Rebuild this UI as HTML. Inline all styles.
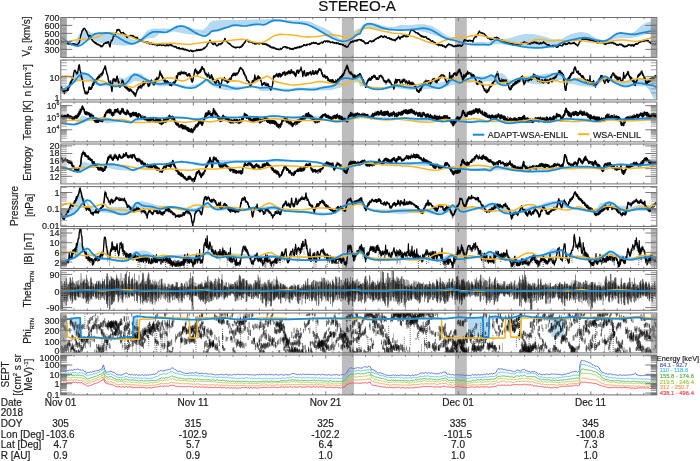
<!DOCTYPE html><html><head><meta charset="utf-8"><style>html,body{margin:0;padding:0;background:#fff;width:700px;height:461px;overflow:hidden}svg{display:block;will-change:transform}text{font-family:"Liberation Sans",sans-serif;stroke-width:0.18px}</style></head><body>
<svg width="700" height="461" viewBox="0 0 700 461">
<text x="357.1" y="11.4" font-size="15.2" text-anchor="middle" fill="#111" stroke="#111">STEREO-A</text>
<g clip-path="url(#c0)"><polygon points="60.0,36.4 67.1,40.7 74.3,43.6 78.6,35.0 82.9,29.3 87.1,30.0 91.4,32.9 97.1,33.1 102.9,33.1 110.0,32.9 117.1,33.6 124.3,35.0 131.4,39.3 137.1,40.0 141.4,37.9 145.7,32.1 150.0,29.3 154.3,28.6 160.0,28.6 167.1,28.6 170.7,29.3 174.3,27.1 177.9,25.7 181.4,25.3 188.6,27.1 195.7,29.3 202.9,30.0 207.1,26.4 210.0,22.1 214.3,20.4 224.3,20.0 231.4,20.0 238.6,20.0 245.7,20.0 254.3,19.6 260.0,19.3 267.1,19.3 274.3,19.3 288.6,20.0 302.9,20.7 310.0,21.4 317.1,25.0 324.3,27.9 331.4,32.1 338.6,37.9 342.1,39.3 345.7,38.6 352.9,32.1 357.1,29.3 360.0,28.6 362.9,24.3 367.1,22.9 374.3,23.3 381.4,25.3 388.6,27.1 395.7,26.4 399.3,25.0 402.9,25.0 410.0,25.3 417.1,24.3 424.3,24.3 431.4,25.7 438.6,30.0 445.7,35.0 452.9,37.9 458.6,39.3 460.0,41.4 467.1,42.9 474.3,42.1 481.4,42.1 488.6,42.1 495.7,39.3 502.9,39.3 510.0,37.9 517.1,35.7 524.3,34.0 531.4,34.0 538.6,35.0 545.7,37.1 552.9,39.3 558.6,40.0 560.0,40.7 563.6,37.9 567.1,35.7 570.7,34.3 574.3,33.3 577.9,32.6 581.4,32.1 585.0,32.4 588.6,33.6 592.1,35.7 595.7,37.9 599.3,39.0 602.9,40.0 606.4,39.3 610.0,37.9 613.6,35.0 617.1,32.9 624.3,33.3 631.4,32.9 635.0,31.4 638.6,27.9 642.1,25.0 645.7,22.9 649.3,21.4 652.9,22.9 657.1,23.6 657.1,32.1 652.9,32.9 645.7,34.3 638.6,36.4 631.4,37.9 624.3,37.9 617.1,38.6 610.0,40.7 602.9,41.9 595.7,41.0 588.6,40.0 581.4,39.3 574.3,40.7 567.1,42.1 560.0,45.0 558.6,45.7 552.9,47.1 545.7,48.1 538.6,48.6 531.4,48.1 524.3,47.1 517.1,46.1 510.0,45.0 502.9,44.3 495.7,44.3 488.6,45.3 481.4,45.3 474.3,45.3 467.1,45.0 460.0,43.6 458.6,42.1 452.9,41.0 445.7,39.3 438.6,36.4 431.4,34.3 424.3,32.1 417.1,30.7 410.0,30.7 402.9,30.7 395.7,30.7 388.6,30.3 381.4,29.7 374.3,29.3 367.1,28.6 362.9,30.0 360.0,32.9 358.6,34.3 352.9,37.9 345.7,41.4 342.1,41.7 338.6,40.7 331.4,37.9 324.3,34.0 317.1,29.7 310.0,26.1 302.9,23.9 295.7,23.1 288.6,22.4 281.4,21.4 274.3,21.4 267.1,24.3 260.0,25.0 257.1,25.0 252.9,25.7 245.7,26.4 238.6,26.4 231.4,27.1 224.3,29.3 217.1,32.1 211.4,32.1 208.6,34.3 205.7,36.4 202.9,35.7 195.7,35.0 188.6,34.3 181.4,32.9 174.3,31.4 167.1,32.9 160.0,33.6 154.3,37.9 150.0,37.9 145.7,39.3 141.4,41.4 137.1,43.6 131.4,45.0 124.3,45.7 117.1,45.0 110.0,44.3 102.9,43.6 97.1,42.1 92.9,40.0 88.6,39.3 82.9,42.1 78.6,45.7 74.3,45.7 67.1,42.1 60.0,37.1" fill="#b4d9f1"/></g>
<g clip-path="url(#c1)"><polygon points="60.0,88.7 67.1,86.6 74.3,73.7 80.0,71.6 85.0,72.3 90.0,74.4 94.3,78.7 98.6,82.3 102.9,82.6 110.0,83.4 115.7,78.7 120.0,77.3 124.3,78.7 130.0,74.9 134.3,73.0 141.4,73.7 145.7,78.0 151.4,80.9 158.6,81.6 160.0,81.6 167.1,81.6 174.3,83.7 181.4,85.1 188.6,85.9 195.7,84.4 202.9,81.6 205.7,79.4 210.0,81.6 217.1,82.3 224.3,83.7 231.4,85.9 238.6,86.6 245.7,85.9 252.9,85.9 258.6,86.6 260.0,86.6 267.1,86.6 274.3,88.0 288.6,88.7 300.0,87.3 302.9,88.0 317.1,87.3 324.3,85.9 331.4,85.1 338.6,82.3 344.3,79.4 352.9,78.0 358.6,76.6 360.0,78.0 364.3,82.3 368.6,85.9 374.3,87.3 381.4,87.3 388.6,85.9 395.7,84.4 402.9,85.1 410.0,85.9 417.1,85.9 424.3,83.0 431.4,82.3 438.6,83.0 445.7,80.9 451.4,78.7 458.6,80.9 460.0,81.6 467.1,78.0 474.3,76.6 481.4,76.6 488.6,75.9 494.3,76.6 498.6,73.7 501.4,73.0 504.3,74.4 508.6,79.4 512.9,80.1 517.1,79.4 524.3,78.0 531.4,75.1 538.6,75.1 545.7,73.7 552.9,73.0 558.6,73.7 560.0,73.7 564.3,78.0 568.6,80.9 574.3,78.0 581.4,79.4 588.6,80.9 595.7,81.6 599.3,76.6 602.9,75.1 607.1,75.9 610.0,78.0 617.1,80.1 624.3,80.9 631.4,79.4 638.6,78.0 645.7,78.0 651.4,78.0 657.1,79.4 657.1,98.7 653.6,98.7 650.0,90.9 645.7,86.6 638.6,85.9 631.4,85.9 624.3,86.6 617.1,84.4 610.0,81.6 607.1,79.4 602.9,80.9 599.3,83.7 595.7,87.3 588.6,86.6 581.4,85.9 574.3,84.4 568.6,83.7 564.3,82.3 560.0,79.4 558.6,80.9 552.9,82.3 545.7,83.7 538.6,84.4 531.4,83.7 524.3,81.6 517.1,83.0 512.9,83.7 508.6,85.1 502.9,84.4 497.1,83.0 494.3,82.3 488.6,80.9 481.4,82.3 474.3,82.3 467.1,83.0 460.0,83.7 458.6,84.4 451.4,85.1 445.7,87.3 438.6,88.7 431.4,88.7 424.3,89.4 417.1,89.4 410.0,90.1 402.9,89.1 395.7,88.0 388.6,88.7 381.4,89.7 374.3,89.7 368.6,88.0 364.3,85.9 360.0,86.6 358.6,82.3 352.9,83.0 344.3,86.6 338.6,88.0 331.4,90.1 324.3,90.6 317.1,90.6 302.9,90.6 288.6,91.1 274.3,90.6 267.1,91.1 260.0,91.1 258.6,88.3 252.9,87.3 245.7,88.0 238.6,89.7 231.4,90.6 224.3,90.1 217.1,88.0 210.0,84.4 207.1,81.6 202.9,83.7 195.7,87.3 188.6,88.0 181.4,87.3 174.3,85.9 167.1,85.9 160.0,86.6 158.6,85.9 151.4,83.7 145.7,82.6 141.4,81.6 134.3,80.9 130.0,83.7 124.3,86.6 117.1,87.3 110.0,86.6 102.9,85.9 98.6,85.9 94.3,84.4 90.0,80.9 85.0,79.4 80.0,80.9 74.3,83.0 67.1,88.7 60.0,91.6" fill="#b4d9f1"/></g>
<g clip-path="url(#c2)"><polygon points="60.0,122.6 74.3,123.6 78.6,120.0 81.4,115.7 84.3,115.7 88.6,117.9 95.7,117.9 102.9,118.6 107.1,117.9 112.9,119.3 120.0,120.4 131.4,121.4 135.7,118.6 145.7,117.9 158.6,117.4 160.0,117.4 188.6,117.4 195.7,117.9 202.9,116.9 210.0,116.4 258.6,116.0 360.0,116.0 402.9,117.9 417.1,118.3 431.4,118.6 445.7,120.0 458.6,119.7 460.0,120.7 488.6,120.0 495.7,118.3 502.9,120.0 517.1,118.6 524.3,118.9 531.4,119.3 558.6,118.6 560.0,118.6 574.3,117.9 588.6,118.6 602.9,118.3 617.1,117.9 631.4,117.4 645.7,116.9 657.1,117.1 657.1,119.7 645.7,119.7 631.4,120.0 617.1,120.0 602.9,120.7 588.6,121.4 574.3,120.3 560.0,120.7 558.6,120.3 531.4,122.1 517.1,123.6 502.9,123.1 495.7,120.7 488.6,122.1 460.0,122.1 458.6,121.0 445.7,121.7 431.4,121.1 417.1,121.7 402.9,118.6 360.0,117.4 258.6,117.4 210.0,118.0 202.9,119.4 195.7,120.3 188.6,119.1 160.0,119.1 158.6,119.3 145.7,120.0 135.7,121.4 131.4,123.1 120.0,122.1 112.9,122.6 107.1,123.6 102.9,122.1 95.7,120.7 88.6,121.1 82.9,122.9 78.6,124.3 74.3,125.0 60.0,123.6" fill="#b4d9f1"/></g>
<g clip-path="url(#c3)"><polygon points="60.0,166.3 74.3,170.6 78.6,167.0 81.4,162.7 85.0,162.0 90.0,163.4 94.3,164.9 100.0,164.6 105.7,164.9 110.0,164.1 117.1,164.9 124.3,166.6 131.4,169.1 138.6,167.7 158.6,164.1 160.0,163.4 174.3,162.0 181.4,161.3 195.7,162.0 202.9,163.4 210.0,160.6 217.1,159.9 231.4,160.3 245.7,160.3 258.6,159.9 260.0,159.9 302.9,160.3 317.1,161.3 324.3,162.7 338.6,167.4 358.6,164.1 360.0,164.1 395.7,162.9 410.0,162.6 424.3,162.3 438.6,164.9 458.6,168.4 460.0,168.0 488.6,167.7 497.1,165.6 510.0,167.0 524.3,164.9 534.3,165.6 545.7,167.7 558.6,167.7 560.0,167.4 602.9,167.1 617.1,163.4 638.6,164.1 645.7,160.6 657.1,160.6 657.1,165.1 645.7,166.0 638.6,166.3 617.1,165.6 602.9,169.1 560.0,169.4 558.6,169.9 545.7,172.0 534.3,172.3 524.3,172.7 510.0,170.6 497.1,169.9 488.6,171.3 460.0,170.3 458.6,169.1 438.6,166.0 424.3,166.0 410.0,165.1 395.7,164.3 360.0,165.1 358.6,165.6 338.6,169.1 324.3,164.9 317.1,163.1 302.9,161.7 260.0,162.0 258.6,162.0 245.7,162.4 231.4,162.7 217.1,164.1 210.0,164.1 202.9,165.6 195.7,164.9 181.4,162.7 174.3,163.4 160.0,164.9 158.6,164.9 138.6,168.9 131.4,170.6 124.3,170.6 117.1,169.9 110.0,168.4 105.7,167.7 100.0,165.6 94.3,167.7 90.0,167.7 85.0,169.1 78.6,172.0 74.3,172.0 60.0,167.1" fill="#b4d9f1"/></g>
<g clip-path="url(#c4)"><polygon points="60.0,211.1 67.1,214.0 74.3,200.4 78.6,194.7 81.4,194.0 85.7,199.7 90.0,205.4 95.7,209.7 102.9,208.3 110.0,206.9 117.1,206.9 124.3,206.9 131.4,205.4 135.7,202.6 141.4,201.1 145.7,201.9 152.9,204.0 158.6,205.4 160.0,205.4 167.1,206.1 174.3,206.9 181.4,207.6 188.6,207.6 195.7,208.3 202.9,204.0 207.9,201.9 211.4,205.4 217.1,207.6 224.3,206.9 231.4,207.1 238.6,208.3 245.7,208.3 252.9,207.1 258.6,207.6 260.0,206.9 274.3,205.4 281.4,209.4 295.7,210.4 310.0,211.1 324.3,212.6 331.4,211.9 338.6,208.3 345.7,203.3 352.9,201.1 358.6,201.1 360.0,201.1 367.1,206.9 374.3,209.0 388.6,209.4 402.9,208.3 417.1,209.0 424.3,208.6 431.4,208.3 438.6,210.4 445.7,208.3 452.6,204.0 458.6,205.4 460.0,209.0 474.3,207.6 488.6,204.0 495.7,202.6 502.9,206.9 510.0,209.0 517.1,210.4 524.3,208.3 531.4,206.1 538.6,205.4 545.7,202.6 552.9,201.1 558.6,200.4 560.0,199.7 567.1,204.7 574.3,207.6 588.6,209.4 595.7,210.4 600.0,203.3 602.9,202.6 609.3,201.1 617.1,205.4 624.3,206.1 631.4,207.6 638.6,204.7 645.7,204.7 652.9,206.9 657.1,209.0 657.1,211.9 652.9,210.4 645.7,211.1 638.6,211.1 631.4,211.1 624.3,211.9 617.1,209.7 609.3,205.4 602.9,208.3 600.0,211.1 595.7,212.6 588.6,211.9 574.3,209.7 567.1,208.3 560.0,207.6 558.6,204.0 552.9,206.9 545.7,208.3 538.6,209.7 531.4,210.4 524.3,212.6 517.1,214.0 510.0,214.7 502.9,212.6 495.7,207.6 488.6,207.6 474.3,210.4 460.0,212.6 458.6,212.6 452.6,212.6 445.7,213.3 438.6,215.1 431.4,214.0 424.3,211.9 417.1,212.6 402.9,214.0 388.6,213.3 374.3,211.9 367.1,209.7 360.0,204.0 358.6,204.7 352.9,205.4 345.7,206.9 338.6,212.6 331.4,214.7 324.3,215.1 310.0,213.7 295.7,212.6 281.4,211.4 274.3,209.7 260.0,210.4 258.6,210.4 252.9,209.7 245.7,211.1 238.6,211.1 231.4,210.0 224.3,210.4 217.1,211.1 211.4,209.0 207.9,205.4 202.9,209.0 195.7,211.9 188.6,211.4 181.4,210.0 174.3,209.0 167.1,209.0 160.0,210.4 158.6,210.4 152.9,209.7 145.7,209.7 141.4,209.7 135.7,209.0 131.4,212.6 124.3,214.7 117.1,214.7 110.0,213.3 102.9,212.6 95.7,211.9 90.0,209.7 85.7,203.3 81.4,206.9 74.3,214.7 67.1,218.3 60.0,214.7" fill="#b4d9f1"/></g>
<g clip-path="url(#c5)"><polygon points="60.0,260.3 67.1,259.6 74.3,248.9 78.6,241.7 81.4,243.1 85.7,248.9 88.6,251.7 94.3,255.3 102.9,257.7 117.1,259.6 128.6,255.3 132.9,251.7 135.7,251.0 140.0,251.0 142.9,250.3 147.1,251.0 152.9,253.9 158.6,256.7 160.0,255.3 202.9,253.9 207.1,251.0 211.4,251.7 258.6,255.3 260.0,256.0 274.3,255.3 302.9,258.9 331.4,258.1 338.6,255.3 345.7,251.7 358.6,251.7 360.0,249.6 367.1,256.0 374.3,257.7 402.9,257.4 424.3,256.7 438.6,258.1 451.4,253.9 458.6,257.4 460.0,258.1 481.4,256.0 488.6,251.0 495.7,253.9 502.9,258.1 510.0,258.9 517.1,258.9 524.3,258.1 531.4,255.3 538.6,255.3 545.7,253.1 552.9,248.1 558.6,250.3 560.0,248.9 574.3,255.3 595.7,257.4 602.9,253.9 609.3,250.3 617.1,253.9 631.4,257.4 645.7,255.3 657.1,256.0 657.1,259.6 645.7,258.9 631.4,261.0 617.1,257.4 609.3,253.9 602.9,258.1 595.7,261.0 574.3,258.1 560.0,251.7 558.6,253.1 552.9,255.3 545.7,257.4 538.6,258.1 531.4,259.6 524.3,261.4 517.1,261.7 510.0,261.0 502.9,260.3 495.7,256.7 488.6,256.7 481.4,258.1 460.0,260.3 458.6,260.3 451.4,258.1 438.6,261.7 424.3,259.6 402.9,260.3 374.3,261.0 367.1,258.9 360.0,252.4 358.6,255.3 345.7,255.3 338.6,258.1 331.4,260.3 302.9,261.0 274.3,258.1 260.0,258.9 258.6,258.1 211.4,256.7 207.1,254.6 202.9,256.7 160.0,258.9 158.6,258.9 152.9,257.4 147.1,256.7 140.0,256.7 135.7,256.0 132.9,257.4 128.6,260.3 117.1,261.4 102.9,259.6 94.3,258.1 88.6,254.6 85.7,253.1 81.4,253.1 78.6,256.7 74.3,258.9 67.1,261.4 60.0,261.7" fill="#b4d9f1"/></g>
<g clip-path="url(#c6)"></g>
<g clip-path="url(#c7)"><polygon points="69.3,319.3 80.0,318.0 80.7,337.0 75.7,337.0" fill="#b4d9f1"/><polygon points="133.0,317.0 138.6,317.0 138.6,338.6 133.0,337.0" fill="#b4d9f1"/><polygon points="467.9,318.6 489.0,318.0 489.0,337.0 483.0,337.0 482.9,336.4 467.9,336.4" fill="#b4d9f1"/><polygon points="551.4,318.6 564.3,318.6 564.3,337.0 551.4,337.0" fill="#b4d9f1"/><polygon points="489.0,316.4 507.0,316.4 507.0,319.5 489.0,319.5" fill="#b4d9f1"/></g>
<g clip-path="url(#c8)"></g>
<rect x="341.9" y="17.5" width="12.0" height="377.4" fill="#bdbdbf"/>
<rect x="455.0" y="17.5" width="11.8" height="377.4" fill="#bdbdbf"/>
<g clip-path="url(#c0)"><path d="M60 41.5l.4-.6.4-.4.4 1.7.4.3.4-.5.4.3.4-.8.4 1.2.4-.8.4-.2.4 1.3.4-.6.4.5.4.1.4-.6.4.1.4 0 .4 0 .4.8.4.9.4-1.4.4.9.4 0 .4.3.4-.7.4.9.4-.4.4.5.4.2.4-.4.4-.4.4-.3.4 1 .4-.9.4.5.4-.4.4 1.2.4-.6.4.3.4.6.4-.1.4-.5.4.8.4-1.2.4 0 .4-1.2.4.7.4-.9.4-1.1.4-2.9.4-1.3.4-2.1.4-1.2.4-.7.4-2.6.4-.9.4.8.4-1.8.4.6.4-1.4.4.4.4.1.4.5.4 1.3.4.1.4 1.3.4.3.4 1.4.4 1.1.4.3.4 1.5.4.4.4-1 .4-.5.4-.1.4 1.6.4.6.4 1.2.4 1.1.4.1.4 1 .4.1.4.4.4-.1.4 1 .4.5.4-.8.4 1.5.4-.8.4.1.4 1.4.4.1.4.4.4-.3.4-.4.4.8.4-.3.4.6.4-.2.4 1 .4-.5.4 1.5.4-.3.4-.6.4 1 .4-1.5.4.4.4-1 .4-.1.4-1.1.4-.3.4.1.4-.1.4-1 .4.5.4-.5.4 1 .4-.5.4-.1.4-1.2.4.2.4.6.4 2.8.4.9.4 1.1.4-2.3.4-2.7.4-1 .4-.9.4.2.4-.4.4-1.1.4-2.2.4-.6.4-.9.4.7.4-.5.4-.4.4-1.8.4-.7.4-.4.4-.7.4-1.9.4.8.4-.9.4.6.4.3.4-.3.4 1 .4-.4.4 1.2.4 1.1.4.8.4-1 .4-.1.4-.1.4.3.4-.5.4.3.4 1.1.4.2.4 1 .4 0 .4-.7.4 2 .4.1.4 1.3.4-.3.4-.2.4-.8.4.1.4-.2.4.2.4-.5.4-.3.4.1.4-.3.4.1.4.4.4-.7.4.5.4.7.4-.6.4.6.4.1.4.5.4.3.4.3.4-.5.4.5.4.7.4-1.1.4.1.4 1.7.4-.1.4 1 .4-.1.4.6.4-.9.4.8.4-.4.4 1.2.4-.8.4 0 .4 1.2.4-.7.4.7.4.2.4-.3.4 0 .4.1.4 0 .4.9.4-.1.4 0 .4.5.4-.8.4-.1.4 0 .4.1.4 1.6.4.1.4-.4.4.6.4-.7.4 0 .4.2.4-.6.4 1.2.4-.6.4.7.4.5.4-1 .4.5.4.4.4.3.4-.1.4-.5.4.5.4-.5.4.6.4.8.4.1.4-1.3.4.6.4.1.4-.8.4 1.2.4-1.2.4-.1.4.6.4.1.4.4.4.2.4-.7.4.6.4-.1.4 0 .4.1.4-.2.4-.1.4.9.4-.3.4-.1.4.3.4-.4.4-.9.4.2.4.9.4-.7.4.9.4-.4.4-.6.4.2.4-.8.4.6.4-.5.4.4.4 1.2.4-1.1.4.9.4.1.4.3.4.4.4.3.4-.6.4.2.4-.1.4.9.4-.5.4.1.4 1.4.4-.4.4.3.4-.3.4-.4.4 1.3.4-.3.4-.9.4 1.5.4-.6.4.2.4-.2.4.1.4.7.4-.8.4-.3.4.6.4 1.1.4-1.2.4.8.4.5.4-.4.4.2.4 0 .4-.3.4.2.4 1 .4-.2.4-.1.4-.2.4.9.4 0 .4.3.4-.6.4-.2.4-.3.4.2.4 1 .4-1.1.4 1.3.4-.6.4.4.4-.6.4.3.4-.4.4.3.4-.5.4.2.4.1.4-.8.4-.5.4.9.4.2.4-.1.4-1.2.4 1 .4-.5.4.1.4-.7.4.9.4-.8.4.7.4-.7.4.7.4-.6.4-.7.4 0 .4-.7.4.1.4.5.4-.3.4-1.2.4-.1.4-.3.4-.6.4.1.4-2 .4-.5.4.1.4-1 .4-.6.4-.1.4-1.4.4-.8.4 2.1.4-.5.4.3.4.4.4 1.4.4 0 .4.3.4.7.4-.5.4-.7.4.1.4-.8.4 1.7.4-1.1.4 1.3.4.9.4.4.4 0 .4-.1.4-.9.4-1.1.4 1.1.4-1.2.4.4.4 0 .4-.1.4-.5.4-.3.4.7.4-1.2.4.1.4-.7.4-1 .4-.5.4.5.4-.8.4-2 .4.1.4 2 .4.6.4-.3.4.9.4.4.4.3.4.5.4.6.4.2.4.3.4-.7.4.6.4.9.4.4.4 0 .4.7.4.6.4-.1.4.5.4-.6.4.9.4-.3.4.6.4 0 .4-.4.4.9.4.1.4-.5.4-.6.4.4.4-.3.4-.1.4.3.4.2.4.3.4-.5.4-.7.4.9.4-.1.4-.3.4-.9.4.3.4-1.6.4.6.4-1.3.4-.4.4-.9.4.5.4-.7.4-.6.4-1.1.4-1 .4.2.4-.5.4.5.4-.3.4.5.4 1.2.4.1.4.2.4-.1.4-.1.4-.1.4.2.4.6.4-.7.4.7.4.2.4.5.4-.9.4.8.4.1.4.9.4-.4.4-.2.4.4.4.1.4 0 .4-.3.4-.3.4.4.4-1 .4 1.1.4-1 .4 1.3.4-.7.4.3.4-.5.4-.3.4.4.4-.5.4.5.4.8.4-.4.4.6.4-.2.4.2.4.1.4-.8.4-.1.4.6.4-.3.4 1.1.4-.8.4.9.4.7.4.1.4-.9.4.2.4 1.6.4-1.2.4 1.3.4.4.4-.8.4.8.4.1.4.7.4-.9.4.5.4-.2.4.4.4.6.4-.2.4-.7.4.5.4.7.4.6.4-.5.4.6.4-.2.4 0 .4 0 .4 0 .4.6.4-.8.4.1.4-.1.4-.3.4-.5.4 1.1.4-.3.4-.4.4-.5.4-.7.4.1.4-.2.4-.1.4-.6.4.2.4-.3.4 0 .4 1.4.4-.8.4.5.4.7.4-1.1.4.7.4-.1.4.1.4.4.4.4.4.6.4-.4.4-.5.4.7.4-.1.4-.5.4 1 .4-1.2.4 1.3.4-.9.4.1.4-1 .4-.1.4.8.4-1 .4.8.4-.1.4-1 .4.5.4-.6.4.8.4-.3.4 0 .4-.9.4 1 .4-1.5.4.8.4-.5.4.3.4.2.4-1.3.4.8.4 0 .4-.5.4-1.4.4-.1.4 1 .4-.4.4-.3.4.5.4.2.4-.3.4-1 .4.7.4-.5.4.1.4-.1.4 0 .4.4.4-1.2.4.1.4.2.4.4.4-1.3.4.1.4-.4.4.6.4-.3.4-.2.4-.6.4 1.1.4 0 .4-.2.4.3.4-.7.4 0 .4.6.4.3.4.1.4.4.4-.6.4.6.4.1.4-.8.4.4.4-.3.4 0 .4-.6.4-.3.4-.4.4-.2.4 1.2.4-.8.4.4.4-1.4.4-.1.4-.2.4-.2.4.7.4.6.4-.8.4-.4.4.2.4-.5.4.6.4.7.4-.1.4-1 .4.1.4 1 .4-.6.4 1 .4.3.4-.5.4.1.4.2.4-.7.4 1 .4.1.4-.7.4.9.4-.7.4.3.4.8.4-.5.4-.3.4-.2.4 1.3.4-.9.4.3.4 0 .4.2.4.1.4.9.4-.3.4-.6.4 1.2.4-.4.4-.1.4-.1.4.4.4.8.4-1 .4.4.4.3.4.9.4 0 .4.2.4-.8.4.7.4 1.1.4-.5.4.4.4-.4.4.2.4-.1.4-1.2.4-.5.4-1 .4-.2.4-.6.4-.6.4-1 .4.3.4.4.4-.7.4-.6.4.4.4-.1.4.2.4.2.4-1.4.4.3.4-.2.4-.2.4 1.1.4-.6.4-.8.4 1.2.4-.3.4-.9.4-.2.4.3.4-.4.4-.2.4.6.4-.4.4.5.4.6.4-1.2.4 1.6.4.3.4.1.4-.8.4.3.4.3.4.9.4 1 .4.5.4-1 .4 1.2.4-1 .4 0 .4-.2.4.9.4-1 .4.7.4-1.4.4-.2.4-.4.4-.2.4-.2.4.1.4.6.4-.4.4.7.4-.8.4.3.4-1 .4.9.4-.7.4-1 .4.4.4-1.1.4.2.4.1.4-.1.4-.4.4-.8.4-.2.4.7.4-.2.4-.5.4-1 .4.1.4.6.4-1.4.4.9.4-.7.4.2.4-.4.4.5.4.9.4-.3.4.2.4-1.2.4-.2.4.4.4.6.4-.2.4.5.4-.8.4 1.5.4-.1.4.2.4.5.4 0 .4-1 .4.4.4.6.4.8.4-.9.4.2.4 1 .4-.9.4 1.3.4-.6.4.8.4-.4.4.3.4.3.4-.8.4.7.4.6.4-.6.4-1.2.4.5.4-.3.4-1.6.4.8.4-1.2.4-.4.4-.2.4.3.4 1.3.4 1.1.4-1.1.4-1.2.4.4.4-.7.4.5.4-1 .4.7.4-.3.4-1.5.4.8.4-.6.4 0 .4.7.4.6.4-.1.4-1.1.4 1.1.4.2.4-.9.4.6.4-.1.4-1.7.4-.3.4-.4.4-1.9.4-.6.4-1 .4.2.4-.5.4-.4.4 0 .4.7.4-.4.4-.1.4.9.4.2.4.7.4-.1.4 1.1.4-.2.4-.1.4 0 .4.4.4.9.4-.4.4-.2.4 1.3.4-.2.4.3.4 1 .4-.6.4.5.4.3.4 1 .4-1.2.4 1.4.4 0 .4-.8.4 1 .4.2.4 0 .4-.6.4.3.4-.4.4 0 .4 1.1.4.7.4-.3.4.1.4.6.4-.4.4 1 .4-.3.4.1.4.1.4 1.3.4.1.4.1.4.4.4.1.4 0 .4-.7.4 1.1.4.4.4.3.4.2.4.2.4-.1.4.3.4.7.4.6.4-.7.4 1 .4-.4.4.2.4.1.4 1.2.4-1.2.4.5.4-.2.4.4.4.4.4-.9.4.6.4-.6.4 1.6.4-1.4.4.4.4.6.4.2.4-.3.4 1.1.4-.3.4 1.1.4-1.3.4-.7.4 1 .4-1.9.4.4.4-.8.4.6.4-1.3.4.3.4.7.4-.1.4-.2.4-.1.4.5.4.2.4.9.4-.7.4-.2.4 1.4.4.1.4 0 .4-.9.4.7.4-.4.4-.3.4.9.4-.3.4 0 .4-1.1.4-.1.4 1.3.4-.4.4-1.1.4.5.4.4.4-.7.4 1 .4-.2.4.4.4 0 .4-1 .4.2.4-1 .4-1.3.4-1.7.4-.9.4-1.1.4 1.2.4-.7.4-.1.4.2.4.2.4.2.4.7.4-.3.4-.5.4 1.1.4-.7.4-.8.4.5.4.1.4-.3.4 1 .4-.6.4-.1.4 0 .4.1.4 1.5.4-1.1.4-1.6.4-1 .4-.9.4-.3.4-.7.4.1.4.2.4-1.2.4-.6.4.5.4-1.6.4.3.4-1.5.4-.9.4 0 .4-.8.4 1.4.4.4.4.1.4-.1.4-.2.4.7.4-.5.4 1 .4-.6.4 0 .4.4.4.6.4-.1.4 1 .4 1.2.4.1.4-.6.4 1.6.4-.3.4 0 .4 1.3.4-1 .4.6.4-.4.4 1.6.4-1.1.4.4.4 1.2.4.1.4-.3.4-.9.4.8.4-.8.4-.1.4.2.4-.6.4-.7.4.1.4.5.4.4.4-.8.4-.4.4-.2.4 1.3.4-.2.4-.6.4.4.4.6.4.6.4 0 .4.8.4-.4.4.7.4.1.4-.2.4 0 .4 0 .4.2.4.7.4.4.4.1.4-.6.4.8.4-.1.4.3.4 1 .4.3.4-.6.4.8.4-.6.4.3.4.4.4-.7.4-.1.4.7.4-.4.4 1.4.4-.6.4.2.4-.5.4-.1.4 1.2.4.3.4-.8.4-.4.4 1.4.4-.7.4 0 .4.8.4-.4.4-.6.4.2.4.5.4-.2.4-.3.4.3.4.2.4 0 .4-.1.4-1.3.4 1 .4.2.4.1.4-1.7.4 1 .4-.4.4-.4.4.1.4-1.4.4.6.4-.7.4 0 .4-.1.4 1.1.4-.1.4-.6.4.3.4.4.4.2.4-.5.4.9.4.4.4 0 .4-.6.4 0 .4.7.4-1 .4-.3.4.2.4-.7.4.6.4-.1.4 0 .4-.5.4.8.4-.6.4-.3.4-.1.4.6.4-.7.4 1 .4.4.4-.3.4-.8.4 1 .4.5.4 0 .4.2.4-.1.4-.7.4.5.4-.2.4-.8.4 1.1.4-.8.4.1.4.2.4-.8.4.5.4-1.3.4.4.4.9.4.4.4.2.4-.3.4.8.4.6.4-.1.4.1.4-.1.4.5.4-.5.4.2.4 1.1.4-.7.4 1 .4.1.4-.1.4.2.4-.1.4.3.4-1.2.4.4.4 1 .4-1.3.4.4.4.5.4-.4.4-.7.4.1.4 1.8.4-.3.4-.2.4.6.4-1.2.4.7.4 0 .4-1.1.4-.3.4-.1.4-.6.4.8.4.1.4.1.4.1.4-.2.4-.2.4-1.1.4.3.4-.2.4-1.3.4 1 .4-1 .4.7.4.9.4-1.2.4.4.4.4.4.1.4-.3.4-1 .4-.9.4.8.4.4.4-.8.4 1.2.4-.8.4.9.4-.1.4-.7.4.5.4-.2.4-.7.4.7.4-1.1.4 1.1.4-1.1.4 1.2.4.9.4-.9.4.3.4.7.4 0 .4 1 .4.7.4-.7.4-.9.4-.1.4-2 .4-.2.4-.8.4-.6.4.1.4-.2.4-1.3.4.3.4-.6.4-.6.4.5.4 0 .4-.3.4.7.4-.1.4-.7.4.5.4-.7.4 1.3.4-1 .4.2.4.4.4.2.4 0 .4-.4.4-.1.4.1.4 1.4.4 0 .4-1.1.4.6.4.7.4-.5.4.3.4.4.4-.6.4.1.4 1 .4.2.4-.3.4.7.4-.4.4.3.4.1.4-.4.4 1 .4-.4.4.9.4 0 .4-1.4.4.9.4-1 .4 1.2.4-.4.4.1.4-.6.4.6.4.2.4-.9.4.6.4 1.3.4-.6.4 0 .4.1.4.7.4-.6.4 1.2.4-.5.4-.2.4-.5.4-.3.4-.1.4.1.4.1.4-.3.4.1.4-.4.4.3.4-.3.4-.6.4 1.1.4 0 .4-.6.4-.6.4.1.4 1.8.4-.1.4 0 .4-.6.4.5.4-.3.4 1.2.4-.4.4 1 .4-.7.4 0 .4-.1.4.9.4-.1.4.3.4-1.2.4-.1.4.4.4-.1.4-.2.4.1.4.1.4 0 .4 1.5.4 0 .4-.7.4 1.5.4-.6.4.2.4-.1.4.5.4-.8.4 0 .4.7.4-.7.4.5.4-.4.4-.4.4-.9.4.6.4-.3.4-.2.4 0 .4.8.4.1.4-.8.4.9.4-1 .4.2.4-.2.4 1.1.4.3.4-1.5.4 1.1.4-1.2.4-.5.4 0 .4.5.4-1.3.4 1 .4-.6.4.4.4-.5.4 0 .4-.9.4-.5.4.3.4-.2.4-.2.4-.7.4.5.4-1.1.4.1.4.4.4-.2.4-.8.4.8.4.4.4-1.3.4.6.4-.7.4.4.4.2.4-.1.4-.1.4-.1.4.3.4.8.4-.9.4 1.2.4.3.4-.6.4 1.2.4-.4.4 1.2.4.1.4-.5.4.5.4-.1.4.3.4.1.4.2.4.4.4.3.4.2.4-.8.4-.9.4.4.4-.6.4.5" fill="none" stroke="#000" stroke-width="1.2" stroke-linejoin="round"/><path d="M60 40.7l.5-.8.5.4.5 2.1.5-.8.5-.3.5 1.9.5-1.3.5-.3.5-.1.5.2.5.5.5.2.5 1.8.5-1.8.5.4.5-.5.5 2.2.5 0 .5-1.6.5 1.5.5-.4.5 1 .5 0 .5.2.5-1.4.5-.4.5.4.5.6.5-.6.5.8.5.8.5-1.1.5 1.4.5-.5.5-.4.5-1.3.5-.4.5-1.4.5-.2.5-1.2.5-3.5.5-1.3.5-2.4.5-1.4.5-.9.5-1.3.5-.2.5-1 .5-.1.5 1.3.5-.4.5 1.1.5.6.5 1.1.5 2 .5.1.5 3.3.5-.2.5-.3.5-.9.5 2.1.5-.7.5 2.8.5-.9.5 0 .5 2.6.5-.9.5 2 .5.3.5.3.5.2.5-.2.5-.8.5 1.7.5-.6.5 1.9.5-1.1.5-.2.5 1.8.5-.9.5-.2.5 1.5.5-.8.5-.1.5.1.5-.1.5.3.5-3 .5 1.3.5-.3.5-1.6.5 1 .5.1.5-1.7.5 1.2.5-1.8.5.4.5 2 .5 1.2.5 2.2.5-3.3.5-2.5.5-1.4.5 1.6.5-2.6.5.2.5-3.3.5.4.5.5.5-1.5.5-1.4.5-1.8.5-.1.5-2.6.5 1.8.5-2.1.5.1.5.5.5-.3.5 2.6.5.5.5 1.1.5 1 .5-1.9.5.1.5.9.5-.3.5.8.5.2.5 1.1.5-1.3.5 1.3.5.9.5.5.5.9.5-1.4.5.8.5.2.5-1.1.5.8.5-2.1.5 1.3.5-.5.5.8.5-.5.5-.2.5-.1.5 1.3.5.4.5 0 .5 1.4.5 0 .5-1.3.5 1.1.5-1.3.5 1.8.5 1.1.5-.8.5-.1.5 1.1.5-.6.5 1.7.5.2.5 0 .5.4.5-.7.5.3.5 1.1.5-.1.5-1 .5 0 .5 1.6.5-1.7.5 1.6.5-1.2.5 1.3.5-1.4.5 1.8.5-.8.5 1.5.5-.7.5 1 .5-.7.5.3.5.3.5-1 .5.5.5-.4.5.8.5-1.1.5.9.5 1.5.5-.3.5.6.5-.2.5.2.5-1 .5-.5.5-.7.5.2.5 1.2.5.4.5.2.5.3.5-.7.5.3.5-1.5.5.9.5.7.5-.6.5-.5.5-.4.5.1.5 1.7.5-1.1.5.8.5-.4.5.3.5.5.5-1.4.5 1.3.5-2 .5 1.6.5.2.5-.8.5 1 .5.2.5.2.5 1.1.5-.5.5-1.2.5.4.5.3.5.3.5.5.5.7.5.7.5-1.6.5 1.2.5 1 .5-.9.5.6.5.4.5-1.8.5 1.3.5 1 .5-.6.5-.5.5 1.1.5.2.5-1.7.5.7.5 1.3.5-1.6.5 1.4.5.9.5-.2.5-.4.5.2.5-.2.5-1 .5 1.4.5-1.1.5 1.6.5.5.5-.1.5-.1.5-1.6.5.8.5-.1.5 0 .5-1.7.5 0 .5.4.5.1.5.4.5-.3.5-.7.5 2 .5-2.1.5.5.5.1.5-.5.5.1.5.1.5.2.5 0 .5-2.1.5-.1.5-.3.5.6.5-.3.5-.7.5-2.5.5.5.5-.2.5-1.7.5-1.1.5 1 .5-2.4.5.8.5.6.5 1.6.5-.9.5 1.7.5.9.5-2.3.5.9.5-.6.5 1.7.5.1.5.8.5.6.5-.3.5-1.2.5-.1.5-.4.5.4.5-.9.5 1.7.5-.4.5-.2.5-.9.5.1.5-1 .5-1.2.5-1.2.5.8.5-2.8.5 1.1.5.7.5.4.5.5.5 1.1.5-.2.5.1.5.6.5.1.5.9.5 1 .5-1.1.5 1.2.5.3.5.1.5 1 .5.1.5.9.5.6.5.2.5-1 .5.1.5.4.5-.2.5-.1.5-.2.5.8.5-1.1.5.7.5.4.5-1.5.5-.3.5-.5.5-.2.5 1.4.5-1 .5-2.1.5 1.8.5-2.1.5-1.8.5 1.1.5-2.7.5 1.4.5-1.2.5.9.5 0 .5-.1.5 1.5.5 0 .5-.6.5-1.1.5 1.7.5-1.1.5.1.5.6.5 1.3.5.3.5-.9.5 1 .5.5.5-.5.5.7.5-1.6.5 1.2.5-.7.5-.2.5.1.5 0 .5-1.1.5 1.9.5-.9.5-1 .5.4.5 1.5.5-1.4.5 1.6.5.2.5-1.2.5-.4.5 1.2.5.7.5-.4.5.9.5-.1.5-.4.5-.7.5 1 .5.5.5-.7.5.5.5 2 .5-1.6.5 1.8.5.3.5.5.5 0 .5-1.5.5-.1.5 1 .5 1.3.5-.9.5.2.5.3.5-.1.5.6.5.6.5-1.8.5 1.6.5.4.5-.3.5.7.5-1.7.5 1.1.5-1 .5.3.5-2 .5-.4.5-.5.5.7.5-.3.5-.6.5 2.1.5-.7.5-.7.5.1.5.4.5-.1.5.5.5 1 .5-1.3.5.7.5 0 .5 1.8.5-.4.5.6.5-.9.5-.4.5.7.5-.4.5-.4.5.5.5-1.5.5.7.5.3.5-1 .5.2.5-1.6.5 1.7.5-.6.5-.6.5 1.4.5-1 .5.1.5-.5.5-.1.5-.2.5-.1.5-.7.5-.3.5-.4.5 1 .5.2.5-.4.5-.9.5 1.4.5-2.2.5-.1.5.3.5 0 .5 1 .5-1.1.5 1 .5-.5.5-2.2.5.4.5.3.5-.4.5.4.5.1.5.2.5-1.3.5 1.9.5-2.1.5 1.8.5-.1.5.4.5 1.1.5-1.7.5 1.5.5-2.3.5 1.7.5-1 .5-.3.5-1.2.5 1 .5-.4.5.1.5-.2.5-.8.5-.6.5.5.5 0 .5-1.1.5 1.5.5-.7.5 1.2.5.3.5-2 .5.8.5 1 .5-.4.5 1 .5 0 .5-.9.5-.5.5.2.5.4.5.3.5.7.5-.6.5.3.5-.2.5-.1.5.3.5 1.3.5-.5.5-1.2.5 0 .5 2.2.5-.9.5.3.5-.4.5-.3.5.9.5.4.5 1.1.5-1.8.5.4.5 1.6.5.5.5-.8.5 1.1.5.5.5-1 .5.8.5 0 .5-.9.5-1.2.5-.5.5-1.1.5.5.5-1.4.5-1.1.5.7.5-.3.5.8.5-1.9.5 1.8.5-1.1.5-1.2.5.9.5-.1.5.1.5-.9.5.3.5-1.2.5.3.5.5.5-.7.5-.3.5.8.5-.9.5 1.8.5-1.2.5.8.5.1.5-.3.5 2.2.5.4.5-.9.5 1.7.5 0 .5 0 .5.4.5-.6.5-.4.5-1.1.5-.2.5-.3.5-.3.5-.1.5-.8.5 1.3.5.8.5-1.7.5.7.5 0 .5-1.2.5 1.2.5-.1.5-1.8.5 0 .5-1.2.5 0 .5.4.5.6.5-1.9.5-.5.5 1.5.5-1 .5 0 .5-1.1.5-.9.5.7.5-.2.5 1.7.5.3.5 0 .5-1.7.5 1.2.5-1.8.5 2 .5-1.2.5 1.1.5.2.5 1.3.5-1.4.5.9.5-.3.5-.8.5 2.4.5-1 .5-.4.5 1.4.5.5.5-.9.5-.4.5.1.5.8.5.6.5.4.5-1.6.5-.8.5.6.5.1.5-1.6.5.8.5-2.8.5 1.4.5.4.5.5.5.1.5-1.4.5 1.1.5-1.9.5.1.5.9.5.4.5-1.4.5-.8.5 1.9.5.2.5.2.5-2 .5.7.5.9.5 0 .5-2.2.5.8.5-1.3.5-1.7.5-1.2.5-1.4.5-.9.5 1.2.5.4.5.6.5.4.5.3.5 0 .5.8.5-.5.5.8.5 0 .5 0 .5-.5.5 0 .5 1.2.5-.1.5 1.2.5.3.5 1.5.5-1.7.5 2.3.5-.7.5-.4.5.6.5.2.5-.9.5 1.3.5 0 .5-1.2.5.6.5 2 .5.7.5-.1.5.3.5-.6.5.5.5.9.5-.6.5.2.5.7.5 1.3.5-.7.5-1.1.5 1.8.5.7.5-.6.5-.4.5 1.9.5-1.1.5 2.5.5-1.3.5.5.5 1.4.5.1.5 0 .5-1.2.5-.4.5 1 .5.4.5-1 .5 1.5.5.3.5-1.1.5 1.7.5-.4.5.9.5-.8.5 1.1.5-1.7.5.8.5-.3.5-.4.5 0 .5-2 .5-.6.5.6.5.6.5-.1.5 1.4.5-.2.5-.4.5.3.5.1.5.8.5.2.5-.6.5.4.5.9.5-1.5.5-.7.5 1.7.5-1.7.5-.1.5.5.5.8.5-1.3.5.9.5-1.5.5 1.5.5.5.5-1 .5-.5.5-.2.5-.6.5-1.5.5-1.2.5-.7.5-.7.5 1.4.5-1.5.5.4.5-.3.5 1.7.5-1.5.5.9.5-.9.5 1.1.5 0 .5-.3.5.2.5 0 .5-.3.5.1.5-1 .5-.9.5-.8.5 0 .5-.2.5-2.3.5.3.5 1.3.5-1.8.5-1.9.5.4.5-1.5.5-1.8.5-.1.5 1.9.5-.3.5.2.5.9.5-.2.5-.7.5.9.5-.2.5-.3.5 1.1.5.7.5.1.5 1.2.5 1.5.5-1.5.5 1.7.5 1 .5-.9.5.2.5 1.7.5-.2.5-.9.5.5.5-.8.5 0 .5.2.5 1.3.5-1.1.5.2.5-1.5.5-.6.5.3.5 1.6.5-.7.5.1.5-.3.5.7.5 0 .5.8.5-.8.5 1 .5.7.5.3.5-1.5.5 2.1.5-1.5.5 1.8.5 0 .5-.1.5.9.5.7.5-1.6.5 2 .5 0 .5 0 .5-.9.5.6.5.4.5-1.1.5 1.5.5-.2.5.5.5.4.5-.6.5.1.5-1.1.5 1.8.5-.2.5-1.1.5.6.5.3.5.5.5-.3.5.1.5-1.1.5 2.1.5-.8.5-.2.5.5.5-1.2.5.4.5-1 .5 1.3.5 0 .5-.1.5-1.7.5-.5.5.5.5 0 .5-1.3.5.5.5 1.7.5.3.5-.4.5-.9.5 1.7.5-1.4.5.7.5-.9.5-.1.5 1.9.5-.8.5.4.5-.9.5-.2.5.4.5-1.8.5.9.5-1.3.5 1.1.5.7.5-.7.5 1.3.5-2.1.5 2.2.5-1.3.5 0 .5-.2.5-.1.5 1.8.5.2.5-2.1.5.4.5.6.5 0 .5-.4.5-1 .5-.4.5 1 .5.8.5-.3.5.9.5-1 .5 2.1.5.1.5.4.5-1.4.5 1.3.5-1 .5 1 .5 1 .5.2.5-.9.5.1.5.1.5.5.5-.4.5.7.5-1.9.5.5.5-.3.5.7.5 1.1.5.2.5 1.1.5-.7.5-1.4.5-.3.5.3.5-1 .5-.4.5 0 .5 1.7.5-1.2.5 1.3.5.1.5-.4.5-.6.5-2.4.5.6.5-.2.5-.5.5 1.5.5.4.5-1.3.5.4.5.2.5-1.6.5 1.6.5-.9.5.2.5.6.5-.6.5.6.5-.1.5-.2.5-.7.5-.5.5 1.5.5-1 .5.7.5 1.1.5.2.5.2.5.3.5-.8.5.9.5-1.3.5-1.7.5-.4.5-1 .5-.6.5-.1.5.3.5.1.5-2.1.5 1.3.5-.5.5-1 .5-.3.5-.5.5-.1.5.2.5 1.4.5.6.5-.7.5 1.3.5-.6.5 1 .5-.7.5-.8.5-.1.5 1.8.5-.6.5-.6.5.2.5-.5.5 1.8.5.6.5-1.9.5 1.8.5-.2.5.5.5.4.5.9.5-1.4.5 1 .5-.7.5.6.5-1.7.5.7.5 1.4.5-.3.5-1.8.5 0 .5 1.2.5.7.5-.2.5.7.5 1.1.5-1.7.5 1.6.5 0 .5-.6.5-1 .5.3.5-.6.5 1.3.5-2.2.5 1.8.5-1 .5.3.5 0 .5-1.2.5.5.5-.4.5.5.5-.1.5 1.1.5.5.5.9.5-.4.5.8.5.3.5-.6.5.7.5-.4.5.6.5-2 .5.2.5 1.4.5-.3.5.5.5-1.7.5 1.9.5.8.5-.7.5-.2.5 1.5.5.1.5.5.5-1.1.5-.4.5-.8.5-.7.5-.2.5 1 .5-1.5.5-.2.5 1.6.5 0 .5.7.5-2 .5 1.9.5.3.5-1.9.5.9.5 1.3.5-1.6.5-.8.5-.7.5-.1.5 1 .5-1.5.5 1.3.5-.7.5-1.2.5-.3.5-.1.5-.2.5-.8.5 1.2.5-.2.5-.3.5-.5.5.9.5-1.6.5.1.5-.7.5 1.6.5-.2.5-1.8.5-.2.5-.2.5 1.4.5-.6.5 1.4.5-1 .5.7.5.4.5 1.7.5-.8.5 1.6.5-.2.5.5.5-1.2.5 1.7.5-1.3.5.1.5 1.6.5-1.7.5 1.6.5-.1.5-.9.5.5" fill="none" stroke="#000" stroke-width="0.6" stroke-opacity="0.85" stroke-linejoin="bevel"/><path d="M60 44.3l3.6-1 3.5-1.2 3.6-1.1 3.6-.7 3.6-.7 3.5-.3 3.6-.3 3.6-.3 3.5-.4 3.6-.9 3.6-1.3 3.6-1.8 3.5-1.4 3.6-.3 3.6.5 3.5.5 3.6.7 3.6.7 3.6 1.1 3.5 1 3.6 1.5 3.6 1.4 3.5 1.1 3.6 1 3.6.8 3.6.4 3.5.7 3.6-.4 7.1-.3 7.2 0 7.1.6 7.2.7 7.1-1 7.2-1.2 7.1-.7 7.1-.3 7.2-.4 7.1-.7 7.2-.7 3.5-.3 3.6.3 3.6 1.1 3.6 1.2 3.5.7 3.6.3 3.6-.8 3.5-1.7 3.6-2.5 3.6-2.2 3.6-1 3.5-.4 3.6.3 3.6.1 3.5.3 3.6.4 3.6.7 3.6.6 3.5.2 3.6 0 3.6-.2 3.5-.3 3.6-.4 3.6-.7 3.6-.6 3.5-.1 3.6.4 3.6.7 3.5 1 3.6 1.2 3.6 0 3.6-1.5 3.5-2.1 3.6-4.3 3.6-1.4 3.5-.7 3.6.2 3.6.8 3.6.8 3.5 1 3.6.7 3.6.7 3.5.8 3.6.4 3.6.3 3.6.4 3.5.6 3.6 1.1 3.6 1 3.5 1.2 3.6 1.4 3.6 1.4 3.6 1.4 3.5 1 3.6.8 3.6-.8 3.5-1.7 3.6-1.4 3.6-1 3.6-.9 3.5-.5 3.6-.2 3.6 0 3.5-.7 3.6-.7 3.6-.6 3.6-.4 3.5.4 3.6 1 3.6 1 3.5.7 3.6.8 3.6.7 3.6.8 3.5.7 3.6.8 3.6.7 3.5.7 3.6.6 3.6-.3 3.6-.7 3.5-1.5 3.6-1.8 3.6-.3 3.5.3 3.6.4 3.6.7 3.6 0 3.5-.4 3.6-.3 3.6.7 3.5 0 3.6 0 3.6-.3 3.6-.1 3.5.1 3.6.6 3.6.7 3.5.4 3.6.5 3.6.3 3.6 0 3.5-.8 3.6-.7 3.6-.7 3.5-.4 3.6-.3 3.6 0 3.6.4 3.5.6 3.6.4 3.6-.3 3.5-.7 3.6-.8 3.6-1 3.6-1.2 4.2-1.4" fill="none" stroke="#f4b62a" stroke-width="1.55" stroke-linejoin="round"/><path d="M60 36.4l2.9 2.2 4.2 2.8 4.3 2.9 2.9 1 3.6.8 3.5-1.1 3.6-2.9 3.6-2.8 3.5-3.6 3.6-2.1 3.6-.5 3.6 0 3.5-.2 3.6.4 3.6 1.4 3.5 2 3.6 2.3 3.6 2.1 3.6 1.8 3.5 1 3.6-.6 3.6-1.9 3.5-2.1 3.6-2.9 3.6-2.8 3.6-1.7 3.5-.2 3.6.2 3.6.5 3.5-.3 3.6-2.1 3.6-2.1 3.6-1.5 3.5-.4 3.6.7 3.6 1.9 3.5 2.1 3.6 2.2 3.6 1.8 3.6 1.3 2.8.1 2.9-1.8 2.8-2.9 2.9-.7 2.8-.4 3.6-1 3.6-1.2 3.6-1 3.5-1.4 3.6-.7 3.6.3 3.5.6 3.6.1 3.6-.7 3.6-.7 3.5-.3 3.6 0 3.6.7 3.5-1.4 3.6-2.2 3.6-1 3.6 0 3.5.3 3.6.7 3.6.7 3.5.5 3.6.3 3.6.2 3.6.5 3.5.7 3.6 1.4 3.6 1.7 3.5 1.9 3.6 2.1 3.6 2.2 3.6 2.1 3.5 1.9 3.6 1.7 3.6 1.4 3.5.7 3.6-.4 3.6-1 3.6-2.1 3.5-2.9 3.6-1.4 2.1-4.3 2.2-3.6 2.8-1.8 2.9-.3 4.3 1.1 3.6 1.4 3.5 1.5 3.6 1 3.6.7 3.5.4 3.6.3 3.6.1 3.6 0 3.5-.1 3.6-.3 3.6-.4 3.5-.4 3.6-.6 3.6-.2 3.6.8 3.5 1.1 3.6 2.1 3.6 2.2 3.5 2.1 3.6 1.9 3.6 1 3.6.7 3.5 1 3.6 1.1 3.6 1 3.5.9 3.6.4 3.6.3 3.6 0 3.5 0 3.6 0 3.6.3 2.1-.7 2.2-2.2 2.1-1.7 2.1-.4 2.2.7 2.1 1.2 2.9 1 2.8.7 2.9.7 3.6.7 3.5.7 3.6.7 3.6.5 3.6.4 3.5.3 3.6.3 3.6 0 3.5-.3 3.6-.5 3.6-.4 3.6-.3 3.5-.7 3.6-2.1 3.6-1.5 3.5-1.1 3.6-1 3.6-.7 3.6-.7 3.5-.7 3.6-.3 3.6.5 3.5.9 3.6 1 3.6.7 3.6.4 3.5-.4 3.6-2.1 3.6-2.9 3.5-2.1 3.6-.7 3.6.4 3.6.6 3.5.4 3.6 0 3.6-.7 3.5-.7 3.6-.8 3.6-.7 3.6-.4 4.2 0" fill="none" stroke="#1b8bd5" stroke-width="1.75" stroke-linejoin="round"/></g>
<g clip-path="url(#c1)"><path d="M60 90.1l.4-.6.4-2.8.4 1.6.4-1.6.4 2.8.4.1.4 1.3.4.8.4 0 .4.6.4 1.5.4-3.5.4.2.4.4.4-.8.4.4.4-.1.4-.6.4-1.6.4 2.1.4-3.3.4.9.4-1.7.4.5.4-2.7.4-1.8.4 1.2.4-2.3.4-.4.4-.7.4-1.5.4 1.1.4-3.1.4-2.8.4-1.5.4-.7.4-1.4.4.9.4.1.4 1.6.4-.1.4.1.4.9.4-.2.4-2.6.4-3.2.4-1.6.4-1.3.4 1.2.4 4.1.4 1.1.4 1.4.4 4.8.4-.9.4 3 .4-.4.4 2.7.4 2.4.4 3.8.4-.2.4 2.5.4 1 .4 2.5.4-1.5.4.5.4 1.1.4-1.3.4.8.4-.6.4-.5.4-1.6.4-2 .4-1.7.4 2.5.4-1.5.4 1.5.4-.9.4.7.4-1.7.4.3.4-3.4.4-1.1.4 2.1.4-.8.4-1.2.4-2.9.4-.3.4.3.4 1.6.4-.7.4-2.5.4 1.2.4-1.8.4-1.3.4 1.5.4-1.1.4-1.2.4-.3.4 1.5.4-1.7.4-1.5.4.1.4-.9.4.2.4 1.8.4-3 .4 1.5.4-2.6.4-2.1.4 0 .4-.3.4-1.2.4-1.9.4 3.1.4 1.3.4 1.1.4 2 .4 1.4.4.6.4 1.3.4 3.6.4 1.6.4 1.5.4-.5.4 1 .4-.5.4-2.3.4 5.8.4 3.5.4 1.3.4-5.2.4-5.9.4-1.6.4.9.4-.8.4 2.2.4-2.3.4 1.2.4 1.5.4-.1.4-2.7.4-2.2.4-.1.4 2 .4.6.4 3.9.4-1.6.4 2.6.4 2.7.4.5.4-2.7.4-.5.4-.5.4.3.4-3.8.4.5.4 1.1.4-.5.4 3 .4 1.8.4-.4.4 1 .4 1.2.4-1.1.4.1.4 1.4.4.9.4-1.6.4 1.5.4 1.4.4-1.7.4.3.4.4.4 1.7.4-.2.4-1.5.4.3.4 1.4.4-1.2.4 2 .4-.1.4.5.4-.4.4 1.2.4 1.5.4-1.7.4.4.4 2.7.4.3.4-2.2.4-1.1.4-1.1.4-1.8.4-1.1.4.6.4-2 .4-.8.4 1.1.4-.7.4.5.4-2.5.4 2.8.4-.6.4-1.4.4.3.4-1.8.4 1.4.4-4.4.4 2.1.4 1.5.4-1.3.4-1.5.4 1.1.4-.9.4 0 .4.2.4.1.4 0 .4-.4.4 3.6.4-1.3.4 2.1.4-2.7.4 1 .4-2.2.4-.4.4-.9.4-1.4.4.4.4.3.4 1.7.4.3.4 1.7.4-1.4.4 1.3.4-.6.4-.5.4-4.1.4 1.2.4 1.2.4-2.4.4-1.3.4 1.1.4.2.4-.7.4.3.4-.7.4-2 .4-3.1.4-1.2.4.7.4 2.6.4-1.1.4.8.4 2.1.4-.6.4 3.6.4-.2.4-1.8.4.8.4 1 .4 2.6.4-2.4.4 1 .4 2 .4-.5.4-1 .4-.6.4 2 .4-.1.4-.9.4.9.4 1.2.4 1.1.4.4.4-2.4.4 2.3.4-1.8.4 2.4.4-1.8.4-.2.4-.6.4-.8.4.4.4.7.4.6.4-2.6.4.9.4-3.1.4 1.1.4-4.9.4 4.2.4-1.3.4-2.1.4-3.4.4 1.5.4-1.2.4 1.3.4-1.5.4-1 .4 2.5.4-2.4.4.6.4.7.4-1 .4 1.2.4-1.4.4-.3.4.7.4 1.2.4-1 .4 0 .4.6.4-.9.4 1.6.4.4.4.9.4.4.4-1.3.4 1.2.4-1.6.4-.4.4 1.5.4-1.6.4 2.2.4.1.4.4.4 3.8.4-.9.4 2.5.4-1.2.4.5.4-2.3.4-2.8.4-.5.4-4.2.4-1.6.4.8.4-1.6.4 3.1.4 1 .4-2.2.4 2.9.4-1.7.4.7.4.8.4-1.7.4.8.4-2 .4 1.4.4-2.5.4 2 .4-1.2.4-.7.4-3.3.4 1 .4 1.8.4-.7.4-.1.4.6.4 3.2.4.5.4 1.1.4 1.1.4-1.6.4 1.3.4-.2.4 2.7.4-2.4.4-.1.4.5.4.4.4.8.4 1.9.4.5.4-2.3.4 1.2.4-1.8.4-1.1.4 1.8.4 3.2.4-1.9.4 3.1.4-1.1.4 1.5.4.6.4 1 .4-.2.4-.2.4.7.4-1.9.4 0 .4-.9.4-.4.4.3.4.6.4 1.2.4 1.3.4 2.9.4 1.2.4-3 .4-.5.4-.4.4-.5.4-2.7.4-2 .4.5.4-.2.4 1.2.4 0 .4-2.4.4 2.3.4-.8.4 2.1.4-1.2.4 1.5.4-.7.4-.3.4 2.5.4-.7.4-2.6.4 2.6.4-2.1.4-1.1.4.5.4.7.4-.7.4-.9.4-2.9.4-.1.4.5.4-1.8.4-.5.4 1.9.4-2.6.4 2 .4-.3.4-1.1.4 2.1.4-2.6.4.9.4.6.4-1.8.4.5.4-.1.4-.8.4-2.3.4 1.2.4-2.9.4.7.4-1.6.4 1.2.4.2.4-.8.4.9.4.8.4 1 .4-.6.4 3.4.4-1.2.4 2.5.4-1 .4 1.5.4.2.4 1 .4 1.5.4 2.4.4.1.4-.2.4.6.4 1 .4-.4.4 2.1.4.6.4 1.1.4.5.4.4.4-3.2.4.9.4-.8.4-2.7.4.7.4.5.4-1.1.4.5.4-2.3.4-3.9.4 3.8.4-1.5.4 2.8.4-1.6.4.2.4.4.4-1.3.4-1.9.4 2 .4.8.4-1.7.4.5.4 2 .4-1.6.4 2.7.4.4.4 2.4.4 2.4.4-1.1.4-.9.4.8.4-1.7.4.1.4-.2.4-.3.4 2.6.4-.9.4.2.4 1.2.4-1.7.4 1.1.4 1.1.4-2.4.4 1.1.4 1.7.4-.3.4 2.6.4-.3.4-1.6.4 3.3.4-2 .4.2.4-1.8.4-.8.4-2.6.4-4.1.4-3.1.4-.3.4 1.4.4.1.4-.7.4-1.1.4-.3.4-.2.4-1.4.4 2.9.4-.8.4 1.3.4-1.3.4-1.9.4-.3.4.3.4 2.9.4-2.5.4.3.4 2.1.4-2 .4 1.2.4-.6.4-2.2.4-.6.4.9.4-.1.4-1.1.4 0 .4 3.4.4-.8.4-.6.4-1.4.4.4.4.2.4 1.1.4-2.3.4-.5.4-.7.4 2.1.4-.8.4-.6.4 2.3.4-.6.4-1.9.4-1.4.4 2.8.4-.8.4 1.4.4-.7.4-.7.4.7.4 1.6.4 1.1.4-2 .4 3.3.4-1.2.4-1.3.4-3.6.4 1 .4-1.2.4.6.4 2.6.4-.7.4-1.2.4 0 .4-.6.4-1.4.4.1.4-1.8.4 2.5.4.7.4.6.4 5.1.4-2.6.4-.7.4-2.2.4-.6.4 3.2.4 2.1.4-.6.4.4.4.2.4-2.8.4-.5.4 2.1.4.3.4-2 .4.1.4-.8.4.8.4.5.4-.4.4-1.7.4 3.5.4-1.3.4-.4.4.5.4-3.5.4 2.7.4 1.4.4 0 .4-.2.4-1.7.4.7.4-2.4.4 2.7.4-1.4.4 1.8.4.3.4-3.2.4 1.6.4-.9.4-2.7.4 1.3.4-1.6.4 1.2.4 0 .4.8.4-.6.4 3.4.4-1.1.4 2 .4 2 .4-.8.4 1.4.4.2.4-.1.4-2.3.4 2.3.4.6.4.5.4-1.7.4.2.4-.3.4 1 .4 2.9.4-1.8.4.9.4 1.9.4 0 .4.3.4-.2.4-1.2.4-.2.4 2.6.4-2.1.4.2.4-1.2.4 1.4.4 2.2.4-1.3.4.1.4-.3.4-.1.4-.2.4 1.3.4-1 .4.5.4.3.4-3.1.4.9.4-.4.4.3.4-1.8.4.7.4-1.6.4-.9.4 1.7.4-.7.4-1.8.4 1.5.4-3.3.4 2.1.4-.6.4-.5.4-2.3.4.6.4-3.2.4.4.4-.4.4-1 .4-2 .4 0 .4-1.8.4 3.5.4-.7.4 2.2.4 1.9.4.1.4.4.4.9.4-1.2.4-.3.4 2.7.4-1.2.4.7.4-.1.4 1.7.4 1.7.4-1.7.4 1.6.4.6.4-3.3.4 2 .4.4.4-1 .4-.1.4 1 .4.5.4-1 .4-1.6.4 1.5.4-1 .4-1 .4-.9.4.2.4 1.6.4-.8.4 2.7.4-.4.4.8.4 1.9.4-.1.4 3 .4-2.4.4 2.2.4 2.8.4-2.1.4 2.3.4 2.2.4-.5.4-.8.4-2.7.4-.8.4-2.5.4 1.1.4-1.5.4-1 .4 1.4.4-2.2.4 2.1.4-.4.4-1 .4 1.2.4-3.2.4.1.4 1.7.4-1.9.4-.2.4-.8.4 1.5.4.3.4-2 .4.7.4.8.4 2.1.4-.1.4.5.4-1.6.4 1.4.4.4.4-.3.4-.4.4-.8.4-2.1.4-.2.4.3.4-.9.4.5.4.9.4.4.4-.1.4.9.4 2.2.4-.4.4 1.6.4-.6.4.2.4 1.1.4.3.4-.9.4 1.4.4-.1.4-1.6.4-.4.4-.5.4-.9.4 1.7.4.9.4-1.5.4 2.6.4-1.3.4 1.4.4 1.2.4.6.4.7.4 1.3.4-1.2.4.8.4-.2.4 3.1.4-3.4.4-4.1.4-.2.4-2.3.4 3.7.4-3.2.4 3 .4-.6.4-2.5.4.4.4-.4.4.3.4.2.4-.4.4 2.4.4 1.1.4-.9.4-.3.4-.1.4-.8.4 1.9.4-3.2.4-.1.4 1.6.4-2 .4.8.4-.5.4 2.6.4.9.4-1.7.4-.3.4.1.4 1.9.4-.4.4.8.4-.4.4-.1.4-2.2.4 3.3.4-1.8.4.7.4 1.4.4 0 .4-1.1.4-1.2.4 3.1.4-1.8.4-.6.4 2 .4 1 .4-1.7.4 1 .4 2.6.4-2 .4 1.7.4.7.4 2.4.4.8.4-1.3.4 1 .4 1.4.4-1.7.4 1.7.4-2.9.4.5.4-1.6.4 2.5.4-2.2.4-1.4.4-.9.4-1.1.4-.9.4.3.4.3.4-2.9.4 2.6.4-1.5.4-2.3.4 2.2.4-1.9.4 1.3.4-.3.4-1.3.4.9.4-.5.4-.7.4 2.9.4-2.5.4 1.8.4 0 .4-.9.4 1.7.4-2.2.4-.7.4-.5.4 1.3.4-2.7.4 1.3.4-.5.4-.8.4.3.4.4.4 2.3.4-.6.4-1.2.4.9.4 1.8.4-1 .4-1.1.4-.4.4-.9.4 1.2.4-3.1.4-.3.4-1 .4.6.4-1.5.4.4.4 1.7.4.2.4-.5.4.5.4-2.6.4 2.3.4-1.8.4.6.4.5.4 3 .4-.8.4 1.9.4 1.5.4 1.1.4-1.2.4 2.2.4-1.5.4-1.1.4-2.4.4.8.4-7.6.4 4.8.4-.7.4-.3.4 2.2.4-.8.4-2.4.4 1.5.4 0 .4-.5.4-2.8.4 1.2.4 0 .4-1.4.4.7.4-.5.4.3.4.5.4 1.3.4-2 .4-.1.4-1.9.4-1.4.4 2.1.4-1.7.4-1.4.4.8.4 3.7.4-.3.4-.5.4 3.2.4.5.4.5.4 3 .4-.7.4-4.6.4 3.8.4-2.2.4.6.4-2.2.4 2.1.4-2.6.4 1.1.4-2.5.4 1.5.4-3.2.4 2.1.4.8.4-.6.4-.8.4.2.4.2.4.7.4.1.4 2.4.4.6.4-2.7.4 3.3.4-1.3.4-1.4.4 1.6.4-1.3.4 1.5.4 1.6.4-1 .4 1.9.4.8.4 3.4.4 1 .4-1.1.4 1.5.4-2.8.4.4.4-.7.4.2.4-.9.4 1.5.4.3.4-.1.4.5.4-.7.4 2.8.4.1.4 1.4.4-.7.4 2.5.4-.2.4 1.1.4 1.5.4-1 .4 1.7.4-.6.4 1.8.4-1.5.4 1.4.4-2.3.4 1.4.4-1.8.4.8.4-2.8.4.4.4-1.6.4-.1.4.2.4-.3.4-.8.4-1.1.4-2.2.4 1.2.4-.4.4-1.3.4-.7.4.4.4-.4.4-.7.4-2.8.4-1.8.4-1.7.4-.1.4.7.4-.4.4-.9.4 3.3.4 1.6.4 1.6.4.9.4-.4.4 1.1.4-1.2.4 1.4.4 0 .4-.8.4-1 .4 1.8.4-2.1.4.8.4 2 .4-2.2.4-.3.4 2.2.4-.7.4-.3.4-.7.4.8.4 2.6.4.2.4 1 .4-1.7.4 4.3.4.7.4.8.4.6.4-1.7.4 1.5.4-.4.4-3.5.4 2 .4-2.2.4-.6.4-1.1.4 1.8.4-1 .4-.8.4 1 .4-2.9.4 1.6.4-1.9.4 1.9.4-2 .4 1.7.4-3.5.4-.5.4 1.5.4 1.1.4.1.4-2 .4-.7.4-1.5.4.6.4-1.4.4-.3.4.6.4-.4.4.2.4 3.7.4 2.3.4.8.4.3.4-.5.4-3.1.4 0 .4 0 .4-.9.4 0 .4-.9.4 1.4.4-.7.4 1.2.4-1.4.4 1 .4.1.4-1 .4-.8.4-.8.4 2.1.4-2.1.4.1.4 1.3.4-1.1.4-.6.4-3.3.4.4.4 1.1.4 1.3.4-1.4.4.9.4-.4.4 1.8.4 1 .4 0 .4 2 .4-1 .4-1.8.4.9.4-1.3.4 4 .4-.5.4-.9.4.3.4.9.4-1.2.4-.4.4 2.8.4-.9.4.2.4-.8.4 1.1.4-2.2.4-.5.4 1.3.4-.6.4.3.4 1.6.4-.7.4-1.3.4-.3.4 1.3.4 2.3.4-1 .4-2.8.4-.1.4 1.3.4-.5.4-1.7.4 2.4.4.5.4.3.4-2.4.4-1.1.4.2.4-.7.4 2 .4-1.8.4-.9.4.4.4.3.4-1.5.4-.2.4-1 .4-1.3.4.2.4-.4.4-.3.4 0 .4-1.6.4-1.1.4.3.4 2.7.4-1.5.4 0 .4.6.4 1.7.4-1.2.4.9.4 3 .4-2.3.4 5.8.4 2.6.4 4.3.4 2.3.4.6.4 0 .4-5 .4-.6.4-2.4.4-2.4.4-1.4.4.4.4-1.5.4 1.1.4-2.6.4 2 .4-1.1.4-3.3.4.7.4.3.4-2.4.4.6.4.3.4-.9.4.8.4-4.5.4.1.4-1.7.4.1.4 2.4.4 1 .4.5.4 1.4.4-1 .4 1.5.4.4.4-2 .4 3 .4.1.4.1.4-1.1.4 1.3.4 1.1.4-.2.4 1.5.4-.7.4-.8.4 2 .4-1.3.4 1.2.4 1.3.4.4.4.1.4.1.4.7.4-.1.4 1.9.4-1.2.4-.2.4-.7.4 1 .4.3.4 1.5.4-2.5.4.8.4-5.2.4 7.2.4-1.5.4 1.8.4.1.4-.4.4-1.1.4.3.4 2.2.4-3.7.4 2.4.4 1.1.4-.7.4 1.6.4-.1.4 0 .4-.5.4-1.1.4-.4.4-.2.4.2.4-.9.4-2.1.4 1.8.4-3.2.4.3.4-.6.4-2.3.4-.3.4 2 .4-2.1.4.9.4 1.5.4 0 .4 2.8.4.8.4 1.5.4.6.4-2.2.4-.5.4-.1.4-.8.4-.3.4-1 .4 2.6.4.9.4.2.4-2.2.4.4.4-1.6.4.2.4-.5.4-2.3.4 1.8.4-1.7.4-2 .4-.6.4-.8.4 0 .4.5.4 2.1.4-.1.4-.6.4 2.7.4-1.5.4-.1.4 2 .4-.5.4-.3.4 2.6.4-2.8.4 2.8.4-.7.4-.1.4-1.2.4-.6.4 1.8.4 2.3.4-.5.4.7.4-.8.4-.1.4-1.1.4-1.4.4-5.8.4 4.3.4.6.4 1 .4-2.3.4.1.4-.2.4-.4.4-1.8.4 1 .4-2.9.4-.3.4 1 .4 3 .4-.2.4 1.9.4-.8.4 3.1.4-2.4.4.5.4 2.5.4-.3.4 1.4.4-.5.4-1.2.4 1.3.4 2.2.4 1.1.4-2.8.4 4.3.4-2.7.4-.2.4-.3.4-1.5.4-.6.4-3.6.4.1.4-2.1.4 1.5.4-1.7.4 1 .4-.8.4-1.1.4-.7.4-1.3.4.7.4.6.4.1.4 2.4.4-.6.4 1 .4.6.4 2.7.4.4.4-1.2.4 4.5.4.7.4.7.4-2.9.4 3.1.4-3.1.4 1.3.4-.5.4-1.6.4.8.4-.2.4-.3.4-.6.4-1.5.4.2.4-.6.4-.4.4-.5.4 2.6.4-3.1.4 1 .4 1.1.4-1.6.4-.1.4-1.8.4 1.1.4 1.3.4-1.6.4.8" fill="none" stroke="#000" stroke-width="1.3" stroke-linejoin="round"/><path d="M60 90.4l.5-.6.5-2.9.5.6.5 3 .5-1.8.5 3 .5-2.7.5 4.1.5-.4.5-.1.5-.3.5.5.5-1 .5.2.5-1.1.5-1 .5.6.5-2.2.5-3.8.5 1.9.5-1.8.5-3.9.5 2.1.5-.8.5-4.7.5.4.5-1.8.5-5.7.5-.1.5 1 .5-1.1.5 2.7.5 2.4.5-3.3.5 1.4.5-2.3.5-.5.5-5.5.5 4.2.5 1.9.5-.5.5 5.1.5-.7.5 5.3.5-1.1.5 6 .5 1.7.5 2.5.5 3.3.5.3.5 1.2.5-3.4.5 3.5.5.1.5.3.5-3.6.5 2.1.5-5.8.5 1.4.5-1.2.5-.4.5 2.3.5-3.3.5 1.3.5-3.6.5 0 .5-.8.5-2.4.5-.3.5 1.1.5-1.8.5-.3.5 1.5.5-3 .5.3.5 1.9.5-2.9.5-2.6.5 3.7.5-2.3.5.5.5.9.5-3.1.5-.4.5-2.6.5 2.2.5-1.1.5-4.6.5.3.5-2.4.5 2.7.5-1.4.5 3.6.5 3.5.5 1.1.5 2.9.5 2.5.5-.7.5 1.5.5 4 .5-.6.5-1.2.5 3.3.5 3.1.5-5.1.5-4.9.5-1.2.5 1.6.5-.3.5.1.5-.5.5-.9.5 1.7.5-4.9.5 3.3.5 3 .5-1.4.5 5 .5 2 .5-.3.5-2.4.5-.4.5-1.8.5-1.1.5-.4.5 1.4.5-.2.5.5.5.7.5 2.8.5 2.6.5-1.2.5-1.3.5 2.2.5.4.5-1.4.5 4.2.5-3.5.5 1.6.5-1 .5-.3.5 2.4.5.5.5-.1.5 1.3.5 1.3.5-1.6.5-.1.5 1.1.5 2.2.5-1.3.5-1.1.5-1.7.5-2.2.5-.5.5-1.9.5 2.3.5-3.4.5 1.5.5 0 .5.3.5-.4.5 1.6.5-1.2.5-.9.5-.4.5-1.2.5-1.9.5.7.5-1.1.5-1.4.5-.4.5-.3.5 1.9.5 1.7.5-.4.5 1.3.5-.1.5 1.1.5-.7.5-4.7.5 1.6.5-2.8.5 2.5.5 1.1.5.2.5.2.5 2.5.5-3.8.5 2.2.5-2.7.5-.6.5-3 .5-1.3.5 3.2.5-2.2.5-.7.5.6.5-3.1.5-4.6.5 5.3.5-2.3.5 4.1.5-2.3.5 4.2.5-1.7.5 2.5.5 1.9.5-2 .5.8.5-.5.5.9.5 3 .5-3.4.5.6.5 2.2.5-.8.5 1.3.5-.5.5.4.5-1.6.5 1.5.5-.1.5.6.5-.4.5-1.6.5-.9.5 1.4.5 1.4.5-1.4.5-.3.5.1.5-2.3.5-2 .5-2.8.5 0 .5-2.6.5-.4.5 2.3.5.6.5 0 .5-3 .5-1.5.5 3.2.5-.8.5 1 .5-1.1.5 1.2.5-2.8.5 2.2.5.7.5-.4.5-1.9.5 2.8.5 1.6.5-2.6.5.5.5.5.5 2.6.5-1.1.5.9.5.6.5.8.5 3.5.5.8.5-5 .5-.5.5-4.7.5.9.5-2.8.5-1.6.5 1.5.5.3.5-.3.5 4.8.5-2.3.5-1.2.5 1.8.5-2.3.5-.2.5 1.5.5-5.5.5.5.5.1.5.1.5.5.5.4.5 2.2.5-.8.5.1.5 2.9.5 1.9.5.2.5.1.5-.3.5 1 .5-3.9.5 5.5.5-3.4.5 1.2.5 1.5.5.7.5-2.8.5 4 .5-2.6.5 5.2.5-3.3.5.9.5 1 .5 2 .5 1.8.5-.3.5-1.6.5-.4.5.6.5.7.5-1.8.5-.2.5 6.1.5 1.2.5-1.7.5-3 .5-1.6.5-2.9.5 1.4.5-1 .5-1.2.5 1.4.5 1.6.5.1.5-2.6.5 1.5.5-1 .5 4.2.5-1.5.5-.5.5-.1.5 0 .5-3.8.5 1.8.5-1.7.5-.5.5 2.3.5-4.5.5.7.5-2.2.5 1.7.5 0 .5-.7.5 1.3.5-2.3.5-.9.5.1.5 2.6.5-1.3.5-.6.5 0 .5-2.2.5-.8.5-1.7.5-1.8.5 1.5.5.2.5.2.5 2.4.5-1.3.5 1.9.5-.7.5 4.2.5 1.7.5 1.4.5-1.5.5-.4.5 3.7.5.7.5-1 .5 1.8.5-.6.5 1.2.5 3.6.5-1.4.5.8.5-.8.5-.3.5-2.7.5-.3.5 1.4.5-4.3.5 1.3.5 1.3.5-3.1.5 1.3.5-.3.5.5.5-3.2.5 2 .5-2.5.5 4.1.5-.7.5 0 .5-1.1.5 4.2.5.5.5 1.9.5 1 .5-.7.5-1.2.5-1.2.5 1.6.5 1.7.5-.3.5-2 .5-.8.5 2.4.5.5.5-1.7.5 2.1.5 1.2.5 1.2.5-.5.5.8.5-.2.5 1.1.5-3.1.5-1.2.5-2.4.5-6.3.5.6.5.4.5-1.1.5-2.1.5 1.9.5-2 .5 1.9.5-2.1.5 1 .5 2.7.5-1 .5-2 .5-1.2.5 4.2.5-.9.5-1.8.5-.7.5-2.1.5 2.8.5-.6.5.2.5-3.2.5 4.2.5 0 .5.2.5-1.7.5-2.3.5-.8.5 1.6.5 1.5.5-3.6.5 3.8.5-1 .5-1.8.5-2.3.5 1 .5 1 .5 1.3.5-.9.5 0 .5 3.3.5-3.3.5 3.5.5 1.5.5 0 .5-5.7.5 2.3.5-.4.5-3.2.5 1.7.5-1.6.5 1.3.5-.7.5-2.4.5-1.6.5 3.3.5 1.7.5 3.8.5.9.5-3.3.5-1.4.5-.2.5 1 .5 3.4.5-.9.5.1.5-2.7.5 1.2.5 1.3.5.9.5-1.7.5.1.5-2.2.5 2.4.5-1 .5.6.5-.1.5-2.5.5-.9.5 1.2.5 2 .5-2.1.5-.5.5 2.7.5-.1.5-2.7.5 2.3.5.3.5-2.4.5-.3.5.4.5-1.9.5-.3.5-.2.5.1.5 1.8.5 4.5.5-.5.5 2.3.5-2.2.5-.1.5 1.5.5-.7.5 3.4.5-2 .5 1.5.5-.5.5 2 .5 1.4.5-2.4.5 1.5.5 1.3.5-2.1.5 3 .5-3.3.5 3.1.5-2.4.5 3 .5-2.1.5-.6.5 3.3.5-1.6.5 2.6.5-5 .5 2.3.5-1.6.5 2.1.5-3.5.5 2.5.5-.9.5-2.1.5-.8.5.8.5.2.5-1.3.5-.7.5 1 .5-1 .5-2.1.5 1.6.5-4.6.5-.5.5.7.5-1.3.5-3.3.5-1.3.5 1.1.5.9.5-1.2.5 2.5.5 1.2.5 2.2.5 1.8.5-.5.5-1.9.5 2 .5-.7.5 2.4.5-.9.5-.3.5 3.3.5-1.5.5 2 .5-.7.5-.9.5 1.1.5-.4.5-1.5.5-1.1.5 1.6.5 1.2.5-1.1.5-2.1.5-.2.5 3.5.5.1.5 1.4.5.9.5 1 .5 2 .5-.7.5 1.7.5 0 .5 1.6.5 2.3.5-5 .5-1.2.5 1.5.5-.6.5-3 .5.2.5.7.5-1.7.5 2.4.5-1.2.5-1.5.5.2.5.5.5-1.2.5-.9.5-2.2.5 2.8.5-1.5.5 1.5.5.2.5 2 .5-2.2.5.5.5 1.7.5-1.1.5-3.3.5 2.5.5-1.7.5-.3.5.9.5 1.7.5-2.1.5-.4.5 2.7.5-.8.5 4.4.5.7.5-2.4.5 2.5.5 1.7.5-2.2.5-2.2.5.8.5-.9.5.8.5 2 .5-1.7.5-.5.5.8.5.5.5 2.3.5.1.5 1.6.5-2.1.5 5.4.5-2.9.5-.8.5-4.4.5 1.4.5-1.4.5 2.3.5-1.9.5-1.2.5.7.5-1.4.5-.2.5 0 .5 0 .5 4.4.5-.3.5-3.8.5-.4.5 1.7.5-1.2.5-1.3.5-.3.5 1 .5 1.4.5 2.1.5-1.3.5-1 .5 2.3.5 2.3.5-3.9.5-.7.5 3.3.5.9.5-2.7.5 2.2.5-2.5.5 1.1.5 2.9.5-1.5.5 1.2.5.2.5-1.6.5 1.4.5-1.4.5 2.4.5 1.4.5 3 .5-.2.5-.5.5 1.1.5 1.9.5-1.4.5 0 .5-1.9.5 0 .5-1 .5-.1.5-.3.5-2 .5-.1.5-.1.5-1.5.5-.9.5 0 .5-2 .5-2.3.5 3.7.5-2.6.5 2.1.5-1.2.5-.9.5.6.5.8.5 2.7.5.1.5-1.8.5-.5.5.1.5-3 .5 1.7.5-.4.5-2.8.5-.2.5 3.7.5-1.7.5 3.1.5-3 .5 3.2.5-3.8.5-.9.5-.4.5-1.8.5.7.5-.4.5 2.4.5-2.2.5-2.8.5 1.6.5-1.5.5 2.1.5.5.5.2.5.3.5 1.6.5 2.3.5-1.3.5 1.7.5 3.2.5-1.1.5-3.3.5.2.5-.6.5-2.2.5-.6.5 1.6.5-2.6.5.9.5 1.5.5-3.1.5 2.3.5-1.1.5-.8.5-2.7.5-1 .5 3.9.5-4 .5 3.4.5-4 .5 1.1.5.8.5-3.8.5.8.5 1.9.5-1.1.5.4.5 4.4.5 1.5.5 2.1.5.3.5 1.6.5-1.9.5-.9.5-1.7.5-.6.5-2.9.5 3.2.5-1.3.5-2.4.5.4.5-.5.5.8.5.6.5 0 .5-1 .5 1.7.5-2.5.5 2.1.5.4.5 2.2.5-2.3.5.7.5 0 .5 1.2.5 1.7.5 2.7.5 1.3.5.2.5.8.5.9.5.5.5-1.7.5-1.8.5 2.5.5.6.5-3.6.5 1.6.5-1.1.5.7.5 2.2.5 3.2.5 1 .5 2.8.5-.7.5.2.5.5.5-2.7.5 2.8.5.5.5-2.3.5 2.2.5-3.2.5 2.2.5-4 .5 1.2.5-2.9.5.2.5-.1.5 1.1.5-3.5.5 1.4.5-1.7.5-.5.5 0 .5-.7.5-4.6.5-1.1.5-2.3.5-.9.5-1.3.5 2 .5 6.3.5-1 .5-.3.5 3.1.5-.6.5.5.5-2.8.5.7.5 3.1.5-1.2.5 2.3.5-2.7.5 2 .5-.6.5-.6.5-2.1.5 3.8.5 0 .5-1 .5 2.6.5.8.5 2.1.5-.4.5 1.7.5 1.5.5-4.8.5 3.5.5-3.3.5-.3.5 1.2.5-3.3.5 1.6.5-1.6.5-1.4.5 1.9.5.8.5-2.7.5-.6.5 1 .5 1.2.5-4.7.5.8.5-1.8.5 3.9.5-3.1.5-1.6.5.7.5 1.6.5-4.2.5 3.3.5 5.3.5 1.8.5-3.8.5.3.5 1.2.5-3.2.5-1.4.5 1.1.5.2.5 2.5.5-1.8.5-2.6.5.9.5-1.9.5 1.8.5 1.2.5.8.5-1.6.5 0 .5-2.4.5-2.8.5-.1.5 2 .5-1.9.5 3.2.5 1.1.5 0 .5-1.2.5 4.3.5-3.9.5 2.9.5-2.6.5 1.6.5 2 .5.6.5.6.5-.6.5.2.5-2.8.5 4.1.5.1.5-1.8.5 1.3.5-4 .5-.7.5 1.5.5-.9.5 3.4.5 1.2.5-.2.5-.7.5 1.1.5-1.8.5-3.6.5 2.2.5-2.2.5 1.1.5.9.5-2.4.5.9.5-1.8.5.5.5 1.6.5-3.5.5.7.5 1.5.5-4.6.5 2.9.5-.8.5-2.3.5-2.9.5 1.2.5-.7.5-.1.5-.1.5 3.5.5 1 .5-1.7.5 2.8.5.4.5-2.1.5 5.4.5 4.9.5 2.8.5.8.5 1.4.5-2.2.5-4.9.5-2.2.5-2.7.5 1.5.5-.6.5-2.7.5 1.2.5-1.2.5-2.3.5 2.6.5-2.7.5.1.5-.1.5.1.5-4.9.5-.1.5-1.7.5 2.6.5-1.7.5 5 .5-1 .5-.5.5-.5.5 3.6.5-.4.5 1.4.5-1.2.5-.9.5 2.5.5 1.2.5 1.1.5-2.1.5.5.5-.4.5 1.4.5 2.3.5 1.8.5-.8.5.5.5 1.5.5-1.9.5.2.5-1.1.5.6.5-1.2.5.4.5-.1.5 1.6.5.7.5.3.5-.1.5-.1.5.7.5 3.2.5-.3.5-2.3.5 3 .5 1.7.5-2.2.5-1.4.5.5.5-2.6.5-.3.5.4.5-2.9.5-1.1.5 2.6.5-1.3.5-4.3.5 3.3.5-1.4.5 2.1.5.5.5 1.3.5.6.5 1 .5-3.1.5.8.5-1.2.5.6.5.2.5 1.4.5 1.4.5-.5.5-1.6.5.2.5-.9.5-1.2.5-2 .5 1.7.5-2.2.5-1.2.5.1.5-2.5.5 1.9.5-1.4.5 4.8.5.5.5-3.2.5 4.3.5-3.2.5 3.1.5.1.5-2.3.5.4.5.7.5.1.5 1 .5.5.5.7.5-2.5.5.2.5 2.4.5-2 .5-1.5.5-1.3.5 2.5.5-.7.5-3.4.5 1.7.5-1.7.5-1.1.5.6.5-2.2.5 2.6.5 3 .5.8.5.3.5-1.2.5 3 .5-2.9.5 1.2.5 3.1.5-1.6.5.4.5 4.9.5-2.3.5-1.6.5-.5.5 1.8.5-2.5.5-1.6.5-3.6.5 1.3.5-3.2.5-.5.5 1.7.5-.6.5.9.5-.7.5-3.9.5 2.6.5.6.5 3.9.5 1.1.5-1.2.5 1.8.5 1.1.5.4.5 3.1.5.1.5-.5.5-1.3.5-1 .5 2.2.5-3.1.5-1.9.5 4.1.5-3.2.5-.6.5 3 .5-4.5.5-.1.5 3.3.5-2.4.5.1.5-.4.5-1.4.5-.2.5.9.5-.5" fill="none" stroke="#000" stroke-width="0.6" stroke-opacity="0.85" stroke-linejoin="bevel"/><path d="M60 76.9l2.9-.6 2.8-.4 2.9.4 2.8 1 2.9 1.4 2.8 1.2 2.9.5 2.9.2 2.8.3 2.9 0 2.8-.3 2.9-.2 2.8 0 2.9.2 2.9.7 2.8 1 2.9 1.4 2.8 1.4 2.9-.2 2.8-.5 2.9-.3 2.9.3 2.8 1 2.9 1.2 2.8.7 2.9-.4 2.8-1.8 2.9-1.7 2.9-.8 2.8-.3 2.9 0 2.8-.7 2.9-.5 2.8-.2 2.9-.3 3.6-1.5 3.5-1.1 3.6-.3 3.6.7 3.6 1.7 3.5 1 3.6-.5 3.6-1.9 3.5-2.1 3.6-.7 3.6.7 3.6 1.4 3.5 1.4 3.6 1.7 3.6-.2 3.5-2.2 3.6-.7 3.6 1.1 3.6 1 3.5.8 3.6 0 3.6.2 3.5 1.2 3.6 1.1 3.6.7 3.6-.7 3.5-1.8 3.6-2.2 3.6-1.7 2.8-1.4 2.2.3 2.1 1.4 2.2 2.1 2.8 1.5 3.6 1 3.6.8 3.5.7 3.6.6 3.6.4 3.5 0 3.6-.7 3.6-.7 3.6-.3 3.5-.4 3.6-.7 3.6-.7 3.5 0 3.6.7 3.6.7 3.6.4 3.5.3 2.9.4 2.8.6 3.6-.7 3.6-1.7 3.6-2.2 3.5-1.4 3.6 3.6 3.6 2.8 3.5 1.5 3.6.7 3.6.4 3.6.3 3.5 0 3.6 0 3.6-.7 3.5-1.4 3.6-1.2 3.6-.3 3.6 0 3.5.7 3.6.8 3.6-.3 3.5-.9 3.6-.7 3.6-.7 3.6-1 3.5-1.2 3.6-1.4 3.6-1.7 3.5-1.1 3.6 1.1 3.6 1.4 2.8 0 2.9-1.4 2.9 1.4 2.1 3.6 3.6-.7 3.5-.7 3.6-.5 3.6-.2 3.6 1.4 3.5 1.4 3.6 1.2 3.6.2 3.5 0 3.6-1.1 3.6-1 3.6-.4 3.5-.3 3.6-.3 3.6-1.1 3.5-1.5 3.6-1.4 3.6-.7 3.6 0 3.5.4 3.6 1.4 3.6 1.5 3.5 1 3.6.4 3.6-.7 3.6-1.2 3.5.5 3.6 1.4 3.6 0 3.5 0 3.6-.9 3.6-1.7 3.6-1 3.5.6 3.6 1.6 3.6 1.4 3.5 1 3.6 0 3.6-1.4 3.6-2.5 2.8-1.4 2.9.3 2.8 1.4 3.6 1.5 3.6.7 3.5.4 3.6 0 3.6-1.1 3.6-1.5 3.5-.7 3.6 0 3.6.7 3.5 0 3.6.3 3.6.4 2.8.8" fill="none" stroke="#f4b62a" stroke-width="1.55" stroke-linejoin="round"/><path d="M60 90.6l2.9-.9 2.8-1.4 2.9-1.7 2.8-2.2 2.9-2.8 2.8-3.6 2.9-3.1 2.1-1.5 2.9.3 3.6 1.2 2.8 2.4 2.9 2.8 2.8 3.3 2.9 1.7 2.9-.7 2.8-.7 2.9.7 2.8 1 2.9.9 2.8 0 2.9-.4 2.9-.8 2.8-1.4 2.9-2.8 2.8-4.3 2.9-2.2 2.8.5 2.9 1.4 2.9 1.7 2.8 1.4 2.9 1.5 2.8 1.4 2.9 1 2.8.4 2.9.3 3.6-.3 3.5-.3 3.6 0 3.6 1 3.6 1 3.5 1.2 3.6 1 3.6.4 3.5 0 3.6-.7 3.6-2.2 3.6-2.8 2.8-2.6 2.2.4 2.1 2.2 2.9 2.1 4.2.7 3.6 0 3.6.3 3.6.9 3.5 1.4 3.6 1 3.6 0 3.5-.7 3.6-.7 3.6-.7 3.6 0 3.5.7 3.6.7 3.6-.3 3.5-.4 3.6.7 3.6.7 3.6.7 3.5.7 3.6.5 3.6 0 3.5-.5 3.6-.7 3.6-.3 3.6 0 3.5.3 3.6.3 3.6 0 3.5-.6 3.6-1.1 3.6-.7 3.6-.4 3.5-.6 3.6-1.2 2.1-2.1 2.2-2.1 2.1-1.8 2.9-1.1 2.8 0 2.9.7 2.9.4 3.5-1.1 3.6-2.1 2.1 3.5 2.2 4.3 2.8 2.9 3.6 1.7 3.6.8 3.6.3 3.5-.3 3.6-.8 3.6-1 3.5-1 3.6-.9 3.6.5 3.6.7 3.5.7 3.6.4 3.6.3 3.5-.7 3.6-1.4 3.6-1.5 3.6.7 3.5 1.5 3.6 1.1 3.6.6 3.5-1 3.6-2.2 3.6-3.5 2.8-2.2 2.9 1.5 2.9 1.4 2.1.7 2.9-1.4 2.8-1.5 2.9-1.4 2.8-1 2.9-.4 3.6.4 3.5 1 3.6-.7 3.6-1.7 2.8-1.2 2.9 1.5 2.1 4.3 2.2 2.8 2.8 1.2 2.9.5 2.8-.3 2.9-2.1 2.9-2.1 2.8-1.5 2.9-.7 2.8-.4 2.9.4 2.8.4 2.9-1.1 2.9-2.1 2.8 0 2.9.7 3.5.7 3.6 0 3.6-1.4 3.6-1.9 3.5-.6 3.6.6 2.1 1.1 2.2 2.9 2.8 2.1 3.6 0 3.6-1 3.6 1 3.5 1.5 3.6 1.4 3.6 1 3.5.4 3.6-.7 3.6-3.6 3.6-2.8 2.1-1 2.1 1 2.9 2.1 3.6 2.6 3.5 1.7 3.6 1.7 3.6.9 3.6 0 3.5-1.2 3.6-1.4 3.6-.7 3.5.4 3.6 1 3.6.5 3.6.2 4.2 2.9" fill="none" stroke="#1b8bd5" stroke-width="1.75" stroke-linejoin="round"/></g>
<g clip-path="url(#c2)"><path d="M60 115.8l.4 1 .4.3.4.9.4-1.8.4.2.4.4.4 1.7.4.2.4-.5.4-2.5.4-.1.4 1.4.4 1.2.4-2.6.4 2 .4 0 .4.1.4-1.5.4-1.7.4 0 .4 1.1.4-.3.4 1.8.4.4.4-.8.4 1 .4-1.6.4 1.6.4-.9.4 0 .4 2.3.4-.3.4 1.3.4-1.4.4 1.6.4-3.7.4.3.4.8.4-.3.4-1.8.4.8.4 1.7.4-1.1.4-.1.4-2.7.4 2.2.4-1.5.4-3 .4 2.7.4-2.3.4-3 .4 2.6.4-2.2.4.1.4-1.3.4-2.2.4 2.9.4-1.4.4 1 .4.7.4 1.9.4 1.6.4-.8.4 2 .4-2.3.4 2.5.4-.5.4-1.6.4.4.4 0 .4 1.2.4-.6.4.7.4-.4.4 2.8.4-1.5.4-.3.4-.3.4.1.4 2.3.4-.6.4 1.7.4-2.1.4 2.5.4 1.9.4-2.1.4 2.5.4 1.1.4-3.1.4 3.6.4-2.3.4 1.8.4.3.4-1.1.4-1.1.4 2.3.4-.7.4-1.1.4.2.4-1 .4-.9.4 2.5.4-2.2.4.1.4 1.1.4 1.4.4-1.6.4-1.3.4-.2.4.3.4-1.5.4-2.6.4 1.5.4-2.2.4-1.2.4-.5.4-.2.4-1.2.4-.1.4 1.6.4-2.2.4 1 .4 1.9.4-1.9.4-1.4.4 2.4.4-1.9.4 3.7.4-.8.4 2.1.4-2.6.4 1.9.4-1.7.4 2.5.4-2.7.4 0 .4-2.5.4-.3.4 2 .4-1.1.4-.7.4.1.4 2 .4-3.1.4 2.9.4-.2.4.4.4 1.3.4 0 .4-1 .4 1.6.4-2.8.4.9.4 0 .4-3.4.4 2.7.4-2.3.4.2.4 3.7.4 0 .4.3.4.3.4-1 .4 2 .4-1.5.4 1.5.4-.6.4-3.9.4 1.7.4-.5.4 1.3.4 1.5.4-.5.4 1.2.4.3.4 1.6.4-2.9.4 1.6.4.8.4-2.8.4-.1.4-.7.4-.1.4 3.1.4-1.8.4.9.4-1.7.4.9.4 1.8.4-3.1.4 1 .4 3.1.4-.4.4-.8.4 1.5.4-2.3.4-.9.4 1 .4-.2.4.7.4.2.4 1 .4 1.7.4.4.4-1.3.4.7.4.5.4.3.4-.1.4-.6.4-.9.4 1.7.4 1 .4-1.8.4 1.1.4-.1.4 1 .4-1 .4 1.8.4-1.8.4 2 .4-1.3.4-1 .4 2.7.4-3.2.4 3.2.4-1.6.4-2 .4.8.4.7.4-1 .4.6.4-.3.4 1.4.4 1.3.4-.2.4.1.4-.1.4 1.1.4-.7.4-2.1.4.4.4-.9.4 1.5.4 2 .4-2.6.4 1.2.4-1.5.4 3.6.4.3.4-3.5.4.5.4 2.1.4 2 .4-1.7.4-.2.4-1.2.4 1.8.4-3.3.4 0 .4-.3.4 2.1.4.3.4-1 .4-1.9.4 2.6.4-.9.4-.1.4-1 .4-.8.4-.7.4.6.4-2.4.4-.9.4 2.2.4.5.4-.5.4-.3.4.6.4-1.4.4 2 .4-.2.4-1.3.4 3.5.4.1.4-1.8.4 3 .4-.8.4.1.4 3 .4-.5.4 1.2.4-.1.4-.7.4-.9.4 2.8.4-.5.4 1.4.4-1.5.4 1.4.4-1 .4.1.4-.5.4-.8.4 3.1.4-2.4.4 3.3.4-1.7.4-1.4.4 3.2.4-1.9.4-.6.4 0 .4 0 .4 3 .4-1.7.4 1.6.4.8.4-2.4.4.7.4 3 .4-2.5.4 2.5.4-1.4.4.3.4-.5.4 2.1.4-1.6.4-1.4.4 1.1.4 2.6.4-.5.4-1 .4-.4.4-1.4.4-1.6.4 1.4.4-1.6.4-.8.4-1.5.4 1.2.4.4.4-.9.4-2.1.4 2.1.4-2.2.4.1.4-3.1.4.9.4-.2.4.6.4 1.5.4.6.4-1.7.4 2.9.4-2.1.4.1.4-2.4.4.2.4-1.4.4 0 .4-1.2.4-2.5.4-1.9.4-.7.4 2.8.4-2.9.4 2.1.4-.7.4-.9.4-2.5.4 3.1.4-.2.4-1 .4 1 .4 0 .4 1.4.4-1.6.4 1.5.4 1.8.4.2.4-4.4.4.2.4-4.2.4 2.8.4-1.2.4.6.4 3.7.4-1.9.4.5.4-.1.4 1.3.4.2.4 2 .4-.8.4 2.9.4-.4.4-1.2.4.2.4 3.6.4.2.4-3.1.4-.5.4 2 .4.9.4-1.7.4-2.4.4-1.1.4 2.4.4-1.2.4.5.4 1 .4.1.4 2.1.4-2 .4 1.5.4-1.4.4 1.9.4-2.1.4 1 .4 1.7.4-2.6.4 3.5.4-.6.4-.8.4 2.3.4-2.4.4.2.4-.2.4 2.5.4-1.4.4.3.4-1.7.4 1 .4.7.4-1.8.4-.3.4 1.3.4-.7.4 2.1.4-.1.4-2.6.4.7.4-.3.4 1.2.4.8.4.3.4.6.4-3.4.4 1.2.4 1.4.4-.9.4 0 .4.3.4-3.5.4 1.7.4-1.2.4.5.4-2 .4-.2.4.1.4-3 .4.4.4 1 .4-.7.4 3.6.4-.9.4-2 .4 1.7.4.8.4.4.4-.9.4 2.3.4-.4.4-1.2.4.7.4 1.6.4-.2.4 1.2.4-1.9.4 1.5.4-.9.4.9.4-1.5.4-1 .4 2 .4-.7.4-.8.4 1.8.4-1.6.4.9.4-1.7.4 1.5.4-.2.4-2 .4.7.4.9.4 1.2.4 2.2.4-.9.4.7.4-3 .4 1.1.4-.8.4.4.4.8.4-1.5.4.2.4.4.4-.4.4.8.4-.9.4-1.4.4-.9.4 1.1.4 1.8.4 1.1.4-2.7.4 3.6.4-.5.4-2.3.4 3 .4-1.1.4-.3.4 2.5.4-1.4.4-.6.4.8.4-1.4.4 2.4.4-1.5.4-1.2.4.4.4 1.9.4-1.4.4 2.5.4-2 .4-.5.4 2.3.4 0 .4-1.2.4 2.8.4 1 .4-.5.4-1.6.4 3.1.4-2 .4 1 .4-1.8.4 0 .4 2.2.4-2.8.4-.7.4 1.3.4-3.1.4-1.7.4-.2.4 1.3.4-.6.4-.5.4-.5.4-.5.4 1.3.4.2.4-1.1.4 2.8.4-.6.4-2.2.4 2.3.4 1.2.4-2 .4 2.5.4.6.4-.5.4-.7.4.2.4-.7.4 2.9.4-.4.4-1.3.4 3.3.4-.6.4-1.8.4-.5.4.2.4.1.4-1.6.4.3.4 0 .4-1.2.4 1.3.4 1.1.4-3.5.4 2.3.4-.3.4-2 .4 2.2.4-1.8.4-.1.4.8.4-3.2.4 2.8.4-.4.4-3.1.4.3.4 1.7.4-2.5.4-1 .4 3 .4-.6.4-1.3.4.9.4.6.4-1.6.4-3 .4 3 .4-3.1.4 1 .4 1.5.4-2.1.4-1.4.4 4.3.4-2.6.4.7.4-.3.4 0 .4 3.6.4-2.8.4 2.1.4-1.9.4 2.8.4-1.3.4.9.4 1.7.4.8.4-1.9.4 0 .4 3.6.4-1.3.4-.2.4-.4.4-.8.4.3.4 2.2.4-3.2.4 1.4.4-1.5.4 2.6.4-3.5.4 0 .4 2 .4-3 .4-.9.4 2 .4-1.8.4-1.3.4-.5.4.5.4.3.4-.8.4.2.4.4.4-1.4.4 1.2.4-.4.4 2.5.4-.8.4-.2.4.7.4-1.6.4 2 .4-.5.4 1.2.4-1 .4.8.4 1.2.4-2 .4 1.1.4 1 .4-1.6.4.9.4-.7.4-1.6.4 1.6.4.3.4-1.8.4-.7.4.3.4.9.4 1.6.4-3 .4-.5.4 1.9.4-.9.4.8.4.7.4-.7.4 2.2.4-3.3.4 2.1.4.7.4-.7.4 2.1.4-3 .4 1.1.4-.5.4 2.3.4 0 .4.8.4-.9.4-.5.4-.7.4 2.6.4.1.4-.8.4-.1.4 1.5.4-.4.4.5.4-2 .4-2.7.4-1.4.4.2.4.2.4.3.4-1.9.4-1.9.4 3.4.4-1.5.4-.6.4 1.4.4.3.4-.4.4 2.4.4-2.9.4.6.4.4.4 1 .4-.8.4-1.5.4.4.4-.3.4-1.2.4 0 .4 1.1.4-.3.4-.1.4.9.4 1.4.4-.8.4 1.1.4-2 .4.7.4-.7.4.7.4-.2.4.6.4-1.4.4 1.8.4-1.5.4-.2.4.1.4.8.4-.8.4 1.2.4-.8.4.1.4 2.1.4-2.4.4 2.6.4.2.4-.7.4-.1.4 1.2.4-1.2.4 1 .4.3.4-.2.4-2.3.4 2.1.4-1.4.4-2.5.4 1.4.4 1.1.4-.9.4.2.4-2.4.4 1.5.4-.1.4.7.4-.9.4-2 .4-.2.4 2.1.4.5.4-2.9.4 3.3.4-.9.4-1.5.4.7.4.6.4-.1.4-3 .4 1.4.4 2.7.4-1.5.4 1.4.4-1 .4-1.6.4 2.7.4-3 .4 3.4.4-2.8.4.3.4-1.3.4 2.9.4-1.2.4-1.7.4 3.5.4-3.2.4.8.4 3.2.4.3.4-2.1.4.5.4.3.4-1.5.4 2.1.4-.2.4.7.4-2.5.4 1.1.4-1.2.4-1.5.4.9.4.3.4 3.4.4-2.6.4.6.4-.6.4-.4.4 3 .4-1.4.4-.1.4.1.4.4.4-3.1.4 1.2.4.5.4-1.1.4-.4.4 2.5.4-2.5.4-.3.4-.8.4 3.3.4-2.4.4 1.1.4-2.5.4-.5.4.3.4.2.4 1.9.4 0 .4-3 .4 3.6.4-.4.4-1.5.4 2.2.4-3.4.4.5.4.6.4 1.6.4-2.9.4-.2.4 1.5.4 1 .4 0 .4-2.9.4.3.4.9.4.3.4 2.5.4-1.7.4-.8.4 1.5.4.9.4 1.2.4-.3.4-1.1.4-.7.4.8.4-.1.4 0 .4 2.7.4.1.4-1.8.4-1.6.4.9.4-.5.4 3.3.4.4.4-1.7.4.7.4 1 .4-.6.4-2.2.4.9.4-2.3.4.6.4 1.9.4-.2.4.6.4.4.4-1.3.4 2.2.4-1.6.4.5.4.9.4-2.5.4 1.7.4 0 .4 1 .4-.6.4 1.7.4-3.2.4 1.7.4-.2.4 1.8.4-1.7.4 2.3.4-.2.4-1 .4.5.4.7.4-.4.4-2.7.4 3.1.4.2.4.1.4.5.4-2.6.4 1.6.4.5.4-2 .4 2.4.4.4.4-2.7.4-.7.4 2 .4.4.4 1.1.4-2.3.4 2.3.4-.4.4-1.9.4.8.4.3.4.6.4-3.1.4.5.4-.5.4 1.4.4 1 .4-2.3.4.7.4.5.4-1.2.4 2.9.4-1.5.4 2.8.4-1.1.4-1 .4-.5.4 2.4.4-.4.4.9.4 1.9.4-2.2.4 2 .4 1.8.4.5.4 1.1.4-1 .4-3.8.4 2.5.4-2.5.4 1.7.4-1.3.4.5.4-3.1.4.8.4-2.5.4 3 .4-1.6.4.3.4-1.3.4 2.7.4-1.7.4 0 .4-.6.4-.9.4-.4.4-.5.4-.9.4-3.2.4-.4.4-.9.4 2.4.4-.8.4.2.4 3.1.4-.6.4 1.4.4-.1.4-.7.4.6.4-1.6.4.2.4-2.6.4 1.9.4-1.4.4 1.4.4-2.2.4-.5.4.7.4 1.2.4 1.4.4-.9.4-2.6.4 1.3.4 1.1.4-.7.4-2.8.4.6.4 2.5.4-1.7.4-.5.4-1.8.4 1.8.4 1 .4-2.5.4 2.4.4-.3.4 1.7.4-4 .4-.1.4 2.5.4-2.4.4 2.2.4 1.1.4.2.4.5.4.5.4-.4.4-1.9.4 2.9.4.6.4-.1.4-.6.4 1.1.4-2.8.4 3.3.4-2.8.4.3.4 0 .4 1 .4 2.8.4-1.1.4 1.2.4-1.1.4.5.4-1.5.4 1.2.4 1.3.4.4.4.5.4-2.9.4.3.4-.5.4.9.4.6.4.9.4-.2.4-1.7.4.8.4.7.4-.1.4-1.5.4 2.1.4.5.4-2 .4 0 .4-1.3.4.5.4-1.6.4 2.1.4 1 .4.6.4-.1.4 1 .4-3 .4-.4.4 2.6.4-.3.4-.4.4-.7.4 1.7.4 1.2.4-3.1.4 3.5.4-.6.4-1.8.4 2.5.4-.7.4.5.4-1 .4 1 .4.8.4-.2.4.3.4-.8.4 1 .4-1.8.4 1.4.4-2.3.4.7.4 1.5.4-.8.4 1.9.4-.8.4.8.4-2.1.4 1.6.4-.5.4-2.1.4 2.7.4-.5.4-2 .4.1.4.7.4 2.6.4-.9.4-.8.4.6.4-2.8.4-.1.4 1.6.4-1.7.4 1.8.4.1.4-1.8.4 2.8.4-2.7.4 2.4.4-2.3.4-1.3.4.8.4.9.4-2.9.4.6.4 2.5.4.7.4 0 .4.2.4 1.3.4-2.1.4 2.6.4-3.3.4.5.4 1.9.4 1 .4.4.4-.7.4-2.1.4 2.4.4-.6.4 1.2.4-1.7.4 0 .4 2.1.4-3 .4 1.5.4.9.4-.6.4 0 .4-.7.4-.1.4-2.6.4.1.4 1.3.4 1.1.4.7.4-.5.4-2.8.4 2.9.4 1 .4-3.3.4 1.3.4.7.4-2.9.4 2.9.4-1.2.4 1.2.4-.5.4-.5.4-.8.4 2.2.4-1.5.4-1.2.4 2.5.4-.8.4.3.4-.6.4 1.6.4-3.7.4.9.4-.7.4 2.5.4-1.2.4 1 .4-.5.4-.3.4-.3.4-1.3.4.3.4 2.5.4-1.5.4 1.2.4.1.4.2.4-1.5.4-2 .4-.5.4 3.2.4-2.4.4.1.4-.1.4 0 .4.9.4-1.6.4-2.6.4 2.6.4 0 .4.3.4-1.8.4 1.6.4-1.4.4-.2.4.9.4.8.4-.3.4 2.8.4-1.1.4.9.4.8.4-1.7.4-2.3.4.5.4-1.8.4.8.4-1.6.4-3.2.4 1 .4-3 .4 1.1.4 2.7.4-1.2.4 1.6.4-.7.4 3.5.4-3.3.4 4.1.4-.9.4-2 .4 1.8.4 1 .4.8.4-2.6.4-.4.4.6.4-.3.4-1.9.4 2.9.4.1.4-2.7.4 1.5.4-2.5.4.6.4 2.2.4-.5.4-1.6.4 3.3.4-1.1.4.9.4-2.5.4.8.4.2.4-1 .4-1.4.4 1.3.4.7.4-1.4.4 2.5.4-2.6.4.6.4 2.6.4-1.3.4.9.4-3 .4 1.2.4 1.9.4-.6.4.2.4-.2.4.9.4-.3.4-1.7.4.6.4 3.4.4-.7.4-1.9.4 1.2.4 2.3.4-.4.4 1.3.4-3.7.4 1 .4 2.2.4-.1.4-.9.4 0 .4.9.4-1.4.4-.6.4 2.2.4-1.5.4 3 .4-.7.4-1.7.4 1.8.4.6.4-.4.4-2.5.4 1.4.4 2.3.4-.2.4-3.2.4 3.4.4.6.4-.9.4-.1.4-.3.4-2 .4.4.4 0 .4 2.7.4-1.4.4-1.4.4.5.4 2.3.4-2.5.4.5.4-1 .4-2.4.4 2.1.4-2.2.4-1.3.4 2.8.4.2.4-2.4.4 1.8.4-.3.4 1.6.4-.8.4.9.4-1.9.4 1.3.4-2 .4 2.8.4-2.6.4 1.8.4.2.4 0 .4.2.4-.4.4-1.4.4.6.4.3.4 1.5.4 1.1.4-3.5.4 1.3.4 1.8.4-2.4.4-.1.4 3.2.4-2.6.4 2.1.4-.6.4 2.7.4-1.6.4 3.6.4 1.6.4-1.9.4 1.1.4.3.4-.3.4 1 .4-2.4.4-2.7.4 2.4.4-3.4.4-.3.4-1.1.4.2.4.6.4-1.5.4 1.9.4-2 .4 2 .4 1 .4-2 .4-.3.4 1.8.4-1 .4-.5.4-.5.4 1.4.4-2.3.4-.5.4 1 .4 1 .4-1.2.4.4.4-1.5.4 1.3.4-.2.4-1 .4-.1.4-.1.4-1.4.4 1.4.4 2 .4-2.9.4 2.3.4-2.1.4.9.4-.7.4-1.3.4.2.4 1.1.4-1.9.4 1.7.4.4.4 1.3.4-3.4.4 3 .4-1.6.4.8.4-3.4.4 2.3.4-.9.4.8.4-1.7.4 2.8.4.3.4-3.1.4.4.4 1 .4 2.4.4-.5.4-.3.4.3.4 1.6.4-.8.4-.1.4-.4.4-1.9.4 0 .4-.1.4 0 .4-.7.4 2.3.4-2.2.4 2.5.4 0 .4.2.4.6.4-2.9.4 3.4.4-1.2" fill="none" stroke="#000" stroke-width="1.7" stroke-linejoin="round"/><path d="M60 115.7l.5 1 .5-1.7.5 3.1.5-4.1.5.9.5 3.8.5-.4.5 1.6.5-3.4.5-.7.5 1.5.5-2.3.5 3.2.5-3.3.5 2.1.5.8.5.1.5 1 .5-.7.5-1.6.5-.7.5 0 .5 3.2.5-2.4.5 1.9.5 2.1.5-3.9.5.9.5 1.5.5.4.5-2.8.5 1.6.5-1.7.5-2.1.5 1.7.5 1.2.5-1.7.5-1.8.5-1.5.5 1 .5-.4.5-2.1.5-3.9.5-.8.5-.9.5 1 .5 3.6.5-1.4.5 1.3.5 4.4.5-2.3.5 1.2.5 1.5.5-1.4.5-1.3.5 3.9.5-.7.5-2.9.5 3.5.5.8.5-2.4.5 3.3.5-3.5.5 1.8.5 3.1.5-1.7.5-1.4.5 4 .5 1.6.5-2.8.5 2.1.5 1.5.5-3.9.5 4.8.5-3.6.5 1.3.5 2 .5-1.1.5-.7.5.5.5-.2.5-3.1.5 3.4.5.9.5-.6.5-.6.5-2.5.5-2.4.5-.4.5.6.5-1.7.5-1.8.5-1.8.5 2.6.5-1 .5-3.8.5 2.8.5-1.4.5-1.9.5 0 .5 1.1.5 3.1.5 1.2.5-1.4.5 4.2.5-.6.5-3 .5.9.5-.4.5-1.6.5 1.3.5-2.7.5 1.2.5-1.8.5-.4.5 1.5.5.6.5-1.6.5 2.2.5 2.4.5-1.7.5.8.5-4.7.5 2.6.5.7.5-1.7.5 1.1.5 1 .5-1.4.5 1.9.5.6.5-1.3.5.7.5-1.4.5-.6.5 1.8.5-1.6.5 3.4.5-1.8.5 2.6.5-2.8.5 3.9.5.3.5-3.6.5-.9.5 1.2.5 0 .5-1.3.5 1.4.5 2.1.5-.4.5.3.5-1.9.5 2.1.5 1.2.5-4.2.5 4.8.5-.4.5-3.1.5 1 .5-1.5.5 2.7.5 1.9.5-1.9.5-1.5.5.7.5 1 .5-1.1.5 3.8.5-1.8.5-1.8.5 3.9.5-2.3.5.5.5 2.8.5-2.1.5-.9.5.9.5 2.8.5-.8.5-2.6.5 3.6.5-4.2.5 2.2.5 2.5.5-3.3.5-1.3.5 4.2.5-1.2.5 1.8.5-4.6.5 3.7.5.2.5-.1.5-2.8.5-.4.5 4.4.5-1.6.5 2.1.5-3.6.5 4.4.5-2 .5 1 .5.1.5.4.5-1.8.5-1.9.5.8.5-.1.5-.1.5 1.4.5-1.7.5-2.7.5-.9.5 4.4.5-4.1.5-1.1.5 0 .5-1.1.5.9.5 1.4.5 1.7.5 1.1.5-3.8.5-.2.5.4.5 1.7.5.3.5 3.9.5.6.5.9.5.2.5-2.9.5 3.2.5 1.1.5 1 .5.3.5.7.5-1 .5.7.5-2.8.5 4.2.5-4.3.5 1.6.5-1 .5 1.8.5.6.5-.8.5 0 .5 3 .5-3 .5 2.1.5 0 .5 2 .5.6.5-1.6.5 2.4.5-4.2.5.6.5 3.5.5-2.1.5 3.3.5-3.6.5-.2.5 1.2.5 1.4.5-1.3.5-.5.5.4.5-4 .5-1.4.5-.1.5.7.5 1.9.5-2.3.5-.3.5-3.8.5 3.3.5.1.5-4.3.5.3.5 3.1.5-1.1.5 3 .5-.1.5-.9.5-3.4.5.3.5-4.5.5.3.5-3.1.5-.3.5 3.2.5-3.9.5 2.7.5-3 .5 2.6.5-5.2.5 2.1.5-.6.5-.3.5 5 .5 1.2.5-3.9.5-.3.5.2.5-4.5.5 2.2.5-.7.5 3 .5-2.4.5.2.5 3.4.5-1.5.5 5.2.5-1.1.5-2.1.5.6.5.9.5 1.7.5 1.8.5 1.3.5-4.3.5 1.4.5-.9.5-2.6.5 3.6.5-1.8.5.4.5.6.5.3.5-2.1.5 3.5.5-2.6.5 4.4.5-2.1.5 1.4.5-.9.5-.4.5.9.5 3.1.5-4.5.5 1.2.5-.3.5 2.9.5-2.6.5 3.7.5-2 .5-.8.5-.5.5 1.8.5-1.3.5 0 .5.4.5-.8.5 3.6.5-1.8.5-.3.5 1.8.5-.4.5-.4.5-.4.5-3.6.5-.3.5-1.6.5-1.2.5-1.5.5-1.2.5-.7.5 4.8.5-.9.5-.6.5-1.2.5 4.1.5-.5.5.7.5-2.6.5 4.5.5-.3.5-.5.5 1 .5-1.8.5.8.5.9.5 1.9.5-1.7.5.1.5 1.1.5-2 .5-2.4.5-.2.5 1.3.5-1.3.5 2.4.5.3.5-3.6.5 3.1.5 1.6.5 1.5.5-3.2.5 2.3.5 0 .5.3.5-2.4.5 1.1.5.4.5-1.9.5-1.8.5-1.7.5 4.9.5-1.9.5-.8.5 3.2.5-.8.5-2.5.5 3.6.5-1.4.5-1.1.5 3.2.5-3.2.5 1.4.5-.6.5.9.5 2.7.5-.9.5-2.8.5 3.2.5.1.5-3 .5 4 .5-1.3.5 2.9.5.4.5.2.5-2.2.5 2.9.5-2.2.5 2.9.5.6.5-1.5.5.8.5-3.8.5-.6.5-4 .5 1.7.5.8.5-1.6.5 1 .5-4.9.5 1.9.5 1.5.5-.3.5 2.9.5 0 .5-3 .5 2.8.5-2.6.5 1.2.5 2.9.5.1.5.4.5.4.5-2.9.5 1.8.5 1.2.5.4.5-.2.5-.8.5-.7.5.5.5 1.7.5-2.5.5-2.5.5 4.1.5-5 .5 2.2.5-2.7.5.7.5 2.3.5-3 .5.7.5-2.4.5-1 .5 1 .5.1.5-.2.5-1.3.5 2.7.5.7.5-5.1.5 3.5.5-2.1.5 1.1.5-1.2.5-2.3.5 3.5.5.3.5-.6.5-2.2.5 1.9.5 2.6.5-4.1.5 3.8.5 1.6.5.4.5-4 .5 3.1.5-.5.5 0 .5 3 .5-2.4.5 1.9.5 1.4.5-3.9.5.1.5 1.4.5.5.5-.7.5 1.1.5-3.4.5 1.8.5.2.5-1.3.5-3.8.5 2.8.5-1.2.5-2.5.5.6.5-.4.5-.6.5 3.7.5-1.2.5 1.3.5-1.1.5 1.8.5-.5.5.9.5-3.6.5 2.9.5-2.1.5 2.8.5-.8.5 2.2.5-3 .5 1.3.5 1.4.5-4.5.5.6.5 1.5.5.2.5 1.4.5-3.2.5 1.4.5 1.3.5-5.2.5 4.3.5-2.5.5 3.4.5-1 .5.1.5-.4.5-1.1.5.6.5 2.7.5-.3.5-1.4.5.3.5 2.3.5.4.5-1.2.5-.2.5-.8.5 1.4.5 1 .5-.5.5-.1.5-2.4.5-.8.5-3.3.5 1.6.5-2.5.5.6.5-.8.5.2.5-.3.5.9.5 1.7.5-1.9.5 1.8.5-2.4.5 1.7.5-1.6.5 3.6.5-.5.5-.8.5 1.4.5-1.4.5-.6.5-1.4.5.9.5 2.4.5-.7.5.8.5-3.6.5.2.5.1.5-.6.5 2.8.5-2 .5 2.8.5-.6.5-1.7.5 2.2.5-1.2.5-.9.5 2.7.5 0 .5.6.5.5.5-1.6.5 2.7.5.5.5-2.5.5-1.5.5-1.1.5-1 .5 1.1.5-.1.5-1 .5.2.5-2 .5.5.5.7.5-.1.5.5.5-1.9.5 1.5.5 1.1.5 1.2.5-.2.5-1.8.5-3.2.5 5 .5-.4.5-2.7.5 1.2.5 3.1.5-4.6.5 3.7.5.3.5-.5.5-3 .5 2.9.5-.4.5-3.9.5 4.2.5 1.2.5-3 .5 3.6.5-3.6.5 3.6.5-4.1.5.1.5-.1.5 2.2.5-2.1.5-.7.5 3.3.5-2.5.5 3 .5.8.5.3.5.3.5-3.8.5-1.1.5 1.6.5-1.4.5 2.7.5-3.3.5.7.5 1.6.5-.2.5-1.9.5-.7.5 2.8.5-1.6.5-.2.5.3.5-2.6.5-.6.5 4.1.5-3.7.5.4.5 2.9.5-.3.5 1.4.5-4.4.5 4.1.5-2.5.5 2.2.5-4.4.5-.7.5 4.7.5-2.5.5-.3.5 1.2.5-.3.5 1.4.5-.7.5 2.6.5-2.7.5.4.5-.6.5 1.1.5 3.7.5-3.3.5-.1.5 2.9.5-3.9.5 3.4.5 1 .5-3.3.5-.7.5 2.9.5-3 .5 1.6.5-2.1.5 1.5.5 1.5.5 1.9.5 1.3.5-4.2.5 4.1.5-4.6.5.5.5.1.5 4.2.5-2 .5-.8.5 2.7.5-3.6.5 2 .5 1.3.5-.9.5.5.5 1.1.5-1.2.5-2.1.5.9.5-1 .5 2 .5 1.6.5-.5.5-3 .5 5 .5-2.6.5-1 .5 0 .5-.3.5 1.3.5 2.2.5-2.2.5-1.5.5 2.7.5.3.5-2.7.5-.1.5-.9.5 3.1.5-2.8.5-.7.5 3.3.5-.7.5-.3.5-1.5.5 2.2.5 1.6.5.2.5 1.6.5.5.5-2.8.5 3 .5 1.1.5-3.1.5 1.6.5.5.5-1.2.5 4.1.5-1.6.5-.2.5-1.4.5-3.9.5 2 .5-1.3.5-2.2.5 2.9.5-2.6.5.9.5 2.8.5.1.5-1.8.5-1.4.5-2.1.5.2.5-1.7.5-3.2.5 3.2.5-1 .5 3.1.5-.5.5.8.5-3.9.5 3.4.5.8.5-3.2.5 1.3.5-.9.5-.9.5 2.2.5-2.1.5 1.2.5-1.1.5-2.2.5.2.5 1.4.5-1.8.5 1.4.5-1.8.5 1.2.5-2 .5 0 .5-1.4.5 1.2.5-1.1.5 3 .5.5.5-.4.5-.7.5.9.5-.8.5-.1.5.5.5.8.5-1.5.5 4.2.5-.3.5 1.3.5-2.7.5-1.2.5 5.2.5.3.5-3.2.5 0 .5 2.8.5-1.4.5 2.7.5.2.5-2.5.5 2.4.5-2.2.5 2.6.5 0 .5-1.5.5-1.4.5-1.1.5 1.1.5 2.4.5 1.7.5-3.3.5 1.7.5.7.5-4.6.5 1.2.5-.8.5 3.5.5-1.8.5-2.7.5 1.2.5 2.3.5-2.8.5 4.3.5-3.7.5 2.6.5-2.9.5 2 .5-.6.5 3.8.5-.2.5-2.9.5-.7.5 2.2.5 1.6.5-1 .5-.2.5-2.1.5 0 .5.7.5 1.2.5 1.5.5 1.5.5-.6.5-.3.5-2.4.5 1 .5-.5.5 2.1.5-.1.5-3 .5 3.4.5-2 .5 1.9.5-1.8.5.8.5 1.6.5-1.5.5.9.5-.9.5-.9.5.8.5 1.4.5-3.1.5-.4.5 3.2.5-4 .5.6.5.2.5 1.7.5-2.4.5-1.3.5 4.3.5-1.7.5-1.3.5 4 .5-.5.5 1.2.5-2.3.5-.9.5 2.7.5-.6.5.1.5-.2.5 1.1.5-1.2.5-.6.5-1.1.5.6.5 2.7.5-1.1.5-2.8.5 1.6.5-.8.5-1.2.5 2.3.5-.6.5-1.4.5.8.5-.8.5.8.5 1.8.5-.3.5-2.7.5.9.5-.3.5-1.3.5.4.5 1.2.5-.3.5.3.5 3.6.5-.4.5-.9.5-3.4.5-.6.5.1.5 2.5.5-1.3.5 2.4.5.1.5.5.5.2.5-2.9.5 1.3.5-2.4.5 2.6.5.6.5-2.4.5-1.7.5 2.2.5-.3.5-2.9.5 1.7.5 1.4.5-4.3.5 1.6.5-.2.5-1 .5-.8.5 2.9.5-1.2.5 1.2.5-1.8.5 3.7.5-.7.5 2 .5-1.7.5-.8.5-.8.5-.3.5-1.9.5.5.5-3.1.5-3.7.5 4.2.5-2.7.5 5.1.5.4.5-.3.5-1.9.5-.8.5 2.6.5 2.4.5-2.2.5-2.5.5 1.9.5-1.5.5-1 .5 2.8.5-1.9.5 1.1.5 1.3.5-.6.5-1.4.5-2.1.5 3.9.5-2.9.5 1.2.5 2.2.5-.6.5-2.7.5.7.5-1.6.5-1.5.5 5.4.5.2.5 0 .5-3 .5.7.5 1.1.5-2.4.5.9.5.2.5-.7.5-.4.5 4.4.5-.8.5.6.5-.6.5 1.1.5.9.5-2.4.5-.3.5.2.5.9.5.3.5.3.5 3 .5-.5.5.4.5-2 .5-1.3.5 1.1.5 3.4.5-4 .5.5.5 3.9.5-3 .5.1.5-.8.5 1.6.5.3.5-1 .5 3.3.5.3.5-1.5.5.4.5-1 .5-1.4.5 3.2.5.1.5-3.5.5-2 .5 1 .5-.2.5 1.6.5-4 .5 2.2.5-1.5.5-1.6.5.9.5.9.5 2 .5 1.6.5.2.5-.1.5-.2.5-1.4.5-2.7.5 0 .5-.6.5 1.9.5 3.8.5 0 .5.1.5.6.5-3.2.5.9.5-1.1.5 4.2.5-2.8.5-.6.5 2 .5 4.7.5-1.5.5-.1.5-.2.5 1.6.5-3 .5.6.5-1.2.5 1.9.5-4.5.5 1.5.5-2.4.5-.6.5 3.3.5-2.4.5-1.3.5 3 .5-.9.5-3.1.5 3.7.5-2.9.5 2.5.5-2.8.5 2.9.5-.2.5-1.4.5-3.2.5 2.8.5-1.6.5 3.5.5-1.1.5-.2.5-2.9.5-.1.5 2.1.5-.6.5.8.5-.3.5-1 .5-2.8.5 2.6.5.7.5-.7.5 1.8.5.4.5-3.8.5.6.5-.1.5-.2.5.6.5-1.9.5.3.5 0 .5 3.6.5.4.5-.3.5-3.3.5 2.4.5-.7.5 1.2.5-2.5.5-.2.5 1.4.5 2.4.5-2.4.5-.6.5.8.5 2.4.5-4.3.5 1.2.5 1.4.5.7.5.3" fill="none" stroke="#000" stroke-width="0.6" stroke-opacity="0.85" stroke-linejoin="bevel"/><path d="M60 121.7l3.6-.6 3.5-.4 3.6-.4 3.6 0 3.6.1 3.5 0 3.6-.1 3.6-.3 3.5-.3 3.6-.7 3.6-.7 3.6-.4 3.5.4 3.6.7 3.6.6 3.5.1 3.6-.1 3.6.4 3.6.7 3.5 1 3.6.7 3.6.2 3.5 0 3.6-.2 3.6-.3 3.6 0 3.5-.2 3.6.2 3.6-.7 3.5-.4 3.6-.3 3.6.4 3.6.6 3.5.4 3.6.5 3.6-.5 3.5-.7 3.6-.7 3.6-.4 3.6.4 3.5.7 3.6.7 3.6-.7 3.5-.7 3.6-.7 3.6.3 3.6.7 3.5.4 3.6.3 3.6-.3 3.5-.7 3.6 0 3.6.7 3.6 1 3.5-.3 3.6-1.4 3.6-.7 3.5-.7 3.6-.4 3.6-.3 3.6.3 3.5.4 3.6.4 3.6.3 3.5.3 3.6.1 3.6 0 3.6 0 3.5 0 3.6 0 3.6 0 3.5 0 3.6 0 3.6-.1 3.6 0 3.5.1 3.6 0 3.6 0 3.5.3 3.6 0 3.6-.7 3.6-1 3.5-.9 3.6-.7 3.6 0 3.5.5 3.6.4 3.6.6 3.6.4 3.5.4 3.6.3 3.6 0 3.5-.3 3.6-.4 3.6 0 3.6.4 3.5.3 3.6.4 3.6.5 3.5.5 3.6.5 3.6.2 3.6.2 3.5-.2 3.6-.7 3.6-1 3.5-.7 3.6-.1 3.6.1 3.6.3 3.5.4 3.6 0 3.6-.4 3.5-.4 3.6-.6 3.6-.4 3.6.3 3.5.8 3.6.7 3.6.6 3.5.4 3.6 0 3.6-.3 3.6.3 3.5.3 3.6-.3 3.6 0 3.5 0 3.6-.4 3.6-.3 3.6-.7 3.5-.7 3.6 0 3.6.7 3.5.7 3.6.7 3.6 0 3.6-.3 3.5-.7 3.6.7 3.6 0 3.5 0 3.6.3 3.6.3 3.6-.3 3.5-.4 3.6 0 3.6.1 3.5.3 3.6.3 3.6.2 3.6-.5 3.5-1 3.6-.7 3.6.3 3.5.4 3.6.3 3.6.3 3.6-.3 3.5 0 3.6 0 3.6-.3 3.5-.1 3.6-.3 3.6 0 3.6 0 4.2 0" fill="none" stroke="#f4b62a" stroke-width="1.55" stroke-linejoin="round"/><path d="M60 122.9l3.6.4 3.5.6 3.6.4 3.6.3 3.6-1 3.5-1.5 3.6-1.7 3.6-1.8 3.5-1.2 3.6.5 3.6 1.4 3.6.7 3.5-.7 3.6.4 3.6.6 3.5.4 3.6.4 3.6.3 3.6.7 3.5.5 2.2-1.9 2.1-1.4 2.9-.4 3.5-.3 3.6-.3 3.6-.4 3.6-.3 3.5.3 3.6.4 3.6-.2 3.5-.2 3.6-.3 3.6-.2 3.6 0 3.5.2 3.6.3 3.6.4 3.5.6 3.6.4 3.6 0 3.6-.7 3.5-.7 3.6-.8 3.6 0 3.5.3 3.6.2 3.6 0 3.6 0 3.5 0 3.6 0 3.6-.2 3.5-.3 3.6-.2 3.6-.2 3.6.2 3.5 0 3.6.5 3.6-.3 3.5-.4 3.6-.6 3.6-.1 3.6.1 3.5.6 3.6.4 3.6.3 3.5.2 3.6 0 3.6-.2 3.6 0 3.5.2 3.6.3 3.6.2 3.5.5 3.6.4 3.6.6 3.6.7 3.5.7 3.6.7 3.6 0 3.5-.6 3.6-1.1 3.6-1.1 3.6-1 3.5-1 3.6-.9 3.6.4 3.5.5 3.6.5 3.6.7 3.6.5 3.5.3 3.6.1 3.6 0 3.5-.1 3.6-.3 3.6-.3 3.6-.2 3.5 0 3.6.2 3.6.3 3.5.3 3.6 0 3.6-.3 3.6.3 3.5.4 3.6 1 3.6.8 3.5.6 3.6-.3 3.6-.7 3.6-.7 3.5 0 3.6 1.4 3.6.3 3.5.4 3.6 0 3.6-.2 3.6-.5 3.5 0 3.6.3 3.6-.3 2.1-1.4 2.9-1 2.8.3 2.9 1.4 3.6 1.4 3.5 1 3.6.2 3.6-.4 3.5-.5 3.6-.3 3.6 0 3.6 0 3.5-.7 3.6-.7 3.6.4 3.5.6 3.6.4 3.6 0 3.6-.7 3.5-1 3.6-.4 3.6-1 3.5-.4 3.6.3 3.6.4 3.6.3 3.5.1 3.6.3 3.6.4 3.5.6 3.6.4 3.6-.4 3.6-1 3.5-1 3.6-.4 3.6 0 3.5.4 3.6.3 3.6 0 3.6 0 3.5-.3 3.6 0 3.6-.1 3.5-.3 3.6 0 3.6 0 3.6.3 4.2.1" fill="none" stroke="#1b8bd5" stroke-width="1.75" stroke-linejoin="round"/></g>
<g clip-path="url(#c3)"><path d="M60 156.5l.4 1.3.4-.2.4.4.4 1.3.4-.1.4.5.4 2.5.4-.8.4-1 .4.6.4-.8.4-.9.4-.1.4.2.4.7.4-.1.4.7.4.6.4-1.3.4 2.1.4-.6.4 1.3.4-2 .4 1.5.4-1 .4 1.6.4.6.4-.4.4-.9.4 2.2.4 1.9.4-1.1.4.9.4 2.1.4-1.2.4.8.4 1.8.4 0 .4-.5.4.7.4-.6.4 1.3.4 1.2.4-1.7.4-.7.4 2.1.4-3.4.4-.2.4-.3.4-1.9.4-.3.4-1.1.4-6 .4-1.4.4-2.9.4.9.4-2.2.4.7.4-.6.4.2.4 1.7.4-1.8.4 1.3.4 2 .4 0 .4 0 .4.5.4.4.4-1 .4.8.4-.7.4 3 .4-.4.4-.5.4.4.4 0 .4 1.7.4-.3.4-.4.4.2.4 3 .4-.9.4 1.9.4-1.9.4.1.4 1.4.4.9.4 2 .4-.4.4-1.7.4 3 .4-2 .4 1.3.4.2.4 2.4.4-1.5.4.5.4 1.8.4-.5.4-1.3.4.4.4-1.2.4 2.4.4-.6.4-.9.4 2.8.4-2.8.4 3 .4-1.4.4.4.4-.2.4.2.4-3.4.4 1.7.4-1 .4-3.8.4-.2.4-1.2.4-2.4.4-2.5.4 2.1.4-2.1.4-.9.4-.2.4 1.1.4-1.7.4.2.4 1.9.4.4.4.1.4 1.5.4.3.4-.4.4-2.3.4.9.4-.8.4-2.1.4 1.3.4-1.4.4.5.4 2.5.4-1 .4.4.4.5.4 1.6.4-3.1.4.8.4-3 .4 2.1.4-1 .4 1 .4 1.3.4.2.4-.5.4 0 .4-.5.4-.7.4.8.4-3.2.4.7.4.3.4 1.3.4-1.5.4-.2.4-1.7.4 1.5.4.8.4.9.4 1 .4-1.6.4 2.3.4-1.4.4.1.4-.1.4.7.4-2.1.4 1.5.4-1.3.4 2.6.4-.6.4.8.4-3.3.4.8.4-.3.4.6.4-.5.4 1.5.4 1.1.4.9.4.5.4-.4.4 1.6.4-.9.4-.6.4 2 .4-1.1.4-.7.4-.1.4 1.1.4-.2.4 1.8.4-1.1.4 2.9.4-1.5.4.8.4-1.6.4.9.4 2.5.4-.6.4.9.4-1.8.4.7.4-.4.4 2.6.4-1.2.4 1.5.4-.4.4-.2.4.9.4-1.5.4-.3.4 2.1.4-1 .4-1.1.4 1.4.4 1.5.4-2.6.4.8.4 1.2.4.4.4-.3.4-1.3.4.3.4.1.4-.6.4.4.4 1.1.4-1.1.4 2.5.4-2.3.4 1.9.4 1.4.4-1.4.4-1 .4 3 .4-1.7.4-.3.4.6.4 1.9.4-.5.4.4.4.7.4.3.4-.2.4.7.4-.9.4-2.9.4 1 .4-2.2.4-.7.4-.1.4.4.4-.1.4 1.3.4-.3.4-.7.4-3.1.4 1.5.4-.1.4.3.4.1.4.4.4-2.7.4.6.4 2.4.4-.7.4 1.1.4-3.9.4 1.7.4-1.7.4-1.4.4-1 .4 1.3.4 1.8.4 1.1.4 1.6.4-.6.4 1.1.4 1.4.4 2.3.4.1.4-.6.4 1.4.4-.5.4 1 .4 2.2.4-1.1.4-.7.4 1.6.4.7.4-.8.4 1.8.4-2.5.4 3.1.4-1.6.4 1.8.4-1.8.4.8.4 1.4.4 1 .4-.8.4 1.6.4-.7.4.7.4 0 .4 1.3.4-1.2.4 1.2.4-.8.4.4.4-2.3.4-.7.4-.1.4 2.3.4-2.2.4 2 .4-1 .4 1.9.4.3.4-.1.4 1 .4-1.7.4.7.4-.7.4.9.4 1.4.4-3.7.4 1.4.4-2.4.4-.2.4-3.4.4-.7.4 1.4.4-1.7.4.2.4-.1.4-1.8.4 2.7.4 1.9.4-1.7.4 0 .4 3.2.4 1.2.4-2.9.4-.4.4 1.4.4-.4.4-2.5.4 1.2.4-2 .4-.5.4.1.4-2.1.4-.5.4-1.9.4-1.1.4-1.3.4 1.7.4-1.7.4-.2.4-3.2.4.9.4.1.4-2.8.4-1.9.4 2.9.4-.2.4 1.6.4 2.3.4 3.1.4 0 .4-3.9.4-2.6.4-3.5.4 1.4.4-.1.4 1.1.4-.3.4-.7.4-.7.4 2.6.4.4.4-.6.4-.1.4.8.4 2.4.4-.9.4 1.8.4 2.3.4-.8.4-1.5.4 3.1.4.8.4-.3.4-2.5.4 1.4.4.9.4-3.1.4 1.7.4-1.8.4-.4.4-.2.4 1.5.4-1.2.4 2.2.4-1.2.4 2.2.4.3.4-1.2.4 1.1.4.9.4-.5.4.5.4-.1.4.7.4 1.9.4-1.9.4.7.4 0 .4-.6.4 1 .4.6.4-.5.4-.7.4 3.1.4-2.1.4-.3.4.4.4-.2.4 2.6.4-2.3.4 2.2.4-.8.4-.3.4 0 .4.9.4-1.4.4.4.4-.2.4-.2.4 2 .4-2 .4 2.5.4-3 .4.9.4 1.2.4-4.6.4-1.2.4.2.4-.9.4-.6.4-.6.4-1.9.4.5.4 1.4.4-.6.4.2.4.3.4-1.3.4 0 .4.1.4-1.4.4-.6.4.3.4 2.4.4-.2.4-.4.4 1.5.4-1.4.4 2.8.4-1.8.4 3.1.4-2.3.4 2.9.4-1.6.4 1.1.4-2.5.4-.8.4-.3.4-.3.4 1.2.4-1.6.4 2.2.4-.9.4 1.1.4.2.4-1.1.4 2.6.4-.2.4.3.4-1 .4 1.5.4-.7.4-.5.4.1.4-.3.4-3 .4-.3.4 2.3.4-1.7.4 0 .4-1 .4 1.9.4 0 .4-1.3.4-.1.4-1.3.4 1.6.4 1 .4-2.1.4 1.2.4.6.4 0 .4.1.4.7.4.5.4-.1.4 1 .4 1.4.4-.8.4 2.1.4-1.9.4 1 .4.7.4 1.7.4.2.4-1.3.4 1.7.4-1.8.4.3.4 3 .4-.8.4 0 .4-1.6.4.8.4.2.4 1.7.4 2.4.4.6.4-1.9.4.8.4-.7.4 0 .4-.4.4-2.9.4 1.2.4-3.1.4.5.4-.5.4-2.6.4.1.4-.4.4-.3.4-.2.4 0 .4 1.6.4 1.9.4-.2.4-1.1.4 1.1.4-.2.4 1.5.4 1.7.4-1.7.4-.5.4 1.9.4-.1.4 0 .4 2.2.4-.4.4-1.1.4.4.4 1.1.4.8.4-.8.4-3.2.4 1.6.4.2.4-1.8.4-.3.4-.5.4-.1.4.2.4.6.4-2.1.4 1.8.4 0 .4-1 .4 0 .4-1.4.4-.5.4.6.4 2.3.4-2.9.4 2.2.4-.8.4 1.1.4-.1.4-2.9.4 2.4.4-.5.4-3.4.4.6.4.4.4-2.6.4-.6.4 2.5.4-2 .4.4.4-.4.4.9.4.2.4-1.8.4-.2.4.4.4.6.4 2.6.4 1.5.4 1.4.4-1.6.4 2 .4 1.5.4-2.2.4 1 .4.3.4-.3.4-1.1.4 1.1.4-.6.4 1.5.4-.7.4-.1.4.3.4-.9.4.1.4-.4.4.6.4.3.4-1.5.4 1.2.4 1 .4-2.6.4 0 .4-.3.4.3.4-.7.4.3.4-2.3.4-.7.4.7.4-.6.4-1.8.4.5.4-1.2.4 1.7.4-.2.4-2.6.4 1.8.4.2.4-1.8.4.7.4 1 .4-.3.4 1.8.4-1.2.4 1.1.4-2.1.4.2.4 2.1.4-1.9.4 2 .4-2.6.4 3.7.4 1.4.4 1.6.4.2.4-2.2.4.8.4-1.7.4.7.4-3 .4.2.4.2.4-1.8.4.1.4 1.1.4-.9.4 1.4.4-.8.4 2.5.4-1.3.4 2.2.4.1.4.6.4.2.4-.1.4.7.4-.6.4 1.2.4-.3.4 2.5.4-1.3.4 1.8.4.4.4-1.4.4.6.4 1.3.4-3.5.4.4.4-.5.4-3.4.4-1.9.4-.7.4-1.2.4 2 .4-2.3.4-.2.4 2.7.4.2.4-2.9.4-.2.4.7.4 1.7.4-.7.4-2 .4.8.4 1.5.4-.4.4-1.3.4 1 .4.3.4.6.4-.9.4.8.4-1.2.4.9.4-.9.4.1.4 2 .4-2.5.4 1.6.4-2.2.4 1.8.4-1.4.4.7.4-2.2.4 0 .4 1.4.4-.3.4-.8.4-.7.4.8.4.6.4.1.4 3.4.4.7.4-2.6.4 1.7.4 1 .4-.4.4-.7.4 0 .4 1.4.4-.6.4-2 .4 1.1.4.5.4.1.4.1.4-.9.4-.6.4.4.4.9.4-1.6.4 1.1.4.2.4-1.8.4 1.3.4-1.8.4-.2.4 1.2.4-1.4.4.6.4-.6.4.7.4-.4.4.3.4-3.7.4 1 .4 2.5.4-1.4.4 2.9.4-.4.4-.1.4 1 .4-2.7.4.6.4-1.5.4 2.3.4-3.3.4-.3.4.8.4-1.8.4-.3.4.4.4 1.5.4-1.6.4 2.3.4-.8.4-.6.4 2.3.4-2.2.4 2.3.4.3.4 0 .4-2.2.4 2.7.4-1.7.4 1.3.4-3.2.4.9.4-1.4.4 1.3.4-.2.4-2.2.4.8.4 2 .4.8.4-.5.4 1.5.4.5.4-3.7.4.3.4.7.4-.2.4-3.2.4 1.5.4 1.3.4-.4.4-1.9.4 1.1.4.3.4.5.4 1.7.4.3.4-.3.4-1.4.4.7.4.5.4-1.3.4.6.4-1.2.4-.1.4-.4.4-.4.4-1.4.4-.5.4 1.2.4 1.3.4-.7.4 1.4.4-2.5.4.1.4.1.4.4.4 1.5.4-2.1.4.6.4-.9.4-.2.4 1 .4.5.4-1.7.4.4.4-1.3.4 2.7.4-3 .4 1.7.4 1.5.4-1.4.4.9.4-2.6.4 2.8.4-.3.4-1.8.4.3.4-.2.4 2.6.4.5.4-.6.4-.3.4 0 .4 1.1.4.6.4.7.4.5.4.1.4.5.4-3.1.4 3.5.4-1.7.4 1.7.4-.9.4 1.3.4-1.9.4.3.4.9.4-.1.4 1.9.4-1.3.4.8.4-.9.4.5.4 1 .4.3.4 1.4.4-2.6.4 2.3.4-.7.4.2.4.3.4 1.6.4-1.4.4 1.7.4 1.6.4.2.4-1.5.4-.1.4 1.7.4-1.5.4-2 .4.5.4-.5.4-.2.4 1.2.4.3.4 2 .4-.2.4-2 .4 2.4.4.3.4 0 .4 0 .4-.8.4-.1.4-.5.4.7.4-.7.4 0 .4.7.4-1.4.4-1.5.4-1.5.4-.5.4 2.1.4-.2.4-1.9.4 0 .4 1.5.4 0 .4.5.4.2.4.7.4 2.4.4-1.2.4.4.4 3.7.4-1.2.4.1.4 1.2.4 2.1.4-1.3.4-.3.4 3 .4-.8.4-.4.4-.9.4-1.2.4-.4.4 1.8.4-.7.4 1.3.4-2.9.4 2.3.4-2.8.4 1.9.4.9.4-1 .4-1.7.4 2 .4-3.4.4-3.1.4-1.1.4-.1.4-3.2.4 1 .4-2.6.4.7.4 2.4.4.5.4-1.3.4 1.9.4-.4.4 1.2.4-.1.4-1.1.4 1.8.4-3 .4.6.4 2.9.4-2.1.4 1.1.4-1.8.4-.2.4-.1.4-.8.4-.2.4-.9.4 1.7.4-2.8.4 1.3.4-1.1.4-.8.4-.3.4-.2.4.3.4-1.8.4 1.4.4-.3.4-1.6.4-1.4.4 1.3.4-.1.4-.1.4.7.4 1.9.4-.7.4-.7.4.2.4.1.4.7.4-.4.4 0 .4 1 .4-2 .4 2.2.4-3.1.4-.8.4 1.8.4-.4.4 1.9.4-2 .4 2 .4.8.4-1.7.4-.4.4 2.7.4-1.9.4 3 .4-.1.4-1.7.4 1.9.4.9.4-1.8.4 1.2.4-1.5.4.7.4 1.5.4-.3.4 1 .4.1.4-1.1.4 1.8.4 1.3.4-2.3.4 1.7.4-.7.4 0 .4.1.4-.8.4-.4.4.1.4-.7.4 1.4.4 1.5.4-2.5.4-1.3.4.3.4.9.4-1 .4.4.4 2 .4-.1.4-.5.4-.4.4.4.4-.9.4.8.4.9.4.6.4-.9.4 1.1.4 1 .4-1.7.4 1.1.4-.3.4 1.2.4-1.6.4-.4.4 1.5.4-.6.4-1 .4-1.2.4 1.5.4-3.1.4 3.5.4-.9.4 1.4.4-.1.4.9.4-1.6.4 2 .4.8.4.6.4.1.4-2 .4 1.5.4-1 .4 2.3.4-1.5.4.9.4.8.4.3.4-2 .4 2.3.4-.4.4-.5.4-.7.4 1.2.4.6.4-1.8.4-.3.4 1.9.4-2 .4 1.3.4-.7.4-3.5.4-.7.4-2.1.4 3.1.4 1.7.4-1 .4.7.4 2 .4-.4.4.6.4-1.2.4 2.2.4-1.3.4.8.4-.8.4.6.4.1.4.9.4-2.3.4.2.4-.2.4 1 .4-1.4.4.5.4-.4.4-1.3.4 2.4.4-1.5.4 1.8.4-1.2.4.1.4-.1.4 1.1.4.4.4-2.8.4 2.1.4-1.2.4-.5.4 0 .4-.7.4.8.4-.4.4-1.7.4 1.9.4-.3.4 0 .4-2.4.4 0 .4 1.2.4 1.6.4-2.2.4 1.3.4-1 .4 1.6.4 1.3.4-.6.4-2.5.4 2.2.4-.7.4-.9.4-.3.4 2.2.4-1.9.4.9.4.8.4-1.2.4 1.5.4.7.4-1 .4.4.4 1.5.4-1.4.4-1 .4.1.4.7.4 1.2.4-2.5.4-.8.4-.6.4 2.1.4-2.3.4.4.4 1.5.4-1.6.4.2.4.9.4-.9.4.2.4.4.4-.3.4-.4.4 0 .4 1.3.4.4.4.4.4 1.8.4-3.2.4 1.7.4.2.4-2.7.4 2.3.4-1.8.4-1.9.4-2.5.4-3.5.4-2.1.4 1 .4-.4.4 1.9.4 0 .4 2.8.4 1.4.4 1.8.4-.4.4 1 .4-.6.4 1.2.4-1.1.4 1.1.4.8.4-.4.4-.5.4 0 .4 0 .4 1.7.4-.6.4-.5.4-1.5.4.7.4 0 .4-1.8.4-.2.4.1.4 1 .4-.2.4 1.3.4 1.1.4-2.6.4.4.4-3.5.4-.9.4-.5.4 1.5.4.1.4-.7.4 2.4.4.8.4-1.3.4 1.1.4 1.6.4-1.1.4-1 .4-.1.4-2.9.4 1.7.4-3 .4.2.4-1 .4 2 .4 1.3.4-.5.4.3.4 1 .4.7.4.7.4 1.3.4-.9.4-1.1.4.3.4.9.4-.8.4.7.4.1.4-.6.4 2.4.4-2 .4 3.2.4.1.4-3.4.4.9.4-1.5.4-1 .4 1.5.4 2.3.4-1.9.4 2.5.4.2.4 1.3.4-1.9.4 1.3.4-1.2.4 1.6.4-1 .4 2.6.4-.3.4.6.4.1.4 1.6.4-.1.4.9.4.7.4-1.1.4.1.4-4 .4-1.4.4-1 .4-.4.4.6.4.3.4.8.4 0 .4-2.1.4.1.4-.1.4.4.4 1.5.4-.7.4.6.4-2.6.4 2.9.4-.6.4 1.3.4-1.4.4 3 .4.3.4-1.8.4.4.4 1.2.4-1.7.4 2.3.4.4.4.1.4-.3.4.3.4 1.2.4-.8.4-2.6.4 2.7.4-1 .4 0 .4.4.4.4.4-.3.4-.8.4-.7.4-1.3.4 1.2.4 3.2.4-.2.4 2.8.4.2.4-2.4.4 3.4.4-2.3.4-1.3.4 1.9.4-2.2.4-.9.4 0 .4-1.4.4-2.8.4.5.4-.3.4 2.4.4-.2.4.2.4-1.2.4-.9.4-.4.4 1.8.4-.9.4-1.9.4 1.8.4-2 .4 1 .4.8.4-1.4.4-1.8.4 1 .4-.7.4 1.2.4.5.4-1.6.4.3.4-1.2.4 2.6.4-.6.4-.4.4 1.4.4-.1.4.4.4-1.4.4.5.4-.5.4 0 .4 1.5.4-3.1.4-.1.4 2 .4-3.7.4 2.5.4-.3.4-.6.4-2.5.4-1.1.4-.2.4 1.3.4-.8.4-1.3.4 2.8.4-2.2.4.3.4 1 .4 0 .4 1 .4 1.4.4.4.4.8.4-1 .4 1 .4-1.6.4-.4.4 3 .4-1.4.4-.1.4-.6.4 2.1.4-.3.4-1.9.4 1.5.4-1.3.4 1.4.4-1.1.4.3.4-.5.4 2.5" fill="none" stroke="#000" stroke-width="1.6" stroke-linejoin="round"/><path d="M60 158.9l.5-1.2.5-1.1.5 3.3.5-2.4.5 2.8.5-2 .5 3 .5-.8.5-1.3.5 1.4.5-2.9.5 1.5.5.4.5 1.8.5.9.5-1 .5 1.7.5.1.5.4.5-2 .5.6.5-.6.5 4.4.5-3.1.5 2.8.5-.5.5 1.8.5-1.6.5 4.4.5 1.3.5-3.2.5 1.1.5 2.1.5 0 .5-1.8.5 1.1.5-1.2.5-.8.5-.7.5-1.7.5-1.5.5-1.8.5-4.2.5-3.8.5-.6.5-2.8.5-.7.5 2.5.5.4.5 3.3.5-1.6.5.8.5-1.5.5 1.7.5.4.5 3.2.5-2 .5.4.5 2.3.5-.8.5 1.5.5-2.1.5 1.7.5 2.6.5-.9.5 1.6.5-.3.5-2.5.5 3 .5 2.9.5-2.5.5 1.3.5-.6.5 1 .5 1.7.5.2.5 2.1.5 0 .5-1 .5 1.2.5.4.5-2.6.5 2.2.5-1.3.5 2.4.5-2.2.5.7.5-1.8.5-1.7.5 1.3.5-.9.5-2.1.5 1.7.5-6.4.5-.1.5.7.5-4 .5-1 .5-1.3.5.2.5 1.1.5-1.9.5 3.6.5 0 .5 1.9.5-3.1.5.7.5-2.4.5.3.5-1.2.5 3.6.5-2.4.5 3.9.5.3.5 1.4.5-2.5.5-1.4.5 1.4.5-.7.5-.8.5 0 .5 1.2.5.2.5-.5.5 1.3.5-3.8.5.8.5-1.5.5 2.2.5-.6.5-2.3.5 1.2.5-2.7.5 3.3.5 1.5.5.3.5 0 .5-.7.5.9.5-.8.5-1.4.5 1.9.5-.1.5-2.2.5 1.6.5-1.5.5 0 .5-.6.5-.5.5 4.5.5-1.5.5 1.4.5 1.7.5.9.5 1.3.5-4.3.5 2.4.5 2.3.5-1.3.5-2.1.5.9.5 2.5.5 2.2.5-3.8.5.8.5 2.2.5 1.1.5.1.5 1.1.5-1 .5 0 .5-.4.5 1 .5-2 .5-.1.5 1.8.5-1.1.5 2.7.5-1.3.5-1 .5.2.5 2.2.5.3.5-1 .5.7.5-.7.5 0 .5.9.5-2.4.5 4.2.5-4.1.5 2 .5 3.3.5.2.5.1.5-1.6.5 0 .5 1.7.5 1.1.5 1.1.5-2.3.5-.1.5-1 .5 3.2.5-.5.5-4 .5 2.4.5-2.7.5-1 .5 1.5.5-4.1.5 2.2.5-1.3.5-.9.5 0 .5-1 .5-.1.5 2.5.5-.2.5-1.3.5 3.5.5-2.7.5-.1.5-1.5.5 1.4.5-1.2.5 2 .5-2.7.5.4.5 2.5.5.3.5 2.3.5-.5.5 1.2.5 3.5.5-2.3.5 0 .5 4.7.5-2.3.5 3.2.5-2 .5-1.2.5 1.4.5 1.6.5-.4.5 2.5.5.5.5-1.9.5 2 .5-2.2.5.3.5 3.5.5.6.5-1.7.5-2 .5 0 .5.7.5.3.5 1.7.5-3.3.5 1.2.5.2.5 3.2.5.5.5.6.5.1.5-.4.5-2 .5-2.6.5 0 .5-1.6.5-2.3.5.6.5.2.5-1 .5-1.5.5-.8.5-.5.5.7.5 1 .5.6.5 3.8.5-2.2.5 2.1.5-2.2.5-1.8.5 1.1.5.9.5-2.2.5-4 .5-2.2.5 3 .5-4.8.5 2.2.5-3.5.5 1.5.5-.5.5-.7.5-1.4.5-.7.5-1.4.5.7.5 4.4.5 1.1.5-2.3.5-4.2.5 1 .5-.8.5-3.1.5 1.1.5 2.2.5.7.5.4.5-1.4.5 2.7.5-1.4.5 2.5.5 3 .5-.9.5-2 .5 2.9.5-.9.5-.3.5.4.5-.6.5.4.5.8.5.1.5-2.7.5-1.2.5 3.9.5.4.5 1 .5-1.1.5-.4.5.8.5.3.5-.3.5 4.2.5-.8.5-1.2.5.2.5 1.9.5-1.3.5 3.3.5-.3.5-.5.5-3.2.5 2.8.5-.2.5-1.1.5 2.9.5-1.5.5-1.8.5 2.1.5-.4.5-.7.5-1.1.5 2.9.5.4.5-3.2.5 1.6.5-.5.5-.4.5 1.1.5-3.9.5-2.1.5-2.3.5 1.4.5-3.1.5 1.4.5 1.7.5-.6.5 2 .5-.5.5-2.6.5 3 .5-.3.5-2.2.5-2 .5 3 .5 1.3.5-2.7.5 2.9.5-1.4.5.2.5 4.8.5-2.6.5 2.2.5-2 .5.3.5-2 .5 1.3.5-2.5.5 1.4.5 2.3.5-3.5.5-.1.5 4 .5 1 .5-1.3.5-1.9.5 1.9.5-3.7.5.5.5 2.5.5-2.1.5 0 .5 1.5.5-1.3.5.3.5-1.2.5-3.1.5.9.5-.3.5 1.5.5 2 .5-1.1.5-.5.5.3.5 3.1.5-2.6.5.9.5 2.2.5 1.3.5 1.3.5-2.4.5 4.4.5-2.1.5 2.4.5-2.8.5.3.5 3.7.5-3.5.5 4 .5-2.5.5 2.9.5-2 .5 3.7.5-2.8.5.8.5 1.2.5-2.7.5-1.2.5-2 .5 1.5.5-.7.5-4.8.5.4.5 2.6.5-3.4.5 3.1.5.8.5.9.5-2.1.5.5.5 2.5.5 1.4.5-.9.5.1.5 1 .5-1 .5 3.6.5-3.3.5.7.5 2.7.5-1.1.5-2.4.5 2.5.5-2.2.5.3.5-1.2.5-2 .5 1.6.5.1.5-3.3.5 2.1.5 1 .5-1.7.5-2.4.5 4.5.5-4.2.5 3.4.5-.9.5.9.5-3.9.5 0 .5 2.9.5-2.7.5.3.5-2.7.5 2.9.5-3.5.5 2.2.5 1.1.5-1.6.5.4.5.3.5-.8.5-2.7.5 3.8.5 2 .5-.3.5 1.1.5.7.5-.8.5.1.5 2.5.5-.3.5-2.9.5 4.4.5-2.1.5 1.5.5-2.7.5 1.5.5 2.5.5-2.3.5-1.5.5.2.5 2.4.5-4.5.5 2.4.5-2.3.5 1 .5-3.7.5-.7.5 2.6.5-4.1.5 0 .5 0 .5-.8.5.7.5 1.5.5.3.5-2.7.5 1.5.5 2.3.5-1.4.5-2.6.5 2.8.5 1.2.5-.7.5.9.5-.2.5-.6.5 0 .5-.6.5 1.5.5 3.7.5-2.7.5-1.6.5-1.4.5.3.5-3.1.5 1.2.5 1.4.5.6.5.8.5-.6.5.2.5 2.8.5-4.1.5 1.8.5 1.3.5 1.5.5 1.9.5-2.9.5 3.8.5.5.5-.1.5 1.5.5-2.5.5-1.2.5 2.5.5-3.2.5-1.1.5.9.5-3.5.5 0 .5-2.3.5 1.6.5-4.1.5 4.7.5-.9.5.9.5-3.5.5 1.7.5-.7.5-.8.5-.5.5.1.5 2 .5-.7.5 1.8.5.2.5-4 .5 3.9.5.1.5-.3.5-2.3.5-1.2.5 1.7.5-2.5.5.3.5.8.5 1.4.5-.3.5-.7.5-1 .5 1.6.5 2.1.5-1.9.5 3.5.5-1.9.5-1.7.5 0 .5 1.5.5 0 .5 2 .5-2.9.5 2.3.5 1.1.5-3.6.5 2.7.5 1.1.5-1.5.5-.6.5-2.5.5 2.9.5-1.6.5-2 .5 2.6.5.1.5.7.5-1.4.5-1.2.5-2.6.5 1.6.5.6.5-.3.5 3.1.5.3.5-.5.5.9.5 0 .5-2.6.5-2.5.5 3.7.5-2.7.5-2.9.5 1.7.5.4.5 1.7.5-.4.5 1 .5-4.2.5 1.8.5 2.5.5.3.5-2.1.5 2.4.5.1.5-.7.5.2.5-3.8.5.5.5-.6.5-.6.5 2.1.5-2.2.5 1.6.5 1.2.5-2.2.5.9.5.5.5.2.5-3.8.5-.1.5 2.2.5-1.3.5-.2.5 0 .5 4.4.5-2.4.5.2.5.7.5-.5.5.4.5-.6.5-2 .5 1.2.5.8.5-4.3.5 1.9.5-1.4.5.3.5-.9.5.8.5.6.5 2.2.5-1.7.5-2.3.5-.8.5 3.3.5-.2.5-1.4.5-2.3.5 1.6.5 1.8.5-2.5.5 3.1.5-1.1.5-2 .5-.5.5 1.4.5-.8.5 4.3.5-2 .5 1.5.5.4.5.4.5 1.3.5-2.7.5 1.8.5 2.2.5-.2.5-1.4.5-.8.5-.9.5 3.3.5-2.4.5 4.1.5-2.6.5.6.5-1.2.5.2.5.6.5 3.3.5-1.1.5-.5.5-.5.5 3.6.5-3.2.5 1.7.5 3.2.5-2.3.5 1.3.5.3.5 1.6.5-3.3.5 3.3.5-.2.5-.2.5-3.6.5 3.1.5.4.5-.2.5-2.2.5 0 .5.9.5 2.4.5-.2.5-.8.5-.3.5.4.5-1 .5 2.4.5-1 .5-.4.5-4.3.5-.6.5 3.1.5-1.8.5 1.7.5-3 .5.7.5 3.1.5-1.2.5 4.2.5-1.8.5 1.2.5 1.9.5.4.5-1.1.5 4.4.5-2.5.5 2.9.5-4.4.5-.9.5 3.9.5-2.7.5.2.5 1 .5-2 .5 3.7.5-2.6.5.7.5-1.1.5.7.5.2.5-5.3.5-2.1.5 1.2.5-5.4.5 2.5.5-2.2.5-.2.5 3.5.5.9.5-1.8.5-.5.5 1 .5 2 .5-2.5.5-.7.5 1.8.5-1.6.5 3.4.5-1.8.5-1.6.5-1.3.5 1 .5-.4.5-1.2.5-.3.5 0 .5-1.9.5 3.4.5-2.4.5.9.5-3.8.5-.4.5-.4.5.1.5 3 .5.5.5 0 .5-.6.5-4 .5 3.6.5-.7.5-.4.5-1.2.5 2.1.5-.5.5.5.5-.9.5.5.5 1.7.5-2.7.5 3.3.5 0 .5-3 .5 3.2.5-.2.5-1.3.5 3.2.5-2.1.5-.1.5 1.7.5.3.5-1.9.5 1.2.5 1 .5 2.5.5-1.8.5 3.2.5-2.1.5-.4.5 2.3.5-2.9.5 3 .5-.9.5-2.7.5 1.8.5 1.1.5-2.6.5-2.3.5 2.2.5.5.5-2.7.5 4.2.5-.8.5.2.5.4.5 0 .5-2 .5 3.1.5 1.7.5-1.8.5-1.4.5 2.5.5-3.8.5 1.1.5 1.6.5-2.3.5.8.5.9.5-3.2.5 3.5.5-1.2.5 2.7.5-2.5.5 4 .5-3.7.5.2.5 1.2.5.3.5-.1.5-.4.5 3.5.5-1.5.5.7.5-.5.5-.1.5-.5.5 1.3.5-1.3.5.8.5-.6.5 2.2.5-.6.5 1.4.5-.4.5-3 .5-.3.5-2.5.5-2.1.5 2.4.5 1.9.5.7.5 2.1.5-2.2.5 1.8.5.3.5 1.8.5-2.9.5 1.3.5-2.2.5.1.5 3.6.5-3.2.5 1 .5-1.7.5-.2.5 1.9.5-2.9.5.2.5-.3.5 1.1.5-.7.5 4 .5-.1.5-3.6.5-.7.5 1.5.5.2.5-1.1.5-1.5.5 2.7.5-1.6.5-2.1.5 2.1.5-2.4.5.6.5 3.5.5.3.5-2.1.5-.8.5-.6.5 4 .5-3.4.5 2.4.5-2.3.5.2.5 1.7.5-.3.5.5.5 2.1.5-2 .5.2.5.3.5 1.6.5.2.5-3.4.5 1.3.5.6.5-3 .5 1.8.5-2.7.5 1.3.5 1 .5.1.5-.1.5-3.3.5 1.1.5 2.4.5.2.5 1.3.5-2.2.5-.2.5 1.5.5 0 .5-1.7.5.7.5-1.9.5-1.5.5-2.1.5-.2.5-6 .5 2.1.5 0 .5 3.2.5 1 .5 1.6.5.1.5 3.3.5-2.1.5-.1.5 1.9.5-.2.5 1.7.5-.2.5-2.3.5 1.8.5 1 .5-2.2.5-2.8.5 2.8.5-1.2.5-.8.5 3 .5-1.2.5-1.5.5.8.5-3.7.5.7.5-.9.5-.3.5 1.7.5.2.5-.8.5 2 .5-.5.5 1 .5-3.7.5 1.2.5-3 .5-.2.5 3.2.5-4.9.5 5 .5-.7.5-.9.5.1.5 1.9.5 2.3.5-.5.5-.1.5.8.5.8.5 0 .5-.4.5.9.5-2.5.5.6.5 2.9.5-2.2.5-2.4.5 1.8.5-.1.5 1.9.5-2.5.5.4.5 4.1.5-3.4.5 2.8.5-.7.5-1 .5 3.9.5-.9.5.2.5-1.1.5 3.2.5 2 .5-1.9.5-.2.5-4.8.5 2.2.5-1.5.5.4.5-.2.5-.8.5-2.3.5 3 .5-2.3.5-1.2.5 1.2.5 2.6.5-1.2.5 1.8.5-1.9.5-.8.5 2 .5 2.6.5-.7.5-2.6.5 2 .5 2.7.5-.1.5-.3.5.4.5-2.4.5 1.4.5-.3.5 1.5.5-3.3.5 1.5.5-1.3.5 1.2.5-.6.5-1.8.5 2.2.5 3.6.5.6.5-1.2.5.6.5-.5.5.5.5-2.4.5-.1.5.9.5-4.2.5 2.2.5-1.7.5.6.5.2.5 1.2.5-3.1.5 1.6.5-3.4.5 1.9.5.3.5 1.6.5-.6.5-2.1.5-2.4.5-.6.5 1 .5 1.1.5-1.5.5-.1.5 3.4.5-2.2.5 2.3.5-.3.5 1.8.5-1.1.5-2.3.5-.6.5.2.5-1.9.5.8.5 2.2.5-2.4.5.3.5-2.1.5-1.2.5-.8.5-.8.5 2.3.5 1.1.5-3.6.5 3 .5-.6.5 1.5.5.4.5-.4.5-1.1.5-.5.5 2.9.5.8.5-.4.5.1.5 2.1.5.6.5-3 .5 2.1.5-2.5.5-1 .5 3.5.5-1.5.5.8.5 1.5" fill="none" stroke="#000" stroke-width="0.6" stroke-opacity="0.85" stroke-linejoin="bevel"/><path d="M60 170.6l3.6-.7 3.5-.8 3.6-.7 3.6-.4 3.6-.3 3.5 0 3.6-.3 3.6 0 3.5-.1 3.6-.7 3.6-.6 3.6-.7 3.5-.4 3.6-.3 3.6-.2 3.5.5 3.6.4 3.6.3 3.6.7 3.5.7 3.6.7 3.6.7 3.5.3 3.6.2 3.6-.2 3.6.2 3.5.5 3.6.9 3.6-.7 3.5-.5 3.6-.4 3.6.2 3.6.5 3.5.5 3.6.2 3.6.2 3.5-.2 3.6-.5 3.6-.5 3.6-.2 3.5-.2 3.6.2 3.6.2 3.5-.2 3.6-.5 3.6-.3 3.6-.1 3.5-.3 3.6 0 3.6-.3 3.5 0 3.6.3 3.6.7 3.6.7 3.5.3 3.6-.3 3.6-.7 3.5-1 3.6-.8 3.6-.6 3.6-.3 3.5-.1 3.6 0 3.6.3 3.5.1 3.6.3 3.6.3 3.6.1 3.5 0 3.6-.1 3.6-.2 3.5-.1 3.6 0 3.6 0 3.6.3 3.5.4 3.6.3 3.6.1 3.5 0 3.6-.4 3.6-1 3.6-.9 3.5-.7 3.6-.3 3.6-.7 3.5-.3 3.6.3 3.6.5 3.6.2 3.5.5 3.6.3 3.6.2 3.5.2 3.6.3 3.6 0 3.6.3 3.5.1 3.6.3 3.6.4 3.5.6 3.6.7 3.6.7 3.6.7 3.5.7 3.6.2 3.6-.4 3.5-1 3.6-.9 3.6-.6 3.6-.4 3.5 0 3.6 0 3.6 0 3.5-.4 3.6-.6 3.6-.4 3.6-.3 3.5.3 3.6.4 3.6.6 3.5.4 3.6.3 3.6.1 3.6.3 3.5.4 3.6.3 3.6.5 3.5.5 3.6.5 3.6.2 3.6-.5 3.5-1.2 3.6-.7 3.6.3 3.5.4 3.6.5 3.6-.2 3.6-.6 3.5-.4 3.6 0 3.6.7 3.5 0 3.6.3 3.6-.3 3.6-.4 3.5-.3 3.6-.3 3.6.3 3.5.3 3.6.4 3.6.5 3.6.2 3.5-.2 3.6-.8 3.6-.4 3.5 0 3.6.3 3.6.1 3.6.3 3.5 0 3.6-.3 3.6-.1 3.5-.3 3.6-.3 3.6-.3 3.6-.5 4.2-.6" fill="none" stroke="#f4b62a" stroke-width="1.55" stroke-linejoin="round"/><path d="M60 166.6l3.6.8 3.5 1 3.6 1.5 3.6 1.4 3.6.4 2.1.3 2.9-1.7 3.5-1.9 3.6-2.1 3.6-1.4 2.8-.8 3.6.3 3.6.2 3.5-.2 3.6-.3 3.6.3 3.6.7 3.5.9 3.6 1 3.6 1.4 2.8 1.5 2.2.4 2.8-1.2 3.6-1.4 3.6-1.4 3.5-1 3.6-.7 3.6-.5 3.6 0 2.1 0 3.6.3 3.5-.3 3.6-.7 3.6-.7 3.6-.7 3.5-.3 3.6.3 3.6.4 3.5.6 3.6.7 3.6.7 3.6.5 3.5-.5 3.6-1 3.6-.3 3.5.3 3.6.3 3.6-.3 3.6-.7 3.5-.7 3.6-.3 3.6-.1 3.5 0 3.6.1 3.6-.1 3.6-.3 3.5-.3 3.6 0 3.6 0 3.5-.1 3.6-.6 3.6-.4 3.6 0 3.5.2 3.6.2 3.6.3 3.5.3 3.6.1 3.6 0 3.6 0 3.5.3 3.6.3 3.6.4 3.5.4 3.6.7 3.6 1 3.6 1.2 3.5 1 3.6 1.1 3.6 1 3.5.7 3.6-.7 3.6-1.4 3.6-1 3.5-.7 3.6-.4 3.6-2.2 3.5-1.1 3.6-.3 3.6.3 3.6.4 3.5.4 3.6.3 3.6.3 3.5.1 3.6.3 3.6 0 3.6 0 3.5 0 3.6 0 3.6-.3 3.5-.1 3.6-.3 3.6 0 3.6.4 3.5.6 3.6.7 3.6.9 3.5 1 3.6 1 3.6.7 3.6.4 3.5.3 3.6.2 3.6.2 3.5.3 3.6.5 3.6 0 3.6 0 3.5-.3 3.6-.2 3.6.9 2.1.3 2.2-2.2 2.8-1.4 2.9 0 2.8.7 2.9.7 3.6.7 3.5.8 3.6.4 3.6.3 3.5.3 3.6.4 3.6.4 3.6-.1 3.5-.3 3.6 0 3.6 0 3.5 0 3.6-.7 3.6-.7 3.6-.8 2.1-.7 3.6-.7 3.5-.4 3.6-.3 3.6-.3 3.6-.1 3.5 0 3.6 0 3.6.1 3.5.3 3.6.4 3.6.3 3.6.4 3.5-1.1 3.6-1 3.6-.9 3.5-.5 3.6-.2 3.6.2 3.6.3 3.5.2 3.6.2 3.6 0 3.5-.2 3.6-.2 3.6-.3 3.6-.2 4.2-.3" fill="none" stroke="#1b8bd5" stroke-width="1.75" stroke-linejoin="round"/></g>
<g clip-path="url(#c4)"><path d="M60 211.1l.4 3.6.4-2.1.4 1.3.4 1.9.4-.7.4 2.6.4.9.4-1 .4 1.3.4-.2.4.5.4-2.5.4-1 .4-.5.4-.7.4.8.4-3.4.4.2.4.1.4-1.7.4 1.6.4-3 .4.1.4-1.9.4.5.4-2.6.4-.5.4.9.4-.3.4.5.4.5.4.1.4-1 .4-.9.4-1.6.4.2.4-.4.4-2.3.4 1.2.4-2.6.4-2.2.4 1.8.4-1.8.4-.2.4-1.8.4-.6.4-.3.4-2.5.4-2.6.4-.8.4 1.9.4 1.3.4.8.4 2.6.4 1.4.4 2.8.4-.1.4 2 .4 1 .4 2.8.4.2.4 2.6.4.4.4-1.2.4.7.4 2.9.4-1.7.4-.9.4 1.5.4-2 .4 1.9.4.6.4.9.4-1.7.4 2.1.4-.4.4 2 .4.8.4.7.4-1.4.4-.1.4 1.8.4.9.4-1.9.4-1 .4.1.4-.7.4 1.2.4-.8.4-2.5.4 3.2.4-1.4.4.6.4 1 .4-.4.4.4.4-2.4.4-.2.4-1.3.4 0 .4.1.4-1.4.4.5.4.1.4-1 .4-2.4.4.1.4 1.6.4-2.4.4-2.7.4-3 .4-5.4.4-.2.4-.4.4.6.4 3.9.4.3.4.5.4.1.4 1.4.4.6.4 1.2.4.4.4.4.4.5.4 1.4.4-3.3.4-1.3.4.7.4-.5.4 2.8.4.8.4-2.1.4.1.4.2.4-.7.4.2.4-.4.4-2.2.4 1.2.4-.6.4-1.6.4 1.3.4.3.4.2.4-.6.4 1.6.4.2.4.5.4-1.2.4.9.4-1.7.4 1.8.4-.9.4 0 .4-.6.4.8.4.5.4.4.4-1.4.4-1.1.4 1.8.4 1.9.4-1 .4 1.1.4 1.2.4.7.4 3 .4.5.4-.4.4-.4.4-.9.4 1 .4.3.4.3.4.7.4 1.8.4 0 .4-.3.4 1 .4-1.9.4.5.4 2.2.4-1.1.4 1.6.4-1.2.4-1.5.4.7.4-.3.4.9.4-1.6.4.2.4.5.4.2.4-1.9.4.8.4.2.4 0 .4 1.9.4-.4.4-.8.4.4.4 1 .4.5.4-.5.4.9.4-.4.4-1.3.4 1.9.4-1.5.4 2.3.4.2.4-.8.4-.3.4 2.2.4 1.2.4.4.4 2.5.4-3.9.4-.4.4-1.3.4-1.1.4.7.4-1.1.4-.1.4.3.4.6.4 1.4.4.1.4.6.4-1.3.4 2 .4-1.1.4-1.1.4-1.2.4-.3.4.2.4.1.4.4.4-.9.4.4.4 2.1.4-1.7.4 1.9.4-.2.4.4.4-.6.4-2.2.4 2.3.4-.3.4-.9.4.5.4 2.1.4-2.2.4-.1.4.5.4 2.3.4-2.1.4-.8.4 1.1.4 0 .4-1.7.4-.3.4-1.8.4 1.4.4-1.7.4 1.2.4.5.4-.3.4-2.1.4 0 .4 2.9.4-.9.4-1.2.4 2.7.4-.6.4 1.1.4-1.5.4.4.4.9.4.1.4 1.4.4 1.2.4-1.4.4-.2.4 1.2.4-.5.4 1.1.4 2.1.4-.6.4 0 .4-1.2.4.5.4.6.4-1.2.4.3.4 1.2.4.3.4-.1.4-1.9.4 1.3.4-.9.4.5.4-.1.4-.8.4-.1.4.4.4-1.3.4-1.4.4.1.4 2.2.4-.8.4-1 .4-1.6.4.4.4-1.1.4.3.4-.6.4 1.6.4 0 .4-.9.4.5.4 2.1.4-.2.4-.6.4.8.4 1.5.4.6.4 4.1.4 2 .4 1.1.4 2.7.4-2.7.4-1.4.4-1.2.4-1.9.4-4 .4-1.8.4.2.4-1.5.4-1.3.4.3.4.4.4-1.4.4.4.4.5.4-.4.4.4.4.1.4 1.2.4-.4.4 1.5.4 1.7.4.2.4-1.7.4-1.5.4-4.9.4-.5.4-3.9.4-1.7.4-2.6.4-.6.4-.5.4-.3.4 2.5.4-1.6.4 2.6.4-1.6.4-1 .4-.1.4.8.4-.7.4.8.4 2 .4-.1.4 1.1.4-.2.4 1 .4-2.3.4 1.2.4-.9.4.7.4-1.7.4.3.4.4.4.1.4.7.4 1.5.4-1.3.4 2.5.4 1.2.4.6.4-.4.4.2.4-.8.4 0 .4-1.3.4 2.4.4 1.8.4.8.4-5.7.4 6 .4.8.4-1.5.4 0 .4.4.4-.5.4-1.8.4 1.2.4-2.2.4-1.1.4.5.4.9.4 1.6.4.2.4-1.8.4.6.4 1.8.4-.6.4 2.7.4-1.4.4 2.5.4.1.4-.7.4 1.7.4.4.4-2.3.4.1.4-.6.4.9.4 0 .4 1.4.4-1.6.4.5.4 0 .4 1.1.4-.7.4 1.8.4-1.3.4-.3.4.9.4-1.1.4.6.4-1 .4 1.8.4-.9.4.4.4-1.7.4 0 .4-2.2.4-1.4.4-3.6.4.6.4-3 .4-.8.4-1 .4 1.6.4-1.4.4 1.1.4-.3.4-2.5.4 1 .4-.2.4 3.8.4-.7.4 1.2.4-.5.4.9.4 0 .4 1.7.4.4.4 2.3.4-.4.4 2.4.4-.6.4-.2.4.1.4 1.8.4.7.4 3.8.4 2.2.4 0 .4-3.6.4-.8.4-2.5.4-.9.4-.8.4.7.4-.9.4-.3.4.7.4.6.4-4.7.4 4.6.4-.6.4.1.4 2.2.4-1.8.4 2.2.4.8.4-1.1.4-1.8.4 1.2.4-.9.4.5.4 1.7.4.3.4-.2.4 2.9.4-.9.4.4.4-.4.4-3.4.4-.6.4 1.1.4-1.8.4.3.4.4.4-.3.4 2.4.4-1.4.4 1.2.4 1.4.4.4.4-1.3.4.9.4 0 .4 1.7.4 1 .4-.6.4 1 .4 1.7.4-1.2.4-.6.4-.5.4.1.4-1.1.4-2.6.4.2.4 1.5.4-1.6.4.9.4 1.1.4-1.7.4.5.4-.8.4 1.4.4-1.1.4 2 .4.5.4.1.4-2.5.4-.9.4-.7.4-1.4.4-.8.4-2.2.4-1.4.4-.4.4 1.3.4-1.8.4.3.4-1.5.4-1.4.4-.1.4 3.5.4 1.2.4-.9.4-.3.4 1 .4-1.4.4-.9.4 2.3.4-.9.4 2.4.4-1.8.4-1.2.4-1.1.4-4.9.4 5.1.4.2.4 0 .4 2.7.4-1.8.4 1.9.4.3.4-2.7.4-1.8.4-1.6.4-2.3.4 2.9.4-.8.4 4.4.4-1.8.4.4.4-1 .4-1.4.4-.6.4.9.4-.6.4-1.9.4.8.4.2.4-1.3.4.6.4.1.4-1.6.4 1.5.4.4.4-1.1.4.8.4-1.6.4.6.4-2.1.4-2.9.4 5.2.4-1 .4 3.2.4-1.2.4.1.4 1.9.4.8.4 1.1.4 2.2.4-1.3.4 1.5.4.5.4-.3.4-.6.4.8.4-.6.4 2.6.4.9.4.4.4 2.3.4.8.4-3 .4-1.4.4.8.4-2 .4-.7.4-1.6.4-.8.4 2.5.4-1.4.4-.7.4 1.8.4-2.3.4.5.4-2.5.4 2 .4-.9.4-.4.4-.9.4.4.4-1.4.4 2.4.4-1.3.4 0 .4 3.1.4-2.2.4 3 .4 0 .4 1.3.4.4.4-2.4.4 2 .4.3.4-.8.4.9.4 1.5.4-.6.4.1.4 1.2.4-1.6.4 2.5.4-.1.4 0 .4.6.4-.8.4 1.5.4-1.4.4 1 .4.1.4 0 .4.8.4.9.4-.5.4-2.8.4.2.4-1.6.4.2.4.9.4-2.3.4-.3.4 1.6.4-.6.4.4.4.9.4-1.2.4.6.4-1.9.4 1 .4.3.4.9.4 1.4.4-.9.4.6.4.5.4.3.4.7.4 0 .4-.1.4-1.1.4-1.5.4-1.8.4-3.8.4-.5.4-2.1.4-.5.4 1.1.4-.2.4-.8.4-.6.4.5.4-1.1.4.3.4 2.5.4.4.4.1.4 1.9.4.6.4.1.4-.8.4-.2.4-2 .4 2.2.4-2.1.4 1.3.4-2.1.4.4.4 1.5.4 0 .4-1.8.4-.1.4-.6.4 1.4.4.2.4-3.1.4.8.4.6.4-2.1.4-.2.4.3.4 3.8.4-.1.4.2.4 1.8.4 0 .4 1 .4 3.1.4.4.4 0 .4 2 .4.3.4-1.6.4-1.8.4-1.5.4 1 .4-2.9.4-.9.4 2 .4-1.1.4-2.4.4-.4.4 1 .4.4.4-.6.4-2 .4.5.4-1.2.4 1.1.4.5.4.1.4.4.4-.4.4.5.4-1.8.4 1.5.4-1.1.4 2.3.4-2.6.4 2.3.4-.5.4-.1.4-2.5.4.6.4 2 .4-1.9.4.6.4-.4.4 3.3.4.6.4 0 .4.1.4-.3.4 0 .4.6.4-1 .4 1.2.4-1.8.4 1.5.4.6.4-.9.4 1.5.4-2.9.4-.3.4 1.1.4-.7.4 1.5.4.2.4-.2.4-.3.4 3 .4 1.4.4-.3.4-1.4.4 1.9.4-1.9.4.2.4-.7.4-1.4.4-.8.4 1.3.4-2 .4-.2.4 1.4.4-.4.4 2.2.4-2.4.4 1.2.4-.9.4.5.4.1.4-4.2.4 2.6.4-1.5.4 2.7.4-.8.4.8.4 1 .4-4.1.4 1 .4-.5.4 1.9.4.2.4-.3.4-.8.4 2.3.4-.2.4-4.9.4 4.2.4 1.1.4-.7.4.4.4-2 .4-.8.4.7.4 1.9.4-.8.4.3.4-.9.4-1.4.4 1.8.4-1.9.4 1 .4.3.4 1.7.4-1.6.4 1.1.4-.1.4-.5.4 1.1.4.5.4-.4.4.4.4.1.4.5.4-.2.4 1.4.4-1.1.4 1.8.4-.9.4 1.6.4-1.7.4 2.9.4-.6.4.4.4 1.4.4.2.4 1.8.4.1.4.3.4-1.4.4 1.4.4-.4.4.9.4-2.4.4-1.5.4-1.2.4-.3.4.1.4-1 .4-.9.4-2.5.4 1.5.4-2.3.4 1.8.4-1.3.4-3.3.4 4.3.4.5.4.2.4-2.2.4 1.1.4.1.4-.8.4.7.4 1.9.4-.6.4.3.4 2.5.4-1.2.4 0 .4 1.4.4-1.4.4 2.1.4 1 .4-1.9.4 2.4.4-2.2.4 1 .4.7.4-1.3.4-.2.4-1.2.4-1.3.4-.8.4.4.4 0 .4-.5.4 1.2.4.5.4-.1.4 0 .4-.1.4-.1.4 2.8.4.5.4-.3.4 1.2.4-2.1.4 2.1.4-2.9.4 0 .4 1.2.4-2.6.4 1.2.4.1.4.6.4.1.4-1.2.4.4.4.7.4 1.8.4.3.4.9.4 2.4.4-.7.4.2.4 1.9.4.6.4-.8.4-1 .4.9.4-1.6.4-2.4.4 1.1.4-.7.4-2.4.4.2.4-1.1.4-2.4.4 1.2.4-1.7.4-.3.4-1.1.4.6.4-2.4.4-3.6.4.7.4.3.4-.6.4.7.4.7.4.2.4 2.9.4 0 .4 2 .4.9.4-1.3.4 1.7.4-.9.4 1.2.4-2.4.4-2.6.4 2.2.4-4.2.4 1.8.4-2.5.4-1.4.4-.6.4 1.2.4-.3.4 1 .4-.5.4-.8.4 1.2.4-3.4.4 2.2.4 0 .4.6.4-.9.4.2.4.3.4-.1.4.1.4.2.4 1.5.4-1 .4.8.4.3.4-2.2.4 2 .4.4.4-2.1.4 3.9.4-.3.4.2.4.6.4-.7.4 2 .4.5.4 1.4.4-.1.4.5.4.1.4 1.4.4-.2.4.5.4.2.4 3.1.4.3.4-1.6.4.6.4.9.4 1.6.4-1.1.4 0 .4-.3.4.5.4-1.7.4.2.4 1.5.4-2.4.4 1.8.4.2.4-2.1.4-1.1.4-.2.4 1.5.4.2.4-1.5.4 1.1.4-.3.4-3.3.4 2.1.4-1.5.4-.5.4 2 .4-2.7.4.8.4-1.7.4.9.4-.7.4 2.2.4-.5.4.1.4.9.4-2.8.4 2.3.4-.1.4-.4.4-.1.4 1.7.4 0 .4-1.3.4-.5.4-1 .4-.1.4-.3.4 1.1.4.7.4-2.5.4 2.9.4-.8.4.7.4-.3.4 1.8.4.9.4-.6.4-.2.4.8.4 1.2.4 1.1.4 2.2.4 2.3.4 1.2.4 2 .4-3.2.4 1.9.4-3.3.4.1.4.6.4-2.1.4.5.4-.4.4.1.4-.5.4 1 .4.1.4.5.4.3.4.1.4.3.4-2.9.4.5.4-1.1.4-.5.4-.8.4-1.4.4-.8.4-1.3.4.8.4-.3.4 2.2.4.1.4.5.4 1 .4.4.4-1.9.4 1.2.4 2.4.4-2.6.4 2.9.4-.5.4 2.4.4.3.4.6.4-3.1.4.9.4-2.7.4.7.4.3.4-1.4.4 3 .4.1.4 1.2.4-.2.4-1.6.4-.9.4-.7.4 0 .4 1.9.4-3.3.4 0 .4 1 .4-2.4.4.8.4.7.4.1.4-.1.4 2.2.4-1.2.4 2.4.4-.9.4 3.5.4.6.4-1 .4-1.8.4.3.4-3.3.4-.2.4-1.3.4-.5.4 1.5.4-4 .4 2.2.4-1.7.4.6.4 1.1.4.9.4.5.4-1.3.4 1.7.4 3.1.4-.4.4-.7.4-.1.4 1.4.4-1.7.4 1.7.4-2.2.4.3.4.2.4-1.3.4-.8.4 1.5.4-2.5.4.5.4-.9.4 1.6.4-.1.4-.5.4-.9.4 1.2.4-.8.4-.6.4.2.4-.9.4.5.4.1.4-3.3.4.1.4-3 .4-1.9.4-1.8.4 3.3.4-1.1.4 2.8.4.9.4.2.4 2 .4 1.1.4-1 .4-.9.4-3 .4-1 .4.3.4.7.4-3.1.4 2.9.4-1.1.4 2.4.4 0 .4-1 .4 2.1.4.3.4.5.4 0 .4-1 .4-2.9.4-.2.4-.8.4-2 .4 1.3.4.6.4-1.8.4-.9.4-.4.4 1.3.4-2.4.4.8.4-2 .4-1.6.4-1.4.4.9.4-1.7.4.6.4 1.6.4 2.2.4-1.9.4.9.4-.4.4 3.2.4-.8.4 1.6.4-.6.4 1.4.4 0 .4-1.2.4 1.8.4-1 .4 2.6.4.2.4-1.5.4 2.8.4-.7.4.6.4.2.4-.9.4 2.1.4 1.1.4-1.8.4 1.1.4 2.2.4 0 .4-.1.4-1.9.4 2.8.4 1.3.4-2.3.4 1.9.4.9.4.1.4-.3.4-1.9.4 2.4.4-.6.4 1.2.4-1.8.4 1.8.4.4.4-.3.4.3.4 2.1.4 1.3.4-.6.4-.4.4 1.9.4-1.9.4.9.4.2.4.2.4-1.4.4-1.2.4 2.2.4-1.2.4-2.1.4 2.4.4-2.7.4 1 .4 0 .4-.1.4-2.6.4 1.9.4-1.9.4 1.2.4-1.1.4-1.1.4-.7.4 2 .4-4.5.4 1.9.4 1 .4-1.7.4 2.7.4-1.4.4 1.9.4.7.4-2.8.4-.6.4 0 .4-.2.4.5.4-.2.4.1.4 0 .4 0 .4 2.7.4-1.1.4-.5.4.1.4-.8.4 1.1.4.2.4.1.4.1.4 0 .4 1.1.4-1.5.4 2.7.4-.3.4-2.6.4 4.4.4-.8.4 1 .4-.8.4.5.4.1.4 1.5.4.2.4.4.4-.9.4.4.4 1.4.4-2.8.4 1.6.4-1 .4 1 .4-.8.4 1 .4.3.4-2.1.4-1.3.4 1.4.4-4.2.4-1.2.4-2.6.4-2.2.4-.1.4 1.2.4.4.4.2.4-.2.4 1.3.4-1.6.4 1.3.4-.2.4-1.4.4-1.6.4 1.6.4-.3.4-.1.4-1.3.4.1.4-1 .4.3.4.3.4-1.7.4-.5.4 1.4.4-.1.4 2.2.4-1.6.4 1.5.4.2.4-.8.4 1.1.4-1.3.4.3.4-2.2.4 1.4.4 1.5.4.1.4-.7.4 1.4.4-1.2.4 1.4.4-.6.4 1 .4-3.1.4 4 .4 1.1.4-.4.4 2.8.4-1.3.4.2.4.4.4 2.4.4.1.4-1.8.4 1.1.4 1.7.4-1.1.4.5.4-1.5.4-.1.4-.3.4-2 .4.2.4-2 .4.3.4-.3.4-.4.4 1.4.4-.9.4-1.3.4 1.2.4-1.7.4.6.4-1.1" fill="none" stroke="#000" stroke-width="1.4" stroke-linejoin="round"/><path d="M60 213.2l.5.1.5 1.2.5.8.5-.7.5 1.6.5 3 .5.6.5-3.2.5-.8.5 2.5.5-3.1.5-1.2.5-.6.5-2.2.5 1.9.5-3.7.5-.4.5.9.5.3.5-1.8.5-2.7.5-.3.5-2.4.5 1.7.5 1.2.5-2.7.5-.9.5.1.5-2.2.5 2.6.5-3.5.5-1 .5 2.6.5-1.3.5-1.6.5-1 .5-2.8.5-2 .5.5.5-4.4.5 2.7.5 2.7.5 1.4.5 2.7.5-.8.5 3.2.5 3.5.5-1.8.5 5.2.5-.4.5 1.8.5-1.3.5 3.8.5-1.2.5-1.3.5.6.5 1.4.5-.6.5.8.5-1.2.5 2.1.5 2.4.5-1.9.5 2.1.5-2.2.5.3.5.4.5-1 .5 0 .5.5.5.5.5-.9.5-.3.5 0 .5.2.5.2.5-.9.5 1.1.5-1.2.5.4.5-1.4.5-1.2.5-1.1.5-.5.5.5.5.2.5-3.4.5-1.7.5-6.8.5-5.1.5 2.2.5 2.4.5 1.3.5 1.5.5-1.3.5 2.8.5 3.2.5-2.7.5 2.1.5 2.6.5-1.2.5-1.6.5-.5.5 0 .5-1.2.5 1.1.5 1.1.5-3.1.5 1.6.5-.3.5 0 .5-4.2.5 2.6.5-1.7.5.6.5 1.2.5 1.1.5-2.6.5-.7.5 2.4.5 1.4.5-3.2.5 2.6.5-1 .5.5.5 1.5.5-.9.5-1.3.5 1.9.5-.1.5 2.2.5 1.8.5.1.5-.8.5 2.2.5-1.9.5 2.3.5-1.1.5 2 .5 2.1.5-3 .5.9.5 2.8.5-3 .5.9.5.1.5.7.5.5.5 1.5.5-1 .5.2.5-1.9.5-1.9.5 3.8.5-2.3.5.7.5 2.9.5-2.3.5 1.1.5-.8.5 1.7.5 1.4.5.9.5-3.9.5 1.4.5.4.5-3.1.5 2.7.5-.2.5-.7.5.7.5 1.8.5 2.8.5.3.5-.3.5-1.7.5-3.9.5-.6.5 1.7.5-.6.5-.3.5.8.5 2 .5-.4.5-.6.5 1.5.5-3.3.5.9.5.1.5-1.4.5 1.6.5.3.5-.4.5.3.5-1.6.5 4.3.5-2.3.5 1.2.5-.8.5.7.5-2.5.5 4.2.5 0 .5-2.5.5-.1.5 1.2.5-.2.5-2 .5 2.3.5-2.7.5-1.6.5 1.4.5-1.1.5-.1.5-.4.5 2.9.5 0 .5.3.5-3.3.5.2.5 4.2.5-.5.5.7.5-2.2.5 3.4.5-.2.5-2.3.5 2.1.5-.8.5.6.5 1.4.5.5.5.8.5-2.1.5.9.5 1.1.5.6.5-3.3.5 1.2.5 1.5.5-2.2.5-.7.5 2.5.5.6.5-4.1.5-.2.5 2.2.5 1.3.5-3 .5.5.5-2.4.5 2.4.5-.6.5-1.9.5 2.7.5.2.5-2.8.5-.3.5 2.8.5.2.5-.3.5 3.3.5 2.2.5 2.5.5 1.9.5-.6.5-.1.5-2 .5-3.5.5-2.9.5-3.1.5 1.8.5-.3.5-.7.5-1.4.5-1.8.5-.9.5 2.6.5-.7.5 3.5.5 1 .5-2.2.5-.2.5.4.5-1.5.5-5 .5-1 .5-5.7.5.8.5-.7.5-3.3.5 2.7.5-2.1.5 1.5.5 1.3.5-2.9.5-.6.5 3.5.5-1.4.5 1.4.5 2.5.5-2.7.5 0 .5 3.7.5-2.2.5 1.8.5-2.9.5.2.5.5.5 2.7.5.5.5-1.5.5 2.3.5.7.5.9.5-2 .5 2.2.5.1.5-1.2.5 2 .5.8.5 1 .5.8.5-1.1.5-.9.5-1.1.5-2 .5 1 .5-2.6.5 2.2.5-1.9.5 2.6.5-.4.5.1.5.9.5 1.5.5 0 .5.6.5 2.7.5-1.4.5-.6.5 3.2.5-2.4.5 1.9.5-.2.5-2.4.5 2.3.5-2.3.5 0 .5 3.4.5 0 .5-1.1.5-.7.5-1 .5.4.5 1.5.5-1.1.5.7.5-4.3.5 2.2.5-2.7.5-2.3.5-2.9.5-2.7.5-1.2.5.2.5 2.7.5-.3.5-3.3.5 4.6.5-1 .5 2.5.5-1.2.5-.6.5 3.8.5-2.4.5 2.8.5 1.8.5 2.1.5-.9.5 1 .5-1 .5 2.9.5 1.8.5 4.7.5-3.8.5.8.5-5.4.5.9.5-1.5.5-2.5.5 1.5.5-2.8.5 2.5.5 3.2.5-.5.5 1 .5-1.4.5-.6.5 3.4.5-1.5.5-2.6.5 1.1.5.2.5 1.4.5.1.5.3.5 1 .5-.5.5 1.9.5-2.2.5-1 .5 1 .5-1.4.5-2.2.5 2.6.5.6.5-1 .5.9.5 2.2.5-.5.5.7.5 1 .5-.1.5 4.5.5-3.4.5-1.5.5 1.8.5-.6.5-1.2.5-.2.5-3 .5.3.5-.8.5.6.5-1.3.5-.6.5 4.4.5.8.5-1.6.5 2.3.5-.5.5-3.8.5-1.3.5-2.8.5 0 .5-2.1.5 2.1.5-2.6.5-.3.5-2 .5.7.5 1.4.5.1.5 1.3.5-2.7.5.8.5 3.3.5-1.8.5 1.7.5 1.5.5-3.4.5.3.5.2.5-1.7.5 2.3.5 1.5.5.1.5-.8.5-2.6.5-2.4.5-1.1.5 4.4.5-1.3.5-.1.5-.9.5-3.6.5.1.5.9.5 1.3.5-3.6.5-.5.5 1 .5-2.3.5 3.5.5-1.6.5 1.9.5-1.1.5.7.5 1.2.5-4.3.5 1.1.5-.6.5 2 .5 1.8.5.6.5-1.5.5 5 .5-2.9.5 1.8.5 1.5.5-.1.5 3.1.5-1.9.5 1.1.5 2.2.5 1.5.5-2.4.5 1.1.5-2.3.5.2.5-1.3.5 1.8.5-1.8.5-.3.5 1.4.5-2.8.5-1.3.5.9.5-2.8.5 1.2.5-.2.5-.4.5-2.1.5 3.6.5-3.1.5 3.8.5-.6.5.9.5-1.4.5 1 .5 3.8.5-.1.5-.1.5-.5.5-2.2.5 3.4.5-1.7.5 2.2.5.4.5 1.2.5-.1.5.7.5-2.5.5-.1.5 3.1.5 1.3.5-.5.5-2.2.5 1.2.5-1 .5-.3.5-.1.5.6.5-2.2.5-2.1.5 2 .5-1.1.5.5.5-1.1.5.9.5.3.5.1.5-1.9.5 1.8.5.9.5.5.5 1.1.5 0 .5.7.5.5.5-5.7.5-1.4.5-3.4.5.1.5-1.3.5-1.1.5.4.5 1.4.5-1.8.5-1.2.5 3.5.5-.3.5-.3.5 1.5.5 2.6.5-2.2.5-.6.5-.8.5 1.9.5-1.7.5-.5.5 3.3.5-4.2.5 2.3.5-.3.5-2.3.5 1.8.5 1.1.5-.3.5-2.7.5-1.2.5 1.7.5 1.4.5 2.4.5.7.5-1.2.5 4.3.5-1.6.5 2.9.5.5.5-1.4.5-.4.5-.8.5-.8.5-.5.5.4.5-2.2.5 1.2.5-1.8.5-.5.5-.2.5-.1.5-1.7.5.7.5-.2.5 1.5.5-.3.5-1.2.5.8.5.5.5-.6.5 1.3.5-2.1.5.2.5-1.1.5-.3.5 1.5.5-2.5.5 2.7.5.8.5.2.5-1.6.5 3.5.5-.8.5 1.7.5.5.5.3.5-4.5.5.9.5 3.5.5-2.1.5-1.4.5.5.5 1 .5 0 .5.5.5-1 .5 1.6.5 1.4.5 2.1.5-.1.5-1.4.5 1.5.5-4 .5 1.8.5-2.8.5 1.2.5 0 .5 1.5.5.6.5-1.3.5.5.5-1.3.5-2.2.5-1.2.5 1.7.5 1.6.5.4.5 1.9.5-1.5.5-2.8.5 1.8.5-1.1.5.8.5 1.5.5-.4.5 1.1.5-3.7.5 1 .5.4.5-.2.5.8.5-.6.5-.4.5 1.4.5-2.8.5 3 .5-3.7.5 1 .5 1.6.5-1.1.5-.9.5-.2.5 2 .5-.2.5.7.5-.6.5 2.5.5.9.5.8.5-1.7.5 1.9.5-.3.5-.5.5.3.5 1.7.5.8.5-.4.5-.7.5 3.1.5.5.5.9.5-2.2.5-.4.5 2.4.5-4.1.5-1.1.5-2.5.5-.1.5 1.3.5-.5.5-2.7.5 2.1.5-2.4.5 1.4.5 1.6.5-2.3.5-1 .5-.3.5 1.1.5.3.5 1.4.5-.3.5 3.4.5-2.8.5 1.7.5 1.2.5-1.7.5 2.9.5-.9.5-1.5.5 4.5.5-2.4.5 2.2.5-1.7.5-3.2.5-1.1.5.3.5 2 .5 0 .5-.2.5-2.5.5 1.2.5.5.5 2.9.5-.9.5 2.2.5-1.8.5-.4.5 1 .5-2.4.5-1.2.5.8.5.9.5-2.4.5 2.3.5-1 .5 2 .5 1.4.5.4.5 2.4.5-2.4.5 3.6.5 4 .5-.9.5-3.1.5-1.1.5-.4.5.5.5-2.6.5-1.5.5-2.7.5 1.5.5-.7.5-.2.5-.9.5-3.2.5-2.5.5-1.1.5-.6.5 1.3.5-.6.5-1.1.5 1.7.5 4.5.5.1.5-.8.5 2.7.5 1.6.5-1.3.5-.1.5-4.3.5-2.6.5 1.3.5-3 .5 2.3.5-3.7.5-.3.5 3 .5-1.3.5-1.9.5-.3.5 2.4.5-1.4.5.9.5-1.2.5.3.5 2.3.5.2.5.2.5.3.5 0 .5.3.5-1 .5 2.1.5-2.2.5 2 .5-.7.5.1.5 2.6.5 1.3.5 1.8.5-2.2.5 3.6.5-3.3.5 2.1.5 1.3.5-.3.5 2.2.5.7.5.3.5-.1.5-.3.5 1.4.5-1.7.5 1.7.5-1.6.5 2.6.5-2 .5.8.5-.3.5-1.8.5-2.1.5 2.7.5.1.5-1 .5-1.8.5-1.7.5 3.8.5-.3.5-1.2.5-.4.5-3.6.5 1.8.5.8.5-2.2.5-.4.5 3.5.5-.1.5 0 .5-2 .5.2.5 2.2.5.4.5.4.5-3 .5 2 .5-2.7.5-1.8.5-.1.5.4.5 2 .5 3.5.5-3.2.5 3 .5 1.4.5-1.5.5 1.7.5 3.4.5.1.5 1.8.5 4 .5-3.2.5.7.5-3.6.5 1.9.5-3 .5 1.6.5 1.2.5-3.6.5.3.5 1.5.5-.3.5 3.2.5-2.1.5-.8.5-1.1.5-1.3.5 0 .5.5.5-4.1.5-2.3.5 1.7.5.1.5.4.5 3.1.5 1 .5-2 .5 1.4.5 4 .5-3.2.5 4.3.5-1.8.5 1.4.5-.7.5-.8.5-2.4.5 2.8.5-.4.5-3 .5 2.4.5.5.5-1.7.5.8.5 1.7.5-1.1.5-.5.5-2.1.5-.9.5.3.5.8.5.6.5-1.6.5 2.3.5 1.9.5-1.1.5 1.4.5 2.1.5.2.5-3.6.5-2.7.5 0 .5.9.5-3.6.5 1.2.5-1.3.5-1.3.5 1.5.5 1.5.5-.2.5.7.5 1.1.5 0 .5 3.5.5.1.5-.3.5-1.3.5 1.4.5-3.4.5-1.1.5 1.1.5-1 .5 1 .5-.1.5-1.3.5-2.7.5 2.6.5 0 .5-3.2.5 2.4.5-2.1.5-.1.5 2 .5-4.8.5-2.1.5-1.7.5 1.9.5-1.2.5 2.4.5 2.9.5 0 .5 2.2.5-3 .5-1.5.5-.6.5-2.6.5 2.1.5-.4.5 1.3.5-.8.5.4.5.5.5 1.7.5-1.1.5 1 .5-1.1.5-2.2.5 1.9.5-1.6.5-4.2.5.4.5-.3.5.2.5-2.3.5.7.5-1.5.5-1.4.5.2.5-.5.5-.5.5 2.3.5-1.4.5 2.5.5-1.2.5 2 .5 2.4.5-3.6.5 2.3.5 2.8.5-.3.5-.9.5-.7.5 2.9.5 1.5.5-1.4.5-1.2.5.2.5 2.1.5 2.6.5-2.2.5.2.5 4 .5-.4.5-2 .5.3.5.3.5 1.4.5.4.5.1.5.2.5 1.2.5 1.3.5-1.3.5 1.8.5-.4.5-.1.5.3.5.4.5 2.4.5 2.3.5-.2.5-.2.5-2.8.5 2.1.5-1.8.5 2.1.5-.9.5-3.7.5.2.5 1.4.5-2 .5 0 .5.5.5.9.5-1.8.5 1.5.5-1.4.5.3.5-3.7.5 1.8.5-1.6.5.7.5-1.6.5 4.3.5.2.5-4.2.5-1 .5 2.6.5-2.4.5-1.6.5 3.9.5.1.5 1.9.5-2.8.5 1.7.5.7.5-.3.5-1.1.5 1.2.5-2.6.5 2.7.5-.2.5 2.6.5-.5.5.5.5 1.9.5-3 .5-.5.5.8.5 1.2.5 3.7.5.8.5-2.4.5-.1.5-1.2.5-.2.5-.8.5-.2.5 4 .5-3.6.5 2.7.5-1.9.5-6.2.5-.7.5-4.1.5 2.9.5-1.1.5-.3.5-1.2.5 1.2.5 3.9.5-3.6.5.1.5-1.4.5-.6.5-.6.5-1.3.5 2.6.5-.1.5-1.7.5 1.5.5-2.5.5 1.1.5.9.5.8.5-.1.5 1.5.5-3.6.5 1.8.5-2.3.5-.5.5 1.6.5-.3.5.6.5 2.7.5.6.5-1.8.5 3.8.5-.2.5.3.5.8.5-.2.5-1.2.5.8.5 1.2.5 2.6.5 1.2.5-2.4.5 1.5.5 1 .5-3.3.5.4.5-2.3.5-.9.5 2.2.5-2.5.5-2.1.5-.3.5 1.8.5-2.8.5 2.5.5 1.2.5-.3" fill="none" stroke="#000" stroke-width="0.6" stroke-opacity="0.85" stroke-linejoin="bevel"/><path d="M60 206.9l3.6-2.2 3.5-1.1 3.6-.3 3.6 1.4 3.6 1.7 3.5.5 3.6 0 3.6 0 3.5 0 3.6-.8 3.6-1.4 3.6-.7 2.1.7 2.1 2.2 2.9 1.8 3.6 1 3.5 0 3.6-.3 3.6.3 3.6 1.2 3.5 1.4 2.9 0 3.6-1.4 3.5-1.2 4.3-.7 3.6 0 3.6.3 3.5-.3 3.6-1.4 3.6-.5 3.5-.5 3.6.5 3.6.9 3.6 1 3.5.7 3.6-.3 3.6-1.4 3.5-1.9 3.6-1 3.6 0 3.6 1 3.5.8 3.6.2 3.6 0 3.5-.2 3.6-.3 3.6.3 3.6.2 3.5.2 3.6.3 3.6.4 3.5.6 3.6.7 3.6.4 3.6.3 3.5 0 3.6-2.4 3.6-2.2 3.5-1.8 2.9-.3 2.9 1 2.8 1.8 2.9 1.5 2.8 1 3.6.4 3.6.3 3.5.1 3.6.3 3.6.3 3.6-.3 3.5-.4 3.6-.6 3.6-.4 3.5-.3 3.6-.1 3.6.1 3.6.3 3.5.3 3.6.4 3.6.4 3.5.3 3.6-.7 3.6-1.4 3.6-2.2 3.5-1.1 3.6-.3 2.9 1.4 3.5 2.2 3.6 1.8 3.6 1 3.5.5 3.6.2 3.6.3 3.6-.3 3.5-.4 3.6-.3 3.6 0 3.5.3 3.6.4 3.6.5 3.6.3 3.5.2 3.6.2 3.6-.2 3.5-1 3.6-2.1 3.6-2.1 3.6-1.8 3.5-.4 3.6.3 3.6.7 3.5 1.2 2.9.7 2.9 1 2.1-.3 3.6 0 3.5-.7 3.6-.7 3.6 0 3.6.7 3.5 1.4 3.6 1.4 3.6.7 3.5 0 3.6-.2 3.6-.5 3.6 0 3.5.5 3.6.2 3.6-.7 3.5-1.4 3.6-1.9 3.6-1.7 3.6-.7 3.5-.3 2.9.7 2.8 2 2.9 1.2 2.9.7 2.8.3 3.6-.3 3.6-.4 3.5-.3 3.6.7 3.6.7 3.5.4 3.6-.7 3.6-1.1 3.6-1.7 2.1.3 2.9 1.4 3.5 1.4 3.6.7 3.6-.4 3.5-1 3.6-1.4 3.6-.7 3.6-.8 3.5.5 3.6 1 3.6.7 3.5.7 3.6.7 3.6.3 3.6-.6 3.5-1.1 3.6-.7 3.6-.3 3.5-.4 3.6-.8 2.9-.7 3.5 0" fill="none" stroke="#f4b62a" stroke-width="1.55" stroke-linejoin="round"/><path d="M60 216.1l3.6.5 3.5-.5 3.6-1 3.6-1.8 3.6-3.6 3.5-5 2.9-2.8 2.8-1.8 2.9.8 2.9 3.1 2.8 3.6 2.9 2.1 2.8.4 2.9-.4 2.8.3 2.9.9 3.6 1 3.5 1.4 3.6 1 3.6 0 3.6-1 3.5-2.2 2.2-4.2 2.1-3.6 2.2-.7 2.1 1.4 2.1 1.4 3.6.7 3.6.3 3.6.5 3.5 1.1 3.6 1 3.6-.7 3.5-1 3.6-.4 3.6.2 3.6.5 3.5.7 3.6 1.1 3.6.6 3.5.4 3.6-.3 3.6-1.1 3.6-2.9 2.8-2.4 2.2-.8 2.1 1.8 2.1 2.4 2.9 1.9 3.6.4 3.5-.4 3.6-1 3.6-.4 3.6 1 3.5 1.1 3.6.7 3.6-.3 3.5-.7 3.6-1.1 2.9-.7 2.8.7 3.6.7 3.6-.4 3.5-.3 3.6-.7 3.6-.3 3.6 1 3.5 1.7 3.6.9 3.6.2 3.5.3 3.6.2 3.6.3 3.6 0 3.5.2 3.6.5 3.6.7 3.5.7 3.6.3 3.6 0 3.6-.3 3.5-.3 3.6-1.1 3.6-2.9 3.5-2.8 3.6-1.8 3.6-1.1 3.6-.7 3.5-.7 3.6-.7 2.1.7 2.2 2.8 2.8 2.9 3.6 1.7 3.6.9 3.6.5 3.5.5 3.6 0 3.6 0 3.5-.5 3.6-.3 3.6-.2 3.6-.2 3.5-.1 3.6-.2 3.6 0 3.5 0 3.6-.3 3.6-.1 3.6.4 3.5 1.5 3.6 1.4 3.6 1 3.5-.3 3.6-2.1 3.6-3.6 3.3-3.2 2.4 1.8 2.9 1.7 2.1 2.5 3.6.8 3.5-.8 3.6-1.1 3.6-1 3.6-1 3.5 0 3.6-1.1 3.6-2.2 3.5-1 2.9.3 2.1 2.9 2.9 3.5 2.9 1.9 3.5 1 3.6.4 3.6-.4 3.5-.7 3.6-.7 3.6-.8 3.6-1.4 3.5-1.4 3.6-1.2 3.6-.2 3.5-.8 3.6-1 3.6-1.1 3.6-1 3.5-.7 3.6-.4 2.1-.8 2.2 2.2 2.8 2.8 3.6 1.5 3.6.7 3.6.3 3.5.8 3.6.7 3.6.8 3.5.7 3.6.3 3.6-2.2 3.6-3.6 3.5-2.8 2.9-1 2.8.6 2.9 1.8 2.9 2.9 2.8 1.8 3.6 1 3.6.7 3.5-.7 3.6-1 3.6-.4 3.5 0 3.6 0 3.6-.4 3.6-.6 4.2 2.4" fill="none" stroke="#1b8bd5" stroke-width="1.75" stroke-linejoin="round"/></g>
<g clip-path="url(#c5)"><path d="M60 260.6l.4-1.6.4 5.8.4-2.9.4-.5.4 4.3.4-1.1.4-1.2.4-.7.4-.1.4 2.7.4-2.6.4 1.5.4-.4.4.7.4 0 .4-4.4.4 2.1.4.6.4-1.8.4.2.4 1.7.4-4.8.4-5.5.4 5.7.4-1.1.4.2.4.7.4-1.9.4-3.1.4 5 .4-5 .4-3 .4 3.7.4-1.1.4-3 .4 1 .4-2.4.4 3.2.4-3.8.4 2.5.4-6.9.4.7.4 1.3.4-3.5.4-2.4.4-1.4.4.8.4-5.6.4-2 .4-.6.4-2.1.4-.9.4 6.7.4 1.5.4.5.4 11 .4-.8.4 4.9.4-1 .4-1.1.4 1.4.4 1.6.4 1.4.4-.5.4-1.1.4 6.4.4-1.4.4 0 .4.8.4 2.4.4-5.3.4 2.3.4 3.6.4-3.6.4.5.4 2.3.4.3.4-1.8.4 1.7.4-1.7.4 6 .4-.6.4-4.1.4 4.3.4-3.5.4-1.4.4-.7.4 0 .4 2.1.4-.5.4-2.4.4 2.5.4-4.1.4 2.3.4-1.7.4.3.4 3.4.4-3.2.4 2.8.4-3.9.4-1.6.4 2.2.4-3.5.4-1.1.4 2.3.4 1.2.4-.6.4-1.1.4-5.5.4-7.5.4-4 .4.7.4-.5.4 1.6.4 2.1.4 6.7.4-1.3.4 6.8.4-2.5.4 5.4.4-.3.4 1 .4-1.5.4 1.2.4 1.8.4-7.2.4-1.3.4 1.6.4-1.6.4-7.3.4.8.4 6.8.4-.7.4-2 .4-.8.4 2.8.4-1.5.4-.7.4 4 .4-1.6.4.2.4-4.9.4.4.4 5.5.4 2.8.4-1.4.4 3.5.4-2.6.4-3.4.4-6.6.4.8.4.9.4-2.5.4 5.3.4-1.5.4 5.1.4-7.2.4 5.7.4 1.4.4 2.6.4-.4.4-1.9.4 3.6.4 1.9.4-1 .4-2.7.4 4.6.4-.8.4-2.2.4-.5.4.6.4 2.8.4-2.9.4-.9.4 2 .4-.7.4-1.4.4 5.2.4-.6.4.1.4-1.4.4 2.2.4-1.1.4-2.5.4.8.4 2.1.4-1 .4-2.2.4 2.3.4-2.1.4 5 .4-2.4.4 2 .4-4 .4-.1.4 5 .4-2.3.4.2.4-1.9.4 3.4.4 1 .4-4.5.4 3.6.4 1.2.4-2.5.4-3.3.4 4.5.4-.9.4 2.8.4-7.2.4 2.4.4-.1.4 3.4.4-2.5.4-.7.4 4.8.4-3 .4-1.8.4 1 .4-.4.4 2.1.4 3 .4-.2.4-3.9.4 2.4.4.8.4 1.3.4 0 .4-5.1.4 3.5.4.2.4.6.4-4.3.4-2.9.4 4.9.4 1.1.4-2.3.4-1.8.4 4.8.4-.2.4-7.7.4 7.3.4.8.4-1.4.4-3.3.4 1.3.4 1.3.4.5.4-2.4.4 2 .4-2 .4 1.2.4-.6.4-.3.4 2.2.4 1.1.4-1.2.4-.2.4-2.4.4 1.8.4.5.4-.3.4-1.2.4.8.4-2.9.4 4.2.4-4 .4 3.8.4-2.2.4 1.9.4 1.6.4-2.2.4 3.4.4-5.5.4 4.7.4-3.7.4 2.8.4 2.9.4-4 .4 3.4.4 2.4.4-2.4.4-3.1.4 3.9.4-2.4.4.9.4 2.6.4.2.4-.7.4-2.5.4-.2.4 3.6.4-1.5.4-1.6.4-2.7.4 4.5.4-1.1.4-1.5.4 2.8.4-2.3.4 2.5.4-3 .4 2.3.4.6.4-4.1.4.2.4.4.4 3.4.4-7.8.4 7 .4-1.9.4-8.1.4 7.5.4-3.3.4-.8.4 2.3.4-1 .4-2.3.4-3.2.4 9.1.4-1.9.4-.4.4 2.3.4-4.9.4 3.1.4 0 .4-.1.4 1.6.4-3 .4 2 .4 1.5.4.9.4 2.3.4-1.5.4-3.5.4-2 .4 4.9.4-5.7.4 4.6.4-6.6.4-2.4.4 2.3.4 5.1.4.9.4-3.5.4-3 .4 3.1.4.9.4-10.3.4 8.4.4 2.5.4 2.7.4-1.1.4-2.1.4-.3.4 3.1.4-3.5.4-5.9.4-2.2.4-6.5.4-.8.4-.7.4 2.3.4-6.8.4 5.5.4 3.3.4-.9.4-10.8.4 6.4.4 5.8.4 1 .4-3.6.4 3.4.4-6.2.4.6.4 1.8.4.8.4 4 .4-.1.4 2.3.4-.1.4-2.5.4 1.7.4 3.7.4-2.8.4 2.6.4.5.4-4.8.4 0 .4 2.2.4 1.4.4 1.1.4 3.2.4-3.6.4 0 .4-2.7.4-.2.4.1.4 2.8.4-5.3.4 5.3.4.4.4-1.2.4-.7.4 2.5.4-3.5.4-4.2.4 8 .4-2.9.4-2.5.4.7.4-.4.4 5.5.4-.3.4-3.3.4 2.7.4 2.2.4-3.4.4 1.1.4-.1.4-1.7.4-1.1.4 8.3.4-1.2.4-2.5.4-9.1.4 14 .4-4.6.4.7.4 1.1.4 2.7.4-2.7.4.1.4-2.1.4 1.7.4 1.3.4.2.4 4.1.4.8.4-3.7.4-3.4.4 7.3.4-.4.4-2.6.4 2.6.4-.7.4-1.6.4.3.4.8.4-2.9.4 3.4.4-4.3.4-2.7.4-2.2.4-.6.4-4.7.4-.7.4-2.8.4.1.4 1.3.4 1.2.4.9.4-3.1.4 3.2.4 1.7.4-2.8.4 2 .4-.3.4 3.4.4-1.3.4 2.5.4-.5.4 3.1.4-1.1.4 1.4.4 1.3.4-2.4.4 5.2.4 1.9.4-2.3.4-.2.4 2.2.4.5.4-3.6.4 1.2.4-2.7.4-.9.4-3.5.4 3 .4.9.4-1 .4-4.2.4-.4.4 6.7.4 1.5.4-2.5.4 1.2.4.8.4-2.9.4 1.5.4 2.7.4-2.9.4-1.6.4.8.4 1.6.4 1 .4 4.9.4-2.5.4.5.4-.4.4-4.4.4-1.1.4 3.4.4-6.5.4 5.9.4-1.6.4 2.2.4-6.4.4 6.6.4 1 .4-2.5.4.6.4-.5.4.9.4.2.4.3.4 1.4.4 2.3.4-3.4.4 1.5.4-1.3.4-.4.4-.4.4 1.2.4-.1.4-1.6.4-1.6.4 3.7.4-4 .4-.8.4 5.3.4-.5.4-3.7.4 0 .4-1.8.4.2.4-1.4.4.5.4 3.5.4-3.5.4 1.5.4-1.9.4-1 .4-2.3.4-1.1.4 3.7.4-2.6.4 2.6.4 0 .4-.9.4 0 .4-2.1.4-2.8.4 1.9.4-3.1.4 5.8.4 2.8.4 3.6.4 2.1.4.1.4-.7.4-1.8.4.4.4-1.8.4-4.9.4.2.4-3.1.4 1.3.4-.5.4-.8.4-.3.4-2 .4 3.6.4 2.1.4.3.4 1.4.4-6.9.4-.4.4-4.7.4 3.7.4 6.5.4-2.7.4-1.5.4-1.6.4.8.4-2.1.4.2.4 3.1.4-1 .4-1.2.4 4.9.4-1.6.4-5 .4-2.9.4 5.4.4-5 .4-2.9.4 4.8.4-.2.4.3.4-1.6.4-.1.4.1.4-5.2.4 4.1.4 4.9.4-3.5.4 5.4.4 1.1.4 3.4.4-1.9.4 6.5.4-3.3.4 3.8.4-11.2.4 6.8.4 4.2.4 1.4.4-.2.4-4.8.4.9.4-1.7.4-2.3.4 1.3.4 6.3.4-3 .4-5 .4 6.5.4 1.6.4 1.5.4-2.6.4-3.6.4-4.9.4 1.1.4-.5.4 1.9.4 1.1.4 1.6.4 2.5.4-5.2.4-.3.4-2.5.4-.8.4-.3.4 1.8.4-.5.4-1 .4-1.2.4 4.6.4-2.6.4 4.1.4-1.9.4 4 .4-1.6.4-.1.4.2.4 4.2.4-5.9.4 2.8.4 3.6.4-5.2.4.7.4.5.4 0 .4 2.3.4-2.8.4 3.7.4-.3.4-2.2.4 6.3.4-4.8.4-.7.4 0 .4 2.5.4 2.8.4-.2.4-1.1.4-.1.4-2.3.4 4.2.4-3.6.4-.6.4.1.4-.6.4.6.4-.3.4.1.4-2.3.4 3.3.4-1.8.4-.4.4 1.9.4 2.8.4-3.7.4.7.4 2.1.4-2.5.4-2 .4 1.1.4 3.3.4 2.7.4-.8.4-1.5.4 2.7.4-1.5.4.7.4-2.6.4-3.7.4-5.2.4-7.2.4 3.2.4.2.4-.1.4-1.8.4-2 .4 2.5.4-1.9.4 4.5.4 3.2.4-.2.4-1.4.4 4.9.4-2.2.4 6.3.4.5.4-4 .4-1.8.4-.9.4 2.6.4-2.3.4-.5.4-2 .4-.7.4 2.4.4-3.5.4 1.3.4-.3.4-2.4.4-2.3.4.6.4-.7.4 3.6.4-5 .4-.5.4 6.1.4-3.3.4 2.2.4 1.1.4 1.8.4-5.1.4 9.6.4.7.4 1 .4 3.1.4-4.3.4-.4.4-4.2.4 3.5.4-2.5.4-2.1.4.7.4 2.6.4-3.2.4-.8.4-3.4.4 2.7.4-3.9.4 3.5.4.1.4-2.8.4 1.8.4-2.8.4 4 .4 1 .4-4.6.4 2.4.4.7.4 2.8.4-1.8.4 1.8.4-6.6.4 4.4.4-5.2.4.2.4 4.9.4-.1.4-2.9.4 2 .4.3.4 3.9.4-2.9.4 3.2.4 2.2.4-.9.4-2.3.4-1.5.4-.4.4 3.3.4.2.4-1.6.4-.7.4-1.1.4 2.1.4-8.1.4 9.7.4-1.7.4-3.2.4-.2.4 3 .4 1.7.4-.7.4 1.8.4-2.2.4 1.1.4 1.3.4 1.7.4-.2.4-.7.4-4.2.4 1.3.4 1.2.4-1.6.4-2.6.4-1.2.4-1.7.4 2.8.4 2.1.4 0 .4 3.3.4-4 .4 3.9.4-1.2.4-1.7.4.5.4-2.8.4 3.4.4-2.1.4 3.5.4-3 .4 2 .4-4.2.4 1.5.4 4.9.4-4 .4 1.9.4 3.9.4-4.4.4 3.3.4-3.7.4 1.4.4-.9.4-2 .4 2.8.4-1 .4 1.6.4.5.4-4.2.4 1 .4-1.4.4 1.2.4-8.9.4 11.8.4-2.6.4 1.7.4 1.8.4 0 .4-4.5.4 3.1.4.2.4-9.1.4 10.4.4-2.9.4-1.7.4 1.6.4 4.5.4-7.9.4 5.6.4-1.6.4 3.8.4-.8.4-3.4.4-4.9.4 8.1.4-2.1.4.5.4 3.7.4-3.4.4 4.6.4-3.5.4-.3.4.9.4 1.9.4-.4.4 1 .4 2.3.4-1.2.4-6.5.4 1.4.4-.5.4 2.6.4-2.8.4-.9.4.5.4-2.6.4.2.4-1.3.4 3.7.4-1.2.4-2.6.4 3 .4 0 .4.3.4-1 .4-.2.4 2 .4.6.4-1.4.4-1.6.4 4.9.4.2.4-3.4.4-3.1.4 5.1.4 3 .4-7.7.4 5.5.4-2.3.4 1 .4-4.1.4 3.6.4 3 .4-3 .4 2.1.4-.8.4-2.2.4.5.4-1.9.4.5.4 2.3.4-.2.4-1.7.4 3.9.4-.9.4-1.5.4-7.4.4 12.7.4-.8.4.4.4-.6.4 5 .4-2.7.4-.7.4 1.6.4-1.9.4.8.4-1.5.4 1.9.4-3.5.4 4.4.4 1.3.4-5.4.4 5 .4-5 .4 1.2.4.6.4-1.8.4 2.8.4-.5.4 1.5.4 1.1.4-1.6.4 6 .4-4.7.4-.4.4-5.8.4 1.7.4 2.5.4-5 .4 2.8.4-4.5.4 1.9.4-.2.4-.1.4-5.4.4-4.2.4 6.5.4.6.4-1.7.4-2.3.4 2.5.4-.5.4-1.1.4-3.5.4-2.6.4 2.7.4 2.7.4-2.3.4 4.6.4-1.9.4 5 .4-2.6.4 2.8.4.2.4.2.4 1.5.4-5.6.4 1.4.4-2.6.4-4 .4.6.4-2.3.4 1 .4-.7.4.2.4-.4.4 2 .4 2.2.4-1.2.4-.6.4 3.3.4-2.8.4-2.5.4 2.6.4-.3.4-4.6.4 2.3.4-1.3.4 5.4.4-7.1.4 4.8.4-.7.4.3.4-.9.4 1.4.4 2.6.4-1.5.4 3.9.4 2.1.4-2.7.4-2 .4 2.7.4-1.8.4 7.2.4 2.3.4-4.4.4.2.4 1.1.4-1.1.4.2.4 3 .4-6.3.4 4.2.4 3.9.4-4.1.4-.2.4.5.4-2 .4 3.8.4 2.2.4-1.9.4 3.7.4-3.4.4-.9.4 2.7.4-5 .4 1.8.4 3.7.4-.5.4-2.7.4 2.8.4-.3.4.8.4-2.5.4 3.3.4-10.3.4 4.8.4 1.5.4-4 .4 2.6.4-6.6.4 3.5.4 1.4.4-.4.4.3.4-4.6.4.7.4 4.5.4-.8.4-1.1.4 2.6.4-2 .4-.2.4-1.2.4 2.5.4.6.4.9.4-3.8.4 3.3.4-4.7.4 1.7.4 1.7.4-2.8.4 2.2.4-1.1.4 1 .4-2 .4-3.4.4 4.8.4-.2.4 2.7.4-.1.4 1.2.4-.3.4 1.2.4-1 .4 3.6.4 0 .4 4.7.4-1 .4-2.6.4 3.6.4-3.3.4 1.5.4-2.4.4.7.4-5.1.4-1.8.4 2.9.4 3.4.4-3 .4 6.1.4-1.5.4 1.2.4-2.5.4 3 .4-2.6.4.9.4 1.8.4-1.5.4-2.6.4-.8.4 3.8.4-4.5.4-.4.4-1.1.4 3.7.4 2.1.4-2.9.4-2.3.4 3.8.4-2.4.4 2.6.4.5.4-3.6.4-.8.4 4.9.4-1.4.4.1.4 1.2.4-1.9.4 3 .4-.4.4-.8.4-2.2.4 1.2.4-2.3.4-1.3.4 2.2.4-5 .4 1.7.4 1.8.4-3.9.4-.3.4-1.3.4 5.1.4.6.4-4.3.4 6.1.4.4.4-2.3.4 3.7.4-3.3.4 1.7.4-1.7.4 5.7.4-4.8.4.8.4 1.9.4-2.9.4.6.4-.2.4-2.6.4 2.2.4-2.5.4-.7.4.5.4 2.4.4-5 .4 4.1.4-3.1.4 5.3.4-2.7.4 2.1.4-1.9.4 4.2.4-1.6.4-1.8.4 2.1.4 1.5.4-3.1.4 1.1.4-3.5.4-1.1.4 3.4.4-7.2.4 5.6.4-1.7.4 1 .4.6.4 1.2.4 2 .4.4.4-1.8.4 2.6.4.4.4 1 .4-3.9.4 1.1.4-1.7.4-.2.4-5.2.4-.4.4-4.3.4-1.7.4 2.4.4-.5.4-1.5.4-2 .4 6 .4 4.6.4-.2.4 2.1.4-1 .4.7.4-.3.4 2.2.4-3.8.4-7.9.4.3.4-3.9.4.7.4-3.1.4 2.6.4 5.8.4 4.4.4.6.4-.7.4 3 .4 1 .4.3.4 2.6.4-.1.4-2.1.4-2 .4-3.6.4-2.1.4-.1.4-1 .4-1.6.4-.4.4.2.4-.2.4-3.9.4.5.4-10.6.4-1.8.4 3.2.4 3.2.4 1.7.4 3.4.4 1.1.4-.6.4-.6.4 3.2.4-3.8.4-1.6.4.4.4 3 .4-10 .4 4.9.4 4.9.4-3.8.4 6.2.4 4.1.4-2.5.4 2.2.4-1.9.4-8.6.4 5 .4 2.2.4-2 .4 8.6.4-4.1.4.7.4 2 .4 2.6.4-4.4.4 4.9.4.1.4-3.6.4 3.4.4 1.7.4 2 .4-4.3.4 1.9.4 4.6.4-1.8.4 2.8.4-2.3.4 2.6.4.4.4-3.4.4 3.5.4-3.5.4.6.4-1.8.4-1.7.4 1.7.4 1.3.4-8.7.4 10.4.4-2.8.4 1.6.4 1.6.4-3.2.4-.2.4.3.4.4.4-.6.4-6.7.4 3 .4 4.4.4-.7.4.7.4-.9.4-.3.4-4.8.4 4.3.4-1.6.4 1.8.4 1.3.4-2.8.4 2.4.4.2.4-3 .4 3.8.4-5.4.4 3.4.4-5.3.4 5.9.4-1 .4-2.7.4 2.7.4-3.7.4-.4.4-.4.4 5.1.4-3.8.4-.1.4 0 .4-1.1.4 4.4.4.2.4-2.2.4.8.4 1.8.4-3.9.4.4.4.2.4.6.4 2.7.4-1.9.4.8.4 4.3.4-2.1.4 3.2.4 2.4.4-4.7.4 3.8.4-8.1.4 6.5.4-3.2.4-1.6.4-.2.4 1.5.4-1.1.4 1 .4-3.8.4 5.9.4-1.1.4.7.4-3.1.4 3.9.4-2.6.4-4.2.4-.3.4 1.3.4-5.8.4-2 .4-1.6.4 4.2.4.4.4-.5.4 3.7.4-2.2.4 2.4.4-2.1.4-1.3.4-4 .4 0 .4-1.9.4-2.3.4 2.1.4 0 .4 3.1.4-3.4.4-.2.4-5.8.4 4.2.4-.2.4-6.6.4 7.1.4-1.1.4.6.4 4.7.4 2.2.4.8.4-11.6.4 11.1.4 2.7.4-4.7.4 3.3.4-5.3.4 3.2.4-1.3.4.4.4-3.1.4 1.6.4 1.4.4 0 .4.9.4.6.4 5.2.4 5.4.4.9.4-2.6.4-1.5.4 1.9.4 3.5.4-1.8.4-.3.4-3 .4-.7.4 2.7.4.1.4-.9.4-5.9.4 6.5.4-1.6.4-4.3.4 4.5.4-.8.4 0 .4 1.5.4.9.4 0 .4.8.4-3.3.4 2.3.4 1.1.4.2.4-1.1" fill="none" stroke="#000" stroke-width="1.15" stroke-linejoin="round"/><path d="M60 259.8l.5 3.1.5 3.1.5-4.9.5 5 .5-5.8.5 3.4.5-1.9.5 4.1.5-5.7.5 6 .5-4.7.5 1.3.5 2.6.5-3.6.5-2.2.5-.6.5 3.1.5-1.7.5-2.9.5-.9.5 1.6.5-.6.5.1.5.5.5-6.8.5 2.7.5-4.4.5 0 .5-.3.5 1.8.5 1.6.5-7.1.5-1.4.5 2.9.5-4.5.5.1.5-3.2.5-2.7.5-8.4.5 4.5.5-5.8.5 3.7.5 1.7.5 9.6.5 5.3.5 1.8.5 1.7.5 0 .5-1.3.5 5.7.5 1.4.5-1.4.5-2.8.5 2.1.5-.1.5 1.6.5.4.5-.1.5 5.8.5-1 .5 1.4.5-2.7.5.8.5-.8.5 5.8.5-1.4.5-3.3.5 1.6.5-.5.5-.8.5-5.3.5 3.4.5-.7.5-2 .5 4.7.5.3.5-2.3.5-4.1.5.2.5 2.6.5-2.8.5-3 .5.4.5 5.9.5.1.5-7.3.5-4.5.5-2.9.5-5.8.5-.6.5 3.5.5 3.2.5 3.8.5.9.5 2.7.5 3.5.5 1.3.5-.2.5-2.7.5-1.8.5 1.6.5-5.7.5 3.9.5-10.4.5.4.5 5.6.5-1.5.5 2.9.5-1.9.5 5.1.5-5.2.5 2.9.5-3.1.5-3.6.5 1.4.5 9.4.5 2.2.5-3.3.5-2.8.5-1.4.5-1.4.5 1.6.5-.1.5-3.1.5 3.7.5 3.5.5 3.4.5-1.2.5-4.4.5 4.4.5-1.7.5.5.5-1 .5 1 .5-.7.5 1.7.5-.7.5 5.3.5-2.9.5 1.4.5-4.7.5 2.2.5 3.3.5-3 .5-.2.5 5.2.5-3.9.5-1.2.5 1.1.5 3.2.5-5.6.5 2.9.5.4.5 1.7.5-2.5.5 2.9.5 2.2.5-4.6.5 5.1.5-3.7.5-.7.5-1.4.5 3.3.5.3.5 2 .5.2.5-5.6.5 2 .5 2.1.5-.4.5-.8.5-.2.5-1.3.5-.9.5 4.2.5-4.1.5 6.4.5-.8.5-5.5.5 1.8.5 4.8.5.3.5-2 .5 1.3.5-2.4.5 2 .5-4.7.5 1.2.5 1.9.5 1.2.5.3.5-1.1.5-2.1.5 2.2.5-4.2.5 2.3.5 0 .5-2.4.5-1.2.5.6.5 7.3.5-4.4.5 4.3.5-5.8.5 1 .5-.9.5 4.2.5-.5.5-2.6.5.1.5-3 .5 6.4.5-3.9.5 1.3.5 2.2.5 1.1.5-6 .5 1.6.5-1.6.5 1.4.5 6.1.5-5.5.5 4 .5 2.2.5.6.5-4.6.5 2 .5-.7.5 1.8.5-5.4.5 6.4.5-4 .5-1.4.5 4.6.5-2.5.5 4.2.5-.6.5-6.1.5 4.1.5 2.2.5-5.2.5 2.9.5-3.4.5 3.5.5.3.5-5.4.5 3.5.5 1.4.5-.3.5-6.7.5 3.6.5 2.1.5-5.7.5.7.5 4.4.5-1.6.5-1.4.5-1.9.5 6.3.5-6.2.5 2.5.5-.6.5 3.5.5-3.7.5 7.1.5-4.4.5 4.2.5-6.4.5-1.2.5 4.3.5.2.5-6.1.5 0 .5.7.5 5.9.5-5.3.5-2.4.5 4.9.5-1.9.5 4.3.5.8.5-1.3.5-.1.5.2.5-1.2.5-2 .5-7.2.5-6.1.5-3.8.5 2.4.5-3.4.5 4.7.5-.8.5 2.3.5-4.1.5 4.1.5.4.5 1.7.5-7.3.5-1.3.5 4.4.5.4.5 5.7.5-6.1.5 3.1.5 1.5.5 1.1.5-.6.5 3.9.5-.6.5-.1.5-1.6.5 4.3.5-3.9.5-.4.5-.5.5 2 .5 1.9.5-2 .5.9.5 1.4.5-4.3.5-.9.5 2.8.5.5.5 1.3.5-1.6.5-.3.5.4.5 1.9.5 1 .5-5.6.5 3.8.5-.2.5 4.8.5.8.5-2.2.5-1.5.5.4.5 5 .5-4 .5 4.2.5-1.1.5 2.1.5-1 .5-1.4.5 1 .5-3.7.5 3.4.5-.6.5 4.1.5-5.6.5 2.5.5 1.9.5.6.5-.7.5-1.5.5 3.5.5.4.5-5 .5-3 .5-1.9.5-3.2.5-1 .5-3.1.5 2.9.5-5.1.5.3.5 2.8.5-4.5.5 5.4.5-4.1.5 5.7.5.6.5-3.7.5 1.8.5 1.4.5 3.2.5 1.3.5 3.2.5 1.1.5-.7.5 2.5.5.1.5-3.4.5 5.1.5-.7.5-4.4.5 1.1.5-5.7.5 5.4.5-.4.5-5.5.5.1.5 3.4.5 1.8.5 2.2.5-3.1.5 1.5.5-3.1.5 3.3.5-.4.5 2.9.5-3.4.5 3.5.5-1.3.5-1.4.5-.9.5 3.3.5-5 .5 2.9.5-3 .5-.7.5 5.2.5-5.9.5 3.3.5-3.4.5 1.4.5 1 .5 5 .5-4.6.5 3.7.5 3.8.5-4.5.5 1.7.5-3.4.5 5.7.5-1.2.5-3.7.5 1.6.5.3.5-.4.5-2 .5 2.6.5-1.8.5-1.9.5 1.6.5-4.5.5 2 .5-2.6.5 4.5.5-4.3.5-.6.5-2.3.5-1.7.5 5.4.5-1.4.5 1.2.5 3.3.5-8 .5-1.5.5 1.7.5.9.5 7.1.5 2.2.5-1.3.5 1.4.5-3.7.5-2.8.5-3.6.5 2.1.5-3 .5 3 .5 1.4.5-5.5.5 1.1.5.8.5.2.5 2 .5-5.6.5-4 .5 3.4.5 4.2.5-1.7.5-.5.5.5.5-.3.5-.1.5-.4.5-.4.5 2.7.5-.5.5-.3.5-2.4.5-3.6.5-5.1.5 4.6.5-1.9.5 1.7.5-6.3.5 1 .5 2.3.5 5.2.5 1.8.5-.3.5 5.6.5 5.4.5-.7.5-3.9.5 4.9.5 1.8.5-3.5.5 1.4.5-4.2.5 2 .5-2 .5 1.8.5 1.6.5-2.2.5.6.5 3.1.5-1.5.5-3.1.5-3.6.5-.2.5 4.6.5.7.5-2.3.5 2.6.5-2 .5-.3.5-4.3.5-.5.5.2.5 2.4.5-2.7.5 1.6.5.9.5 4.6.5-3.3.5-1.6.5 4.2.5-2.8.5 5.6.5 1.2.5.5.5-3.8.5.1.5 5 .5-2.5.5-.9.5 1.8.5.4.5-.6.5 2.4.5-6.6.5 3.9.5.5.5-1.8.5-1 .5 4.1.5-.3.5.3.5 1.3.5-1.5.5.9.5-2.4.5-2.6.5-1.6.5 4.9.5 1.6.5-5.2.5 6.1.5-7.2.5 1 .5-1.1.5 4.4.5-2.7.5 5.4.5.2.5-3.1.5 5.4.5-4 .5 1.7.5-11.8.5-6.4.5-.4.5 1.4.5 4.9.5-.9.5-2.6.5 1.9.5-3.7.5 2.8.5 6.4.5.7.5 4.3.5-4.1.5-1.3.5 5.1.5-1.8.5-2.8.5-4.1.5-1.5.5 4.1.5-3.2.5-.3.5 1 .5-2 .5-1.1.5-2 .5.5.5-2.2.5 7.2.5-.3.5 1.7.5-.6.5-1.1.5 2.5.5 0 .5 6.5.5-4.5.5 3.1.5-1.2.5-4.6.5 4.1.5-5.7.5 2.5.5-3.1.5-2.5.5 1.4.5-4.5.5 3 .5-1.9.5 4.9.5-2.1.5-2.1.5 3.5.5-2.5.5 4.4.5-6.3.5 4.3.5-.4.5-2.6.5.6.5-3.9.5 6.5.5-1.4.5.1.5 4.5.5-3.5.5 2.1.5.6.5-2.4.5 4.1.5-1.8.5-2.2.5-.5.5 7 .5-.7.5-7.5.5 1.3.5 1.1.5.3.5-2.3.5 2 .5 4.8.5-5.1.5.4.5 5.1.5-2.3.5-2.1.5 5.3.5-1 .5-5.1.5-.7.5-.4.5.6.5 1.7.5.9.5 1.3.5.9.5-6.7.5 3.5.5-2 .5 5.6.5-1 .5-1 .5-5.8.5 3 .5-1.2.5.7.5 6.9.5-1.2.5-5.2.5 3.7.5 2.8.5-4.8.5 1.7.5-3.4.5 5.3.5-1.8.5-1.1.5 2.4.5-1.2.5-.7.5.2.5-4.6.5-.6.5 4.6.5.4.5-5.2.5 5.4.5 1.3.5-3.9.5 5.9.5-.9.5-5.3.5 7.1.5-5.7.5 4.7.5-2.1.5.3.5-.7.5 3 .5-5 .5 3.9.5 1.3.5-2.4.5 4.1.5-5.4.5 3.6.5.3.5-1.2.5-2.3.5 6 .5-5.3.5 3.1.5-5.8.5 3.3.5-3.5.5-4 .5 2.2.5-2.6.5 5.3.5-1.7.5 4.5.5-4 .5-.9.5 2.6.5 0 .5-3.6.5 4.3.5-1.3.5 5.2.5-5.1.5 3.5.5-2.7.5 4.5.5-5.2.5 1.7.5-.7.5 1.6.5 4.3.5-4.5.5-1.5.5-1.7.5 1.6.5-1.3.5-1.4.5 2.1.5-.1.5 4.6.5-4.1.5 6.2.5.6.5.6.5-2.1.5.7.5-.7.5 4.7.5-.4.5 0 .5-1.4.5-3 .5 4.3.5-4.2.5-.2.5 2.9.5-.4.5-1.7.5-.3.5 4.5.5-3.7.5 6 .5-.2.5-5.2.5-3.9.5 5.4.5-1.8.5-4.1.5 2.3.5-1.9.5-6.2.5 2.3.5-.9.5-2.9.5 3.8.5-3.2.5 3.6.5-3.8.5-.7.5-3.5.5 4.9.5-4.4.5 6.9.5-4.1.5 4.1.5 4.2.5-4.4.5 2.6.5-.9.5-6.2.5-.5.5-1.7.5 3.4.5-.7.5.2.5-3.5.5 3.6.5.1.5 1 .5.6.5.4.5-2.7.5-.4.5-4.8.5 1.2.5 1.3.5.5.5.7.5-.1.5.5.5.3.5-.8.5 1 .5 2.4.5 2.8.5-1.3.5-1 .5 1.4.5 5.4.5.9.5-5.7.5-.9.5.2.5 2 .5 3.7.5-2.2.5-.8.5 2.6.5 1.4.5-1.2.5.4.5 2.5.5.9.5-1.3.5 1.5.5-1.3.5-.7.5-4.5.5.2.5 2.7.5-1.3.5 2.7.5 1.7.5-3.3.5 5 .5-4.3.5-2.9.5 1.7.5-4.1.5-.3.5-1.7.5 0 .5 3.1.5-3.5.5 3.9.5-1.1.5 5.1.5-5.8.5 4.1.5-4.9.5 0 .5 3.7.5 1.7.5-2 .5-.8.5 2.7.5-3.4.5-1.5.5 3.7.5-4.8.5 1.7.5-.6.5 4.4.5-2.4.5.6.5 5.7.5.9.5.3.5-.1.5 1.1.5-2.1.5-1.6.5 5.4.5-5.4.5 4 .5-4.7.5-1.6.5 4.2.5-.2.5-2 .5 4.1.5-1.5.5 4 .5-4.9.5-.5.5 5 .5-2.3.5-2.3.5 1.5.5-1.3.5.4.5 3.2.5-5.1.5 4.4.5-2.4.5 1.1.5 1.1.5-4.7.5.1.5-2.1.5 3.5.5-.5.5 5.4.5-5.4.5 4.4.5.1.5-1.7.5-3.1.5.4.5-4 .5-.3.5.9.5 1.7.5.7.5.6.5-5.6.5 2.3.5.1.5.6.5 1.2.5 1.3.5-.4.5 4.6.5 2.3.5-6.5.5 5.5.5 0 .5-7.7.5 4.3.5-3.5.5-1 .5 2.5.5-3.4.5 1.1.5 1.7.5-2 .5 2.5.5-.8.5 4.3.5-3.4.5 2.5.5.5.5.4.5-5.1.5 3.6.5-4.8.5 3.9.5-1.2.5-1.5.5 1.6.5.8.5 2.6.5-6.5.5 6.7.5-4.4.5 4 .5 0 .5-1 .5-3.9.5.5.5-5.7.5-1.5.5.1.5-4 .5 4.3.5 1.7.5 4.7.5.3.5.7.5 1 .5-3.6.5 3.2.5-6.8.5-4.2.5-5.8.5 2.9.5-2.2.5 6.8.5 3 .5 1.4.5 2.6.5 3 .5.9.5-3.2.5 4.4.5-2.7.5-6.2.5-1.4.5 1.5.5-1.1.5-4.1.5-1.3.5.2.5-4.9.5-7 .5 3.5.5 3.3.5 4.6.5 0 .5-3.2.5 1.9.5 1.6.5-2.3.5-3.4.5.2.5-1.4.5-1.2.5 5 .5 1.4.5 2 .5 3.3.5 1.1.5 3.2.5-2.5.5 2.2.5-2.9.5-2.3.5 5.5.5-3.5.5 6.7.5.5.5-4.8.5 3.3.5 2.8.5 1 .5 1.3.5-3.8.5 1.5.5-2.3.5 7.4.5-2.3.5.2.5 1.7.5-2 .5-.4.5 1.5.5-5.8.5 2.3.5-2.5.5.6.5.8.5 4.6.5-1.2.5-.3.5-2.5.5-1.9.5-1.9.5.5.5 2.5.5 5 .5-3.2.5 1.1.5-1.7.5 2.1.5-3 .5.6.5 2.5.5-6 .5-.5.5.9.5 2.3.5.7.5-.3.5-2.9.5 3.2.5-4.2.5 3.7.5-4.1.5-1.4.5 3.3.5 3.6.5-2.1.5 3 .5-3.8.5 2.3.5-.1.5-4.3.5.5.5-.9.5 3.9.5-.6.5 1.1.5 2.4.5 4.3.5-1.9.5-2.1.5 0 .5-2.9.5.6.5-3.6.5.2.5 3.1.5-4 .5 4.7.5-1.8.5 4.8.5-3.7.5-.9.5.7.5-.8.5-5.3.5.8.5.1.5-6.2.5 2.7.5 4.8.5-5.3.5 2.6.5-4.3.5 2.4.5-1.5.5.8.5-4.7.5-.6.5 1.7.5-2.7.5 1.6.5-2 .5-2 .5-.2.5 5.8.5-5.8.5 4.3.5 2.6.5-.7.5.5.5 7 .5-7.7.5 2 .5 2.1.5-6.4.5.8.5 5.4.5.2.5-2.6.5 2.1.5 7.3.5.2.5 3.6.5 1.3.5 1 .5-2.3.5-3.1.5 1.3.5-3.9.5-1 .5 7.6.5-3.2.5-3.7.5-1.8.5 1.9.5 3.6.5-4.8.5 4.3.5-.6.5-.4.5 1.9.5-.5.5-3.3.5.9.5-1.4" fill="none" stroke="#000" stroke-width="0.6" stroke-opacity="0.85" stroke-linejoin="bevel"/><path d="M75.6 247.7v10.5m.8-14.9v11.5m.8-9.5v11.1m.4-14.6v3.1m8 8.3v5.6m22-8.2v11.4m2-5.6v9.8m5.6-19.1v12m3.2-7v4.6m4-5.6v3.7m.4-10.9v7.2m15.2 4.9v11.6m2-7.2v5.3m5.2-4.9v7.2m20.4-8v8m4.4-5.2v5.2m.4-8.9v5.4m13.6.1v3.4m.4-5.3v5.3m2.8-11v11m5.6-4v3.5m10-8.2v8.7m5.2-20v4.4m2-9.2v6.6m10-.5v12.3m3.6-8.6v3.7m3.6-2.5v12.5m8-2.3v3.6m8.8-20.3v4.3m2.4-3.2v4.4m6.4 10.5v4.3m8.8-9.7v3.7m3.2-4.1v10.1m.4-6.7v6.2m.8-6.8v7.3m4.8-5.1v5.1m8.8-7.9v3.7m.8-5.7v6.3m.8-9.2v6.2m1.6-8.5v9.6m8.4-10v5.4m4-8.9v6.2m2.4-6.5v12.9m2-11.9v8.9m4.4-12.3v8.5m10 5.9v7.3m2-5.7v5.7m1.6-15.7v9.9m6-8.7v3.7m3.6-3.3v14m11.2-8.7v7.8m.4-7.7v5.2m7.2-1.1v4.6m2.8-19.2v4.9m3.6-2.1v5.5m4.4-4.9v3.9m4.4-10.9v8.5m1.6-4v9.6m15.6-9v11.6m2-11.2v13.7m16.4-9.8v10.4m.8-11.6v10.2m2.4-9.2v10.4m7.6-13.4v6.8m10.8.8v9m8-17v13.5m2-10.6v5.9m.4-5.6v9.2m11.6-9.5v11.1m2-4.3v4m2.4-3.4v6.7m.4-5.1v5.1m1.2-7.7v7.7m5.2-5.2v5.2m2.4-10.6v8.4m2.4-9v3.2m8.4-4.2v6.7m9.2-19.1v8.4m3.6-4.2v7m5.2 2.7v5.8m.4-6.9v11.8m.8-8.6v8.6m2.4-10.6v6m5.2-4.5v4.6m4-5.9v10.4m1.2-12.1v3.9m4-4.9v7.1m4-8.9v3.3m.8-2.2v6.9m1.6-6.5v4.3m6.8 4v5.1m.8-12v12m17.6-7.9v4m2.4-8.1v6.8m1.2-2.6v3.5m7.2-7.7v12m15.2-17.3v8.4m7.2-7.1v10.1m6.4-11.9v12.5m6.4-19.1v8.5m1.2-15.1v10.3m.4-5.4v3.4m3.6 2.2v9.8m3.2-4.2v4.8m3.6 5.9v4.2m3.6-5.3v5.3m8-7.2v3.4m12-5.7v6.5m.4-4.7v5.9m3.2-2.7v4.5m19.6-24.2v7m1.6 1.3v13.2m2-12.4v8m.8-10.1v10.6m5.2-2.7v7.5m4-11.9v10.6m3.6-3.9v7" fill="none" stroke="#000" stroke-width="0.6" stroke-dasharray="1 1"/><path d="M60 256l3.6-2.1 3.5-1.5 3.6-.7 3.6.7 3.6 1.9 3.5 1 3.6.4 3.6-.1 3.5-.3 3.6-.7 2.9-1.2 2.8-.5 2.9.2 2.8 2.2 2.9 1.4 3.6.7 3.5.3 3.6.4 3.6.5 3.6.3 3.5.2 3.6-.5 3.6-.9 3.5-.7 3.6-.3 3.6 0 3.6-.3 3.5-.1 3.6-.3 3.6-.7 3.5.3 3.6.4 3.6.3 3.6.4 3.5.4 3.6-.4 3.6-.7 3.5-.7 3.6-.7 3.6-.5 3.6-.2 3.5.2 3.6.5 3.6.7 3.5.7 3.6.3 3.6-.3 3.6-.4 3.5-.3 3.6.3 3.6.4 3.5.4 3.6.3 3.6.4 3.6.3 3.5-.3 3.6-1.1 3.6-1.7 3.5-1.4 2.9-.5 2.9 1 2.8 1.9 2.9 1.4 2.8.7 3.6 0 3.6-.3 3.5-.4 3.6 0 3.6.3 3.6.1 3.5 0 3.6-.1 3.6-.3 3.5-.3 3.6-.1 3.6 0 3.6.1 3.5.3 3.6.4 3.6.3 3.5-.3 3.6-.8 3.6-1.7 3.6-1.5 3.5-.7 3.6.7 2.9 1.5 3.5 1.7 3.6 1.1 3.6.7 3.5.3 3.6.2 3.6 0 3.6 0 3.5 0 3.6 0 3.6.3 3.5.2 3.6.5 3.6.3 3.6 0 3.5 0 3.6-.3 3.6-.5 3.5-1 3.6-1.4 3.6-2.1 3.6-1.2 3.5-.3 3.6 0 3.6.5 3.5 1 2.9 1 2.9.7 2.1.4 3.6-.4 3.5-.3 3.6-.3 3.6.6 3.6.8 3.5 1 3.6.8 3.6.2 3.5 0 3.6-.2 3.6-.3 3.6 0 3.5.3 3.6.2 3.6 0 3.5-1 3.6-2.1 3.6-2.1 3.6-1 3.5 0 2.9 1 2.8 2.1 2.9 1.1 3.6.3 3.5.3 3.6-.3 3.6-.3 3.6-.4 2.1.7 3.6.3 3.5 0 3.6-.3 3.6-.7 3.6-.4 3.5.4 3.6.7 3.6.7 3.5.5 3.6-.5 3.6-1 3.6-1.1 3.5-.7 3.6 0 3.6.7 3.5.7 3.6 1 3.6 1.2 3.6.7 3.5-.5 3.6-1.4 3.6-1.4 3.5-.6 3.6-.4 3.6-.4 3.6-1 4.2 0" fill="none" stroke="#f4b62a" stroke-width="1.55" stroke-linejoin="round"/><path d="M60 261l3.6 0 3.5-.7 3.6-1.2 3.6-1.4 3.6-2.4 3.5-3.3 3.6-2.4 2.1-1.2 2.2 1.2 2.1 2.8 2.9 2.9 2.8 2.1 2.9 1.2 2.9 0 3.5 0 3.6.5 3.6.8 3.5.7 3.6.4 3.6 0 3.6-.7 3.5-2.2 2.9-4.2 2.1-1.5 2.2 1.5 2.1 2.1 2.9-.3 3.5-.4 3.6.7 3.6 1.1 3.6 1 2.1 0 3.6-.7 3.5-.7 3.6-.3 3.6.3 3.6.4 3.5.6 3.6.4 3.6 0 3.5 0 3.6 0 3.6-.7 3.6-2.1 2.8-2.4 2.2-.5 2.1 1.5 2.9 2.1 2.8 1.1 2.9.6 3.5-.3 3.6-.7 3.6-.4 3.6.4 3.5.7 3.6.3 3.6 0 3.5-.3 3.6-.3 3.6-.4 3.6 0 2.1.7 3.6-.3 3.5-.4 3.6-.4 3.6.4 3.6.7 3.5.7 3.6.8 3.6.2 3.5.5 3.6.3 3.6.1 3.6 0 3.5 0 3.6 0 3.6 0 3.5 0 3.6 0 3.6-.1 3.6-.3 3.5-.5 3.6-.5 3.6-1.9 3.5-2.1 3.6-.7 3.6-.5 3.6.5 3.5.7 3.6-3.6 2.1 1.4 2.2 2.9 2.8 2.1 3.6 1.5 3.6.7 3.6.3 3.5 0 3.6 0 3.6 0 3.5-.2 3.6-.1 3.6-.3 3.6-.4 3.5-.3 3.6 0 3.6 0 3.5 0 3.6-.5 3.6 0 3.6.5 3.5 1 3.6.7 3.6.3 3.5-.3 3.6-1.2 2.9-2 2.8-1.8 2.2.7 2.1 2.1 2.2 1 2.1 0 3.6-.2 3.5-.8 3.6-.4 3.6-.6 3.6-.4 3.5 0 3.6-2.1 3.6-2.6 2.1-.3 2.2 1.4 2.8 1.5 2.9 2.1 2.8 2.2 3.6.7 3.6.3 3.5.4 3.6.7 3.6 0 3.6-.7 3.5-1.2 3.6-2 3.6-1.1 3.5-.3 3.6-.4 3.6-.7 3.6-1.2 3.5-1 3.6-.7 3.6-.7 1.4-1 2.1.3 2.2 2.1 2.8 2.2 3.6 1.4 3.6 1.1 3.6 1 3.5.8 3.6.4 3.6.3 3.5 0 3.6 0 3.6-.7 3.6-2.2 3.5-2.8 2.9-2.2 2.8 0 2.9 1.7 2.9 2.6 3.5 1.7 3.6 1.2 3.6.7 3.5 0 3.6-.7 3.6-.8 3.6-.4 3.5-.6 3.6-.4 3.6 0 3.5 1" fill="none" stroke="#1b8bd5" stroke-width="1.75" stroke-linejoin="round"/></g>
<g clip-path="url(#c6)"><path d="M61 285.6v22m.5-22.3v23.6m.5-22.7v23m.5-24.1v24m1.5-25.4v17m.5-19.2v18.1m.5-15.8v16.7m1-22.7v27.3m.5-26.7v26.9m1.5-21.1v12.1m2-18.7v21.1m.5-21.2v23.3m.5-21.3v19.4m1-17.3v22.3m.5-26.7v25.4m.5-21.4v20m1.5-13.3v11.7m.5-12.7v13.2m.5-12.9v13.3m.5-12.9v12.6m1.5-14.9v10.6m.5-10.2v11.5m.5-11v10.5m.5-10.5v11.3m2-24.3v25m2-17.3v16.3m.5-16v17.3m.5-18.3v19m2-19.8v23.5m.5-28.2v27m.5-23.8v26m.5-23.8v21m1-15.2v18m.5-18.2v14.9m1.5-22.3v20.8m.5-22.3v21m.5-18.6v18.8m1.5-11.8v10.1m.5-9.9v10m2-13.1v13.5m.5-12.6v15.3m.5-18.3v16.5m1.5-16.7v16.5m.5-16v18.4m.5-19.5v19.3m1.5-16.9v17.2m1.5-16.5v12.6m.5-15.1v13.7m.5-13.4v14.7m1.5-17v20.9m2-23.5v27.7m.5-31.1v31m.5-30.1v34.2m.5-31.5v29.3m1.5-24.6v29.4m.5-28v26.4m1-33.2v29.1m.5-27.6v27.4m.5-27.1v26.2m.5-25v25.4m1-25.8v24.1m.5-22.2v21.9m.5-22.3v21m1.5-22.5v15.9m.5-20v19m.5-16.9v17.2m1-14.7v23.2m.5-20.7v20.2m.5-21.5v20m2-27v21.9m1-14.6v21.9m.5-21.3v19.1m.5-17.6v20.2m2-28.3v20.4m.5-21v21.1m.5-21.3v20.7m.5-22.4v22.6m2-18.5v20.2m.5-19.5v20.8m.5-25.7v25.8m2-18.5v17.5m.5-18.2v17.2m.5-18.6v19m2-22.7v27.6m2-20.4v20.4m.5-20.7v20.4m.5-19v21.3m1.5-28.1v20.8m1.5-12.5v20.9m.5-21.6v19.8m1.5-29.2v30m.5-30.8v32.3m.5-30.6v27.1m1.5-16.5v17.1m.5-17.9v15.5m.5-13.8v14.4m.5-15.6v17.2m1.5-26.8v22.4m.5-24.8v23.4m.5-21.9v23.5m1-12.5v18.6m.5-18.2v16.4m1-17.3v17.5m.5-17.7v20.3m.5-19.8v19.8m.5-18.5v17m1-21.9v12.9m1-8.1v18.8m.5-19.9v15.9m.5-17.1v18.8m.5-16.9v15.6m2-13.2v13.5m.5-13.7v10.5m2-19v13.9m.5-14.3v15.7m.5-15.6v15.2m2-9.2v13m1.5-11.1v13.7m2-13.2v15m1.5-14.2v14.8m.5-14v11.7m.5-12.3v14.7m1-17.7v8.4m.5-8v8.3m1-9.9v16.4m.5-16.1v15.7m1-14v8.2m.5-7.2v8m.5-8.2v7.2m1-12.2v16.2m.5-15.6v16.2m.5-16.6v16m.5-15.6v15.4m1-10.8v13.8m.5-13.2v15.2m2-19.9v19m.5-19v18m.5-17.9v20.2m.5-18.9v16.8m2-17.7v15.6m1.5-17.5v13m1.5-7.9v8.7m.5-8.3v7.6m.5-7.3v7.3m1-15.9v21.5m1-27.6v23.6m1.5-18.2v32.9m.5-34.5v29.3m.5-30v33m2-22.7v10.1m.5-8.6v8.2m.5-9.2v9.2m.5-9.1v9.5m2-12.3v13.2m.5-12v13.2m1-13.6v15.6m.5-16.7v18.2m.5-17v15.3m.5-15.1v15.3m1-13.6v11.7m.5-11.7v15.3m.5-14.9v15.1m.5-15.4v12.1m1-15.7v21.2m.5-21.5v21.6m.5-21.3v16.3m.5-17.5v21.1m1-26v24m.5-25.3v22.7m2-18.7v16.4m.5-13.9v16.1m.5-17.6v16m.5-15.8v18.2m1-14.7v12m2-15.5v15.8m.5-17.6v17.3m.5-17.9v17.3m1.5-16.5v14.4m1.5-16.5v19.6m.5-17.6v18.3m.5-18.8v18.8m2-18.5v14.6m.5-19.6v18.6m2-6.8v14m.5-14v13.4m.5-13.3v12.2m.5-12.3v10.8m1-14v13.8m1-9.5v11.2m1.5-13.5v11.1m1-12.5v12.4m.5-10.3v10.3m.5-12v10.9m.5-10.1v9.1m1-9.6v9m.5-8.5v9.5m.5-9.8v9.6m1.5-11.3v18.7m.5-18.6v19.2m1-16v14.9m.5-14.4v12m.5-12.9v14m.5-14.4v15.8m1-24.3v20.9m.5-22.6v21.4m.5-20.8v20.2m.5-19.2v18.8m1-11.6v16.6m.5-17.6v15.1m1-19.2v16m.5-15.3v14.4m.5-15v15m2-12.9v21.3m.5-20.7v20.6m.5-21.8v21.2m1.5-17.4v12.2m.5-9.7v10.1m.5-10.1v10.9m.5-12.4v11.1m1.5-11.7v14.8m2-15.7v15.9m1.5-19.2v15.8m.5-14.5v14.3m.5-15.5v16.1m.5-13.8v12.6m1.5-20.3v23.8m.5-21.2v21.3m1-17.8v13.1m.5-16.6v15.5m2-6.1v15.8m.5-14.9v15.7m.5-16.4v16.6m1.5-18.1v14.1m1-15.1v21.4m.5-23.1v24.9m.5-23.4v21.9m1.5-26.3v24.2m1.5-19.7v8.8m1-10.4v23.1m.5-22.1v23.1m.5-25.3v24.4m2-18.6v12.2m.5-13.3v11.3m.5-11v12m.5-11.4v12.5m1-19.8v17.5m.5-21v20.2m.5-18v17m.5-14.8v15.9m1-12.3v14.9m2-15.6v19.6m.5-20.7v21.1m1-17.6v11.5m.5-10.5v11m1-14v13m.5-12.5v14.2m.5-12.8v12.3m1-11.3v14.5m1.5-14.5v12.9m2-12.1v14.7m.5-15.3v15.2m.5-15.5v16.7m1-18.2v12.1m.5-12v14.2m.5-14.1v11.8m.5-11.6v14.6m1.5-16.6v10.7m1-9.5v11.5m.5-11.2v11.5m2-11.8v17.2m.5-17.5v19.4m.5-19.2v18.6m.5-19.2v19.4m1-14.8v7.9m.5-8.2v8.7m1.5-12.2v19.6m1.5-20.8v11.6m.5-11v10.3m1.5-14.1v22.9m.5-21.1v17.2m1.5-20.9v20.2m.5-20.4v20.6m1.5-14.4v16.4m2-19v19.5m.5-18.8v16.5m.5-18.1v20m1-21.4v18m.5-17.7v17.6m1.5-17.1v20.8m1-14.3v18.4m2-19.2v19.7m.5-19.9v18.2m2-21.9v16m.5-16.6v19.6m.5-18.3v17.7m2-22.5v18.3m.5-18.7v18.2m1.5-16.6v22.1m1.5-16.3v15.5m.5-16.9v16.9m.5-16.7v17.7m2-19.2v21.4m2-23.2v25.8m.5-27.4v23.4m.5-20.5v20.1m2-25.5v17.6m.5-17.9v19.3m.5-16.8v16.3m.5-17.8v16.6m2-16.5v20.3m.5-21.1v22.6m2-11.7v10.4m.5-11.2v11.1m1.5-12.8v13.5m2-20.1v20.8m1.5-17.9v16.1m.5-15.4v15.1m1-10.6v18.3m.5-18.5v18m.5-19.1v16.4m1-17.4v16.3m2-19.6v25.3m.5-25.5v20.9m1.5-16.8v17.3m.5-19.2v18.5m.5-19v17.6m.5-16.4v15.3m2-13.6v16m.5-15.2v15m.5-16v16.3m.5-16.4v15.4m1-16.6v17.5m.5-17v16.2m.5-15.5v17.7m1-19.8v16.6m2-20.6v24.4m.5-26.8v25.9m.5-26.3v24.8m.5-25.1v26.5m1-23v15.8m.5-14.2v14.6m2-20.6v19.2m.5-17.3v17.1m1-9.3v13m.5-14.1v12.5m1-12.5v18.2m.5-20.3v18.8m.5-18.7v18.8m.5-18.9v20m1.5-14.9v13.1m.5-14.7v13.2m.5-13.1v14.4m1.5-15.8v18.2m.5-16.7v14.9m.5-17.6v17m.5-17v16.6m1.5-27.9v23.7m1.5-24.2v28.1m.5-26.9v29.9m.5-29.5v28.6m1-17v19.2m.5-16.9v18.1m.5-18v19.6m2-33.1v33.6m.5-33.4v34.9m.5-31.4v28.1m1.5-27.3v23.4m2-29.4v21.5m1-21.7v25.9m.5-26v26.3m1.5-18v22.1m.5-20v17.3m.5-16.2v19.5m.5-19.3v17.9m1-21.3v25m.5-23.1v21.2m.5-24.4v24.1m.5-23.5v27.1m1-25.6v23.7m1.5-27v25.9m.5-26.8v27m2-17.6v21.7m.5-21.4v19.2m.5-18.2v16.4m.5-16.5v21.5m2-21.2v13.1m.5-13v13.4m.5-12.6v13.4m.5-13.6v12.7m1.5-14.5v11.9m.5-12.2v15.2m.5-16.9v16.7m.5-14.7v12.8m2-18v16.2m1-9.2v11.5m.5-11.7v12.1m.5-12v11.1m1-13v15.1m.5-16.7v13.9m1.5-15.7v21.1m.5-19v19.4m.5-20.4v18m.5-17.5v18.9m1.5-18.7v11.6m.5-11.9v12.9m2-9.2v14.5m1-16.7v13.4m.5-13.9v11.7m1.5-9.7v16m.5-16v16m.5-15.3v15.1m1-21.2v18.3m.5-15.9v16.2m.5-16.3v14.8m2-16v17.4m.5-16.3v16.9m1.5-14v11.7m.5-10.5v11.3m1.5-19.4v21.8m.5-21.7v22.1m.5-20.4v22m.5-21.5v19.3m2-23.8v26.1m.5-25.1v23.6m.5-20.4v19m1.5-19.3v15.4m1-14.5v19.1m.5-16.9v17.5m.5-17.7v19.9m.5-21.5v21.4m1-19.3v18.8m1-21.5v20m.5-18.7v18.2m.5-19.5v20.2m1-23.4v18m.5-18.2v17.3m2-14v13.5m.5-15.4v17.9m.5-19.4v17.9m.5-17.2v16.7m2-10.3v19.2m1.5-27.7v21.9m.5-22.7v24.1m.5-23.2v20.6m.5-22.4v25.2m1.5-15.1v18.3m.5-17.9v15.5m1.5-21.7v25.7m.5-25.2v24m.5-24.6v21.8m1-22.6v18.8m.5-17.6v19.4m.5-17.5v17.5m.5-16.4v14m2-14.7v13.1m1.5-15.3v14.5m.5-10.6v10m.5-11.5v12.1m2-11.8v10m.5-7.9v7.7m.5-8.8v8.7m.5-7.5v7.3m2-13.1v16.6m.5-14v14m.5-15.8v17.3m.5-19.7v18m1.5-13.9v14.6m.5-13.2v13.3m1.5-17.5v22.7m.5-27v27.5m.5-26.8v24.8m2-22.3v18m2-15.1v14.9m1-8v15.4m.5-15.9v18.1m.5-18.1v16.2m2-23.8v21.7m.5-24.5v21.5m.5-19.4v19.2m2-16.3v14.5m2-14.6v23.5m.5-25.8v25.3m.5-26.2v23.8m.5-24.9v23.5m1.5-20.1v21.7m.5-18.3v17.1m.5-18v18.4m.5-18.2v14.7m1-13.5v10m.5-9.7v9.5m1-11.3v10.6m.5-8.1v7.3m.5-7v6.8m.5-8.6v8.8m1-11.4v14.4m.5-12.1v12.8m.5-15.1v14.8m.5-14.6v15.4m1.5-12.2v9.1m.5-8.1v8.1m.5-7.8v8.3m.5-8v8.6m1-8.9v9.8m.5-11.8v13.2m1.5-16v11m.5-8.8v8.7m.5-9.7v10.4m2-9.8v17.3m.5-19.8v18.7m2-10.5v10.5m.5-10.6v10.2m.5-10.3v9.7m.5-10.1v11.1m1.5-22.7v29.5m.5-26.8v26.8m1.5-23.2v24.1m1-32v22.5m.5-20.2v20.2m.5-18v19.5m1-26.6v29.4m.5-25.4v25.2m.5-26.6v28.5m.5-26.3v24.6m2-17.9v14.2m.5-14.6v14.5m.5-14.2v14.4m.5-13.9v14.6m1-14.4v25.5m.5-25.2v25.1m.5-24.1v24m.5-23.9v23.4m2-24.8v16.6m.5-18.4v15.4m.5-13.9v16.7m1.5-13.4v15.6m1.5-23.7v21.8m.5-22.6v21.8m2-20.8v20.4m.5-21.6v21.1m1-15v13.9m.5-12.5v13m1-14.3v11.3m2-12.9v20.4m.5-18.3v19.4m.5-20.4v19.5m1.5-20.1v20.2m2-21.1v21.6m.5-21.1v19.3m2-16.3v11.8m.5-11.1v11.8m.5-12v11m.5-12.1v11.5m1.5-13v10.2m2-8.1v11.4m1-13.2v16.2m.5-16.5v14.6m.5-15.9v15.8m.5-16.4v17.1m1.5-15.3v18.6m.5-18.6v18m.5-17.1v19.8m1.5-20.4v19.2m.5-21.8v24.6m.5-23.7v23.8m1.5-22.4v14.1m.5-14.4v17.4m.5-17.2v15.4m2-12.7v14.1m.5-14.8v12.6m.5-12.8v12.9m.5-12.4v14.2m2-14.3v13.3m.5-15.6v16.8m.5-16.8v13.6m.5-13.9v16m1-24.9v28.7m1.5-22.3v18.7m1.5-18v19.5m.5-18.4v19.4m1-20.3v20.5m2-18.6v19.8m1.5-21.4v18.6m.5-18.9v17.2m1.5-18.7v21m.5-20.1v20.2m.5-17.9v16.4m.5-19v18.6m2-13.4v20.6m2-21.5v24.6m.5-27.7v24.7m.5-24.7v25.2m.5-23.3v24.2m2-23.9v17.6m.5-19.6v21.5m2-16.9v12.4m.5-12.3v14m2-14.2v12m.5-13.4v11.7m.5-10.8v13.7m.5-13.3v13.1m2-14.7v20m2-25.3v16.5m.5-19.7v21m.5-19.5v17.1m.5-19.2v20.9m2-14.9v19.3m.5-19.2v20.4m.5-21.1v21m1-28.4v20.9m.5-20.6v19.8m1-11.3v18.9m.5-17.7v14.3m.5-16.3v18.6m1.5-22.7v17.4m.5-16.2v16.8m.5-18.6v18.3m.5-17.9v17.9m2-9.8v17.4m.5-17.4v17.9m.5-17.6v17.7m2-24.4v21.8m.5-23.5v26.5m2-21.1v20m.5-19.5v21.4m.5-22v22.2m.5-19.9v20.1m2-19.4v14.3m.5-14.8v18.4m.5-18.7v17.8m.5-15.8v17.6m1-26.9v20.1m.5-20.2v21.3m1-17.2v19.7m2-16.9v11.2m.5-11.1v10.7m1-17.6v25m1.5-16.4v14.9m1.5-14v10.7m.5-9.7v9.6m.5-9.6v8.2m1.5-13.5v15m.5-17.2v16.8m.5-17.3v17.8m1.5-19.1v16.8m.5-16.6v17.8m.5-15.4v14.3m2-14.4v15.3m.5-13.8v11.8m.5-13.1v14.6m1-9.2v11.9m1.5-17.4v19.1m.5-16.8v17.6m2-14.9v13.7m.5-13.1v14.9m.5-15.3v15.6m.5-14.4v11.2m1-16v11.9m.5-14.2v14.9m.5-14.9v14.8m1-9.5v7.7" fill="none" stroke="#000" stroke-width="0.55" stroke-opacity="0.85"/><path d="M61 280.5v21.5m.5-20.5v14.7m.5-14.2v14.8m.5-10.1v10.1m.5-13.2v13.5m.5-9.6v14.5m.5-18.3v18.3m.5-20.5v21.7m.5-21.7v16.8m.5-12.4v15.6m.5-18.7v16m.5-11.1v14m.5-19.7v16.8m.5-11.7v13.6m.5-15.9v17.4m.5-18.4v11.5m.5-10.9v10.5m.5-12.6v12.3m.5-12.5v15.6m.5-15.2v12.9m.5-12.2v13.3m.5-13.3v12.6m.5-8.9v12.7m.5-11.8v8.8m.5-14.2v11.6m.5-11.4v13.2m.5-12.1v11.3m.5-11.8v14.3m.5-14.4v15.3m.5-13.7v10.9m.5-14.6v15.2m.5-14.6v11.8m.5-9.7v12.7m.5-15.8v13.4m.5-10.4v13.6m.5-17.3v17.8m.5-13.1v9.4m.5-9.3v12.5m.5-17.5v13.7m.5-10.8v14m.5-14.3v10.6m.5-9v9m.5-14.4v16.1m.5-12.1v16.2m.5-15.7v11.4m.5-12.1v15.9m.5-19.7v15.8m.5-14.8v17.4m.5-13.9v14.8m.5-14.8v16.2m.5-16.1v14.7m.5-14.5v12.3m.5-8.7v11m.5-14v15.2m.5-13.5v14.6m.5-17.8v15.2m.5-16.5v14.8m.5-8.7v9.7m.5-10.5v14.9m.5-15.7v9.1m.5-11.3v11.5m.5-12.8v17.4m.5-13.1v13.2m.5-17v13.4m.5-10.8v9.9m.5-11.8v13.4m.5-13.1v10.5m.5-6.8v6.4m.5-9.2v13.9m.5-13.6v11.9m.5-10.4v10.1m.5-13.9v16.2m.5-14.6v9.2m.5-8.9v13.9m.5-13.6v9.7m.5-11.8v12.7m.5-13.5v11.8m.5-9.1v9.5m.5-13.1v17.2m.5-13.1v9.4m.5-10.6v13.7m.5-13.4v14.1m.5-12.5v10m.5-17.3v19m.5-13.2v14.1m.5-17.1v17.4m.5-17.2v13.2m.5-14.6v13m.5-8.8v15.6m.5-14.3v9.5m.5-11.5v12.9m.5-10.7v15.4m.5-21.9v19.1m.5-14.6v16.9m.5-15.3v15.4m.5-16.3v12.6m.5-15.7v14.7m.5-16.7v16.5m.5-16.3v16.5m.5-15.5v14.8m.5-11.4v14.1m.5-19.2v16.3m.5-12.1v18.2m.5-23.4v22.9m.5-15.6v11.3m.5-17v18.1m.5-18.6v21.9m.5-19.9v13.5m.5-14v16.6m.5-11.8v10.1m.5-15.3v13.2m.5-15v16.7m.5-14.5v14.4m.5-16.3v17.3m.5-17.7v19.1m.5-16v13.1m.5-13.3v14.5m.5-11.6v12.7m.5-17.9v17m.5-10.7v13.4m.5-12.5v8.6m.5-11v15.6m.5-18v13.8m.5-8.8v12.4m.5-20.8v16.7m.5-10v12.4m.5-12.5v12.2m.5-17.9v15.3m.5-10.9v11.1m.5-13.3v17.9m.5-17.9v16.4m.5-10.6v10.7m.5-14.7v11.6m.5-10.2v14.6m.5-11.7v7.2m.5-15.3v17.5m.5-15.2v16.3m.5-13.8v10.3m.5-13.6v13.6m.5-10v11.7m.5-12.9v11.9m.5-13.8v14m.5-10.4v11.9m.5-17.4v16.2m.5-15.9v17.3m.5-12v11.5m.5-13v14.4m.5-13.8v9.9m.5-14.6v14.8m.5-10.8v10.8m.5-12.2v13.9m.5-12.9v12.9m.5-12.2v10.7m.5-8.1v12.7m.5-14.9v11.4m.5-9.8v10.7m.5-11.3v10.4m.5-11.2v12.9m.5-12.9v16.3m.5-16.2v14.6m.5-16.3v13.9m.5-14.9v14m.5-15.4v17.1m.5-17.7v19.1m.5-14.5v12.6m.5-10.8v15.7m.5-23v20.8m.5-17.5v19.7m.5-19v17.5m.5-18.9v17.4m.5-14.1v19m.5-22.2v14.4m.5-16.2v23.6m.5-25.5v25.3m.5-24.9v19.4m.5-14.6v18.4m.5-20.4v20.2m.5-21.1v14.6m.5-15.4v19.2m.5-17.9v14m.5-11.9v17.1m.5-16v13.1m.5-10.7v10.6m.5-16.7v19.3m.5-14.7v15.2m.5-13.8v9.8m.5-13.3v15.6m.5-14.2v16.1m.5-20.1v15.6m.5-10.1v10.9m.5-14.8v13.7m.5-12v14.2m.5-15.5v12.7m.5-9.4v14.1m.5-13.3v13.2m.5-17.3v16.4m.5-12.9v9.6m.5-14.9v18.1m.5-12.4v10.3m.5-7.9v12.1m.5-15.7v11.4m.5-9.4v12.2m.5-15.7v11.2m.5-9.5v12.1m.5-10.3v8.6m.5-7.1v6.8m.5-11.7v15.9m.5-12.4v7.4m.5-10.6v15.9m.5-14.3v11.7m.5-9.7v9.6m.5-9.1v11m.5-11.3v10.8m.5-11.6v9.4m.5-12.2v13.3m.5-12.3v11.6m.5-12.4v15.8m.5-14.9v12.5m.5-8.5v5.5m.5-8.4v12.7m.5-9.7v7.6m.5-11.9v13.3m.5-11.4v9.4m.5-10.9v12.1m.5-12.4v11.6m.5-9.2v9.6m.5-8.9v7.9m.5-8.1v12.3m.5-14.2v14.8m.5-14.6v11m.5-10.3v10.1m.5-9.4v11.4m.5-12v8.7m.5-6.8v11.4m.5-12.5v8.6m.5-8.1v8.4m.5-9v9.8m.5-10.5v11.1m.5-10.4v11.8m.5-12.2v8.3m.5-9v10.2m.5-8.5v10.9m.5-12.6v8.8m.5-6.9v9.2m.5-11.7v11.8m.5-10.9v12.2m.5-11.2v8.8m.5-12.2v11.3m.5-8.6v8.6m.5-9.2v9.5m.5-8v7.2m.5-6.9v7.9m.5-14.3v16.5m.5-14.5v11.4m.5-7.8v10.2m.5-11.6v8.9m.5-14.5v14.7m.5-9.6v10.5m.5-11.3v15.4m.5-13.4v11.3m.5-19.6v22.8m.5-16.9v18.1m.5-20.3v20.5m.5-17.2v11.2m.5-17.8v17.5m.5-10.2v9.2m.5-13.1v14.8m.5-10v8.2m.5-12.1v13.1m.5-9.7v8.7m.5-11.7v12.4m.5-7.7v6.6m.5-8.1v10.7m.5-11.4v8.9m.5-10.1v12.3m.5-10.9v8.4m.5-7.2v12.5m.5-15.7v15.6m.5-13.9v9m.5-10.5v13.6m.5-10.1v11.7m.5-16.6v12.2m.5-12.9v18.1m.5-16v16.6m.5-13.7v13.5m.5-13.5v11.5m.5-13.1v15.3m.5-17.4v11.4m.5-14.2v18.7m.5-13.3v14.5m.5-19.5v15.4m.5-10.9v10.7m.5-13.2v18.8m.5-17v9.9m.5-8.7v9.1m.5-13.6v20.5m.5-15.5v16.3m.5-20.1v19.7m.5-16.7v12.2m.5-15v18.6m.5-18.6v18.4m.5-18.1v18.2m.5-19.1v19.4m.5-19v17.1m.5-15.5v12.5m.5-12.6v16.1m.5-18.2v13.9m.5-9.8v11.9m.5-14.7v12.8m.5-8.4v9.4m.5-9.7v10.7m.5-12.8v14.6m.5-18.4v18.4m.5-17.7v16.5m.5-14.8v11.1m.5-10.5v15m.5-15.8v13.6m.5-13.7v13.7m.5-13.9v13.5m.5-13.2v11.8m.5-11v12.4m.5-16.4v15.9m.5-16.4v18.6m.5-18.2v15.1m.5-13.9v13.3m.5-7.7v10.7m.5-13.1v8.9m.5-7.2v8m.5-11.5v15.3m.5-10.7v9.7m.5-15.6v15.8m.5-10.2v7.4m.5-7.6v9.5m.5-9.1v8.9m.5-8.9v8.1m.5-13.1v13.1m.5-7.8v6m.5-8.2v9.6m.5-8.1v6.3m.5-7.3v8m.5-9.3v8.1m.5-6v5.7m.5-7v7.8m.5-6.6v7.4m.5-7.2v5.5m.5-5.2v7.6m.5-8.9v10.8m.5-14.5v13.5m.5-8.6v9.9m.5-12.7v8.8m.5-11.9v15.4m.5-12.6v9.9m.5-13.7v18.2m.5-16.5v13.7m.5-15.7v16.1m.5-9.4v8.1m.5-8.7v8.8m.5-14.1v15.5m.5-14.1v18.2m.5-20.3v16m.5-14.1v12.3m.5-13.1v16m.5-18.9v19.7m.5-17.9v18m.5-18.8v15.9m.5-8.4v12.3m.5-16.3v15.8m.5-19v14.5m.5-8.2v8.7m.5-8.2v7.5m.5-13.3v12.8m.5-12.9v15m.5-13v14m.5-13.1v11.9m.5-8.1v10.7m.5-12.4v10.7m.5-8.6v6.5m.5-10.3v9.8m.5-9.8v13.6m.5-13.3v9.5m.5-8.4v8.8m.5-7.7v12.5m.5-12.4v11.5m.5-10.2v9.4m.5-12.3v14.3m.5-10.7v7.8m.5-10.3v8.3m.5-10.8v13.7m.5-9.6v10.5m.5-13.2v9.4m.5-11.6v12m.5-11v14.1m.5-15.9v14.9m.5-15.8v16.8m.5-15.4v13.8m.5-11.5v8.7m.5-8.7v9.6m.5-10v10.1m.5-14.5v14.2m.5-6.9v13m.5-15.1v15.5m.5-16.6v12.4m.5-9.4v8.2m.5-11.3v15.6m.5-14.5v11.7m.5-12.2v14.9m.5-16.7v15.7m.5-15.8v15.6m.5-16.2v15.9m.5-13.2v11.7m.5-9.7v14.9m.5-14v14m.5-15.3v15.2m.5-15.1v13.3m.5-17.8v13.5m.5-15.1v20.5m.5-18v18.4m.5-21.7v21.9m.5-18.8v19.3m.5-17.4v16.2m.5-16.4v10.9m.5-9.3v16.6m.5-15.7v12.7m.5-18.4v13.5m.5-8.7v15.3m.5-17.2v17.1m.5-21.9v18.8m.5-12.1v14.9m.5-15.8v14.3m.5-13.6v10.8m.5-12.2v14m.5-13.2v12.7m.5-17.6v18.2m.5-12.6v9.5m.5-10.9v13.4m.5-11.5v13.3m.5-17.8v18.5m.5-13.7v12.1m.5-13.2v13.6m.5-15.5v15.6m.5-14.5v13.7m.5-10.2v6.5m.5-9.9v12.4m.5-12.9v13.6m.5-9.7v9.5m.5-12.9v12.8m.5-12v11m.5-9.9v10.1m.5-11.8v12.6m.5-12v9.3m.5-5.8v7.1m.5-9.1v11.9m.5-12.3v7.6m.5-5.7v9.6m.5-9v5.3m.5-5.4v10.6m.5-10.4v9.9m.5-9.5v6.4m.5-9.2v12.3m.5-12.3v9.3m.5-8.1v10.8m.5-11.2v10m.5-11v13.5m.5-10.8v7.7m.5-10.3v12m.5-11.9v11.4m.5-8.9v5.3m.5-7.1v8m.5-9.3v10.7m.5-9.9v8.2m.5-8.9v14.3m.5-11.4v8.1m.5-11v9.3m.5-8.4v13.3m.5-12.5v8.9m.5-9.6v8.2m.5-8v6.9m.5-5.8v11.9m.5-11.3v6.5m.5-7.8v12.8m.5-13v8.1m.5-9.1v8.6m.5-7v9.6m.5-10.6v8.9m.5-9.6v12.2m.5-10.5v5.7m.5-8.9v13.6m.5-12.1v7.5m.5-8.2v13.3m.5-15.1v14.8m.5-11.9v10.8m.5-12.3v10.5m.5-10.2v10.7m.5-11.6v14.5m.5-14.8v11.6m.5-10.8v12.1m.5-11.6v12.2m.5-10.9v6.9m.5-8.3v9.9m.5-11v12.8m.5-12.2v13.1m.5-13.8v15m.5-13.7v12.9m.5-11.1v12.2m.5-12.7v10.1m.5-12.4v9.5m.5-8.4v8.5m.5-6.7v13.2m.5-16.6v15.8m.5-16.5v15.4m.5-17.3v17.6m.5-17.6v14.4m.5-15.2v20.4m.5-18.8v12.5m.5-13.3v14.3m.5-13.9v15.2m.5-10.7v11.3m.5-16.5v12.5m.5-12.5v13.6m.5-13.5v16.4m.5-12.6v13.9m.5-21.6v17.1m.5-13.8v13.4m.5-15.8v18.1m.5-14v17.2m.5-22.3v16.3m.5-7.7v10.4m.5-14.6v14.3m.5-12v14.3m.5-15v16m.5-18.6v14m.5-12.6v14.5m.5-15v17.9m.5-14.5v12.8m.5-18.1v16.4m.5-15.3v13.9m.5-11.4v13.9m.5-14v13.9m.5-15.7v17.7m.5-15.1v13.3m.5-12.6v12.5m.5-12.2v11.1m.5-11.6v13m.5-16.5v16m.5-13.8v16.6m.5-15.2v14.9m.5-14.7v16.5m.5-18v16.6m.5-14v11.1m.5-11.8v14.4m.5-14.2v12.1m.5-10.7v7.7m.5-12.6v18.6m.5-14.7v13.2m.5-13.6v15.1m.5-18.2v12.6m.5-8.9v8.3m.5-7.9v11.5m.5-18.4v14.6m.5-8.6v15.6m.5-21.5v15.7m.5-15.3v21.8m.5-16.8v10.2m.5-10.8v14m.5-15.7v17.5m.5-14.4v8.9m.5-14.8v20.1m.5-18.2v14.6m.5-14.7v16.2m.5-19.6v22.4m.5-17.3v14.1m.5-14.2v11.8m.5-16.5v17.3m.5-18.3v24.4m.5-23v16.2m.5-10.7v17.9m.5-21.7v14.6m.5-13.5v13.8m.5-12.6v14.5m.5-20.9v19.4m.5-11.7v12.2m.5-13.7v18.1m.5-20.5v17.8m.5-20.4v23m.5-17.3v13.5m.5-15.4v12.3m.5-13.3v20.6m.5-19v11.4m.5-13v17.8m.5-12.5v8.1m.5-14.7v15.6m.5-15.3v14m.5-7.8v9.7m.5-17v14.4m.5-10.1v10m.5-11.8v13.2m.5-12.4v13.1m.5-9v9.1m.5-14v12.7m.5-9.6v10.8m.5-11.7v15.8m.5-15.1v12.1m.5-11.6v11.2m.5-8.4v11.9m.5-16.8v12m.5-11.1v10.8m.5-9.5v14.9m.5-15.4v9.9m.5-12.7v16.6m.5-16.9v15.4m.5-13.2v11.2m.5-12v11.3m.5-6.9v12.6m.5-12.1v10.6m.5-13.1v9.5m.5-9.7v13.4m.5-15.1v14.6m.5-10.4v11.5m.5-11.8v13.3m.5-15v14m.5-15.7v15.8m.5-17v12.7m.5-13.1v17.7m.5-19.4v18.3m.5-15.8v13.2m.5-9.7v13.4m.5-15.3v16m.5-13.8v9m.5-12.7v11.7m.5-11.7v14.4m.5-11.9v12.9m.5-11.9v11.3m.5-13.5v15.2m.5-18.1v14.9m.5-16.6v20.9m.5-15.9v10.1m.5-11.7v18.1m.5-19.5v17.7m.5-15.6v13.7m.5-16.7v21.1m.5-23.5v20.8m.5-16.5v15.7m.5-12.6v10.7m.5-13.8v18.1m.5-18.6v16.1m.5-19.5v21.2m.5-18.7v20m.5-18v19m.5-19v14.5m.5-15v12.5m.5-16.9v18.6m.5-17v17.8m.5-11.5v14.7m.5-18.6v15.1m.5-13.7v14m.5-14.6v16.3m.5-18.7v16.8m.5-18.9v16m.5-16.5v24.2m.5-19.7v17.8m.5-17.4v14.6m.5-17.3v20.9m.5-19.6v17.8m.5-19.4v16.1m.5-18.7v20.2m.5-17.4v21.1m.5-22.6v18.9m.5-16.7v15.7m.5-11.4v9.6m.5-14v13.1m.5-10.7v15.3m.5-21.5v18.6m.5-14.9v17.2m.5-20.9v19.4m.5-11.1v13.4m.5-14.8v10.6m.5-9.9v17m.5-20.4v20.3m.5-17.3v11.5m.5-16.5v19.7m.5-20.8v22.5m.5-17.7v18.9m.5-17.4v12.8m.5-13.1v15.1m.5-20.4v16.6m.5-16.4v16.2m.5-15.6v21.3m.5-20.8v16.6m.5-13.7v12m.5-9.4v10.8m.5-16.9v22.8m.5-16.3v16.2m.5-22v14.3m.5-9.3v12.9m.5-18.2v16.5m.5-11.8v10.3m.5-13.2v13.9m.5-10.9v16.1m.5-14.2v12.9m.5-13.1v12.3m.5-14.7v15.4m.5-12.7v12.4m.5-13.6v13.8m.5-12.3v8.3m.5-12.2v11.4m.5-7.7v7.9m.5-12.1v15.6m.5-12.4v9.9m.5-13.6v17.1m.5-11.9v9.3m.5-15.6v18.7m.5-14.9v15.4m.5-18.2v15.6m.5-13.6v17.6m.5-17.1v15.4m.5-18.2v19m.5-18v17.1m.5-12.4v9.9m.5-12.9v10.7m.5-8.5v9.1m.5-12.8v16.4m.5-15v10.5m.5-10.8v12.7m.5-12.3v13.4m.5-10.5v6.5m.5-11.4v12.1m.5-8.4v9.5m.5-11.4v13.2m.5-11.1v8.7m.5-10v10m.5-10.7v14.1m.5-14v11.2m.5-11.5v11.5m.5-10.7v11.5m.5-8.9v8.3m.5-11.4v9.4m.5-9.5v13.9m.5-13.5v10.1m.5-7.6v7.7m.5-6.7v7.8m.5-11.8v13.3m.5-12.1v11.8m.5-9.5v7.4m.5-9.6v8.7m.5-10.5v11.6m.5-12.7v17.7m.5-16.7v11.5m.5-10.6v12.8m.5-12.6v11.3m.5-9.9v9.2m.5-8.2v11.3m.5-16.1v16.3m.5-15.8v15.1m.5-16.9v19.9m.5-15.7v13.3m.5-12v10.3m.5-11.9v14.4m.5-17.1v13.3m.5-12.8v17.1m.5-15.8v11m.5-7.7v8.3m.5-12v17.6m.5-17.4v11.2m.5-10.4v12.8m.5-14.8v17.3m.5-13.6v9.5m.5-8.9v8.3m.5-8.5v11.4m.5-11.1v11.5m.5-10.9v14.9m.5-15.3v10.9m.5-13v14.6m.5-14.5v11.8m.5-9.8v13m.5-15.6v9m.5-7.9v14.5m.5-18.2v15.9m.5-14.8v10.4m.5-9.1v13.7m.5-16v11.2m.5-9.3v10.9m.5-12.5v11.1m.5-11.4v16.4m.5-15.3v16.7m.5-13.4v10.4m.5-12.9v9.2m.5-6.8v7m.5-12.2v18.6m.5-18.7v15.9m.5-12.3v15.5m.5-15.7v12.1m.5-13.9v13.1m.5-14.2v13m.5-12v17m.5-12.9v10.4m.5-17.4v16m.5-12.4v10.9m.5-13.7v18.2m.5-13.3v14.4m.5-15.5v14.7m.5-16.5v14.5m.5-10.4v13.4m.5-19.1v18.5m.5-18.3v14.4m.5-9.9v11.7m.5-16.2v15.4m.5-8.6v7.5m.5-9.8v11.8m.5-12.7v12.4m.5-10.6v10m.5-15.1v14.4m.5-13.4v14.4m.5-12.1v12.6m.5-15.7v15m.5-15.2v15m.5-8.4v5.8m.5-10v10.6m.5-8.1v10.4m.5-10.8v11m.5-12.8v13.4m.5-14.6v12.3m.5-13.6v14.4m.5-10.6v10.8m.5-14.1v13.4m.5-9.7v8.2m.5-9.6v10.9m.5-8.9v8.5m.5-8.9v9.7m.5-11.7v13.5m.5-13.6v9m.5-8.2v8.3m.5-6.5v9.1m.5-13.2v10.8m.5-10.1v14.2m.5-17.2v16m.5-13.3v10.6m.5-8.1v8.1m.5-12.8v13.1m.5-9.2v13.3m.5-16.6v12m.5-12.9v12.9m.5-11.5v11.3m.5-8.1v12m.5-10.5v9.5m.5-10.3v10.9m.5-14.5v18.1m.5-17.9v12.1m.5-14.7v16.6m.5-11.7v13.6m.5-17.5v15.4m.5-16.1v17.4m.5-16.8v17.3m.5-15.1v16.2m.5-17.6v19.5m.5-13.4v10m.5-10.5v13m.5-14.9v15.8m.5-16.9v19.5m.5-18.5v13.6m.5-11v14.9m.5-17.9v15.7m.5-16.2v16.3m.5-17.2v16.9m.5-14v11.6m.5-12.7v10.4m.5-9.7v14.7m.5-15.6v10.3m.5-14.7v14.3m.5-8.9v9.4m.5-10.5v13.1m.5-13.2v14.4m.5-11.3v11.4m.5-11.5v8.3m.5-12.5v12.3m.5-10.5v9.7m.5-9.6v10.8m.5-10.8v8.8m.5-7.1v9.3m.5-10.1v7.3m.5-7.9v8.1m.5-5.8v6.3m.5-6.3v5.6m.5-5.3v6.7m.5-9.2v8m.5-4.6v5.7m.5-8.8v8.7m.5-8.6v6.6m.5-4v5m.5-6.2v7.4m.5-6.3v6.2m.5-8.3v7.6m.5-7.2v5.8m.5-5.1v6.7m.5-10.3v10m.5-6.5v7.7m.5-10.8v9.9m.5-7.6v7.7m.5-10.9v12.3m.5-11.3v12.5m.5-10.9v8m.5-11.1v10.1m.5-7.3v11.3m.5-10.7v8m.5-8.7v9.7m.5-7.6v8.2m.5-11.3v14.2m.5-11.6v7.8m.5-9.3v10.8m.5-15.4v18m.5-13.3v12.2m.5-10.5v7.2m.5-10.1v11m.5-10.7v14m.5-12.3v10.2m.5-13.3v13.4m.5-15v13m.5-11.6v11.8m.5-11.1v15.4m.5-20.2v15.8m.5-11.5v19.1m.5-21.9v15m.5-11.4v13.8m.5-18v19.9m.5-14.5v14.5m.5-20.1v18m.5-15.5v15.5m.5-12.6v13.3m.5-16v17.5m.5-14.6v16.2m.5-21.2v19.7m.5-20v21.2m.5-19.1v17.8m.5-15.3v18.4m.5-16.9v10.1m.5-14.7v17.7m.5-11.9v14.5m.5-16.7v10.7m.5-8.5v15.9m.5-19.9v13.9m.5-11.3v16.6m.5-15v8.3m.5-9.8v10.1m.5-8.3v8.5m.5-13.2v14.6m.5-14.8v19.1m.5-16.6v9.4m.5-11.3v11m.5-8.6v11.4m.5-10.2v7.1m.5-6.6v7.5m.5-11.5v16.3m.5-13.5v7.5m.5-6.9v11.3m.5-12.9v10m.5-10.5v8.6m.5-9v10.3m.5-10.4v14.2m.5-14.2v12.3m.5-9v9.7m.5-15.2v13.1m.5-8.2v8.3m.5-13v13m.5-9.7v10.1m.5-10.7v15m.5-14.5v13.3m.5-12.6v9.8m.5-11.2v9.5m.5-9.4v9.8m.5-10.9v12.3m.5-8.8v10.1m.5-10.8v8m.5-7.1v8.6m.5-10v7.4m.5-8.3v13.9m.5-12.5v8m.5-8.4v12.4m.5-13.6v12.9m.5-10.4v9.7m.5-12v9.9m.5-9.3v11.7m.5-10.8v11.1m.5-11v9.4m.5-10v12.8m.5-11.3v5.6m.5-5.9v10.8m.5-11.1v8.7m.5-8v9.1m.5-11.9v13.5m.5-12.3v11.3m.5-13.6v12.7m.5-10.7v8.4m.5-9.5v8.5m.5-10.3v13.3m.5-9.2v6.7m.5-8v7.9m.5-6.2v11m.5-13.4v12.5m.5-13.2v8.9m.5-10.9v15.1m.5-13.1v13.8m.5-10.6v10.4m.5-14.1v15.2m.5-12.1v8.6m.5-10.9v13.2m.5-10.6v8.7m.5-10.2v9.7m.5-10.8v13.3m.5-12.4v13.9m.5-15.9v15.3m.5-11.9v10.9m.5-14v15.2m.5-12.9v12.5m.5-13.9v10.3m.5-8.6v13.9m.5-14v11.2m.5-12.9v8.4m.5-6.7v7.2m.5-9.3v16.4m.5-14.6v11.5m.5-10.5v7.6m.5-12.2v12.7m.5-11.1v10.7m.5-14.4v17.8m.5-11.6v9m.5-12.1v12.9m.5-11.8v13.7m.5-18.6v16.4m.5-14.4v12.7m.5-14.4v20.3m.5-18.9v14.3m.5-15.3v14.3m.5-7.9v9.9m.5-10.3v12.4m.5-14.9v9.9m.5-7v7.5m.5-7v10.6m.5-11.7v8m.5-11.9v16m.5-10.9v12.3m.5-17.1v14.6m.5-14v11.9m.5-8.3v12.1m.5-13.8v13.3m.5-12.1v10.2m.5-14.1v11.9m.5-7.7v14.1m.5-16.5v15.5m.5-16.1v16.6m.5-16.3v11.9m.5-11.6v10.9m.5-7.1v11.3m.5-12.8v10.9m.5-14.2v11.9m.5-10v17.6m.5-17.8v19.6m.5-19.6v12.6m.5-13.7v12.5m.5-12.5v15m.5-13.7v18.6m.5-21.3v17.4m.5-16.4v17.5m.5-16v10.3m.5-13.2v15.4m.5-15.5v20m.5-20.4v18.9m.5-14.2v16.3m.5-19.2v17.4m.5-15.9v9.8m.5-11.5v18.8m.5-17.6v16.8m.5-15.4v10m.5-9.8v11m.5-11.7v14.2m.5-14.8v12.9m.5-12.5v12.9m.5-12.2v10.5m.5-14.5v18.7m.5-14.7v11.3m.5-12.2v15.9m.5-13.8v10.4m.5-14.8v15.9m.5-11v13m.5-12.8v11m.5-11.8v9.7m.5-11v10.3m.5-9.9v14.7m.5-14v7.7m.5-8.3v8.7m.5-13.2v14.1m.5-12.4v16.6m.5-17.9v15.7m.5-10.7v7.4m.5-11.5v13.4m.5-12.7v12.7m.5-16.6v16.1m.5-9.8v8.8m.5-14v19.6m.5-13.4v11m.5-14.7v11.3m.5-11v13.9m.5-16.4v13.5m.5-7.6v11.8m.5-18.6v13.6m.5-10.5v14.1m.5-17v19.1m.5-18.7v15.7m.5-13.9v11.1m.5-11.5v16.2m.5-14.8v12.2m.5-11.9v15.4m.5-16.7v16.6m.5-14.5v11.2m.5-9v8.9m.5-8.4v10.2m.5-13.5v12.3m.5-10.4v12m.5-11.6v7.5m.5-6.2v6.5m.5-7.6v11.6m.5-14.1v13.6m.5-10.1v6.5m.5-11.6v14.9m.5-12.8v10.8m.5-10v12.4m.5-10.9v7m.5-9.5v13.1m.5-10.5v9.6m.5-14.2v15.2m.5-10.2v11.5m.5-16.2v13m.5-9.2v9.2m.5-8.4v10.3m.5-14.1v13.4m.5-13.4v15.2m.5-16.5v14.9m.5-15.1v14m.5-12.6v13.4m.5-15v18.6m.5-14.7v10.7m.5-12.4v17.9m.5-14.7v10.6m.5-10.4v15.4m.5-15.6v11.1m.5-16.8v15.2m.5-12v13.3m.5-13.9v17.2m.5-18.7v13.5m.5-12.3v13.8m.5-10.5v14m.5-17.7v14.9m.5-13.9v15.8m.5-14.2v10.6m.5-12.4v13.7m.5-13.2v12.3m.5-11.7v14.3m.5-14.3v9.2m.5-6.5v10.7m.5-16.5v11.8m.5-8.5v9.9m.5-12.6v11.9m.5-10.7v11.8m.5-10.1v8.5m.5-11v11.9m.5-10.8v9.9m.5-10.9v11m.5-10.6v11.1m.5-8.7v8.1m.5-9.6v10.6m.5-12.4v13.2m.5-11.3v11.2m.5-13v10.3m.5-9.5v13.1m.5-12.9v12m.5-8.9v7.7m.5-9.7v13m.5-14.9v11.9m.5-10.7v12.2m.5-10.6v12.9m.5-10.9v10.8m.5-12.4v8.4m.5-7.3v10.6m.5-13.2v13.5m.5-11.7v8.2m.5-10.9v12.1m.5-11.1v13.5m.5-12.3v10.6m.5-8.9v8.2m.5-11.6v9.8m.5-9.1v11.5m.5-8.5v10.2m.5-14.1v12.9" fill="none" stroke="#000" stroke-width="0.5" stroke-opacity="0.75"/><path d="M60 290.9l14.3-.3 14.3-.5 14.3.8 14.2-1.5 14.3.7 14.3 1 14.3-.5 0 .3 14.3.2 14.3-.5 14.3-.5 14.2.8 14.3-.3 14.3.3 14.3-.3 0 .3 14.3-.3 14.3-.9 14.3 1.2 14.2-.3 14.3-.2 14.3 0 14.3-.3 0 .5 14.3 0 14.3 0 14.3-.5 14.2.5 14.3-.2 14.3 0 5.7-1 8.6 1.2 0 0 7.1.3 7.2 0 7.1 0 7.2-.5 14.3 0 14.2.5 14.3 0 14.3-.3 14.3 0 0 0 7.1.3 7.2-.3 7.1-1.2 7.2 1.2 14.3.5 14.2-1.7 14.3 1.2 14.3.3 11.4-.3" fill="none" stroke="#f4b62a" stroke-width="1.55" stroke-linejoin="round"/><path d="M60 291.1l14.3-.2 7.1-.8 7.2.5 7.1-.5 7.2-.4 7.1.2 7.1-.5 7.2 1.5 7.1 1.1 2.9-1.1 5.7-.3 20-.5 0 .3 14.3.5 14.3-.3 7.1.3 7.2-.3 2.8-1.2 2.9 0 2.8 1.2 8.6.5 11.4-1 14.3.5 14.3-.2 0 .2 14.3 0 14.3.3 14.3-.3 14.2-.2 14.3 0 14.3 0 14.3-1 0 1.5 14.3 0 14.3-.3 14.3-.2 14.2 0 14.3 0 14.3-.7 5.7-1.4 2.9 1.4 5.7.9 0 1 7.1 0 7.2-1.9 7.1.4 7.2.5 7.1.3 7.2 0 7.1-.8 7.1.8 7.2-.3 7.1 0 14.3 0 7.2-.9 7.1.9 0 .3 7.1-1.8 7.2 1.8 14.3.2 14.3-.2 14.2-.3 14.3.5 14.3-.5 11.4.3" fill="none" stroke="#1b8bd5" stroke-width="1.75" stroke-linejoin="round"/></g>
<g clip-path="url(#c7)"><path d="M61 345.5v4.2m0-27v6.2m0 17.6v2.6m0-31v4.6m.4 24.9v5.2m0-29.8v5m0 19.4v2.5m0-31v3.1m.5 23.3v6.9m0-6.7v5.4m0-30.1v3.5m.5 21.7v6.6m0-29.1v3.3m0 21.5v4m0-33.7v3.5m.4 26.4v3.7m0-27.2v2.5m0 19.9v5.4m0-35.4v5.6m.5 14.3v3.5m0 7v5m0-28v2.2m0-9.3v6.2m.4-.7v4.7m0 20.2v3.8m0-36v5.5m.5 18v3.3m0 3.7v6.4m0-26.7v3.9m0 15.3v5.1m0-34.4v6.8m.4 22.5v7.1m0-27.2v4.6m0 15.1v4.1m0-32.8v6.3m.5 26.1v2.9m0-26.3v4m0 16.6v5m0-35.1v6m.4 23.5v3.4m0-21.5v4.9m0 12.5v5.7m0-34.7v5.6m.5 24.8v5.1m0-2.3v2.5m0-35.1v2.8m.4 25.7v3m0-21.3v4.4m0 16.6v5.3m0-35.4v4.5m.5 22.5v3.9m0-20.6v3.4m0 15.9v3.8m0-33.2v2.5m.4 23.5v4m0-19.3v4.1m.5 10.1v4.1m0 .5v3.6m.4-10.6v3.8m0-.4v2.3m.5-2v3.1m0 .3v5.4m.4-12.4v5.3m0-17.1v3.6m.5 8.3v6.9m.4-3.9v2.1m0-2.3v3.2m0-18v5.2m0-12.9v3.9m.5 23v4.9m0-32.1v6m.4 18.3v2.7m0-28.7v5.1m.5 23.5v2.9m0-31.9v5.6m.4 11.7v4.3m0 6v4.1m0-28.6v4.5m0 21.2v5.1m.5-16.6v3.3m0 4.2v6.7m.4-14.9v5.1m0 4.5v4.5m0-27.1v4.7m0 20.9v2.2m0-26.7v3.5m.5 19.9v4.2m0-27.7v5.9m.4 7.7v2.1m0 9.1v3.6m0-5.9v4.1m.5-.4v4m0-27.6v4.5m.4 19.3v3.8m0-28.3v5.9m.5 6.9v3.7m0 7.1v4.7m0-30.9v3.3m0 18.7v3m.4-9.8v3.3m.5-1.9v6.1m0 5.8v2.3m0-31.1v6.3m.4 12.8v2.3m0 7v2.8m0-12.2v6.5m0-18.7v6.4m.5 6.1v4.5m0 6.2v1.2m0-28v3.1m0 22.4v2.5m0-21.2v4.5m.4 6.5v2.3m0 8.1v-.2m0-22.4v2.9m.5 9.4v5.4m0-23.4v4.4m.4 13.2v5.2m0-14.6v5.7m0-14.7v6.2m0 20v2.7m0-19.7v1.4m.5-.9v4.5m0 11.2v3.5m0-22.6v4m.4 8.5v3.4m0-11.3v5.6m0 9.9v2.5m.5-11.3v5.3m0-12.7v5.6m0-14.9v5.9m0 20v2.1m.4-9.7v5.5m0-12v3.2m0-16.7v5.4m0 3.8v6.2m.5-3.9v3.2m0 11.1v3.8m.4-7.7v3.7m0-12.9v3.6m0-14.4v2.9m0 9.4v4.2m.5 3.7v3.1m0-12.9v6.5m0-16.2v3.3m0 18.8v3.3m.4-14.1v3.2m0-2.5v5.4m.5 3.9v4.5m0-12.1v2.4m.4-4.3v5m0-18.4v5.1m0 17.5v3.7m0-12.2v3.8m.5-17.2v3.9m0 16.9v3.7m.4-5.4v3.9m0-9.1v4.8m.5-7.6v3.9m0-16.2v5.4m0 11.2v1.4m.4-4.8v3.7m0-1.3v1.9m0 1.6v3.5m.5-9.3v2.6m0 1.5v2.8m.4-1.4v5.7m0-7.4v2m.5-5.4v4.3m.4-4.1v2.1m0-2.2v6.1m.5-6.3v3.9m0-3v4.1m.4-4.9v5.2m0-5.6v3.9m0-16.2v4.4m.5 7.2v7.2m.4-6.8v3.8m0-4.7v4m0-19.7v6.6m.5-.8v5.4m0 1v6.4m.4.5v5.3m0-16.9v2.2m0-9v3.7m.5 9.8v4.5m0-7.8v5.1m0-17.9v5.1m.4 3.7v4.9m0-11.9v3.8m.5 17.3v6.3m0-10.1v2.3m.4-3.5v4.3m0-10.9v3m0-15.5v4.2m.5 9v4.8m.4-.4v4.7m0-11.1v4.1m0-5.7v4.8m0-14.1v3m.5 16.6v4.6m.4-16.2v4m0-13.2v4.3m.5 4.6v4.3m0-3.5v3m.4-2.7v3.6m0-4.7v4.6m.5 6.7v5m0-19.8v5.4m0-11.6v1.8m.4 18.7v6.6m0-18.3v4.8m.5 20.7v2.9m0-29.2v2.3m.4-5.5v6.2m0-1.9v4.7m.5-11.4v4.9m0-9.3v3.2m.4 5.6v4.6m.5 22.9v3.3m0-34.7v4.5m0 21.4v4.6m0-24.4v5.5m.4 21.3v1.8m0-24.4v5.3m0-8.8v3.2m.5 18.5v2.8m.4-33.5v5.5m0 2.8v4.9m.5 20.5v3.2m0-8.7v5.4m0-25.5v3.2m.4 19.7v4m0-5.8v4.6m0-23.2v2.6m.5-2.1v2.6m0 17.3v5m0-26.3v2.8m.4 19.5v4.9m0-28.5v3m.5 22.2v3.3m0-26.7v4.6m0 14v6m0-27.6v5.9m.4 17.9v3m0-27.9v5.7m.5.7v5.2m0 14v5.2m.4-2v2m0-23.8v5.7m0-11.7v3.9m.5 24v1.9m0-23.3v3.6m0 12.9v5.1m0-29.2v5.3m.4 3.3v4.9m0-22.2v1.3m0 30.6v5.3m.5-1.9v4.3m0-23.7v5.7m0-13.9v6.8m.4 20v4.3m0-18.7v4.5m0-24.6v.7m0 29.3v6.6m0-29.3v5.8m.5 23.5v3m0-20.4v5m0 7.2v4.9m0-29.7v4m.4 8.9v6.2m0 2.7v3.9m.5-6.8v4.1m0-24.7v5m.4 11.5v6.2m0-1.3v3.6m0 1.3v6.8m0-30v5.6m.5 8.8v4.5m0-1.9v2.9m0-17.6v3.5m.4 12.1v4.3m.5-19.1v2.7m0 11.3v4.3m0-4.8v5.5m0 2.3v4.2m.4-10.1v5.5m0-8.6v4.5m0-18.5v5.3m.5-3v4.6m0 8.6v7.2m0-7.9v5.3m0-20.1v4.2m.4-3.4v2.5m0 15.9v3.5m0-22.1v5.7m.5-7.6v5.8m0 8.2v7m0-19.2v4.3m.4 9.3v3.4m0-20v4.6m0 1.4v4.3m.5-8.2v5m0 15.8v5.1m0-12.1v3.7m0-17.3v5.1m.4-5.3v4.7m0 8.1v3.1m0-15.9v3.9m.5-3.7v5m0 17.1v4.4m0-27.6v6.1m0-3.9v3.7m.4-6.2v7.6m0 4.8v5.4m0-15.8v3m0-.6v3.1m.5-5.2v4.5m0-5.9v6.2m0 5.9v7.2m0-19.9v5.6m0-2.1v7.1m.4-9.7v5.7m0-3.4v3m0-6.9v6.4m0 1.4v2.1m.5-9.7v5.5m0-3.1v5.5m0-8.3v5.4m0 3.6v2.2m.4-10.3v5.9m0-5.5v5.6m0 5.8v6.2m0-16.9v5m0 2.2v5.4m.5-11.3v2.1m0-3.3v5.2m0-5.5v3.8m0 6v3.1m.4-13.5v3.5m0-2.8v4.7m0-5.2v6.4m0 2.9v3.9m.5-15v5.3m0 8.3v4m0-14.5v6m.4-5.7v6.2m0 2.2v3.3m0-14v5.9m.5-1.6v4.5m0 2.8v3m0-14.5v2.5m0 7.5v3.2m.4-12.9v2.7m0 2.5v3.6m0 1v3.2m0-12v4m0 5.3v3.6m.5-14.8v4.3m0 1.7v2.5m0-.4v5.6m0-14v4.6m0 4v7m.4-14.2v4.8m0 .5v3.9m0-2v6.4m0-13.6v3.9m0 7.1v3.5m.5-14.2v4.7m0-1.8v6.7m0-2.7v6.2m0-14.5v5.3m.4-2.4v2.5m0 2.9v3.8m0-3.3v3.3m0-11.6v5.1m.5-1.7v4.3m0-1.5v5m0-9.8v4.2m0 5.1v5.2m.4-10.4v2.9m0-2.8v5.1m.5-6.4v4.4m0-5.7v4m0 3.7v4.1m.4-6.8v5.8m0-11.4v6.7m0-7.5v5.5m.9.3v5.5m0-10.9v5.6m.5 1.1v5.1m0-13.2v4m0-4.8v4.7m0 9.7v3.7m.4-20.3v6.4m0 6.3v5.4m0-14.2v3.2m0-4v2.4m0 13.5v4.9m.5-4.5v5.6m.4-25.5v6.5m0 5.4v6.8m0-.8v6.8m.5-12v3.3m0-15v5.8m0-2.5v3.1m.4 11.8v3.7m.5 3.8v2.5m0-9.5v1.9m.9-8.3v5.5m0-2.3v5.2m.4-23.5v4.5m0 5.7v3.7m0 4.5v5.2m.5-23.8v5.8m0 3.3v5.8m.4-.7v7.3m0-10.4v2.2m0 13.5v6.9m0-11.9v2.7m.5-18.3v4.8m0-2.1v5.9m.4 15.6v2.5m0-11.2v2.3m.5-23.9v5.1m0 3.7v4.2m0 15.4v4.4m.4-21.8v4m0-8.7v6.7m.5-3.3v4.2m0 15.7v5.4m.4-29.8v7m0 7.2v5.5m.5-25.1v3.8m0 4v4.4m0 16.6v5m0-13.6v5.6m.4-11.7v3.9m0-11.5v5.5m0 16.1v3.4m0-8.4v3.9m.5-19v1.5m0 18.7v5m0-12.8v3.8m.4-12.3v7.5m0-14.9v5.8m0 15.4v5.6m.5-18.4v5.5m0 2.7v2.2m.4 4.5v2.8m0-10.2v2.8m.5-1.5v3.4m.4-4.7v5.4m.5-28.7v3.4m0 14.2v3.2m.4-11.8v3m0 16.6v5.1m0-10.5v3.4m.5-16.8v2.5m0 9.2v3.5m.4-5.4v3.3m0-14.2v4.6m0 14.3v4.6m0-10.4v7m.9-9.7v6m.5-5.5v5.9m0-12.7v2.7m0 9.3v4.9m.4-8.7v3m0-12v6.3m0 9.6v1.8m.5-10.1v4.6m0-10.4v1.7m0 10.7v4.6m.4-9.7v3.9m0-3.5v5.6m0-3.8v4.1m.5-8.3v5.5m0-11.1v3.9m0 8.7v5.4m0-6.3v4.1m.4-4.9v4.2m.5-6.8v4.6m0-.6v6.2m0-8.8v4.5m.4-8.2v4.2m0-3.5v5.5m0-11.6v3.4m0 4.2v4m.5-7.6v3.3m0 2.6v3.4m0-14.2v4.6m0 1.5v5.8m.4-7.3v4.3m0-8.2v3.5m.5-.9v4.3m0 2.7v5m0-10.7v4.3m0 6.1v3.3m.4-12.6v3m0 3.7v6m.5-14.1v5.7m0-5v5.6m0-.7v6.4m.4-7.9v2.4m0 2.6v5.8m.5-14.1v3.9m0-.8v4.1m0 3.8v3.3m0-7.1v2.5m.4-6.9v6.9m0-4v3.2m.5.3v5.8m.4-16.6v5.4m0 1.1v3.3m0-4.8v4.1m0 2.6v4.9m.5-9.4v4.4m0 0v5.6m.4-18.8v6.7m0 1v4.3m0 1.9v3.3m0-12.8v5.2m.5-8.6v4.1m0 1.3v5.1m0 2.4v6.4m0-15.6v3.1m.8-5.6v3.6m0 3.8v5.5m0-12.2v4.8m0-8.5v4.5m0 .3v3.9m.5-5.3v1.5m0 5.3v5m0-12.4v4m0-6.4v5.7m.4-3.5v4.6m0-3.9v3.6m0-4.1v4m0-3.5v4.2m.5 3.8v2.8m0-13.1v5.5m0-2.9v4m.4-8.7v6.4m0-2.6v6.6m0-8.2v3.7m.9-2.9v2.6m0 2.1v3.1m.5-2.2v3.3m0-9.4v5.4m.4-4.4v2.7m0 2.4v3m0-13.1v4.7m0-.4v2.4m.5 3.1v3m0-13.3v3.9m.4 8.4v2.9m0-11.6v4.9m.5-5.1v3.5m0-.9v4.1m0-7.4v5.4m.4-3.7v5.2m0-3.4v3.2m0-11.3v3.9m0-4.8v4.8m0 .7v3.8m.5-1.6v4.3m0-4.8v2.9m0-5.8v3.6m.4-.2v5.6m0-6.4v5.2m0-9.8v7.1m.5-1.1v5.3m0-8.4v5.6m.4-6.4v5.8m.5-1.8v5.8m0-9.7v5.6m0-5.6v3.9m0-3.7v5.8m.4-7.5v3.9m0-4.5v6.4m.5.7v5.4m0-12.8v5.4m0-5.3v5m.4-1.1v3.9m0-9.1v5.4m0-5v5.5m0-1.7v2.4m.5.1v3.9m0-12.4v5.8m0-4.6v4.8m0-1.5v5m.4-2.1v3.8m0-6.3v3.2m.5-.3v2.7m0-7.4v5.4m.4-.5v2.5m0 6.1v6.1m0-19.3v5.5m.5-2.4v4.8m0-16.9v6.4m0 17.2v4m.4-26.4v2.8m0 20.5v3.2m0-19.5v3.6m.5 13.9v1.6m0-20.1v4.5m.4 0v2.7m0-15.5v4.6m0 21.3v5.6m0-21.8v5.5m.5-4.1v5.9m0 10.2v2.6m0-22.9v4.4m.4 0v4.5m0-16.6v3.5m0 23.7v3.9m0-20.5v4.7m.5-.6v1.8m0-9.7v7m.4 1.4v3.5m0-10.6v5.8m0 14.2v4.2m.5-17.3v3.4m.4-9.7v2.9m.5-2.5v5.7m0 2v6.9m.4-9.4v3.5m0 1.5v6.1m.5-12.7v4m0 4.1v5m.4-17.3v4.3m.5 17.6v3.3m0-13.2v3.9m.4-15.1v4.4m0 6.7v4.5m.5-18.3v5.5m0 19.2v2m.4-3.4v6.4m0-18.2v3.5m.5-8.7v4.3m.9-17.2v3.3m0 26.5v6m.4-20.6v6.2m0-21.4v1.3m0 5.6v5.2m0 18.3v4.3m.5-15.6v1.5m0-20.6v4m.4 4.8v5.6m.5 4.1v3.4m0-11.9v3m.4 4.9v5.1m.5-3.4v3.8m0-14.6v7.5m0 15.4v5.1m.4-29.9v5.7m0-2.3v2.9m0 20.1v6.3m0-11.8v6.3m.5-23.5v4.4m0 20.5v3.5m0-10.8v5.8m.4-5.6v5.4m.5-23.1v2.2m0 14.4v5.3m.4-26.3v3.8m0-.7v4.9m0 23v2m0-10v4.3m.5-4.6v1.8m0 5.9v2.9m.4-27.4v2.9m.5 12.2v5.8m0 4.6v1.9m.4-1.6v1.6m.5-29.8v5.2m0 22.7v1.9m0-13.7v6.1m.4-24.8v4.6m.5 22.4v4.5m0-31v5.8m0 26v.1m.4-37.7v6.4m0 25.1v3m0-27.9v5.2m.9-7.6v3.3m1.4 16v4m.4-8.4v5.3m.5-2.9v2m.4-2.4v3.3m.9-5.8v3.9m1.4-5v4.3m.4-5v4.8m.9-5.8v5.1m.5-21.5v3.5m0 20.1v3.5m.4-1.2v3.2m0-5.7v4m0-9.2v5.7m.5-.3v4.2m0-10.8v3.7m.4 1.5v5.9m0-10.8v2.5m0 3.8v4.7m.5-16.6v7.1m0-3.8v3.5m.4-4.9v2.5m0 8v3m0-14.9v4.7m0-2.3v5.1m.5-6.2v2.2m0-3.5v4.8m.4-5.5v3.4m0-2.8v2.9m.5-3.5v4m0 7.8v4.5m0-.8v3.5m.4-18v5.8m.5 5.4v3.1m0-18.7v6.7m0-2.4v4.6m.4-8.7v5.2m0 10.9v5.7m.5-16.9v3.5m0-10.2v4.4m0 14.3v3.5m0-14.3v5.8m.4-6.9v4.7m0 6.2v5.8m0-14.4v3.9m.5-2.7v2.5m0 7.1v3m0-15.4v5.3m.4-3.2v1.7m0-18.8v5.9m0 19.5v1.9m0-11.2v1.9m.9-2.2v4.6m0 3v5.5m0-12.7v1.6m.5-13.7v2.2m0 6.8v6.9m.4-4.1v4.7m0-20.9v3m0 21.7v3.7m0-15.5v4.5m.5.1v6m0 .9v6.6m0-17.2v5.2m.4-1.1v4.4m0 2.8v4.6m.5-7.4v6.6m0-16.1v3.9m.4-4.4v5.7m.5 6v5.5m0-14.5v5.7m0 2.2v5.6m0-14.5v5.7m.4-6.5v7.3m0 3.7v3.8m0-13.2v1.9m.5 6.9v2.7m0-4.1v6.6m0-13.7v3.2m0-5.7v6m.4 4.1v4.7m0-6.7v4.9m0-10.7v3m0 7.2v4.3m0-17.8v6m.5 6.7v2.9m0-5.8v4.6m0-9.4v3.6m0-8.3v6m.4 8.4v2.5m0-8.1v5.3m0-10.9v6m0 3.3v5.5m0-15.8v1.9m.5 1.6v2.6m0-6.7v1.9m.4 9.6v5.7m0-14.2v4.1m0-9.2v4.8m.5 9.5v3.5m0-11.8v6.1m0-14.4v7m.4 3.4v4.7m0-9.1v4.4m0-9.8v5.7m.5 3.7v2.9m0-18.9v4.9m.4 3.6v2.8m0 .5v5m0-14.6v3m0-.3v3.4m.5-.8v4.7m0 .9v3m0-3.3v5.3m0-15.4v3.3m0 3.9v4m.4-14v5.3m0 5.6v5.3m.5-2.2v6.3m.4-9.2v5.1m.5-5.8v2.4m0 .5v2.7m0-15.2v5.2m.4 3.9v5.6m0-.9v3m0 .4v4m.5-8.1v4m0-19.3v5.8m.4 3.1v4.4m0 2.2v6.9m0-21.7v5.4m0 13.6v2.6m.5-12.9v5.4m0 3.5v5m.4-12.5v3.6m0 3.6v3.5m0-19.5v3.4m0 14.1v4.2m.5-16.2v4.7m0 3.7v6.8m0-24.3v3.9m0 16.5v5.8m.4-18.8v5.3m0-12v5m.5 8.1v2.9m0-7.6v1.9m0-10.8v3.5m.4 10.3v2.6m0-7.6v5.4m0 6.2v3.2m0-23.8v3.4m.5 11.5v2.8m0-9.8v2.8m.4 27.2v1.7m0-19.4v4.1m0-8.2v3.6m.5-6.9v4.5m0 19.3v3m0-24.7v4.2m0 .2v3.6m.4-8.6v1.9m0 12.4v6.8m0-20.1v5.2m0-3.3v4.8m.5-9.5v3.6m.4 11.6v5.8m.5 4.3v1.8m0-20.6v4.6m.4 14.9v1.1m0-12.8v6.4m0-17.5v3.3m.5 17v3.6m.4-1.2v1.2m0-9.7v5m0-19.1v3.8m0 .7v4.2m.5 11.1v4m0-23.1v2.7m0 3.6v3.1m.4 11.5v2.2m0-10.2v4.6m0-19.6v6.6m.5 10.8v5.7m.4-14.1v5.1m0-11.8v3.3m.5 6.3v4m0-1.5v3.7m0-2.8v6.1m0-9.7v2.5m.4.7v4m0-15.5v4m.5 8.3v3.1m0-3.5v5m0-18.2v6m.4 3.3v5.8m0-3.2v5.4m0-5.5v6.6m0-19.7v7.2m.5 6.4v3.2m0-15.3v4.6m.4 8.2v3.4m0-15.9v7.1m.5 3.9v4.7m.4-3.1v4.9m0-5.3v4.4m0-15.1v3.2m0 5.5v6.2m.5-4.4v3.5m0-3.3v4.9m.4-7v6.3m0-6.7v4m0-2.7v4.1m0-4.3v5.7m.5-3.6v3.2m.4-31.9v5.8m.5 23.2v6m0-35.9v5.7m0 15.3v5.3m.4-24.6v3.6m0 25.8v3.7m.5-2.2v4.3m0-4.7v2.4m.4-4.7v2.6m0-30v5m.5 26.2v3.4m0-35.2v4.9m0 16.7v3.3m0 4.9v3.6m.9-1.9v2.8m0-6.8v3.6m0-.6v4.9m.4-34.6v5.5m.5-2v2.3m0-5v5.9m.4 26.4v3.3m0-31.8v2.1m0 13.5v5.6m0-24.4v3.9m.5 19.1v5.5m0-26.4v4.2m0-8.3v6.4m.9-8.8v3.9m.4.4v5.6m.5-2.3v3.2m0-5v4.9m.4-4.6v5.6m0-11.7v4.3m.5-4.2v2.8m.4 17.1v6m0 5.9v3.2m0-28.1v4.3m0-4.3v1.7m.5 13.7v4.5m0 4.6v5m0-31.8v6.3m0-11v2.5m0 2.7v3.9m.4 24.2v4.6m0-33.7v5m.5-4.8v3.1m0 .5v2.5m.4 24.3v2.5m0-37.3v2.1m0 5v3.6m.5 24.2v2.7m.4-37.6v4m0-4v1.1m.9 22.2v5m.5-21.2v4.5m.4 12.7v3.7m0-28v2.8m.5-2.8v4.4m0-4.4v3.4m0 3.7v4.4m.4 12.3v1.8m0-18.1v4.7m0-5.1v2.5m.5.8v4.8m1.3 1.8v4m0-11.2v3.6m.5-11.2v4.2m0 6.2v4m0 .8v2.6m.4 2.9v4.8m.5-4v2.5m.4-3.5v4.2m0-12.3v5.5m.5 3.3v3.3m0-26.7v6.3m0 11.3v2.5m0 5v4.6m.4-29.7v3.5m0 6.9v2.5m0 4.4v4m.5 13.2v3.5m0-21.4v5.8m.4 13.1v2m0-26.4v2.3m0 3.9v4m.5 12.5v4.5m0-16.3v2.9m.4-3v7.3m0 7.6v2.8m0-32.2v2.7m0 6.2v5.9m.5 15.8v1.6m0-32.4v2.3m.4 27.9v2.2m0-31.4v4.2m0 6v3m.5 17.8v.4m0-23.1v6.1m.4 2.6v6.4m0 7.3v.7m0-30.5v2.2m0 3.7v6.6m.5 7.4v5.5m0-25.8v4.3m.4-4.8v2.4m0 3.3v5.2m.5 7.1v3.4m0-2.6v5.6m0-26.4v4m0 4.1v4.1m0-5.8v4.6m.4 11.6v4.2m0-28.9v4.9m0 5.8v4m0-7.2v3.9m.5 10.5v4.7m0-24.1v2.5m.4 18.9v2.6m0-22.4v2.7m0 3.9v4.6m0-9.4v4.9m.5-6.6v2.9m0 17.2v5.2m0-18.5v5.7m.4-15v7.1m0 15.9v5.2m0-26.9v3.8m0 3.1v5.6m0-10.8v2.4m.5 16.2v4.5m0-27.5v4.8m0 5.8v2.7m0-8.9v5.2m.4-5.8v1.4m0 18.5v6.9m0-31v4.9m0 5.2v4.4m.5-12.1v4m0 17.8v5.8m0-19.9v6.1m.4-10.9v2.6m0 16.7v4.9m0-25.7v4.6m0-5.1v2.4m.5 20.7v1.8m0-23.9v2.9m0 6.2v3.3m.4-13.3v4.6m0 16.4v6.3m0-27.1v3.4m.5-5.3v5.5m.4-3.7v4.1m0 17.7v5.1m0-19.4v4.4m0-15.8v5.4m.5-2.5v4.5m0-2.8v5.5m0-10.8v5m.4-2.9v6.4m0 18.9v5.2m0-34.6v7.4m.5 5.7v3.3m.4-9.1v6.6m0-2.5v5.8m0-15.7v2.4m.5-1.7v6.2m0 3.9v3m0-15.6v5m.4-.6v4m0 20.6v3.6m.5-29.6v4.9m0-6.3v2m.9-3.5v5.7m0 7.4v5.4m.9 3.6v3.9m.4-11.2v6.3m.5-21.2v3.6m0-3.5v5.1m0 2.8v6.6m.9 1.3v5.9m.4-5.9v6.3m.9-22.7v6m.5 20.8v3.9m.4-2.9v2.6m.5-30.3v3.2m0-3.4v3.7m0 7.4v3.8m.4 9.9v5.7m.5-18.3v4.6m0 7.9v3.5m.4-3.1v6.6m.5-6.3v5.6m0-7v4.7m.4-18.5v5.5m.5 15.9v5.3m.4-26.1v3.7m0 15.5v3.8m.9-21.2v2.2m.5-4.3v5m0 13.1v6.6m.4-5.2v3.5m0-3.4v3.8m.9-2.5v5.4m.5-24.7v3m0 10.1v4.2m.4-17.2v4.5m0 18.1v4.6m0-12.9v5.6m.5-9v4.6m0-19.2v6.2m0 22.1v2.6m0-12.1v5.6m.4-24.1v6.1m0 23.1v1.6m0-3v2.4m.5-32.2v5.7m0 20.5v2.2m0-2.2v4.7m.4-16.3v6.8m0-15.8v2.4m0 15v4.6m.5-4.6v6.5m0-.7v4m.4-18.7v3.9m0-15.4v4.4m0 17.7v3.7m0 1.7v2.7m.5-8.5v4.2m.4-15.8v4.2m0-12.4v5.9m0 14.2v3.3m0 2.5v2.4m.5-21.8v3.4m0-10.7v6.8m0 12.4v5.3m0 2v2.6m.4-23v5.9m0 8.7v2m0 2.3v4.1m.5-26.7v2.9m0 15v4.9m0 2.2v1.7m.4-22.9v4.5m0-11.1v4.6m0 14.9v5.3m0-15.2v5.9m.5-17.9v4.4m0 17.4v6.7m.4-30.5v2.9m0 21.7v3.5m0-13.8v4.9m.5-8.6v3.2m0-12.2v4.5m0-7.8v3.2m0 23.8v4.1m0-15.1v6.8m.4 3.7v4m0-12.8v4.2m.5-24.9v5.2m0 23.3v2.9m.4-24.8v6.1m0-13.7v1.5m0 27.4v5m.5-33.9v1.6m0 27.6v5.9m.4-26.2v4.5m0-7.4v4.7m0 9.7v7.4m.5-20.4v3.7m0 18.3v4.5m.4-7v6.4m0-8.6v3.1m.5 2.5v2.4m0-10.5v5m.4-21.9v5.7m0-6.1v4m0 13.6v6.7m.5-24.2v7.1m0 13.6v3.1m.4-27v5.5m0 23.1v3m.5-4.8v2.8m.4-30.6v4.8m0 20.3v6.2m0-8.1v6.7m.5-30.7v3.1m0 23.7v5.6m0-8.5v3.8m.4-27.7v1.9m0 4.7v1.9m0 17.6v6.4m0-6.8v3.2m.5-4.1v3.6m.4-20.9v3.9m0 16.5v1.7m0 1v3.4m.5-25.4v2.1m0 13.5v4.4m.4-14.8v6m.5-4.6v5.2m0 8.3v4.6m.4-16.5v2.6m0-9.1v2.7m0 15.9v3.9m0-1v3.3m.5-19.6v5.7m0-13.5v6.7m0 17.4v2.5m.4-17.4v4m0-11.1v3.5m.5 2.6v5m0-13.5v4.5m0 17.4v1.4m0-22.3v6.2m.4-6v4.7m0 14.2v4.7m0-23.5v3.7m.5 2.8v4.1m0-9.8v2.5m0-2.7v4.1m.4 2.4v2.8m0 7.4v5.3m0-21v3.5m.5 3.2v2.3m0-11.2v6.6m0 22v2.9m0-28.9v1.7m.4 1.5v6m0-10.3v3.1m0-1.7v3m.5-1v7.2m0-10v4.2m0 22.5v2.7m0-30.6v6.1m.4-.7v5.4m0-13.3v7m0 11.2v6.3m0-24.2v4.7m0-.4v5.6m.5-2.6v5.2m0-10.7v2.4m.4 4.1v2.6m0-9.5v5.4m0 10v4.7m0-17.1v2m0-.5v3.3m.5-9.5v6.4m0-1.7v4.8m0-4v5.3m.4-2.4v3.1m0-2.6v1.9m.5-11.5v3.1m0 16.9v2.2m0-17.6v4m0-.2v3.6m.4 6v2.7m0-1.8v3.8m0-17.2v4.7m.5 8.5v2.8m0-2.6v5.5m0-18.9v3.4m0 2.3v2.9m.4 3.4v5m0 5.8v3.3m0-27.7v7m0 .5v3m.5 4.4v4.5m0-.6v6.5m0-22v2.7m0 .8v4.9m.4 2v4.3m0 5.3v5.1m0-25.5v4.7m0 .5v5.3m.5-1.2v5.6m0-9v6.7m.4-3.9v3.9m0 10.9v3.3m0-9.1v4.8m0-15.1v6.3m.5-5.5v5.4m0 2.3v4.9m0-7.1v3.6m0-8.5v4.6m.4-1.9v3.8m0 0v4.7m0-4.2v5.1m0-8.4v4.6m.5-6.6v4.6m0 7.9v4m0-12.6v3.5m0-.4v5.4m0-10.4v3.6m.4-3.4v3.4m0 7.1v2.3m.5-13.3v7m0-6.1v5.8m0-2.9v6.1m0-7.1v3m.4-3.8v4.6m0-5.8v3.9m0-2.2v5.4m.5 3.3v3.2m0-10.2v5.6m0-2.4v2.2m.4 3v2.2m0-13.5v5m0-4.1v4.4m0 1.8v5.2m.5-14.5v4.9m0 7.7v3.1m0-6v3.6m.4-2.6v2.4m.5.2v2.4m0-10.8v3.3m0 4.1v2.9m.4-.2v.7m.5-6.9v4.8m0-7.2v2.2m0 3.7v2.8m.4-20.5v6.3m0 7.8v6.4m0-10.4v2.7m0 5.1v3.2m.5-5.7v5.1m0-10.1v4.1m0 3.1v3.5m.4-4.6v3.2m0-9.3v3.1m0 2.4v4.3m.5-2.8v3.7m0-9.5v4.5m0 2.5v2.5m.4-16.3v2.4m0 3.3v2.9m.5-17.4v5.6m0 14.6v4.9m0-17.7v2.7m0 2.2v4.9m0 4.1v3.2m.4-4.3v4.9m0-10.8v2.4m0 3.1v5m.5-5v5.3m0-10.1v2.6m0 1.8v4m.4-2.4v4.1m0-19.6v5m0 2.1v4m0 2.6v4.5m.5-1.5v1.9m0-17.6v4.1m0 4.6v2.7m0 4.1v2.4m.4-22.7v3.6m0 .8v5.4m0 2.5v3.7m0 3.7v3.7m.5-19.9v4.5m0 3.1v3.4m0 3.5v3.8m.4-23.4v4.5m0 15.3v5.2m0-19.5v2.6m0 3.2v6.4m0 2.8v4.5m.5-3.7v3.4m0-11.3v3.1m.4-10.7v3.4m0 11.9v3.9m0-22.8v4.7m.5 1.4v4.4m0 9.8v2.5m0-21.9v4m0 5v6.5m.4-11.3v3.4m0 11.7v2.6m0-12.3v6.1m0 3v2.6m.5-16.2v2.5m0 12.4v1.9m0-13.5v7.2m0 2.1v4.2m.4-20v7.3m0 10.9v1.8m0-13v4.2m0 5.2v3.6m.5-20.4v6.4m0 12.8v1.2m0-24.9v3m.4 4v2.8m0 13v2.1m0-10.5v2.3m.5-10.5v3m0 12.8v2.9m.4-20.5v2.7m0 14.1v2.7m.5-2.9v3.9m.4-3.4v3.4m0-9.9v6.2m0 .3v3.4m.5-6.9v1.6m0 .9v4.4m.4-23.9v3.8m0 19v1.1m.5-7.4v4.2m.4-28v3.4m.5-1.5v4.3m.4-3v6m0 14v5.8m0 .8v1.4m.5-1.8v1.8m.4-29.5v3.5m0-3.1v3.6m0 22.3v3.2m.5-38.5v1.7m.4-1.9v1.8m.5 6.4v4m.4-5.8v4.4m0-11.7v3m.5 4.3v4.4m0 21.9v4.4m0-23.2v1.8m0 18.6v4.4m.4-34.6v6.4m0-11.4v2.3m0 34.1v3.2m.5-34.5v5.4m0-10.5v2m.4 2.4v3.4m0 6.6v5.9m0-20.3v2.7m.5 25.8v3.5m0 2v4.2m.4-10.6v5.8m0 3.7v2.5m.5-3.5v3.5m.4-10.8v1.5m0 4.4v4.9m.5-39.6v2.2m.4-2.2v2.2m0 25.4v3.8m0-31.4v1.9m.5 1.9v4.7m0 9.1v3.2m.4 7.8v4.8m0-15.7v6.1m.9 5.7v4.9m0-15.6v4.5m0-23.3v3.4m.5 25.4v6.1m0-14.3v2.8m0 .1v5.8m.4 1.7v3.7m0-34.7v3.2m0 23.8v3m.5-9v4.7m.4-20.3v4.1m0 22.8v4.1m0-9.3v2.7m.5 1.9v3.4m0-15.1v5.7m.4-3.7v3.8m.5-20.1v4.3m0 21.8v2.5m0-14.4v4.5m0 5.6v3.3m.4-27v6m0 16.5v7.3m0-6.2v2.8m0-5.4v2.7m.5-.2v3m0-9.9v3.1m0 4.5v5.1m.4-5.5v3.4m0-7.8v4.1m0 .3v5.7m0-7.6v2.4m.5-.4v4.1m0-6.8v2.8m0 .7v3.4m0-7.2v6.3m.4-4.2v5.3m0-9.5v6.7m0-.1v3.1m0-7v3.6m.5-3.1v6.2m0-3v4.4m0-7.4v5.2m.4-5.8v2.4m0 4v3.6m0-7.4v1.8m.5-5v4.8m0-4.8v5.6m0-5.3v4.1m.4-3.6v5.8m0-6.2v6m0-7.3v4.5m0-1.6v4.7m.5-5.4v4.1m0-1.6v2.7m0 .4v3.7m0-10.8v4.3m.4-4.1v3.9m0-.4v4.8m0-.7v4m0-12.4v4.8m.5-1.5v6.2m0-8.8v4.9m0 .9v4.5m0-10.9v4m.4-7.3v3.1m0 5.5v4.3m0-9.2v5.8m0 2.5v3.1m0-9.7v4.5m.5-6.1v5.7m0 1.6v5.2m0-10.1v2.7m.4-11.2v4.9m0 .3v4.8m0 4.2v4.4m.5-20v5.1m0 3.5v5.2m0-6v4.6m0 2.3v5.3m.4-20.6v5.4m0 2.9v1.7m0 1.5v3.6m.5-15.4v6m0 5.7v4.3m0-10.6v6.7m0 6.8v2m0-7.7v1.9m.4-3.1v3.6m0-7.6v3m.5-12.4v4.1m0 8.5v4.9m0-8.9v2.1m0-20.8v6.1m0 19v4.8m.4-7.4v6.5m0-11.8v4.8m0 4.5v2.8m.5-13.6v6.7m0 2v4.8m.4-13.8v6.5m0-21.3v3.7m0 20.8v3m.5-20.1v3.2m0 12.7v4.4m0-13v6m0-23.6v6.6m.4 9.8v6.5m0 4.3v5.7m.5-23.8v2.9m0 5.6v3.2m0-18.8v2.7m0 23.7v4.4m.4-15.2v1.9m0-6.1v2.8m.5.5v2.3m0-5.3v4.3m.4 8.9v5.4m0-17.9v4.6m0-6.2v5.5m.5-14.6v3.7m0 8.4v3m0-5.9v5.8m.4 7.6v5.3m0-16v2.8m0-17.8v5.9m0 8.6v1.6m.5 9.3v4.2m0-16.5v3.8m.4-16.4v4.3m.5-3v3.8m0 18.1v5.4m0-28.3v2.2m0 10.4v3.1m.4 11.4v3m0-18.3v6.1m0-17.3v3m.5-5.7v4.9m0 10.4v3.7m0-16.8v5.4m0 7v6.2m.4-23.4v4.1m0 25.7v5.4m0-18.5v5.2m0-4.6v5.9m.5-5.2v1.6m0-.8v3.6m.4-24v4.1m0 27.2v2.4m0-14.5v2.1m.5-18.3v5.2m0 .1v5m.4-9.6v4.9m0 7.2v7.2m0-15.3v5.7m0 13.3v4.7m.5-23.3v3.2m0 15.2v3.4m.4-23.1v4.5m0 13v3.2m0-.4v2.2m.5-18.6v4.9m0-8v5.9m0 .8v4.2m.4-8.8v4.6m0 9.4v4m.9-3.6v3.7m0 2.3v3.6m.5-23.9v4.3m0 6.7v4.8m.4-5v6m.5-7.4v5.9m.4-10.4v4.8m0 .7v5m.5-11v4.1m0 5v3.6m0-9.3v6.2m0 7.9v4.7m.4-13.3v1.7m0-5.2v5.3m.5-8.4v2.4m0 2.6v5.5m0-6.8v3m0 8.1v3.8m.4-11.9v4.8m0-8.1v4.7m0 7v5.5m.5-10.1v2.3m0-8.1v4.7m0 5.4v4.7m.4-18.8v6.2m0 1.1v6.9m0-9.8v4.7m0 4.5v2.4m.5-12.4v3.1m0 1.9v5.1m0-9.8v4.9m.4-6.7v3.7m0 1.5v7.4m0-.3v3.1m.5-15.2v3.3m0 4.6v2.3m0-7.4v2.8m0 6.9v2.6m.4-16.3v5.6m0-4.1v3.3m0 3.6v3.2m0-10.2v4.5m0 8.4v2.2m.5-14.6v2.7m0-2.1v2.3m0 3.3v3.9m0-10.5v4.2m.4-4.1v6.7m0-4.5v4.1m.5-2.7v4.1m0-12.6v3.7m0 9.8v5.5m0-31.4v4.9m.4 17v2.4m0 1.9v4.8m0-3.5v3.5m0-29.9v3.3m.5 18.3v3.6m0-15.9v3.5m0 12.8v7m0-32.9v5m.4 14.3v7.1m0-15.7v4.8m0 11v5.8m0-8.7v3.7m0-28v2.4m.5 9.8v4.2m0 11.9v2.8m0-33v5.7m.4 25.1v3.4m0-10.5v5.1m.5-2.8v4.3m0-14.3v2.6m0-18.1v5.9m.4 24.8v2.6m0-6.9v3.9m0-30.4v3.5m.5 24v4m0 .6v5.1m0-34.9v4m.4 4.1v6.2m0 16.3v5.5m0-38.4v6.3m.5 21.9v2m0-19.9v5.8m0 19.4v2.9m0-12.8v2.3m0-28.5v3.7m.4 23.6v4.2m0-14.3v5.8m0 3.5v4.5m.5-12.5v6.6m0 1.2v2m0-28.9v2.7m.4-2.7v5.5m.5 30.6v2.3m0-30.7v7.1m0 3v2.9m.4 13.4v5.5m0-30.5v4.2m0 2.7v5.4m0 5.8v2.1m0-27.7v3m.5 33v2m0-16v6m.4 7.7v2.3m0-32.2v4.2m0 4.6v4.1m.5 18v1.3m0-33.2v4.7m0 14v3m.4 9.7v1.8m0-32.8v5.8m.5 26.2v.8m0-22.3v3.5m0-20.8v2.3m.4 35.7v1.6m0-35.1v4.7m0 6.6v4.8m0 4v3.4m.5-28v3.8m.4 30.7v5.1m0-34.9v4.1m0 9.7v2.6m0 3.1v5.1m0-29.3v4.9m.5 29.7v5m0-36.5v4.7m0 16.2v5.9m.4 5.7v4m0-38.3v4.7m0 12.4v2.4m0 3.1v1.9m0-25.8v2.6m.5 32.7v3.7m0-15.7v3.1m0-18.2v5.4m.4-.5v2.3m0 4.4v4.9m0-3.2v5.7m.5-3.5v3.4m0-18.3v6.3m.4 19.1v5.1m0-26.7v6.2m0-1.2v3.9m0 1.7v3.2m0-16.6v5.1m.5-1.2v5.1m0-1.7v3.9m0-.8v5.4m0-16.8v4.3m.4 22.9v3.4m0-25.5v3.6m.5 18.7v2.5m0-25.9v4.6m0 .7v5.9m0-13.4v2.9m.4 20.3v5.7m0-20.2v2.8m0-1.7v3.7m0-13.5v2.5m.5 23.8v1.6m0-18.3v2.4m.4-15.5v4.9m.5 6.7v3.6m0-16v3.1m.4 7.8v4.5m0-16.2v5m.5 7.5v4.6m0-18.3v3.2m.4 29.6v2.5m0-19.9v2.1m0-17.9v3.4m.5 28.8v3.5m0-36.2v3.9m.4 9.8v5m0-6.5v5m0-20.6v4.9m.5 32.3v2.4m0-24.6v5.8m0-19.5v3.1m.4 8.9v6.7m0-18.3v2.6m.5 33.8v1.5m0-18.1v1.7m0-23.2v3.5m.4-3.5v4.7m.5 33.2v1.7m0-16.9v2.6m0-24.7v4m.4 34.8v.2m0-39.6v1.7m0-1.7v3m.5 31.1v2.4m0-36.5v2.5m0-1.4v4.4m.4 26.6v7.1m0-39.2v2.7m0-2.2v4.2m.5 28v5.4m0-38.1v1.9m.4 33.2v3m0-37.2v4.1m0-5v3.1m.5 6.1v5.1m0-14.3v3.7m.4 29.1v4.1m0-11.7v1.9m0-16.2v6m0-16.9v1.9m0-1.9v2.3m.5 30.5v6.6m0-38.6v3.6m0-4.4v2.3m.4-2.3v4.1m0-4.1v.9m.5 23.8v4.4m0-29v3.6m0-3.7v2.8m.4 27.5v4.3m0-34.6v4.4m0-4.4v3m.5 27.1v5.9m0-35.2v5.5m0 .8v2.8m.4 21.1v4.8m0-22.8v4.8m0-17.1v3.8m0 1.5v4.4m.5 16.6v5.6m0-30.7v3.9m0-2.7v6.1m.4 21.3v1.4m0-16.3v4.7m0-18.9v2.4m0 0v5.7m.5-7.4v6.3m0-4.1v4.5m.4.4v6m0-13.7v6.5m0 7.8v3.2m0-16.9v3.9m0-.2v6.3m.5-3.2v6.3m0-10.1v3.6m0-.1v3.6m.4-.2v3.2m0-10.9v2.7m0-6.8v6m.5-2.6v6.1m0 6.7v6.4m0-22.8v6m0 1.9v2.6m.4-10v3.9m0 1.5v4.9m.5-10.8v2.7m0 4.8v4.7m.4-.9v3.4m0-12.6v3.9m0 12.2v2.7m0-20.9v4.7m0 6v4.8m.5 1.9v3.2m0-10.5v3.5m.4-10.4v2.9m0 10.4v4.8m0-21.3v2.6m.5 7.4v5m0-15v2.4m.4-2.4v3m0 7v5.4m.5-12.8v4.3m0-6.9v.7m.4 10.8v4m0-11.2v3.3m0 7.6v6.9m0-8.7v4.8m.5-12.8v1.9m0 8.9v3.3m.4-7.9v6.3m0-12.7v4.6m0-8.1v3.7m0 11.5v4.8m.5-7.4v2m0-11.6v6.8m0 15.2v4.7m0-15.2v4.5m.4-9.1v5.3m0-9v1.3m0-9.2v6.1m0 23.3v1.7m0-12.5v4m.5-11.5v6.8m0-17.9v6.8m0 10.7v3.8m.4-9.8v4.3m0 15.9v4.8m0-33.3v4.2m0 12.3v4.4m.5-10.3v1.6m0 17.6v3m0-33.8v4.5m0 11.2v3.6m.4-9.4v3.7m0 18.2v2.4m0-8.4v4.5m0-13.5v5.1m.5-21.3v6.2m0 16.5v4.2m.4 4.9v5m0-37.3v5.5m.5 7.7v3.3m0 16.2v4.6m0-35.5v4.2m0 18.7v5.3m.4-28.6v3.7m0 19.2v5.6m0-12.3v4.1m.5-21v4m0 20.9v4.2m0-11.1v3.9m.4 7.5v6.7m0-35.2v4.7m0 21v2.4m0-9.8v4.7m.5-7.6v2.7m0 11.4v5.1m0-2.9v4m0-13.2v5.7m0-8.8v2.3m.4-4.4v2.4m0 4.4v3.2m.5 2.8v5m0-5.1v5.3m0-15.2v3.7m.4-4.3v2m0 2v3.4m0-7v5.3m.5 6.4v4.1m0-4.6v3.4m0-13.1v6.4m0-5.5v5.2m.4-8.5v4.7m0 9.9v2.1m.5-12.8v4.1m0-5.2v6.1m.4 2.9v4.9m0-5.7v2.8m0-8.5v2.6m.5 6.4v1.7m0-5.6v4m0-9v5.9m.4-29.9v5.1m0 25.1v2.3m0-7.9v4.7m.5-32.9v6.8m0 28.8v2.4m0-7.4v4.1m0-5.2v5.6m.4-33.8v5.9m0 27.4v4.3m0-7.9v3.9m0-3.5v2.7m.5-31.7v4.3m0 27.8v4.4m0-6.8v2.3m.4-32.6v6m0 29.5v1.6m0-15v5.2m0 3.3v4.7m.5-34v2.9m0-6.7v3m0 28.4v4.2m.4-34.1v3.4m0-4.9v3.6m0 28.8v3.4m0-4.3v5.4m.5-36.4v3m0-3.5v1.7m0 30.5v4.3m.4-35.9v6.2m0-6.8v2.9m0 31.2v2.3m0-3.7v4.9m.5-35.5v2.7m0-4.8v2.4m0 24.5v5.9m.4-32.6v3.8m0-4v2.6m0 27.7v4.3m.5-33.4v2.1m0-3.3v1.7m0 29.3v6.8m0-10v4.6m.4-32.4v3.5m0-3.5v2.9m0 28.6v5.1m0-5.3v4.1m.5-35.4v4.6m0 29.1v4.1m0-5.2v3.9m.4-36.5v3.6m0-3.6v.9m0 25.6v1.9m0 5.4v2.5m.5-36.3v3.7m0-3.6v4.6m0 26.3v4.5m.4-35.5v4.4m0-4.4v3.5m0 29.7v3.3m0-31.8v4.2m0 23v3.1m.5-35v3.4m0-2.9v3.4m0 28.4v4.7m0-34.2v3.6m0 26v3.8m.4-36.2v1.9m0-1.8v4m0 30.5v5m0-35.6v3.6m0 24.2v4m.5-34.9v3m0 28.5v6m0-37v5.1m.4-6.5v3.1m0-2.2v3.1m0-2.6v5.9m.5-7.3v2.6m0-2.1v4.6m0 2.4v4.6m0-9.2v5m.4-7.9v3.1m0-2.5v2.5m0 4.9v3.4m0-9.6v5.7m0 22.9v6.4m.5-36.8v2.7m0-2.7v4m0 3.7v5.5m0 18.6v5.6m.4-29.5v4.5m.5-12.4v4.1m0-4.1v2.2m0-2.2v5.4m0 25.6v6.1m.4-31.8v2.6m0 24.1v6.9m.5-38.9v.3m0 3.7v3.6m0-7.6v.9m.4-.9v2.7m0-2.7v4.5m0-.6v4.5m0-8.4v3.4m0 30.7v4.2m.5-38.3v4.4m0-4.4v3.7m0-3v5.4m0-6.1v.8m.4-.8v2.5m0 .3v3.7m0-6.5v2.5m.5-2.5v3.3m0-2v2.6m0-3.9v1.8m0 32.6v3.6m.4-38v2.3m0-2.3v4.9m0-4.9v5.3m0-5.3v1.5m.5-1.5v3.1m0-3.1v4.6m0-4.6v2.6m.4-2.6v4.3m0-4.3v1.4m0-1.4v1m0 4.2v6.7m.5-11.9v4.3m0-4.3v1.5m0-1.5v2.5m0 2.9v5.3m0 22.5v4.1m.4-37.3v1.4m0-1.4v2.3m0 8.2v5.1m0-10.7v6.9m.5-11.8v2.8m0-2.8v1.4m0 4.5v2.3m.4-8.2v4.3m0-4.3v2.9m0 4.6v6.5m0-10.4v5.6m0 27.7v2.7m.5-39.6v3.4m0-3.4v1.3m0 2.7v6.9m.4-10.9v4.3m0-4.3v1.9m0 8v5.1m.5-15v2.8m0-2.8v1.6m.4-1.6v3.5m0 5v2.9m0-7.4v6.4m0 23.2v5.7m.5-39.3v4.2m0-4.2v4.2m0 4.1v2.7m0-4.4v4.9m.4-11.5v2.6m0 5v5.4m0-6.2v2.3m0-9.1v2.8m.5-2.8v-.2m0 2.3v2.2m0 2.4v5.5m0-7.5v5.4m.4-10.1v1m0 1.2v2.5m0 2.6v2.6m0-2.8v4.8m0-9.1v5.4m.5-7.8v5.4m0 .9v3.9m0-6.5v4.1m0-3.1v4.1m.4-9.2v1.6m0-1.4v5.7m0 1.5v3.3m0-5v5m0-5v4.4m.5-8.9v3.3m0 4v2.6m0-5.9v4.7m0-4.5v3.1m.4-6.2v4.4m0-5.1v5.5m0 1.2v3m0-6v2.1m0-1.2v3.4m.5-8.5v5.6m0-4.7v3.5m0 3.6v2.5m0-8.6v6.2m.4-6v3.5m0 1.4v5.8m0-11.8v4m0 0v4.3m.5-10.4v4.8m0-1.6v4.8m0-3.7v5.3m.4-9.6v4.3m0 1.7v3.5m0-9.3v6.3m0-2.8v4.7m.5-8.2v4.5m0 .2v6.6m0-9.5v5.4m0-4.4v3.7m.4-.9v4.2m0 15v1.9m0-23.6v4.1m0-4v6.5m.5-9.9v2.2m0 4.1v4.9m.4-8.4v5.3m0 1.2v5.1m0-11.4v3.2m0-1.7v4.1m.5-6.2v4.4m0 2.4v6.9m0 3.3v5.9m0-24v3.7m0 0v4.3m.4-8.3v2.7m0 7.5v2.7m0-13.7v6.4m0-1.2v3.9m.5-9.1v4.4m0 6.4v5.9m0-15.2v4.3m.4-6v2.7m0 9v3.5m0 3v2.5m0-18.8v2.6m.5-4.5v2.9m0-2.3v5m0-5.6v4.7m.4-4.7v2.4m0 11.1v4.7m0-18.2v4m.5 10.8v1.7m0-3.4v4.5m0-3.7v4.7m0-18.6v1.6m0-1.6v4m.4 10.9v3.2m0-18.1v4.4m.5 10.4v3m0-5.6v4.9m0-17.1v3.7m0-3.7v3.7m.4 9.4v5.1m0-18.2v5.5m.5 10.3v3.7m0-8v5.2m0-15.6v4.3m0-5.4v2.2m.4 12.4v4.6m0-19.2v2.7m0-2.7v3.1m.5 13.4v2.6m0-4.9v2.5m0-16.7v3.3m0-3.3v-.4m.4 15.2v6.6m0-13v7.2m0-15.3v2.5m0-1.6v3.6m.5 11.8v3.9m0-20.5v1.9m0-1.9v5.9m.4 8.9v3.5m0-6v2.3m0-14.6v.7m0-.7v3.3m.5 11.5v3.5m0 8.5v5.7m.4-19.6v4.1m0-17v4.4m.5 12.1v4.8m0-12.4v4.8m0 16.1v2.6m.4-32.4v1.3m.5 15v3.8m0 10.5v4m0-34.6v3m.4 4.5v5.3m.5-5.8v6.1m0 15.8v7.3m0-36.2v1.5m.4 12.4v5.3m0-19.2v2m.5 4.4v5.6m0-12v3.7m.4 3.1v5.2m0 15.9v7m0-34.9v2.6m.5 4.2v4.2m0 17.9v5.1m0-34v3.3m.4 9v4.3m0-11.1v4.9m0 18.1v6.3m0-34.8v3.8m.5 10.7v6m0-17.6v3.1m0 24.2v4.8m.4-32.2v2.4m0-5.2v5m.5-2v3.3m0-6.3v.8m.4 16.3v2.8m0-16.9v3.3m0-6.3v2.1m.5 15.7v4m0-19.5v4.5m.4 25.1v3.1m.5-16.7v2.8m0-21v5.5m0 24.7v5.2m0-35.5v1.8m.4 15.4v4.6m0 8.2v3.5m0-32.8v3.8m0 25.6v6.9m0-37v0m.5 0v5.3m0 26.9v2.8m0-1.4v4.2m.9-9v6.2m0-1v4.6m0-3.9v2.9m.4-17.8v3.7m.5-4.6v4.9m0 2.1v4.9m0-30.8v2.8m0 29v5m.4-18.1v3.6m0 10.3v3.7m0-1.9v4.3m.5-8.3v4.7m0-1.8v3.8m.4-37.1v1.4m.9-1.3v4.4m.5 13.9v4.7m0 10v4.4m.4-3.4v3.6m0-5.5v4.5m.5-1.2v1.9m0-24.5v3.9m0 14.3v5.1m.4-14.3v5.5m0-7.2v1.4m0 9.8v6.2m.5-25v6.8m.4 3.1v4.3m0-10.6v6.3m0-9.1v4.5m0 14.2v3.1m.5-13.2v4.5m0 3.4v3.9m.4-19.7v4.3m0 11.5v2.5m.5-20.6v5.7m.4-.7v2.6m0 12.8v2.5m0-21.1v3.1m0 11.4v3m.5-12.5v1.9m0-7.9v4.6m.4-2.3v4m0 11.5v3.5m0-6.5v1.8m.5-15.9v5.2m0 11.7v4.1m0-7.1v3.7m.4-14.8v5.2m0 9.7v2.7m0-7.7v2.9m.5-10.2v4.2m0 6.7v3.9m0-20v3.3m0 7.8v6.7m.4-14.3v6.3m0-12.1v5.1m.5.1v5.7m0 9.7v3.6m0-25.6v6m0 10.2v5.6m.4 1.7v5.4m0-12.8v4.1m0-3.3v6.2m.5 2v4.7m0-12.3v1.8m0-8.1v3.5m0 1.9v5.3m.4 3.2v4.1m0-5.1v4.3m0-19.5v5.3m.5 9.5v6.1m0-6.7v4.2m0-9.1v4.6m.4 1.6v5.4m0-17.2v2.4m.5 8.9v5.6m0-17.7v7.2m0-2.1v3.4m.4 4.8v4.7m0-16.7v2.6m0 .8v4.6m.5 5.5v3.2m0-17.2v4.8m0-3.3v5m0-5.7v4.5m.4 9.3v2.6m0-19.6v3.5m.5 11.9v4.2m0-20.1v6.2m.4 12.1v1.6m0-15.4v4.7m.5 7.9v3m0-5.5v5.5m0-21.7v3.4m0 3.7v2.4m0-4.2v3.9m.4 10v2.5m0-5.1v4.1m0-21.8v3.4m.5 12.1v6.9m.4-4.4v4.5m0-16.2v6.3m.5 6v4.2m0-7.1v5.3m0-10.2v4.3m0-10.5v5.8m.4 9.8v2.6m0-8.7v5.4m0-7.2v4m0-8.6v5.1m0-7.5v2.6m.5 11.9v3m0-5.4v3.4m0-8.7v3.8m.4 5.1v1.8m0-12.8v4m0-5.1v5.1m0-12.7v6.2m.5 10.6v4.7m0-6.6v2.9m0-8.1v5.4m0-15.6v4.7m.4 11.3v2.3m0-7.9v5.5m0-5.6v4.9m0-16.4v4m.5 11.8v4.6m0-6.9v2.6m0-5.9v4.6m0-15.5v5.8m.4 10.9v4.8m0-9v5.6m0-16.7v5.1m.5 15.8v1.6m0-6.6v4.4m0-9v5.6m0-17.4v5.7m.4 15.5v1.8m0-5.5v5.5m0-8.9v4.4m0-3.5v3.2m.5 2.2v2.6m0-6v5.5m0-8.1v3.7m0-6v4.2m.4 4v2.7m0-12.5v5.2m0-24.8v4m0 18.5v2.3m.5-5.9v4.5m0 0v5.4m.4-10.5v3.3m0-22.3v3.9m.5 15.9v4.5m0-24.6v4.6m.4 16v2.9m0-21.3v4.1m0 13.4v6.6m.5 5.6v1.2m0-13.8v5.4m.4 7.8v.6m0-11.3v2.7m0-23.6v4.8m0 17.6v4.9m0-7.8v2.6m.5 8.5v1.6m0-13.7v4.1m0-23.3v6.5m0 19.6v3.5m0-9.3v3.1m.4 2.6v3.7m0-6.1v4.3m0-1.7v3.2m0-10.2v4.7m.5-1v2.9m0 .5v5.1m0-11.5v5.1m.4 0v5.5m0-7.3v4.1m0-25.7v4.7m0 19v4.7m0-8.3v3.7m.5.9v3.8m0-8.6v5.8m0-26.7v5.5m0 21.1v4.2m.4-4.5v4.7m0-11.3v3.7m0-22.7v4.7m0 21.9v4.6m0-13.7v5m.5 2.2v6.5m0-9.3v3.4m0-26.3v6.6m0 21.1v4m0-15.6v5.8m.4 5.2v4m0-10.2v5.6m0-25.6v3.1m0 23.2v5.4m0-13.8v4.2m.5 3.8v5.8m0-10.6v3.3m0 2.2v5.1m0-15.5v5.7m.4 4.9v4.9m0-12.8v4.4m0-25.2v3.5m0 26.1v4m.5-3.3v3.3m0-3.9v3m.4-12.7v1.4m0-21.8v3.2m0 27.7v3.1m0-17.4v3.8m.5 12v1.6m0-14.5v2.3m0 6.5v4.5m0-17.4v4.7m.4 12.5v1.4m0-17.1v6.8m0 5v5.3m0-19.2v4.3m.5 13.3v1.6m0-14.3v4.3m0-25.5v4.8m0 26.2v4m0-20.5v5.7m.4-1v6.4m0 6.6v3m0-19.6v2.3m.9 12.6v5m0-.5v.5m.5-6.4v5.2m0-17.4v4.3m0 13.8v.5m0-23.4v5.1m.4 2.7v1.8m.9-25.8v5m0 16.9v6m0-11.8v4m.5.6v3.6m0-24.3v2.9m0 21.8v5m.4-11v6.6m0 .5v2.3m0-11.1v3.5m.5.3v4.4m0-1.4v2.9m.4-7.3v4.8m0 10.4v3m0-10.4v3.8m.5-10v4m0 6.7v6m0-5.6v4.5m0-19.9v3.2m.4 1.3v2.6m0 10.9v3.4m0-7.8v4.2m.5-12.6v3.9m0 4.3v6.9m0-22.1v4.3m.4 15.1v5.3m0-7v3.7m0-8.8v6.1m.5 1.6v3.5m0-5.6v3.9m.4-3.1v3.1m0-5.2v5.3m0-7.5v4.7m0-21.3v1.7m.5 17.9v6.2m0-5.8v5.4m.4-4.4v3.2m0-5.2v4.5m.5-12v6.4m0-21.1v6.6m.4 17v5.2m0-3.1v4.1m0-27.6v3.2m.5 9.8v4.1m0 3.3v6.3m0-28.4v2.4m.4 11.2v4.6m0 6.1v3.2m0-5.5v3.6m.5-11.5v5.3m0 3.2v4.6m.4-5.2v4.1m0-2.9v3.5m0-17.8v5.8m.5 1.3v5.4m0 2.6v3.7m0-6.3v6.1m0-16.9v2.9m.9 2.5v3.2m0 5v1.7m0-3.3v5.7m.4-13.6v5.5m0 1.5v4.9m.5-3.8v5.6m.4-13.2v4m0 2.5v6m0-16.4v4.3m.5.2v1.8m0 4.6v1.9m.4-11.2v4.9m0 4.6v5.7m0-9.1v5.7m.5-10.6v2.3m0 6.8v3.1m0-16.4v3.7m.4 8.3v3.3m0-16.7v4.6m0-20.5v4.1m.5 19.3v2.4m0 3.4v2.9m0-14.4v4.7m.4-2.6v4.3m0 3.5v5.8m0-8.8v5.7m0-15.2v6.3m0-24.3v4.4m.5 18.3v3.6m0 2.8v5m0-34.1v4.6m.9 20.8v4.5m.4-5.6v5.1m0-11.1v3.1m0-21.4v3.4m.5 21.6v5.4m0-7.8v3.2m0-7.4v3.2m.4 2.6v2.5m0-25.9v4.3m.5 4.2v4.7m0 8.9v3.3m0-26v4.2m.4 28.6v4m.5-7.8v4.1m0-3.4v5.7m.4-26.9v4.4m.5 19.8v3.8m0-6.7v3.4m.4-1.5v6.5m0-7.4v4.7m0-5.5v5.8m.5-7.3v7m0-6v3.1m0-31.2v4.5m.4 3.7v5.6m0 14.8v4m0-2.8v5.6m.5-5.5v3.3m.4-4.7v4.4m0-2.6v2.2m.5-5.3v4.7m0-1.1v2.7m.4-3.3v3.4m.5 1.9v1.9m0-7.9v2.5m0-3.6v4.6m.4-24.8v4.4m0 18.1v3.1m0-6.8v6.7m.5-24.3v4.8m0-10.8v4.7m.4 22.4v3.9m.5-28.1v6.8m0 17.8v5.8m.4-5.1v5.1m0-6.4v3.5m.5-3.9v5.1m0-4.7v3.7m0-20.5v2.7m.4 13.9v2.9m.5 1.7v2.8m0-4.4v3m0-4.8v3.1m0-18.6v2.8m.4-15v4m0 25.1v5.2m0-21.3v2.5m.5-15.8v5.4m0 23.8v2.7m.4-30.8v2.9m0 9.3v4.9m.5-18.2v6.2m.9-11.1v3.7m0 7.9v4.2m.4-13.4v2.5m0 33.1v1.6m0-26.8v4.1m0 1.8v4.9m.5-11.6v5m0 14.7v5.2m.4-4.5v3.7m0-19.3v5.7m.5-22.5v5.8m0 9.9v3.9m.4-19.4v4.7m0 11.7v1.9m.5-6.2v1.4m.4-9.3v2.7m0 2.5v4.9m.5 3.7v3.3m.4-15.1v1.7m0 1.6v4.5m0 2.8v4.4m.5-15.8v4.4m.4-4.4v2.7m.9 7.6v3.8m.5-5.5v5.2m.9-17.3v4.8m0 8.9v4.5m.4-5.4v3.2m.9-5.6v2.3m0-2.9v4.5m.5-4.8v3.4m0-2v4.4m.4-7.9v3m0 .1v5.4m.5-14.6v6.1m0 3.7v3.9m.4-9.5v6.5m0-7.5v2.2m0-8.2v5m.5 8.2v5.6m0-16.8v2.4m.4.3v6.9m.5-6.8v5.9m0-7.8v2.9m0 1.8v5.5m.4-3.6v2m0-7.4v3.7m0 1.8v4.7m.5-9.7v4.8m0-4.7v2.6m.4-5.7v5.6m0-1.9v3.9m.5-8.3v3.5m0-.5v5.6m0-.6v4.9m.4-.2v4m0-7.6v5.7m0-8.8v3.7m0 1.1v1.9m.5-1.1v4.3m0-5.5v5.7m.4-17.6v1.8m0 10.6v5.5m0-11.1v5.9m.5-1.3v4.5m0-1.3v3.2m0-11.5v4.3m0-2.4v4.4m.4.9v6.5m0-4.4v4m0-12.2v1.8m.5 5v3.8m0-6.9v2.1m0 2.3v4.1m0-13.8v6.4m.4-.4v5.7m0-6.5v4.6m0-.1v3.3m0-9.9v3.9m.5 3.6v1.6m0-11.9v3.1m.4 1.5v5.9m0-4.8v4.2m0-4.9v2.4m.5-1.6v2.5m0-9.6v4.6m0-6v4.8m.4 1.7v4.5m0-10v4.1m.5 1.4v3.9m0-3.3v5.1m0-10.6v5.3m.4-1.9v3.9m.5-3.3v3.5m0-2.2v4.4m0 7.1v1.7m0-20.9v4.8m0-5.4v5.6m.4 4.5v3.8m0 5.5v2.8m0-22.7v6.2m0-5v4.3m.5 1.8v6m0 4.9v6.5m.4 10.9v2.5m0-29.5v4.3m0 3.1v6.5m0-22.6v5.1m.5 30v3.1m0-21.4v6.3m0-22.9v3.4m0-5v2.9m.4 32.9v3.8m0-20.6v3.8m0-22.2v2.8m.5 33.9v2.3m0-32.6v5.4m0 7.1v5m0-24.5v5.1m0-5.1v2.6m.4 32.7v4.3m0-8.7v1.6m0-12.7v5.4m0-25.2v5.8m.5 32.1v1.7m0-10.7v7m0-35.9v1.9m.4 33.9v3.8m0-7.7v2.2m0-13.5v5m.5 8.6v3.9m0-8.7v5.8m0-13.9v5.2m0 5.8v6.7m.4-8.4v4.1m0-12v6.7m0-11.7v4m0 11.7v6.2m.5-6.4v5.9m0-13.1v1.9m0-9.8v3.6m0 12.3v3.5m.4-3.5v4.6m0-7v5.7m0-20.1v6m0 11.5v3.6m.5-5.6v4.4m0-5.7v5.3m0-10.5v7.4m0 1.7v4.3m.4-5.7v4.7m0-7.8v4.8m0-7.2v4m0-13.2v3.5m0 12.7v4.2m.5-5.6v5.4m0-6.4v1.8m0-7.3v6.9m0-15.6v3.9m0 12.5v4.1m.4-4.6v4.6m0-5.9v4m0-8.2v5.8m.5-.7v4.4m0-5.5v4.3m0-7.1v3.3m0-13.3v5.7m.4 8.3v4.3m0-4.3v3.9m0-6.2v3.7m0 .5v3.3m.5-6v6m0-4.4v3.5m.4-6v3.2m0 .7v3m0-19.1v4.1m0 12.3v1.8m.5-7.8v4.9m0-1.5v4.9m0-18.3v2.1m0 12.9v3.7m.4-6.4v4.9m0-2.6v2.9m0-5.1v3.7m0-15.9v2.4m0 9.8v6.3m.5-6v4.1m0-2.3v3.6m0-4.1v4.7m0-17.8v3.8m0 9v2.9m.4-4.4v5.3m0-2v3.2m0-3.7v3.7m0-20.4v5.8m0 10.4v3.8m.5-9.6v4.6m0 4.5v.9m0-1.8v1.8m0-18.5v2.6m0 9.9v4.3m.4-6.5v5.1m0 .2v2.9m0-30.4v5.5m0 4.9v3.7m0 10.3v3.8m.5-6v3.6m0 1.7v2.9m0-31.4v6.1m0 5.4v4.9m0 11.1v3.3m.4-7v3.4m0-18.7v4.1m0-12.3v5.7m0 7.4v2.3m0 9.5v6.2m.5-6.8v3.7m0-14.9v3.6m0 9.7v4.7m.4-7.4v5.6m0-24.1v5.4m0 13.4v5.5m.5-5.2v5m0-29.9v6.7m0 16.3v5.7m.4-3.7v3.1m0-21.3v5.5m0 9.7v5.7m.5-2.8v4.8m0-31.4v7m0 18.1v3.7m.4-1.7v2m0-30v3.5m0 21.4v5.5m.5-3.4v3.2m0-30.9v5.1m0 2.1v5.1m.4 13.6v4.2m0-6v6.1m.5-6.5v6m.4-1.9v3.8m0-7.4v7.1m.5-34.1v6.5m.4 23.4v4.7m0-34.5v4.9m0 1.4v4.3m.5 20.7v4.8m0-35.3v2.6m.9-5.2v5.6m0-.4v4.4m0 6.3v5.8m.4 8.6v5.3m0-29.7v4.5m.5 2v5.3m0-17.8v1.3m0 2.9v4.2m0 11.4v3.3m.4-10.4v4.8m0 16.7v5.1m0-35.4v4.9m0 10.9v4.2m.5 9v2.2m0-1v5.5m0-35.2v3.3m0 13.7v4.4m.9 6.1v5m0-33.9v5.5m.4 23.3v4.1m0-30.9v2.4m0 16.7v2.7m.5 4.8v5.6m0 1.6v.8m0-34.7v3.3m.4 24v5.2m0-26.1v4.2m0 21.7v2.4m.5-8.6v4.6m0-10v3.5m.4-27.1v3.7m0 9v3.7m0-17.5v5.4m0 19.3v6.9m.5-5.2v5.7m.4 2.2v4.3m0-37.4v3.9m0-6v2.4m.5 0v5m0-7.4v4.7m.4-4.7v3.6m0 27v4.9m.5-31.8v2.9m0 22.8v3.7m.4-32.6v2.4m0 26.3v5.9m.5 4.7v-.2m0-36.6v3.2m0 4.8v4.8m.4 15.8v4.1m.5-32.6v4.2m0 25.2v3.1m.4-32.2v3.7m.9 9.1v2.9m0-16.6v3.3m0 4.4v4.2m0-14.4v-.1m0 36.2v3.5m.5-39.1v5.5m0 30.3v3.1m.4-23.9v2.9m0-13.3v5.5m0 26.1v2.4m.5-23.8v3.8m0-16.9v2.9m0-2.2v6.2m0 28.6v1.9m.4-23.8v4.7m0-19.1v3.2m0 30v3.4m0-.2v1.8m.5-24.7v3.5m0-17.9v6.5m.4 6.1v6.4m0-10.1v5.4m.5-1.2v3.8m0-15.7v4.1m0 4v5.1m.4-1v4.8m0-14.2v2.7m0-6.8v5.6m0 4.6v3.2m.5.4v4.4m0-16v3.2m.4 7.1v2.2m0-11.7v3.4m0-6.8v2.9m0 31.7v3.9m0-25.7v3.2m.5-15.5v2.7m0 32.1v4.3m0-27.7v4.9m.4-16.8v1.3m0 30.3v4.4m.5-25.5v5.9m0-12.5v2m0 26v5.3m.4-33.3v5.1m0 13.2v4.4m0 5.9v6.7m.5-29.4v4.3m0 8.9v3.2m0 6.5v3.7m.4-31.4v3.3m0 12.9v5.6m0 7.2v4.5m0-26.4v4.1m.5-4.3v2m0-10v5.6m0 10v6.3m0 7.5v3.3m.4-27.9v6.6m0 18.8v3.2m.5-28.8v3.7m0 7.3v6.1m0 8.4v4.7m.4-31.4v4.7m0-8.1v3m.5 1.4v2.3m0 8.2v3.4m0 14.3v2.3m.4-30.9v3.9m0 6.1v5m0 12.6v3.6m.5-19.9v1.9m.4-13.1v5.5m0-2.4v2.2m0 4.5v4.1m0 14.6v2.7m0-36.2v5.7m.5-.1v4.8m0 24.5v1.7m0-38.2v4.6m.9-.4v3.2m0 3.2v5.2m0-3.5v6.1m0 16.3v3.5m.4-26.8v6.5m0 7.2v3.8m.5-15v3.1m0 5.2v6.7m0-28v5.3m.4-3.8v3.3m0 7.6v3.9m0 5.5v6.8m.5-9.7v3.8m0-11.1v1.5m0 7.5v4.7m.4-18.7v5.2m0 8.8v3.2m0-14.4v5.9m0 4.3v6.7m0-22.9v2.6m.5 1.3v3.9m0 9v5.3m0-3.5v4.3m.4-4v1.8m0-4.4v6m.5-18.6v2m0 10.6v4.6m0-21.5v5m.4 13.3v2.7m0-16v5.3m0 5.9v5.8m.5-21v3.7m0 15.3v3.7m0-18.7v4.6m0 5.9v4.7m.4-2.3v4.3m.5-22.7v6.8m0 14.9v3.8m0-11.3v4.4m.4 1v2.7m0-19.4v4.6m0 5.6v5.3m0-9.2v4.9m.5 5.7v2.3m0-10.3v5.2m0-8.9v5.4m.4 6.7v4.3m0-17.2v5m.9-16.7v6.2m.5 22.5v4.3m.4-33.2v3.1m0 25v4.4m0-18.6v4m.5-17.9v3m0 26.6v6.1m.4-35.7v4.1m0 26.8v3.5m0-25.5v5.8m.5 15.7v3.9m0-32.7v5.9m.4 25.9v6.2m0-7.7v3.7m.5-1.2v5.1m0-7.2v3.7m0-27.8v5.9m.4 20v4.9m0-7.1v6.5m0-28.6v2.4m.5 21.8v4.7m0-5.6v3.7m0-26.4v2.2m.4 20.5v6.5m0-7.3v6.7m0-37.3v2.5m.5 29.4v5.3m0-5.3v4.1m0-15.5v5.4m.4 5.7v4.2m0-.6v1.5m0-33.4v4.3m.5 25.3v5m0-5.5v5.5m0-17.7v5.3m0-22.9v3.1m.4 27.2v3m0-1.3v3.2m0-34.2v5.5m.5 24.3v4.1m0-4.7v5.1m0-37.6v5.9m.4 27v2.7m0-16.3v1.8m0-23.1v5m.5 15.2v4m0-24.2v5.4m0 1v3.9m.4 22.6v4m0 .8v1.9m0-39.6v1.9m0 3.2v3.8m.5-8.9v2.9m0 1.3v1.8m.4 29.3v2.5m0-19.3v5.8m0-22.1v6.8m.5 24.1v3.5m0-30.6v3.9m0 7.3v5.6m0-22.8v1m.4 14.6v2.3m0-17v3.2m.5 28.3v3.4m0-32.7v3.1m.4 26.9v3.5m0-21.2v5m0-20.4v3.6m.5 26.4v4.7m.4-31.9v4.1m0 11.4v4m0-7.3v7.2m.5-19.2v3.2m0 10.2v4.9m0-21.3v2.3m.4 20.3v3.3m0-23.4v3.8m0 12v4.1m0-6.5v4.1m.5-20v2.3m0 18.8v4.5m.4-.8v3.1m0-8v3.1m0-7.6v5.6m0-20.7v2.7m.5 21.8v2.5m.4-4.4v3.2m.5-1v4m0-12.6v6.2m0-21.7v2.4m.4 8.5v2.6m0-.9v4.4m0-17v2.1m.5 11.4v2.3m0 .4v5.3m.4-10.4v3.4m0-15.5v2.6m.5 24.1v4.3m0-31v1.8m.4 22.9v4.7m0-22.4v6.4m0-13.4v0m.5 7.3v4.1m0 2.2v4.5m0-3v4.2m.4-12.4v5.2m0 .9v2.1m0-.3v4.4m0 14v5.4m.5-3.8v3.5m0-31.8v2.9m0 1.6v6.8m0-5.8v4.3m0 15.4v3.6m.4-27v4.4m0-1.8v5.3m0-1.1v3.6m.9-14.1v4m0 8v3.1m0 13.3v3.7m.5-28.1v5.2m0 2.6v2.3m0 14.8v2.4m.4-6.1v3.3m0-22.4v3.2m0 1.9v6.2m.5-4.1v2.1m0 12.9v5.1m.4-30.5v7.5m0 3v2.8m.5 6.1v5.9m0-23.8v3.3m0-5.4v4m0 20.8v5.5m.4-11.5v7m.5-25.6v5.8m0 19.5v3.7m.4-26.1v3.8m0 18.2v3.6m0-6.9v4.7m.5-9.9v4.8m0-20.4v3.8m0 21.9v1.4m0-5.9v5.6m.4-13.4v6.2m0-19.2v4.3m0-6v5.3m0 18v4.7m.5-26.2v3m.4-4.1v6.5m0-6v4.1m0 15.4v1.8m.5-22.8v6.3m0-4.1v4.5m.4 7.9v5m0-19.3v4.9m0 18.4v5.2m0-28.6v5.6m.5-5v7m0 16.8v6.6m0-29.8v2.7m.4-3.2v3.9m0-6.6v6.4m.5-1.9v3.4m0-5.7v1.8m0 12.7v3.2m.4-14.8v2.5m0 18.8v5.6m0-31.4v3.7m.5.8v4.1m0-9.5v3.4m0 24.1v3.5m.4-25v4.9m0 16.1v2.9m0-16.1v4.2m.5-21.6v5.2m0-1.8v3.6m.4 21.3v4.4m0-31.2v3.7m.5 5v2.7m0-13.5v3.9m0 25.2v3.6m0-30.6v6.1m.4-4.7v1.8m.5 5.4v2.8m0-12.9v3.4m0 24.8v3.1m0-28.6v3.9m.4 19.7v5m0-31.4v5.6m.5 3v4.5m0-13.4v5.2m0-5.4v6.6m.4-5.6v4.3m.5 3.7v4.6m0-10.6v3.8m0 13.4v3.2m.4-22.9v4.3m0-1.2v4.6m0 8v6.5m.5-12v7.1m0-14.3v2.6m.4-6.1v3.5m0 21.6v4.7m0-28.4v5.8m.5 4.2v3.7m0-15.1v5.4m.4 3.4v4.8m0-4.9v3.4m0-12.1v5.1m.5 5.2v4.4m0-5.8v3.5m0 14.3v3.3m0-24.6v3.9m0-9.3v3.5m.5 6.5v4.2m0 12.2v2.5m0-24.9v4.9m.4-3.2v6m0 13.5v5.4m0-30.6v3.7m.5 2.1v5m0 17.5v2.8m0-31.1v2.4m.4 23.3v6.5m0-5.5v4m0-30.7v1.5m.5 4.9v3.2m0-1.3v4.3m0 15.6v2m0-30.2v3m.4 5.5v2.7m0-4.7v6.4m0 15.3v2m0-2.5v3.3m.5-22.7v4.8m0-8.2v7.4m0 14.5v5.2m0-32v2.4m.4 24.8v2.2m0-29.4v2.4m.5 4.9v4.5m0 12.4v4m0-28.2v1.8m.4 2.7v4.5m.5-5.1v4.3m0-2.7v2.7m0 25v4.1m0-11.8v3.9m.4-22.9v3.7m0-5.7v5.4m0 21v4.9m0-13.2v3.9m.5-22.2v4.4m0 19.7v4.9m0-31.7v3.2m.9 18.5v3.9m0-27.2v3.6m.4 5.1v3.7m0-7.8v4.7m0 16.8v5m0-10.2v5.6m.5-19.8v5.4m0 9.7v5.4m0-27.2v2.2m.4 17v4m.5-9.2v4.5m0-12.4v7.4m.4-2.6v7.1m0-9.3v5.1m0 7.2v4.3m.5-11v4.9m0-9v4.5m0 5.3v5.4m0-8.4v4.8m.4-7.1v4.5m0 1.1v4m.5-5.8v2.8m0-8.4v1.6m0 4.5v3m0-4v5.2m.4-5.2v6m0-6.1v4.8m.5 11.9v4.4m0-20.8v3.8m.4-22v.9m.5 34.7v4m0-2.1v2.1m.4-16.5v6m0 7.6v2.9m0-26.9v3.4m0-16.1v3.8m.5 20.4v6.3m0 4.7v3.3m0-24.8v4.2m0-17.9v1.8m.4 26.8v1.7m0 5v4.3m0-28.5v4.3m0-15.4v2.5m.5 31.5v5.6m0-2.6v2.5m0-29.3v5.2m.4 12.7v5m0 1.3v3.7m0-3.1v4.6m0-30.2v5.3m.5 12.7v5.1m0-23.4v4m.4 19.3v5.4m0-28.1v4.1m.5 14.6v5.1m0-2.6v6.9m0-27.6v2.5m0-11.5v4.3m.4 32.1v2m0-36v3.4m.5 29.6v3m0-9.9v5.2m0-25.6v6.1m.4 23.7v.5m0-8.1v4.3m0-27v4.6m.5 17.9v4.4m0 2.8v1.1m0-11.1v5.8m0-32.7v5.7m.4 25.2v2m0-30.1v2m.5 26v5.1m0-11.2v4.7m.4-4.2v5.1m.5-27.9v4.3m0-2.8v1.7m.4 30v2.4m0-36.9v4.4m0-3.5v5.3m.5-6.5v4.3m0 27.3v5.2m0-33.2v3.9m.4 28.3v1.4m0-34.5v2.8m.5-1.8v2.9m.4-3.7v2.9m.5 9.1v3.9m0-7.7v4m0 18.8v3.3m0-35.2v6.1m.4 6.5v3.5m0-4.9v3.6m.5-2.2v2.2m0-15.2v5.9m0 6.6v4.2m.4-4.9v1.8m0 19.1v2.9m.5-25.5v5.9m0-.6v1.9m0 .4v3.8m.4-4.7v4m.5-7.9v3.6m.9-4v2.2m0 1.7v3.7m0 9.9v5.1m0-16.1v2.4m.4-2.5v5.2m.5-8.6v5.3m0 10v4.3m.4-19.3v6.1m0-1.6v3.2m.5-5.7v4m0-21.8v3.6m0 12.4v5.3m0-8.5v5.9m0 .6v5.8m.4-7.3v4.9m0-20.5v2.3m0 9.7v6.4m0-.7v2.3m.5-3.7v4.1m.4-2.6v4.4m.5-22.4v3.8m0 11.8v5.7m0-7.6v4.4m.4 1v3.6m0-6.2v4m0-6.8v4.4m0-5.4v4.9m.5-2.2v3m.9-11.4v4.4m.4-1.8v3.9m0 4.3v4.4m0-6.9v5.6m.5-4v4.8m0-13.3v3.4m.4 16.6v3.5m0-17.2v4.5m.5-10.7v5.4m0 13.3v4.6m0-11.5v4.9m0-8.6v4m.4-13.8v4.5m0 3.4v6.3m.5-2.4v5m0 .8v6.4m.4-11.5v5.4m0-.7v5.5m0-7.9v4.7m0-9.4v2.8m.5 1.2v2.2m0 2.6v6m0-10.3v4.9m0-10.9v5.9m.4-12.8v4m0 14.9v1.7m0-13.8v5.5m.5-.1v4m0 .7v3.7m0-14.9v5.1m.4 2.3v4.7m0-18.3v4.7m0 14.6v4.6m0-18.6v6m.5 2.9v7.4m0-19v4.1m0 8.8v5.2m0-3.3v5.2m0-15.9v3.7m.4-22.1v3.5m0 10.4v5.1m0 9.8v6.6m.5-36.9v6.8m0 8.7v4.5m0 12.1v2m0-2v4.9m0-19v5m.4-20.4v3.9m0 10.9v4m0 13.7v3.7m.5-22.9v6.9m0 7.7v5.3m.4-18.8v5m0 10.3v2.2m0 .9v3.1m.5-37.4v6.1m0 10.1v3.5m0 10.9v4.8m0-17.3v3m.4 11.6v2.1m.5-33.1v3.2m0 11.7v3.3m0 11.1v4.5m0-18.4v1.7m.4-19.4v6.3m0 11.1v4.3m0 12.4v3.6m0-28.4v2.8m0 2.4v5.2m.5-16.4v3.2m0 9.8v6m0-12.3v3.6m0 7.5v4.3m.4-22.1v3.3m0 2.5v1.9m0 10.4v4.2m.5 9v3.7m0-30v4m0 7.6v3.8m.4-7.5v4.3m0 12.7v5.1m0-30.8v5.5m0 6.7v3.1m.5-6.6v5.7m0 12.2v4.2m0-16.2v3.8m.4-10.7v6.4m0-5.1v5.6m0 11.3v4.9m0-30v2.9m.5 6.7v4.4m0 10.3v5m0-16.7v4.8m.4-8.8v2m0-10.3v4.4m.5 7.6v3.6m0 8.2v5.9m.4-19.4v5.5m0 11.1v2.4m.5-18v4.9m0-15.7v3.9m0 9.1v3.9m.4-9v2.6m0 1.3v3.2m0 9v4.8m0-27.9v4.3m0 6.9v3m.5-10.3v7.2m0 .5v2.9m0 10.1v3.7m.4-24.8v4.6m0 3.3v5.2m0 8v3.7m0-16.6v2.8m.5 10.9v2.9m.4-23.8v2.4m0 19v2.4m0-18.1v2.9m.5-.1v2.5m0 12.5v.3m0-27.1v5.3m.4 7.3v3.6m0-15.2v1.5m.5-2.9v5.8m0-3.7v4.8m0 1.3v3.3m.4-5.7v3.8m0-.3v2.5m.5-11.7v5.2m0 17.2v2.5m0-18.9v3.4m0-2.2v5.6m.4-9.5v6.1m0-12.5v6.5m0 4.7v4.1m.5-10.3v4.4m0-11.6v4.3m0 11.1v1.8m.4 7.7v5.4m0-14.6v2.8m.5-16.9v4.9m0 18.5v3.3m0-26.3v4.2m0 9.4v3.3m.4-14.9v3.7m0 14.1v5.1m0-22.3v1.6m0 8.7v5.4m.5-18.4v5m0 18.3v2.1m0-22.1v2.8m0 8.2v3.6" fill="none" stroke="#000" stroke-width="0.6" stroke-opacity="0.9"/><path d="M81.7 324.9v27.9m3.2-38.5v15.2m17.1 3.3v20m4.9-19v19m15.3-11.3v8.3m2.7-21v24m2.7-19.7v19.7m.5-28.8v12.3m4.5-14.7v31.2m.9-26v19m2.7-24.1v31.1m.9-33v17.2m2.7 6.8v9m8.9-29.8v22.8m6.3-15v22m1.8-25.6v25.6m4.1-13.5v13.5m1.3-31.3v26.3m2.7-16.4v15m2.3-24.8v26m2.2-27.1v12.3m11.3 1.8v13m15.3-6.3v11.5m26.5-23.6v19.9m17.6-35.3v21.6m.4-17v24.7m42.8-9.5v11.5m32.8-23.7v30.5m15.8-15.2v16.1m1.8-11v11m6.7-28.4v8.2m6.3-15.8v22.7m10.4-11v14.6m1.8-12v21.7m9-15.9v15.9m5.4-36.4v14.8m15.3-5.3v26.9m4.9-19.2v9.2m3.6-1v11m7.2-15.4v15.4m5.9-36.9v29.4m8.5-14v9m2.7 4.2v8.3m3.2-14.4v14.4m1.8-28.7v23.9m48.1-19.2v24m6.3-29.9v17.1m1.8-21.9v25.5m10.4-8.8v18m9.4-9.2v9.2m14-14.5v9.6m3.1-32.9v25.6m9.5-1.4v13.6m6.3-15.4v15.4m20.2-17.9v17.9m23.9-33.9v22.8m16.2-18.5v27.5m9-15.2v17.3m5.4-23.8v23.8m3.2-29.8v29.8" fill="none" stroke="#000" stroke-width="0.7" stroke-dasharray="0.8 1.2"/><path d="M60 317.9l4.3 0 2.1.7.7 5.7.3 12.8 4 .8 5.7.7 4.3-.3 7.2-.4 7.1.4 7.2.3 7.1.4 7.1.3 7.2 0 7.1 0 7.6 0 .3-10.7.4-9.3 6 0 7.2-.3 7.1-1.9 14.3.8 14.3.2.7.5.4 19.3 7.4 0 .5-20 5.3-.5 7.1.5 7.1-.5 7.2-.3 7.1 1.5 7.2 1.4 7.1-.7 14.3-1.4 14.3 0 11.4.4 2.9 1 14.3-.4 14.2-.3 14.3-.3 14.3 1 7.2-.4 7.1-.3 14.3.7 14.3 0 14.3-.4 14.2-.3 14.3-.3 10 0 .3 6 .3 13.6 6.6 0 4.3.2 7.1-.2 7.1 0 7.2 0 7.1.2 7.2 0 7.1 0 7.2 0 2.1-.2.4-13.6.3-5 4.3-.4.3 5.4.4 12.8 6.4 0 3.6 0 .4-12.8.3-6.4 10 0 14.3.7 14.3 0 7.1-.7 7.2-.5 7.1-.3 7.2.3 7.1-.3 7.2.3 7.1.5 7.1 0 7.2-.5 7.1-.5 7.2-.5 7.1 1 7.2.9 4.2.6" fill="none" stroke="#f4b62a" stroke-width="1.55" stroke-linejoin="round"/><path d="M60 319.3l4.3 0 4.3-.4 4.3-.6 4.2-.4 3.1 0 .6 19.2 2.1.3 12.8 0 7.2.7 7.1.5 7.1-.5 7.2-1 8.6-.4.6-19.6 3.6-1 8.6 1 14.3.8 7.1.4 7.2.6 7.1.4 7.2.3 7.1 0 7.2-.3 7.1-.4 7.1-.6 7.2-.4 7.1 1 7.2.8 7.1-.4 7.2-.4 7.1.4 14.3 0 14.3 0 14.3-.4 14.2-.6 14.3 0 14.3 0 7.2-.4 7.1-.8 7.1 2.2 7.2.4 14.3-.8 14.3 0 14.2-.3 14.3-.3 14.3.3 7.2-.7 7.1-.8 7.1.8 7.2 0 7.1-.5 1.5.5.4 9.2.3 10 5 0 .4-10 .3-10 6.4-.7 7.2 1.5 7.1.4 7.1-1.9 4.3-.7 2.9.3 7.1.9 7.2.5 7.1.5 7.2.4 7.1-.4 7.1-.5 7.2-.5 7.1 1 7.2.4 7.1-.4 7.2.4 7.1.3 7.1.3 7.2-.6 7.1-.4 7.2-.5 7.1 1.2 7.2.3 4.2.4" fill="none" stroke="#1b8bd5" stroke-width="1.75" stroke-linejoin="round"/></g>
<g clip-path="url(#c8)"><path d="M60 370.2l.7.2.7.4.7-.7.7.2.7.1.7 0 .7-.3.7.6.7-.1.7.1.7-.1.7-.2.7-.4.7.5.7-.5.7.1.7-.2.7.3.7-.3.7.2.7-.5.7.1.7-.1.7 0 .7-.6.7.5.7-.2.7.7.7.1.7-.4.7.7.7-.5.7.4.7.4.7.8.7-.3.7 1.2.7 1.1.7-.9.7.3.7-.5.7 0 .7-.4.7-.1.7.3.7-.7.7.5.7-.8.7-.2.7.5.7-.7.7.2.7-.7.7.3.7-.1.7-.2.7-.9.7 0 .7-.3.7-.4.7-2 .7-1.8.7 2.4.7 2.2.7 1.9.7 1 .7-.5.7.2.7 0 .7-.6.7.2.7-.6.7.3.7 0 .7.9.7-.2.7.4.7.2.7.5.7.4.7 1.1.7 0 .7.2.7-.1.7 0 .7.3.7.3.7-.4.7-.3.7-.2.7-.6.7 0 .7-.5.7 0 .7-.6.7.5.7.8.7.4.7-.2.7.1.7.5.7-.3.7-.4.7.3.7.6.7-.5.7.5.7.1.7-.6.7 0 .7.6.7 0 .7 0 .7-.1.7.3.7-.7.7.3.7-.3.7.6.7 0 .7-.4.7.1.7-.1.7.5.7-.3.7-.3.7.5.7-.7.7.4.7.1.7-.6.7 0 .7-.3.7 0 .7.2.7-.3.7-.6.7.1.7-.8.7-1 .7-.9.7.5.7-.7.7-.3.7.3.7.4.7-.2.7-.1.7 0 .7.1.7-.9.7-.1.7.2.7-.3.7-.2.7-.1.7-.2.7 0 .7-.9.7-.8.7.4.7.3.7.5.7.8.7 0 .7.6.7.8.7.5.7.1.7-.5.7.1.7.2.7.8.7 0 .7.1.7.3.7.5.7-.1.7.7.7-.1.7-.1.7 0 .7-.5.7.5.7-.8.7.4.7.2.7-.4.7-.3.7.4.7.2.7-.1.7-.7.7 0 .7.6.7-.5.7.8.7-.1.7.3.7-.5.7.5.7-.1.7-.2.7.1.7.4.7-.3.7.3.7-.4.7.4.7-.2.7.4.7.5.7-.7.7.7.7-.5.7 0 .7.6.7-.3.7.2.7.3.7-.1.7.5.7-.3.7-.4.7.7.7-.1.7-.5.7 0 .7 0 .7.2.7-.1.7-.2.7.4.7.1.7-.3.7-.3.7.4.7-.5.7.6.7.3.7.1.7-.4.7.1.7-.2.7.5.7-.3.7-.1.7-.4.7.3.7-.1.7.3.7-.6.7 0 .7.1.7 0 .7 0 .7.5.7-.2.7-.4.7.2.7.2.7.2.7-.5.7 0 .7.2.7-.4.7.1.7.3.7.3.7-.5.7.5.7-.1.7.1.7-.5.7.7.7-.5.7.6.7-.1.7 0 .7-.4.7 0 .7-.2.7.2.7.5.7-.8.7.4.7.1.7-.2.7-.3.7.4.7-.5.7 0 .7.7.7.1.7-.5.7.2.7-.4.7.2.7-.2.7.2.7.2.7-.3.7.2.7-.1.7.6.7-.7.7.3.7-.4.7.4.7 0 .7.1.7.1.7 0 .7-.2.7-.2.7-.2.7.1.7.5.7 0 .7-.1.7.3.7-.7.7.2.7-.1.7.3.7.4.7-.9.7.4.7-.3.7-.7.7-.1.7-.2.7 0 .7.2.7 0 .7.5.7-.1.7.2.7.2.7.1.7-.3.7.3.7-.6.7.5.7.4.7-.6.7-.1.7 0 .7.3.7-.1.7.1.7-.3.7.7.7-.5.7 0 .7-.2.7-.1.7.5.7.1.7-.6.7.9.7-.8.7.5.7.1.7-.3.7.2.7.2.7-.1.7-.4.7-.2.7.5.7.4.7-.5.7-.3.7.1.7.3.7 0 .7.1.7 0 .7 0 .7.4.7-.1.7-.6.7.2.7.2.7.3.7-.7.7.7.7.1.7-.8.7.5.7-.4.7.2.7 0 .7-.4.7.2.7.5.7 0 .7.2.7 0 .7-.7.7.2.7-.2.7.2.7-.3.7.3.7-.3.7-.7.7-.5.7-1.2.7-1.1.7-1.3.7-.4.7-.9.7-.7.7.3.7.1.7.4.7.3.7-.6.7.3.7-.4.7-.2.7.1.7-.5.7.4.7-.1.7.1.7.2.7.1.7-.1.7-.3.7-.3.7-.7.7-.2.7.4.7-.2.7.4.7 0 .7-.2.7-.4.7-.8.7.9.7 1.2.7 1.9.7-.3.7.6.7-.3.7.1.7 1.3.7 0 .7.7.7.5.7.5.7.1.7-.4.7.4.7-.2.7.3.7.5.7 0 .7.5.7-.2.7.8.7.3.7.1.7.1.7.1.7-.2.7.8.7-.4.7-.2.7.5.7-.5.7-.3.7.3.7-.5.7.7.7-.7.7.2.7.6.7-.2.7.2.7-.4.7.2.7-.4.7-.1.7.5.7-.5.7.2.7 0 .7.3.7 0 .7 0 .7.2.7.1.7-.4.7-.2.7.3.7.4.7.1.7-.4.7-.3.7-.2.7.6.7-.4.7.1.7-.5.7.4.7-.5.7-.1.7-.2.7-.7.7 0 .7-.7.7.5.7-.8.7.3.7.2.7-.1.7.1.7-.6.7.4.7-.4.7.6.7-.4.7-.2.7.4.7.3.7-.6.7.4.7.4.7-.7.7.7.7.2.7.2.7-.2.7 0 .7 0 .7-.2.7.6.7-.9.7-.2.7-.2.7.3.7-.4.7-.2.7-.4.7.3.7-.6.7.2.7 1.1.7 1.1.7.1.7-.3.7 0 .7.8.7-.4.7.7.7-.6.7-.1.7.4.7.1.7.4.7-.7.7 0 .7 0 .7.6.7-.3.7-.4.7.2.7.3.7.3.7-.5.7.2.7.3.7-.2.7.4.7-.4.7.7.7-.7.7.1.7.5.7-.4.7.2.7.2.7-.2.7-.4.7-.5.7.1.7.2.7.1.7-.5.7.4.7.1.7-.3.7.5.7-.7.7.5.7-.1.7 0 .7-.2.7 0 .7.3.7-.5.7-.3.7.1.7.4.7-.7.7.2.7-.4.7.8.7-.9.7.2.7.3.7-.8.7.7.7-.2.7-.1.7-.7.7.2.7-.3.7-.6.7-1.8.7-1 .7-1 .7.2.7.4.7-.6.7.8.7-.8.7.4.7.6.7-.1.7-.2.7.4.7.5.7-.1.7.3.7-.4.7.4.7 0 .7.5.7-.2.7.2.7.2.7.3.7.4.7.1.7-.7.7-.1.7-.5.7-.9.7.6.7.1.7.3.7 0 .7.3.7-.6.7-.4.7-.4.7-.1.7-.4.7.6.7.7.7-.2.7 1 .7-.2.7.8.7-.5.7.2.7.6.7-.4.7.3.7-.5.7.6.7-.3.7-.5.7.4.7.8.7-.1.7 1.1.7.5.7.6.7-.8.7.5.7-.3.7.8.7 0 .7-.5.7.1.7.2.7.2.7-.2.7-.4.7.2.7-.3.7.6.7.1.7-.9.7.3.7-.3.7.5.7-.4.7-.2.7.7.7-.3.7-.2.7.2.7.2.7-.3.7.7.7-.4.7.1.7.2.7.3.7-.4.7.3.7-.3.7-.1.7-.2.7 0 .7-.5.7.1.7-.6.7.2.7-.5.7.2.7-.7.7-.1.7-.2.7-.4.7.2.7-.1.7-.6.7-.1.7.8.7-.5.7.6.7.2.7-.7.7-1.1.7-6.9.7-1.5.7-1.7.7-.1.7.2.7.5.7-.3.7.5.7.2.7.3.7-.2.7.6.7.4.7-.1.7.9.7-.1.7.4.7.9.7.4.7-.2.7.8.7 0 .7 1 .7-.5.7.3.7.2.7.6.7.4.7 1.5.7 1.2.7.8.7.8.7.9.7.1.7-.2.7.7.7.5.7-.2.7.2.7.5.7-.2.7.2.7-.4.7.1.7-.1.7.5.7.4.7-.1.7-.1.7-.2.7.9.7-.6.7.2.7.7.7-.4.7-.1.7-.1.7.1.7-.3.7.4.7.3.7-.4.7 0 .7.3.7-.2.7 0 .7-.3.7.3.7-.2.7 0 .7.2.7-.3.7-.3.7.1.7.4.7-.8.7 0 .7.2.7-.7.7-.8.7.6.7 1.4.7 0 .7 0 .7.5.7 0 .7.1.7 0 .7 0 .7.1.7 0 .7-.3.7-.2.7.5.7-.3.7 0 .7 0 .7.3.7-.3.7-.2.7.6.7-.5.7.4.7.1.7.2.7-.4.7-.2.7.5.7-.1.7-.4.7-.2" fill="none" stroke="#5b6cc8" stroke-width="0.95" stroke-linejoin="round"/><path d="M60 373.8l.7-.6.7.5.7-.4.7-.2.7.2.7.3.7-.5.7-.3.7.7.7-.1.7-.5.7-.1.7.6.7-.7.7.1.7.5.7 0 .7-.7.7-.2.7.2.7.3.7-.4.7-.1.7.7.7-.1.7.1.7-.3.7-.4.7.7.7-.5.7.2.7-.1.7 1 .7 0 .7.3.7-.1.7 1.1.7.1.7.6.7-.1.7-.4.7-.3.7.1.7-.1.7-.2.7-.1.7-.4.7-.4.7.2.7-.6.7-.3.7.4.7-.6.7 0 .7-.2.7-.9.7-.4.7-.3.7-.2.7-.7.7-.7.7-.8.7 1.5.7 1.8.7.8.7 1.3.7-.2.7.8.7-.2.7 0 .7-.3.7-.2.7.4.7-.1.7.7.7 0 .7.4.7.4.7.2.7.6.7.3.7.3.7-.1.7.6.7.1.7-.2.7.3.7-.1.7-.2.7-.3.7-.2.7.1.7-.5.7-.4.7.3.7-.2.7.5.7.7.7 0 .7-.4.7.1.7 0 .7.2.7.2.7.5.7-.5.7.6.7-.6.7.2.7-.1.7.6.7-.8.7.2.7.6.7 0 .7 0 .7-.5.7.7.7-.3.7.1.7-.1.7-.2.7.2.7.1.7.2.7-.2.7-.2.7.2.7-.1.7 0 .7-.1.7-.1.7-.1.7-.6.7-.2.7-.4.7-.2.7.1.7.3.7-.7.7-.6.7-.8.7-.5.7.1.7.2.7-.7.7 0 .7-.2.7-.2.7.3.7.1.7-.1.7.1.7-.5.7-.1.7-.7.7-.3.7-.6.7-.5.7.4.7 0 .7.3.7.8.7-.3.7.9.7-.2.7.1.7.6.7.1.7-.3.7.6.7.2.7.1.7.1.7-.1.7.4.7 0 .7.5.7 0 .7-.3.7.3.7-.1.7.3.7.2.7-.2.7-.4.7.2.7-.4.7.6.7.1.7-.5.7-.1.7-.1.7.2.7.4.7.3.7-.6.7.4.7.3.7-.2.7.1.7-.4.7.2.7-.3.7.8.7.2.7-.5.7.1.7.4.7-.6.7.4.7.2.7.1.7-.2.7.7.7-.1.7 0 .7-.1.7.4.7-.3.7.1.7 0 .7 0 .7.6.7-.2.7-.5.7.2.7 0 .7.1.7.2.7-.4.7.4.7-.1.7-.2.7.2.7-.3.7.3.7-.2.7.5.7-.3.7 0 .7.5.7-.4.7.5.7.3.7-.5.7.2.7.3.7-.3.7.6.7-.2.7.2.7-.7.7.8.7-.5.7-.1.7.2.7.2.7-.4.7-.3.7.5.7.1.7.1.7-.3.7-.5.7.1.7.1.7-.2.7.8.7-.7.7.3.7.5.7 0 .7-.3.7.5.7 0 .7-.8.7.2.7.4.7 0 .7-.3.7.3.7-.2.7-.3.7.1.7.3.7-.4.7.7.7 0 .7-.5.7.4.7 0 .7.1.7-.4.7-.4.7.5.7.2.7.1.7-.2.7-.4.7 0 .7.5.7.1.7.1.7-.2.7-.6.7.1.7.5.7-.1.7-.2.7-.1.7.2.7-.5.7.2.7.3.7-.1.7-.2.7-.4.7.1.7 0 .7.6.7-.1.7-.8.7.2.7-.2.7.4.7-.3.7 0 .7.1.7-.7.7.3.7-.8.7.1.7.3.7.5.7 0 .7-.6.7.8.7-.2.7.1.7-.6.7.6.7-.1.7.2.7-.1.7.4.7-.4.7.1.7.4.7-.1.7-.2.7-.1.7.4.7-.6.7 0 .7.1.7.5.7-.6.7.7.7-.6.7-.1.7.3.7.5.7-.5.7 0 .7-.1.7.2.7.5.7-.7.7.8.7-.6.7.4.7.2.7-.1.7-.5.7.4.7-.2.7 0 .7 0 .7.2.7-.3.7.2.7.5.7-.4.7 0 .7.3.7-.2.7-.4.7 0 .7.5.7.1.7.1.7-.2.7-.4.7.1.7.2.7 0 .7 0 .7-.1.7 0 .7.5.7-.6.7.1.7 0 .7-.1.7-.7.7-.3.7-.1.7-.9.7-1.4.7-.9.7-.8.7-1.2.7-.4.7-.7.7.8.7-.6.7.4.7-.2.7-.1.7-.1.7.2.7-.3.7-.3.7-.2.7.1.7-.1.7.3.7.5.7-.6.7.2.7.1.7-.4.7-.3.7.1.7-.5.7.4.7-.1.7-.3.7.1.7 0 .7-.4.7-.1.7 1.4.7 1.7.7.1.7.1.7.1.7.7.7-.3.7 0 .7.9.7-.4.7.7.7.1.7.7.7.3.7-.6.7 1.1.7-.2.7-.1.7.3.7.5.7 0 .7.2.7.3.7.2.7 0 .7.9.7-.7.7.1.7-.1.7.3.7-.2.7.2.7-.1.7-.4.7.1.7.3.7-.2.7-.3.7.4.7-.1.7.3.7-.4.7.5.7-.1.7 0 .7.1.7-.1.7.7.7-.5.7-.2.7.2.7.2.7-.1.7-.1.7.4.7-.7.7.2.7.1.7.1.7.2.7-.7.7-.1.7-.1.7 0 .7.5.7 0 .7-.2.7-.2.7-.4.7-.3.7 0 .7 0 .7-.5.7.2.7 0 .7.2.7-.2.7-.6.7.4.7 0 .7-.2.7-.1.7.1.7-.2.7.4.7.3.7-.1.7 0 .7.3.7.1.7-.5.7.6.7-.4.7.2.7 0 .7-.1.7.3.7.2.7.1.7-.8.7-.2.7.3.7-.4.7-.2.7.2.7-.9.7.1.7 0 .7.6.7 1.1.7 0 .7.9.7-.6.7.6.7-.5.7-.1.7 0 .7.2.7.5.7-.6.7.6.7-.1.7 0 .7-.1.7-.4.7 0 .7.3.7-.9.7.3.7.2.7-.1.7.4.7-.3.7.2.7.6.7-.2.7-.1.7.9.7-.5.7-.2.7.4.7.2.7-.8.7.2.7-.2.7.5.7-.7.7-.2.7 0 .7-.1.7-.1.7.8.7-.5.7-.1.7.6.7-.9.7.1.7.5.7.1.7-.8.7.2.7-.2.7-.1.7.3.7-.3.7.1.7 0 .7.4.7-.2.7-.7.7.3.7-.3.7.1.7 0 .7-.2.7 0 .7.4.7-.8.7-.1.7.1.7-1.6.7-1.1.7-.5.7-.1.7 0 .7-.6.7.3.7-.1.7-.1.7-.3.7.3.7.1.7.3.7.5.7-.4.7.2.7 0 .7 0 .7.5.7-.2.7.7.7.1.7-.6.7.3.7.3.7-.2.7 0 .7-.9.7-.2.7.2.7-.4.7-.2.7.4.7-.5.7.6.7-.9.7.4.7.2.7-.6.7.4.7 0 .7.4.7.3.7.4.7.3.7 0 .7-.3.7-.3.7.7.7-.4.7.4.7-.5.7.5.7-.3.7-.1.7-.1.7.8.7 1.2.7 0 .7.7.7.8.7.3.7-.1.7 0 .7-.3.7.5.7-.2.7.5.7-.1.7 0 .7.2.7-.1.7.2.7.4.7-.6.7.1.7 0 .7.3.7-.3.7.5.7.3.7-.1.7-.5.7.5.7-.2.7-.5.7.1.7 0 .7.3.7-.5.7 0 .7.3.7-1 .7.6.7-.6.7.3.7-.3.7.2.7-.4.7-.2.7-.2.7.7.7-.2.7-.4.7.1.7-.1.7-.5.7-.2.7.2.7-.4.7-.3.7.2.7-.3.7.1.7 0 .7.1.7 0 .7.1.7-1.5.7-6.5.7-2 .7-1.5.7.4.7.6.7-.4.7.1.7.1.7.8.7-.5.7.7.7.1.7.3.7-.3.7.5.7.4.7.5.7.2.7 0 .7 0 .7.3.7.9.7 0 .7.7.7.3.7.9.7.3.7.7.7.5.7.4.7 1.4.7.4.7.9.7.7.7 0 .7.2.7.6.7-.4.7 1 .7-.3.7.1.7.2.7.8.7-.3.7.2.7-.2.7.4.7-.1.7-.1.7-.2.7.1.7.4.7.3.7-.4.7.3.7-.1.7.4.7-.6.7.4.7-.1.7.1.7-.1.7 0 .7.5.7-.1.7-.4.7.4.7-.2.7-.3.7-.1.7 0 .7.5.7-.5.7.7.7-.4.7 0 .7.5.7-.2.7 0 .7-.1.7.1.7 0 .7.2.7.3.7-.4.7-.2.7.7.7-.5.7-.1.7.4.7-.1.7-.1.7.3.7.2.7-.3.7-.3.7.3.7-.1.7.2.7.3.7.1.7-.3.7.3.7.1.7-.4.7-.2.7.1.7-.1.7 0 .7.3.7-.3" fill="none" stroke="#55c3ef" stroke-width="0.95" stroke-linejoin="round"/><path d="M60 375.6l.7 0 .7-.2.7.3.7.2.7-.7.7.7.7-.5.7.4.7-.1.7-.4.7.6.7-.8.7.1.7.2.7-.5.7.2.7 0 .7.4.7-.2.7.1.7-.1.7-.4.7.4.7.2.7-.4.7.1.7 0 .7 0 .7.1.7.1.7.2.7.2.7-.1.7.5.7.6.7.3.7.9.7.5.7.5.7-.1.7-.2.7.1.7-.7.7-.1.7-.5.7-.1.7 0 .7-.5.7-.5.7.4.7-.6.7.1.7-.8.7-.4.7.2.7-.7.7-.1.7-.3.7-.3.7-.4.7-1 .7-.6.7 1.7.7 1.8.7.7.7.2.7.3.7.4.7.1.7-.1.7-.3.7.3.7-.8.7.6.7.5.7.2.7 1 .7 0 .7.3.7.4.7.9.7-.2.7-.3.7.5.7-.6.7.7.7-.1.7-.6.7.7.7-.5.7.2.7-.4.7-.4.7-.2.7.2.7.3.7.3.7.3.7-.4.7.8.7-.6.7.4.7-.2.7 0 .7-.1.7.4.7-.3.7.3.7.3.7-.5.7.2.7.6.7-.5.7.5.7-.2.7 0 .7-.4.7.3.7.6.7-.7.7.7.7-.6.7.6.7-.6.7.4.7 0 .7-.5.7.2.7-.2.7.4.7-.7.7.2.7.3.7-.4.7.4.7-.1.7-.1.7-.2.7-.1.7-.6.7 0 .7-.5.7-1 .7.2.7-.5.7.5.7 0 .7-.5.7.4.7.1.7-.8.7-.2.7.7.7-.1.7-.5.7-.1.7-.3.7-.4.7-.3.7-.7.7 1 .7.3.7 0 .7 0 .7.2.7.2.7.4.7.1.7.3.7.1.7-.1.7 0 .7 0 .7.8.7 0 .7-.5.7.5.7 0 .7.1.7-.2.7.3.7-.1.7-.2.7-.3.7.4.7-.2.7.1.7-.1.7.4.7-.5.7.6.7-.3.7.4.7-.1.7.2.7-.5.7 0 .7.7.7-.5.7.3.7.2.7.2.7 0 .7-.1.7.2.7-.4.7.4.7-.3.7.4.7-.4.7.4.7-.3.7-.1.7.5.7-.1.7.1.7 0 .7-.4.7.2.7.5.7-.5.7.7.7-.8.7.2.7-.1.7.4.7.2.7-.1.7.2.7-.5.7.3.7-.3.7.2.7.1.7.1.7.6.7 0 .7-.6.7.7.7-.5.7.4.7.4.7-.6.7.3.7.1.7 0 .7-.4.7.4.7-.2.7-.1.7.6.7-.7.7.4.7.2.7-.3.7.1.7.4.7-.1.7-.2.7.1.7-.2.7.2.7-.5.7.7.7-.3.7-.2.7.6.7-.8.7.6.7.3.7 0 .7-.6.7.3.7.3.7-.3.7.2.7-.5.7.4.7-.1.7.2.7.2.7-.1.7-.3.7-.3.7.5.7-.9.7.4.7.3.7-.2.7-.5.7.3.7.4.7-.7.7.3.7-.2.7 0 .7.5.7.2.7-.5.7.4.7-.6.7.1.7.4.7-.2.7 0 .7-.2.7.2.7.3.7 0 .7-.2.7 0 .7 0 .7-.3.7.2.7-.6.7.2.7.2.7-.4.7 0 .7-.1.7-.2.7.8.7-.6.7.4.7-.4.7-.3.7-.1.7 0 .7.1.7-.6.7.1.7-.3.7.6.7-.1.7.1.7-.2.7.2.7.4.7-.3.7-.4.7.2.7.7.7 0 .7-.6.7.1.7.6.7-.4.7.1.7.1.7-.3.7.4.7 0 .7-.2.7.5.7-.8.7.4.7.1.7 0 .7-.4.7.2.7-.4.7.1.7-.1.7.3.7.5.7-.2.7-.4.7.6.7-.5.7-.1.7.8.7-.4.7-.3.7.5.7-.2.7.2.7.3.7-.3.7 0 .7.5.7-.6.7.3.7.2.7 0 .7-.5.7 0 .7.1.7.3.7-.2.7.7.7-.4.7-.1.7.4.7-.7.7.4.7.3.7-.4.7.3.7-.2.7-.1.7.4.7-.2.7-.2.7-.4.7.4.7-.8.7-.4.7.1.7-1.6.7-1 .7-.4.7-1.2.7-.7.7-.2.7-.2.7-.8.7.6.7-.3.7-.1.7.3.7-.7.7.4.7-.1.7-.4.7-.3.7.2.7 0 .7 0 .7.6.7-.5.7-.2.7.1.7.3.7-.1.7-.4.7 0 .7-.1.7-.2.7-.4.7.1.7-.4.7.1.7-.2.7 1.6.7 1.6.7-.2.7.4.7.5.7.5.7.5.7-.1.7 0 .7.6.7-.6.7.3.7.7.7-.4.7.1.7.8.7-.4.7.3.7.1.7.3.7.4.7.2.7.1.7.3.7.5.7 0 .7-.3.7.2.7.2.7-.1.7-.4.7.4.7 0 .7-.4.7.5.7-.3.7-.2.7.6.7.1.7-.7.7.3.7.1.7 0 .7.1.7.1.7-.1.7.3.7-.4.7.5.7-.6.7.1.7.2.7.4.7-.3.7.1.7.3.7-.2.7-.6.7.4.7-.3.7 0 .7-.1.7.3.7-.9.7-.1.7.5.7-.4.7-.2.7.5.7-.6.7-.1.7-.3.7.2.7.1.7-.5.7-.1.7-.1.7 0 .7.4.7-.5.7.5.7.3.7-.1.7-.4.7-.1.7.3.7.2.7-.4.7.4.7 0 .7.3.7.2.7-.3.7.3.7.1.7-.4.7-.2.7.5.7-.2.7-.5.7 0 .7-.1.7-.3.7-.3.7.3.7-.5.7.2.7-.6.7 1.3.7.5.7.1.7.8.7 0 .7-.3.7-.1.7.4.7-.2.7.6.7-.6.7.2.7.2.7-.5.7-.1.7-.2.7.2.7.2.7.1.7-.4.7.5.7 0 .7-.5.7.1.7.7.7-.3.7.1.7.6.7-.3.7.3.7.4.7-.1.7-.1.7 0 .7-.1.7-.2.7.1.7-.7.7-.4.7.3.7-.2.7.4.7-.3.7 0 .7-.3.7-.2.7.1.7.2.7-.4.7-.1.7.1.7.4.7.2.7-.3.7 0 .7-.7.7.7.7-.7.7.1.7.6.7-.4.7-.2.7.4.7-.4.7.2.7-.6.7.4.7-.2.7.2.7-.4.7-.3.7-.1.7-1.4.7-.5.7 0 .7.1.7-.7.7.6.7-.6.7.1.7-.2.7.2.7-.2.7.1.7.1.7.4.7-.1.7-.1.7.1.7-.2.7.7.7-.3.7.5.7-.2.7-.1.7.4.7.4.7-.1.7-.7.7-.4.7-.5.7.3.7-.5.7.3.7.3.7-.1.7-.7.7.3.7.3.7 0 .7-.6.7-.3.7.1.7.4.7.8.7-.1.7.5.7-.5.7.6.7-.5.7-.3.7.3.7.4.7-.3.7.3.7-.3.7-.4.7.9.7.6.7-.1.7 1.1.7-.2.7.4.7.1.7 0 .7.4.7.5.7 0 .7-.7.7.1.7.5.7-.4.7.4.7-.1.7.6.7-.5.7-.1.7 0 .7.3.7.1.7.2.7-.4.7.4.7 0 .7.3.7-.1.7-.3.7 0 .7-.1.7.7.7-.3.7-.1.7-.3.7-.2.7.3.7-.5.7.5.7-.5.7.6.7-.7.7 0 .7.2.7-.2.7-.3.7-.3.7.2.7.3.7-.5.7 0 .7-.4.7-.3.7.1.7.5.7-.6.7.2.7-.3.7-.1.7 0 .7 0 .7 0 .7-.8.7-5.3.7-1.5.7-1.4.7.2.7-.2.7-.1.7.5.7-.2.7.5.7.2.7 0 .7-.5.7.6.7 0 .7.1.7.3.7-.2.7.5.7.4.7.5.7-.3.7.4.7-.1.7.7.7.1.7.4.7 1.1.7.4.7 0 .7.5.7 1.4.7 1.2.7.4.7.2.7.3.7.6.7.5.7.1.7-.5.7.8.7-.4.7.4.7.6.7-.1.7.1.7.2.7.1.7-.4.7.5.7.1.7-.5.7 0 .7.2.7 0 .7-.1.7.1.7.4.7 0 .7 0 .7-.2.7-.1.7.6.7-.3.7.5.7-.5.7.4.7.1.7 0 .7-.5.7.1.7.4.7 0 .7.1.7-.2.7.2.7-.5.7.1.7 0 .7 0 .7.3.7 0 .7 0 .7.3.7-.1.7.2.7-.3.7.3.7-.4.7.6.7.1.7-.3.7-.4.7.2.7.1.7.5.7-.7.7.4.7-.1.7 0 .7.4.7-.4.7.1.7-.2.7.6.7-.3.7.2.7-.6.7.6.7 0 .7.1.7-.1" fill="none" stroke="#5fb552" stroke-width="0.95" stroke-linejoin="round"/><path d="M60 377.5l.7-.2.7.4.7.3.7 0 .7-.4.7.5.7 0 .7-.4.7.3.7 0 .7-.4.7-.4.7.4.7.4.7-.2.7-.1.7 0 .7-.6.7.5.7-.3.7-.2.7.4.7.2.7-.2.7.4.7-.5.7.5.7.1.7-.7.7.6.7 0 .7.5.7-.4.7.8.7 0 .7.4.7.7.7 1.2.7.6.7-1.1.7.4.7 0 .7-.4.7 0 .7-.7.7-.4.7.1.7-.4.7-.4.7.1.7-.2.7-.4.7-.3.7-.2.7-.9.7.5.7-.9.7-.2.7-.1.7-1.2.7.4.7-1.9.7 1.7.7 2.3.7.1.7 1 .7.2.7.2.7.5.7-.1.7-.4.7 0 .7-.1.7.8.7.3.7 0 .7 0 .7.4.7.3.7.3.7.9.7.1.7.2.7-.5.7-.2.7.2.7 0 .7-.1.7 0 .7-.2.7.6.7-.2.7-.1.7.1.7 0 .7.4.7-.5.7.5.7-.5.7.6.7.1.7.2.7-.2.7.1.7-.2.7.2.7-.3.7 0 .7.7.7-.1.7-.4.7.3.7.4.7-.1.7-.4.7 0 .7-.1.7.3.7.3.7.3.7-.2.7 0 .7.3.7 0 .7-.2.7-.4.7.4.7-.3.7-.3.7-.2.7.1.7.3.7.1.7-.1.7-.8.7 0 .7.6.7-.3.7-.1.7-.1.7-.4.7-.5.7-1.2.7.3.7-.2.7.6.7-.8.7.6.7-.4.7-.2.7 0 .7-.1.7.6.7-.5.7.1.7-.5.7-.3.7-.2.7.1.7-.4.7-.2.7.1.7.8.7.4.7-.1.7.2.7.2.7 0 .7-.4.7.7.7-.6.7.9.7-.3.7.2.7-.3.7 0 .7.4.7-.1.7-.1.7.4.7-.3.7.4.7 0 .7-.2.7-.1.7.2.7.2.7-.2.7.2.7-.2.7-.2.7.8.7-.2.7-.4.7-.1.7 0 .7.2.7.3.7.2.7-.4.7 0 .7.4.7-.1.7.1.7.1.7-.2.7 0 .7 0 .7.3.7-.3.7-.1.7-.2.7.9.7-.6.7 0 .7.4.7-.4.7.2.7.2.7.1.7-.2.7.1.7.2.7 0 .7.5.7 0 .7-.4.7.1.7.4.7.1.7-.4.7.7.7-.6.7.3.7-.1.7.4.7-.2.7-.3.7.4.7-.2.7.3.7-.3.7.1.7.2.7.2.7-.6.7.8.7-.2.7.1.7-.3.7-.3.7.5.7-.5.7-.1.7.9.7-.7.7.5.7-.2.7-.2.7.3.7-.3.7.7.7-.4.7.4.7-.7.7.5.7-.5.7.6.7.2.7-.8.7.8.7-.6.7.4.7-.3.7-.1.7.1.7.3.7-.3.7.3.7-.3.7.5.7-.3.7.3.7-.6.7-.3.7.1.7 0 .7.1.7-.3.7-.2.7.6.7-.2.7-.1.7-.2.7.4.7-.6.7 0 .7.2.7 0 .7.2.7-.3.7.5.7.1.7-.3.7-.6.7.3.7.1.7 0 .7.1.7-.1.7-.4.7.5.7-.3.7.2.7-.4.7.6.7-.7.7 0 .7 0 .7-.2.7.3.7.1.7.3.7-.4.7-.2.7-.2.7.5.7-.3.7.1.7-.7.7.2.7.4.7-.2.7-.5.7.1.7.7.7-.3.7-.2.7.4.7-.5.7.4.7 0 .7.4.7-.1.7 0 .7 0 .7-.3.7.2.7.5.7-.5.7.3.7.3.7-.8.7.4.7-.1.7.2.7-.1.7.2.7.3.7-.1.7.1.7-.4.7.3.7-.4.7.7.7-.1.7-.3.7.4.7-.2.7.2.7-.1.7-.6.7.2.7.5.7-.1.7-.2.7.3.7-.3.7.2.7-.4.7.8.7-.1.7-.1.7-.4.7.1.7 0 .7.5.7-.1.7.2.7 0 .7-.7.7.2.7.4.7-.2.7.2.7-.1.7-.3.7-.1.7.1.7.8.7-.6.7-.1.7.1.7-.4.7-.1.7-.2.7 0 .7-.5.7-.8.7-.9.7-.9.7-1.2.7-.1.7-1 .7.6.7-.4.7-.3.7.3.7-.6.7.2.7-.2.7.3.7.2.7-.4.7-.1.7 0 .7-.5.7.3.7.2.7.2.7-.3.7.2.7-.6.7-.1.7.1.7-.5.7.5.7-.1.7-.4.7-.1.7-.4.7-.2.7-.3.7 1.4.7 1.7.7 0 .7.8.7 0 .7.6.7-.2.7.8.7-.2.7.4.7-.2.7.7.7 0 .7-.3.7.5.7.5.7-.4.7.7.7-.3.7.1.7.7.7 0 .7-.5.7.2.7.5.7.2.7-.1.7.1.7.2.7-.8.7.7.7-.3.7 0 .7-.5.7.7.7-.8.7.3.7.5.7-.6.7.1.7-.1.7.8.7-.4.7-.2.7.1.7.5.7 0 .7-.5.7 0 .7.4.7-.2.7.2.7-.1.7.1.7.5.7 0 .7-.2.7.1.7 0 .7-.6.7-.2.7.6.7-.5.7.1.7-.1.7 0 .7-.3.7-.2.7.2.7-.5.7 0 .7-.1.7.2.7-.3.7-.1.7-.4.7.5.7-.5.7.1.7 0 .7.2.7.5.7-.2.7.1.7-.6.7.5.7.3.7-.5.7-.1.7 0 .7.7.7.2.7-.8.7.4.7.3.7-.6.7.1.7.1.7.4.7-.4.7.1.7-.7.7-.2.7.1.7-.4.7.5.7-.8.7.6.7.4.7 1 .7-.1.7.1.7.7.7.2.7-.7.7.7.7 0 .7-.5.7.3.7-.2.7.3.7-.6.7.4.7-.1.7-.6.7.2.7.1.7-.2.7.4.7-.2.7.4.7-.5.7.5.7.1.7-.1.7.3.7-.2.7.7.7 0 .7-.6.7.5.7-.3.7.1.7-.2.7-.1.7 0 .7-.3.7-.3.7.2.7-.3.7-.3.7.7.7-.4.7.3.7-.3.7.2.7-.7.7.3.7.3.7-.1.7.2.7-.5.7.1.7.2.7-.4.7.2.7 0 .7-.2.7.2.7-.1.7-.2.7-.3.7.6.7-.4.7 0 .7-.2.7.5.7-.8.7.2.7-.1.7-.6.7-.8.7-.7.7-.6.7.5.7-.5.7-.2.7.4.7-.1.7.2.7 0 .7 0 .7 0 .7.2.7.1.7.3.7 0 .7-.1.7.2.7-.7.7.9.7 0 .7-.1.7.2.7.3.7-.7.7.5.7-.3.7-.1.7-.1.7-.3.7.2.7-.6.7.2.7.2.7-.4.7-.5.7.3.7.3.7-.6.7.3.7.1.7.1.7.2.7.1.7-.3.7.6.7-.1.7-.2.7.3.7-.3.7.2.7.1.7.8.7.3.7-.3.7.5.7.6.7-.2.7.5.7-.3.7 0 .7.6.7.1.7-.7.7.2.7.8.7 0 .7-.4.7 0 .7.2.7.3.7-.6.7.8.7-.4.7-.2.7.2.7 0 .7.1.7-.3.7.3.7.6.7-.5.7.2.7-.1.7 0 .7.7.7-.3.7.2.7.1.7-1 .7.6.7-.5.7-.1.7-.1.7-.2.7.5.7-.6.7.4.7-.3.7.2.7-.6.7.3.7.1.7-.4.7.5.7-.3.7-.2.7.5.7-.6.7-.2.7.5.7-.6.7-.1.7.1.7-.2.7.1.7 0 .7-1.5.7-4 .7-.8.7-1.4.7.2.7-.4.7.4.7-.1.7.3.7-.1.7.2.7-.4.7.2.7-.1.7.3.7 0 .7.1.7.2.7.1.7.8.7 0 .7.2.7-.4.7.4.7.6.7 0 .7.6.7.7.7.3.7.1.7.6.7.7.7 1 .7.5.7-.2.7 1 .7 0 .7-.4.7.8.7-.1.7 0 .7 0 .7.4.7.3.7.2.7.4.7-.1.7-.5.7.1.7.6.7-.5.7.3.7.3.7-.1.7.1.7 0 .7.3.7 0 .7-.2.7 0 .7-.1.7.1.7.7.7-.2.7-.5.7.5.7-.2.7.4.7-.7.7.3.7.2.7.2.7 0 .7-.3.7-.4.7.8.7-.7.7.8.7-.2.7 0 .7-.2.7-.3.7.6.7-.6.7.5.7-.4.7-.1.7.7.7-.1.7-.1.7-.3.7.8.7-.1.7-.6.7.7.7 0 .7.1.7-.4.7.1.7-.4.7.8.7 0 .7 0 .7.1.7-.2.7-.4.7 0 .7.3.7-.4.7.7.7 0 .7-.1" fill="none" stroke="#a9d25a" stroke-width="0.95" stroke-linejoin="round"/><path d="M60 381l.7-.4.7.1.7-.5.7.6.7-.8.7.8.7-.6.7-.1.7.2.7.4.7-.2.7-.3.7-.5.7.3.7.1.7-.4.7.4.7.2.7 0 .7-.1.7-.6.7.3.7-.2.7-.1.7.8.7 0 .7-.2.7.4.7-.2.7 0 .7-.1.7.6.7.3.7 0 .7.6.7.1.7.7.7 1 .7-.2.7 0 .7-.4.7.2.7-.1.7-.5.7-.7.7-.3.7-.1.7 0 .7 0 .7-1.1.7.6.7-.8.7-.4.7-.2.7.3.7-.4.7-.8.7-.4.7-.5.7-.2.7 0 .7-.9.7 1.2.7 2.6.7 0 .7.8.7.5.7.2.7-.1.7 0 .7.4.7-.5.7.1.7-.2.7.9.7.3.7-.1.7.2.7.3.7 1 .7.2.7.5.7-.6.7.2.7 0 .7 0 .7-.7.7.6.7-.3.7.2.7-.2.7-.2.7-.2.7.7.7-.2.7.6.7-.7.7.5.7-.3.7 0 .7.6.7-.1.7-.3.7.2.7 0 .7-.3.7.4.7.2.7-.2.7.3.7.3.7-.6.7.4.7.2.7-.5.7.6.7-.1.7-.4.7.6.7-.6.7.6.7-.3.7.5.7 0 .7-.3.7-.2.7-.1.7.5.7-.6.7-.1.7.3.7-.1.7-.5.7.4.7.1.7-.7.7.5.7-.5.7.1.7.3.7-.7.7.1.7-1.1.7.3.7-.2.7-.2.7.8.7 0 .7-.2.7-.6.7.3.7-.3.7.4.7.1.7-.3.7-.5.7-.1.7-.3.7-.3.7-.2.7.7.7-.1.7.2.7.1.7.3.7.2.7-.2.7.1.7-.2.7.3.7.1.7.3.7-.3.7-.1.7 0 .7.7.7-.5.7.2.7-.1.7-.4.7.7.7-.4.7-.1.7.5.7-.3.7.3.7.2.7-.3.7.4.7-.1.7.1.7-.5.7.6.7 0 .7-.6.7.2.7.1.7-.1.7.1.7.2.7.2.7.2.7-.1.7.4.7-.3.7-.1.7.3.7-.5.7.4.7-.4.7.7.7 0 .7 0 .7-.7.7.5.7-.1.7.1.7-.3.7.3.7-.4.7.7.7-.1.7 0 .7-.2.7-.4.7.7.7 0 .7-.1.7.2.7.1.7-.8.7.4.7.5.7 0 .7-.3.7.4.7-.3.7-.4.7.3.7.4.7-.4.7.7.7-.5.7.3.7.3.7-.4.7.2.7 0 .7-.4.7.1.7.2.7 0 .7-.5.7.1.7.5.7-.5.7.1.7 0 .7-.1.7.2.7-.1.7.1.7-.2.7-.1.7.5.7.2.7-.4.7.5.7-.1.7.2.7 0 .7-.1.7 0 .7-.2.7-.2.7.5.7.1.7-.5.7 0 .7 0 .7.3.7-.3.7.3.7 0 .7-.3.7-.9.7.3.7-.4.7.7.7.1.7-.1.7 0 .7-.5.7 0 .7-.2.7.1.7.2.7.4.7-.6.7.3.7-.1.7.4.7-.3.7.4.7-.4.7.2.7-.1.7-.3.7-.1.7-.1.7.4.7 0 .7-.5.7.7.7-.3.7.1.7-.6.7.4.7 0 .7-.1.7-.5.7.7.7 0 .7-.8.7.6.7-.3.7-.3.7.4.7 0 .7-.1.7.4.7-.5.7.2.7.2.7.1.7-.3.7.3.7-.3.7-.1.7.1.7-.3.7.4.7 0 .7-.6.7.1.7.3.7 0 .7.1.7.1.7.3.7-.6.7 0 .7.6.7-.2.7.3.7-.5.7-.3.7.7.7-.2.7-.1.7.2.7.3.7-.6.7 0 .7-.2.7.7.7-.1.7-.5.7 0 .7.3.7.5.7-.5.7-.2.7.2.7.2.7 0 .7.1.7 0 .7.3.7 0 .7-.6.7.4.7-.5.7.3.7.1.7.1.7-.5.7.8.7-.4.7-.2.7 0 .7.4.7.1.7-.1.7-.2.7.3.7-.3.7.4.7.1.7-.4.7-.1.7.1.7.6.7-.6.7.2.7-.9.7-.2.7.1.7-1.1.7-.4.7-1.8.7-.3.7 0 .7-.5.7.2.7-.1.7-.3.7-.1.7-.3.7 0 .7.2.7.1.7-.3.7.5.7-.3.7-.1.7.4.7-.5.7-.1.7-.2.7.5.7-.1.7-.1.7-.5.7.5.7 0 .7-.1.7-.1.7-.6.7.3.7-.1.7-.5.7.1.7 1.3.7.9.7-.1.7.5.7.2.7.3.7.1.7.6.7-.3.7.8.7-.5.7.4.7.3.7.6.7-.6.7.3.7.2.7 0 .7.2.7.6.7-.6.7.3.7.1.7.4.7.1.7-.2.7.3.7.2.7-.3.7.3.7.1.7-.6.7.3.7-.1.7-.3.7 0 .7.4.7-.2.7.5.7-.6.7.5.7-.2.7-.2.7.6.7-.2.7-.2.7.4.7 0 .7-.1.7.2.7-.7.7.2.7 0 .7.6.7-.7.7.3.7 0 .7-.4.7.4.7-.3.7-.2.7 0 .7 0 .7 0 .7.3.7 0 .7-.7.7.2.7 0 .7.2.7-.7.7 0 .7-.2.7-.1.7.3.7.3.7-.1.7-.3.7.1.7-.3.7.2.7 0 .7.3.7-.2.7.1.7-.5.7.4.7 0 .7.2.7-.5.7-.1.7.2.7.3.7.3.7.1.7-.2.7.1.7-.1.7-.5.7 0 .7-.1.7.2.7-.3.7-.1.7.2.7-.1.7 0 .7-.1.7.1.7.7.7.7.7.2.7-.6.7 0 .7.5.7-.3.7.6.7.2.7-.2.7-.7.7-.1.7-.1.7-.2.7.2.7-.1.7.1.7-.4.7.4.7-.1.7.3.7 0 .7.5.7-.5.7.4.7-.2.7.4.7-.2.7.3.7-.2.7.3.7-.5.7.4.7-.6.7.6.7-.4.7-.1.7-.1.7.3.7-.2.7.2.7-.1.7.3.7-.3.7-.1.7.3.7-.2.7-.4.7-.1.7-.2.7.1.7.3.7.2.7-.8.7.5.7 0 .7.1.7-.3.7.3.7-.2.7-.2.7-.5.7.1.7 0 .7.5.7-.1.7 0 .7-.6.7.2.7-.5.7-.1.7-.7.7-.2.7-.1.7-.1.7 0 .7-.6.7.2.7-.4.7-.4.7.4.7-.3.7 0 .7.6.7.2.7.1.7 0 .7.1.7-.4.7.3.7.2.7-.5.7.3.7.4.7.2.7-.1.7.1.7-.2.7-.7.7.2.7-.8.7.7.7-.4.7 0 .7.3.7-.7.7.2.7.1.7.1.7.2.7 0 .7-.2.7-.3.7.5.7-.1.7-.3.7.8.7-.6.7.6.7.1.7-.2.7.1.7-.2.7.3.7.1.7.9.7-.1.7-.2.7.7.7-.1.7-.1.7.4.7-.1.7.2.7.7.7-.1.7-.4.7.5.7-.2.7.3.7.4.7-.1.7-.2.7-.2.7.3.7-.2.7.6.7-.3.7-.1.7-.2.7 0 .7-.1.7.1.7.1.7.3.7.1.7.2.7.1.7 0 .7-.4.7-.3.7-.3.7.5.7-.1.7 0 .7-.7.7.2.7-.3.7-.1.7.6.7.2.7-.4.7.3.7-.6.7.2.7-.1.7-.5.7.1.7.4.7-.1.7-.1.7-.4.7.3.7-.7.7.8.7-.4.7-.2.7 0 .7 0 .7-.5.7-3 .7-.8.7-.5.7-.7.7.7.7-.2.7 0 .7.3.7-.2.7.4.7-.2.7.5.7.1.7-.1.7.2.7.3.7.1.7-.7.7.8.7-.5.7.8.7 0 .7-.2.7.1.7.3.7.5.7.3.7.6.7.5.7 0 .7.5.7.1.7.9.7-.1.7.4.7.5.7.2.7.2.7-.4.7.5.7-.4.7.8.7-.6.7.4.7-.2.7.4.7-.4.7.8.7-.8.7.3.7.1.7.4.7.2.7-.5.7.6.7-.6.7.4.7-.3.7.3.7.1.7-.3.7.2.7.2.7.2.7-.3.7.3.7-.4.7-.1.7.1.7.1.7.4.7-.1.7-.6.7.5.7.2.7-.7.7.4.7-.2.7.5.7-.3.7.3.7.1.7 0 .7-.8.7.3.7.3.7.3.7 0 .7.1.7-.4.7-.1.7 0 .7.2.7-.4.7.5.7-.4.7.5.7-.2.7-.3.7.2.7.3.7-.2.7.2.7.3.7-.5.7-.2.7.2.7.1.7.3.7.1.7-.4" fill="none" stroke="#f7a05c" stroke-width="0.95" stroke-linejoin="round"/><path d="M60 383.7l.7-.1.7-.3.7-.1.7.3.7-.5.7 0 .7.2.7.1.7-.9.7.3.7-.3.7.3.7-.4.7-.1.7.7.7-.8.7.6.7-.5.7-.2.7.6.7-.2.7-.3.7.4.7.2.7.2.7-.4.7 0 .7.3.7 0 .7.1.7-.5.7.8.7 0 .7 1.1.7.1.7.3.7.3.7.6.7.6.7-.5.7.4.7-.4.7-.1.7-.2.7-.3.7-.2.7-.8.7.1.7-.7.7 0 .7.1.7-.4.7-.5.7.2.7-.6.7-.3.7-.3.7-.5.7-.8.7.3.7-1.1.7-.9.7 1.3.7 1.8.7 1.3.7 0 .7.4.7.3.7-.1.7.5.7.2.7-.3.7.1.7.6.7 0 .7.6.7-.2.7.7.7.5.7-.2.7.9.7-.5.7.1.7.5.7-.6.7 0 .7.8.7-.5.7-.2.7 0 .7 0 .7.7.7-.6.7.3.7-.5.7.7.7 0 .7-.2.7-.5.7.3.7.1.7.1.7-.2.7.2.7.5.7 0 .7-.3.7.3.7-.1.7 0 .7.1.7-.4.7.5.7-.1.7.3.7-.7.7.2.7 0 .7-.1.7.7.7-.4.7.1.7.1.7.2.7 0 .7-.3.7 0 .7-.3.7.4.7.1.7-.1.7-.2.7.2.7-.8.7.1.7.1.7-.4.7.5.7-.5.7-.1.7-.2.7.2.7-.7.7 0 .7.4.7-.3.7.5.7-.2.7-.2.7-.5.7.6.7-.6.7.5.7 0 .7 0 .7-.4.7-.2.7.1.7-.3.7-.1.7 0 .7.1.7.5.7-.3.7.8.7.1.7-.3.7.2.7.1.7.2.7-.7.7.5.7.4.7-.4.7.4.7-.2.7-.4.7.2.7 0 .7.5.7 0 .7-.8.7.5.7-.5.7.1.7.5.7.3.7-.6.7.3.7-.1.7.4.7.2.7-.7.7 0 .7.3.7.5.7-.6.7.5.7-.7.7.6.7 0 .7-.4.7.5.7-.3.7-.1.7.2.7.4.7-.4.7-.1.7.3.7-.4.7.8.7.1.7-.2.7-.6.7.8.7-.6.7.3.7-.1.7.2.7-.3.7-.3.7.3.7.3.7-.1.7-.1.7-.2.7.1.7-.1.7.6.7 0 .7 0 .7-.6.7.7.7-.6.7.4.7.1.7.4.7-.4.7 0 .7-.2.7.6.7-.2.7.3.7-.6.7.6.7-.5.7.1.7-.2.7.6.7-.3.7.4.7-.6.7.1.7.3.7-.5.7.4.7 0 .7-.3.7-.4.7.2.7-.1.7-.2.7.7.7-.7.7.2.7 0 .7.7.7-.7.7.8.7-.2.7-.6.7.6.7-.5.7.7.7-.5.7 0 .7-.1.7 0 .7 0 .7.5.7 0 .7-.4.7.4.7-.5.7 0 .7-.1.7-.3.7.5.7-.8.7.6.7-.3.7 0 .7.2.7 0 .7-.4.7-.1.7.4.7.2.7-.2.7-.1.7-.3.7.2.7 0 .7.6.7-.7.7 0 .7.1.7.4.7.1.7 0 .7-.3.7.2.7-.8.7.3.7-.3.7.2.7.1.7-.1.7.3.7.2.7-.6.7 0 .7-.1.7.3.7.2.7-.4.7-.3.7.3.7-.2.7.7.7-.1.7-.6.7.7.7-.5.7-.1.7.6.7-.4.7.4.7 0 .7-.5.7-.3.7.2.7-.1.7.6.7-.5.7.5.7-.3.7.2.7-.4.7.2.7 0 .7-.2.7 0 .7-.1.7.2.7-.1.7-.1.7.7.7-.1.7-.3.7-.4.7.2.7 0 .7.3.7-.3.7.2.7-.3.7.8.7 0 .7-.9.7.2.7 0 .7.4.7-.2.7-.2.7.3.7-.3.7.7.7-.2.7.1.7.3.7-.3.7 0 .7-.3.7.5.7-.6.7.4.7.2.7-.1.7-.1.7.1.7 0 .7.2.7-.5.7 0 .7.5.7.2.7-.4.7.4.7.2.7 0 .7-.8.7-.2.7.2.7-.1.7-.2.7-1.1.7-.2.7-.7.7-1.1.7.3.7-.6.7-.4.7.1.7.2.7-.6.7 0 .7.3.7 0 .7-.1.7 0 .7 0 .7.3.7-.4.7.3.7-.2.7.2.7-.1.7 0 .7 0 .7-.4.7.5.7-.6.7.2.7-.3.7 0 .7.5.7 0 .7-.4.7-.3.7 0 .7-.5.7 1.8.7.8.7.6.7 0 .7.3.7-.1.7.1.7.1.7.2.7.3.7.1.7.2.7.4.7-.2.7.1.7.3.7 0 .7.1.7-.1.7 0 .7.4.7-.3.7.6.7-.3.7 0 .7.2.7-.4.7 0 .7.5.7.1.7-.4.7.1.7.5.7.2.7-.8.7-.1.7.3.7.6.7-.8.7.1.7 0 .7-.1.7.3.7.4.7-.2.7.1.7-.6.7 0 .7.8.7-.1.7 0 .7-.1.7-.5.7.6.7 0 .7.1.7-.2.7-.4.7.5.7 0 .7-.6.7.4.7-.1.7-.1.7-.3.7.2.7.1.7-.3.7-.3.7.2.7.2.7-.6.7-.1.7.2.7.2.7-.8.7-.1.7.3.7-.1.7 0 .7.3.7 0 .7-.1.7-.2.7.6.7-.7.7.1.7-.1.7.7.7-.4.7.5.7-.3.7.4.7.1.7-.4.7-.4.7.8.7-.8.7.8.7-.1.7-.2.7.1.7-.6.7.2.7-.6.7.4.7-.6.7.5.7 0 .7.5.7.2.7-.3.7.3.7.2.7-.2.7 0 .7.2.7.2.7.1.7-.5.7-.1.7-.2.7.2.7-.6.7.2.7-.4.7.4.7 0 .7.6.7-.3.7.1.7 0 .7.3.7.2.7-.1.7 0 .7.3.7.1.7-.5.7.2.7.1.7-.3.7-.5.7.3.7-.3.7.4.7 0 .7-.4.7.6.7-.3.7 0 .7-.3.7-.2.7.4.7.2.7-.1.7.2.7-.4.7-.1.7.4.7-.4.7.5.7-.1.7-.6.7.1.7 0 .7.3.7-.2.7.5.7-.1.7.1.7-.3.7-.2.7.3.7-.4.7.2.7-.4.7.1.7-.3.7.4.7-.9.7 0 .7-.8.7 0 .7.3.7.2.7-.2.7-.4.7.1.7.1.7.2.7-.1.7-.5.7.8.7-.1.7-.1.7-.3.7.1.7.3.7.2.7-.5.7-.1.7-.2.7.4.7-.8.7.1.7.1.7.4.7-.7.7.6.7-.3.7.2.7 0 .7-.2.7.4.7-.3.7-.2.7.4.7-.5.7-.2.7.2.7.6.7-.3.7-.3.7 0 .7.2.7.8.7-.8.7 0 .7.1.7.8.7-.4.7.6.7.3.7-.5.7.8.7-.6.7.2.7.2.7.2.7.7.7-.5.7.3.7.2.7-.3.7-.1.7.1.7.5.7.2.7-.4.7.1.7.3.7-.3.7-.1.7.5.7 0 .7.3.7 0 .7 0 .7-.3.7.2.7.1.7-.5.7.2.7.1.7.1.7-.3.7.6.7-.5.7-.3.7-.9.7.6.7-.7.7 0 .7 0 .7 0 .7.4.7-.5.7.5.7-.4.7-.3.7 0 .7 0 .7.4.7-.2.7-.1.7-.3.7.6.7-.1.7-.4.7.1.7-.7.7 0 .7.3.7-.2.7.5.7.2.7-.7.7-.2.7-2.3.7-.2.7-.6.7.1.7 0 .7.3.7-.5.7.1.7.5.7-.1.7.3.7-.1.7.4.7-.4.7.1.7.4.7-.3.7.1.7.7.7-.2.7 0 .7 0 .7.2.7 0 .7.3.7.5.7-.1.7.9.7.1.7-.2.7.9.7-.3.7.8.7.1.7-.6.7.3.7.5.7-.1.7.4.7.2.7.2.7.1.7.1.7 0 .7 0 .7.1.7-.3.7-.4.7.1.7.5.7-.2.7-.2.7 0 .7.7.7-.2.7-.5.7.5.7-.5.7.2.7.4.7-.5.7.4.7-.5.7 0 .7 0 .7.4.7-.3.7.4.7-.2.7.2.7.2.7-.3.7.2.7.4.7-.1.7-.3.7.1.7.4.7 0 .7-.2.7 0 .7 0 .7-.2.7-.4.7.7.7-.6.7 0 .7.6.7-.4.7-.2.7.1.7.3.7-.4.7.2.7.4.7-.1.7-.5.7.5.7-.5.7.7.7-.1.7.3.7-.4.7-.2.7.3.7.4.7-.2.7.1.7-.3.7.3.7-.2" fill="none" stroke="#f0505a" stroke-width="0.95" stroke-linejoin="round"/></g>
<defs><clipPath id="c0"><rect x="60.8" y="17.5" width="596.0" height="39.9"/></clipPath><clipPath id="c1"><rect x="60.8" y="60.0" width="596.0" height="39.9"/></clipPath><clipPath id="c2"><rect x="60.8" y="102.0" width="596.0" height="39.9"/></clipPath><clipPath id="c3"><rect x="60.8" y="144.0" width="596.0" height="39.9"/></clipPath><clipPath id="c4"><rect x="60.8" y="186.6" width="596.0" height="39.9"/></clipPath><clipPath id="c5"><rect x="60.8" y="228.6" width="596.0" height="39.9"/></clipPath><clipPath id="c6"><rect x="60.8" y="270.4" width="596.0" height="39.9"/></clipPath><clipPath id="c7"><rect x="60.8" y="313.0" width="596.0" height="39.9"/></clipPath><clipPath id="c8"><rect x="60.8" y="355.0" width="596.0" height="39.9"/></clipPath></defs>
<rect x="60.8" y="17.5" width="596.0" height="39.9" fill="none" stroke="#6e6e6e" stroke-width="1"/>
<path d="M74.05 17.5v1.8M74.05 57.4v-1.8M87.30 17.5v1.8M87.30 57.4v-1.8M100.55 17.5v1.8M100.55 57.4v-1.8M113.80 17.5v1.8M113.80 57.4v-1.8M127.05 17.5v1.8M127.05 57.4v-1.8M140.30 17.5v1.8M140.30 57.4v-1.8M153.55 17.5v1.8M153.55 57.4v-1.8M166.80 17.5v1.8M166.80 57.4v-1.8M180.05 17.5v1.8M180.05 57.4v-1.8M193.30 17.5v3.6M193.30 57.4v-3.6M206.55 17.5v1.8M206.55 57.4v-1.8M219.80 17.5v1.8M219.80 57.4v-1.8M233.05 17.5v1.8M233.05 57.4v-1.8M246.30 17.5v1.8M246.30 57.4v-1.8M259.55 17.5v1.8M259.55 57.4v-1.8M272.80 17.5v1.8M272.80 57.4v-1.8M286.05 17.5v1.8M286.05 57.4v-1.8M299.30 17.5v1.8M299.30 57.4v-1.8M312.55 17.5v1.8M312.55 57.4v-1.8M325.80 17.5v3.6M325.80 57.4v-3.6M339.05 17.5v1.8M339.05 57.4v-1.8M352.30 17.5v1.8M352.30 57.4v-1.8M365.55 17.5v1.8M365.55 57.4v-1.8M378.80 17.5v1.8M378.80 57.4v-1.8M392.05 17.5v1.8M392.05 57.4v-1.8M405.30 17.5v1.8M405.30 57.4v-1.8M418.55 17.5v1.8M418.55 57.4v-1.8M431.80 17.5v1.8M431.80 57.4v-1.8M445.05 17.5v1.8M445.05 57.4v-1.8M458.30 17.5v3.6M458.30 57.4v-3.6M471.55 17.5v1.8M471.55 57.4v-1.8M484.80 17.5v1.8M484.80 57.4v-1.8M498.05 17.5v1.8M498.05 57.4v-1.8M511.30 17.5v1.8M511.30 57.4v-1.8M524.55 17.5v1.8M524.55 57.4v-1.8M537.80 17.5v1.8M537.80 57.4v-1.8M551.05 17.5v1.8M551.05 57.4v-1.8M564.30 17.5v1.8M564.30 57.4v-1.8M577.55 17.5v1.8M577.55 57.4v-1.8M590.80 17.5v3.6M590.80 57.4v-3.6M604.05 17.5v1.8M604.05 57.4v-1.8M617.30 17.5v1.8M617.30 57.4v-1.8M630.55 17.5v1.8M630.55 57.4v-1.8M643.80 17.5v1.8M643.80 57.4v-1.8" stroke="#6e6e6e" stroke-width="0.9" fill="none"/>
<path d="M60.8 56.60h6M656.8 56.60h-6M60.8 55.80h6M656.8 55.80h-6M60.8 55.00h6M656.8 55.00h-6M60.8 54.20h6M656.8 54.20h-6M60.8 53.40h6M656.8 53.40h-6M60.8 52.60h6M656.8 52.60h-6M60.8 51.80h6M656.8 51.80h-6M60.8 51.00h6M656.8 51.00h-6M60.8 50.20h6M656.8 50.20h-6M60.8 49.40h6M656.8 49.40h-6M60.8 48.60h6M656.8 48.60h-6M60.8 47.80h6M656.8 47.80h-6M60.8 47.00h6M656.8 47.00h-6M60.8 46.20h6M656.8 46.20h-6M60.8 45.40h6M656.8 45.40h-6M60.8 44.60h6M656.8 44.60h-6M60.8 43.80h6M656.8 43.80h-6M60.8 43.00h6M656.8 43.00h-6M60.8 42.20h6M656.8 42.20h-6M60.8 41.40h6M656.8 41.40h-6M60.8 40.60h6M656.8 40.60h-6M60.8 39.80h6M656.8 39.80h-6M60.8 39.00h6M656.8 39.00h-6M60.8 38.20h6M656.8 38.20h-6M60.8 37.40h6M656.8 37.40h-6M60.8 36.60h6M656.8 36.60h-6M60.8 35.80h6M656.8 35.80h-6M60.8 35.00h6M656.8 35.00h-6M60.8 34.20h6M656.8 34.20h-6M60.8 33.40h6M656.8 33.40h-6M60.8 32.60h6M656.8 32.60h-6M60.8 31.80h6M656.8 31.80h-6M60.8 31.00h6M656.8 31.00h-6M60.8 30.20h6M656.8 30.20h-6M60.8 29.40h6M656.8 29.40h-6M60.8 28.60h6M656.8 28.60h-6M60.8 27.80h6M656.8 27.80h-6M60.8 27.00h6M656.8 27.00h-6M60.8 26.20h6M656.8 26.20h-6M60.8 25.40h6M656.8 25.40h-6M60.8 24.60h6M656.8 24.60h-6M60.8 23.80h6M656.8 23.80h-6M60.8 23.00h6M656.8 23.00h-6M60.8 22.20h6M656.8 22.20h-6M60.8 21.40h6M656.8 21.40h-6M60.8 20.60h6M656.8 20.60h-6M60.8 19.80h6M656.8 19.80h-6M60.8 19.00h6M656.8 19.00h-6M60.8 18.20h6M656.8 18.20h-6" stroke="#8a8a8a" stroke-width="0.8" fill="none"/><path d="M60.8 49.40h11.5M656.8 49.40h-11.5M60.8 41.40h11.5M656.8 41.40h-11.5M60.8 33.40h11.5M656.8 33.40h-11.5M60.8 25.40h11.5M656.8 25.40h-11.5" stroke="#6e6e6e" stroke-width="0.9" fill="none"/>
<rect x="60.8" y="60.0" width="596.0" height="39.9" fill="none" stroke="#6e6e6e" stroke-width="1"/>
<path d="M74.05 60.0v1.8M74.05 99.9v-1.8M87.30 60.0v1.8M87.30 99.9v-1.8M100.55 60.0v1.8M100.55 99.9v-1.8M113.80 60.0v1.8M113.80 99.9v-1.8M127.05 60.0v1.8M127.05 99.9v-1.8M140.30 60.0v1.8M140.30 99.9v-1.8M153.55 60.0v1.8M153.55 99.9v-1.8M166.80 60.0v1.8M166.80 99.9v-1.8M180.05 60.0v1.8M180.05 99.9v-1.8M193.30 60.0v3.6M193.30 99.9v-3.6M206.55 60.0v1.8M206.55 99.9v-1.8M219.80 60.0v1.8M219.80 99.9v-1.8M233.05 60.0v1.8M233.05 99.9v-1.8M246.30 60.0v1.8M246.30 99.9v-1.8M259.55 60.0v1.8M259.55 99.9v-1.8M272.80 60.0v1.8M272.80 99.9v-1.8M286.05 60.0v1.8M286.05 99.9v-1.8M299.30 60.0v1.8M299.30 99.9v-1.8M312.55 60.0v1.8M312.55 99.9v-1.8M325.80 60.0v3.6M325.80 99.9v-3.6M339.05 60.0v1.8M339.05 99.9v-1.8M352.30 60.0v1.8M352.30 99.9v-1.8M365.55 60.0v1.8M365.55 99.9v-1.8M378.80 60.0v1.8M378.80 99.9v-1.8M392.05 60.0v1.8M392.05 99.9v-1.8M405.30 60.0v1.8M405.30 99.9v-1.8M418.55 60.0v1.8M418.55 99.9v-1.8M431.80 60.0v1.8M431.80 99.9v-1.8M445.05 60.0v1.8M445.05 99.9v-1.8M458.30 60.0v3.6M458.30 99.9v-3.6M471.55 60.0v1.8M471.55 99.9v-1.8M484.80 60.0v1.8M484.80 99.9v-1.8M498.05 60.0v1.8M498.05 99.9v-1.8M511.30 60.0v1.8M511.30 99.9v-1.8M524.55 60.0v1.8M524.55 99.9v-1.8M537.80 60.0v1.8M537.80 99.9v-1.8M551.05 60.0v1.8M551.05 99.9v-1.8M564.30 60.0v1.8M564.30 99.9v-1.8M577.55 60.0v1.8M577.55 99.9v-1.8M590.80 60.0v3.6M590.80 99.9v-3.6M604.05 60.0v1.8M604.05 99.9v-1.8M617.30 60.0v1.8M617.30 99.9v-1.8M630.55 60.0v1.8M630.55 99.9v-1.8M643.80 60.0v1.8M643.80 99.9v-1.8" stroke="#6e6e6e" stroke-width="0.9" fill="none"/>
<path d="M60.8 92.92h6M656.8 92.92h-6M60.8 88.83h6M656.8 88.83h-6M60.8 85.93h6M656.8 85.93h-6M60.8 83.68h6M656.8 83.68h-6M60.8 81.85h6M656.8 81.85h-6M60.8 80.29h6M656.8 80.29h-6M60.8 78.95h6M656.8 78.95h-6M60.8 77.76h6M656.8 77.76h-6M60.8 76.70h6M656.8 76.70h-6M60.8 69.72h6M656.8 69.72h-6M60.8 65.63h6M656.8 65.63h-6M60.8 62.73h6M656.8 62.73h-6M60.8 60.48h6M656.8 60.48h-6" stroke="#8a8a8a" stroke-width="0.8" fill="none"/><path d="M60.8 76.70h11.5M656.8 76.70h-11.5" stroke="#6e6e6e" stroke-width="0.9" fill="none"/>
<rect x="60.8" y="102.0" width="596.0" height="39.9" fill="none" stroke="#6e6e6e" stroke-width="1"/>
<path d="M74.05 102.0v1.8M74.05 141.9v-1.8M87.30 102.0v1.8M87.30 141.9v-1.8M100.55 102.0v1.8M100.55 141.9v-1.8M113.80 102.0v1.8M113.80 141.9v-1.8M127.05 102.0v1.8M127.05 141.9v-1.8M140.30 102.0v1.8M140.30 141.9v-1.8M153.55 102.0v1.8M153.55 141.9v-1.8M166.80 102.0v1.8M166.80 141.9v-1.8M180.05 102.0v1.8M180.05 141.9v-1.8M193.30 102.0v3.6M193.30 141.9v-3.6M206.55 102.0v1.8M206.55 141.9v-1.8M219.80 102.0v1.8M219.80 141.9v-1.8M233.05 102.0v1.8M233.05 141.9v-1.8M246.30 102.0v1.8M246.30 141.9v-1.8M259.55 102.0v1.8M259.55 141.9v-1.8M272.80 102.0v1.8M272.80 141.9v-1.8M286.05 102.0v1.8M286.05 141.9v-1.8M299.30 102.0v1.8M299.30 141.9v-1.8M312.55 102.0v1.8M312.55 141.9v-1.8M325.80 102.0v3.6M325.80 141.9v-3.6M339.05 102.0v1.8M339.05 141.9v-1.8M352.30 102.0v1.8M352.30 141.9v-1.8M365.55 102.0v1.8M365.55 141.9v-1.8M378.80 102.0v1.8M378.80 141.9v-1.8M392.05 102.0v1.8M392.05 141.9v-1.8M405.30 102.0v1.8M405.30 141.9v-1.8M418.55 102.0v1.8M418.55 141.9v-1.8M431.80 102.0v1.8M431.80 141.9v-1.8M445.05 102.0v1.8M445.05 141.9v-1.8M458.30 102.0v3.6M458.30 141.9v-3.6M471.55 102.0v1.8M471.55 141.9v-1.8M484.80 102.0v1.8M484.80 141.9v-1.8M498.05 102.0v1.8M498.05 141.9v-1.8M511.30 102.0v1.8M511.30 141.9v-1.8M524.55 102.0v1.8M524.55 141.9v-1.8M537.80 102.0v1.8M537.80 141.9v-1.8M551.05 102.0v1.8M551.05 141.9v-1.8M564.30 102.0v1.8M564.30 141.9v-1.8M577.55 102.0v1.8M577.55 141.9v-1.8M590.80 102.0v3.6M590.80 141.9v-3.6M604.05 102.0v1.8M604.05 141.9v-1.8M617.30 102.0v1.8M617.30 141.9v-1.8M630.55 102.0v1.8M630.55 141.9v-1.8M643.80 102.0v1.8M643.80 141.9v-1.8" stroke="#6e6e6e" stroke-width="0.9" fill="none"/>
<path d="M60.8 138.26h6M656.8 138.26h-6M60.8 136.13h6M656.8 136.13h-6M60.8 134.62h6M656.8 134.62h-6M60.8 133.45h6M656.8 133.45h-6M60.8 132.49h6M656.8 132.49h-6M60.8 131.68h6M656.8 131.68h-6M60.8 130.98h6M656.8 130.98h-6M60.8 130.36h6M656.8 130.36h-6M60.8 129.81h6M656.8 129.81h-6M60.8 126.17h6M656.8 126.17h-6M60.8 124.04h6M656.8 124.04h-6M60.8 122.53h6M656.8 122.53h-6M60.8 121.36h6M656.8 121.36h-6M60.8 120.40h6M656.8 120.40h-6M60.8 119.59h6M656.8 119.59h-6M60.8 118.89h6M656.8 118.89h-6M60.8 118.27h6M656.8 118.27h-6M60.8 117.72h6M656.8 117.72h-6M60.8 114.08h6M656.8 114.08h-6M60.8 111.95h6M656.8 111.95h-6M60.8 110.44h6M656.8 110.44h-6M60.8 109.27h6M656.8 109.27h-6M60.8 108.31h6M656.8 108.31h-6M60.8 107.50h6M656.8 107.50h-6M60.8 106.80h6M656.8 106.80h-6M60.8 106.18h6M656.8 106.18h-6M60.8 105.63h6M656.8 105.63h-6" stroke="#8a8a8a" stroke-width="0.8" fill="none"/><path d="M60.8 129.81h11.5M656.8 129.81h-11.5M60.8 117.72h11.5M656.8 117.72h-11.5M60.8 105.63h11.5M656.8 105.63h-11.5" stroke="#6e6e6e" stroke-width="0.9" fill="none"/>
<rect x="60.8" y="144.0" width="596.0" height="39.9" fill="none" stroke="#6e6e6e" stroke-width="1"/>
<path d="M74.05 144.0v1.8M74.05 183.9v-1.8M87.30 144.0v1.8M87.30 183.9v-1.8M100.55 144.0v1.8M100.55 183.9v-1.8M113.80 144.0v1.8M113.80 183.9v-1.8M127.05 144.0v1.8M127.05 183.9v-1.8M140.30 144.0v1.8M140.30 183.9v-1.8M153.55 144.0v1.8M153.55 183.9v-1.8M166.80 144.0v1.8M166.80 183.9v-1.8M180.05 144.0v1.8M180.05 183.9v-1.8M193.30 144.0v3.6M193.30 183.9v-3.6M206.55 144.0v1.8M206.55 183.9v-1.8M219.80 144.0v1.8M219.80 183.9v-1.8M233.05 144.0v1.8M233.05 183.9v-1.8M246.30 144.0v1.8M246.30 183.9v-1.8M259.55 144.0v1.8M259.55 183.9v-1.8M272.80 144.0v1.8M272.80 183.9v-1.8M286.05 144.0v1.8M286.05 183.9v-1.8M299.30 144.0v1.8M299.30 183.9v-1.8M312.55 144.0v1.8M312.55 183.9v-1.8M325.80 144.0v3.6M325.80 183.9v-3.6M339.05 144.0v1.8M339.05 183.9v-1.8M352.30 144.0v1.8M352.30 183.9v-1.8M365.55 144.0v1.8M365.55 183.9v-1.8M378.80 144.0v1.8M378.80 183.9v-1.8M392.05 144.0v1.8M392.05 183.9v-1.8M405.30 144.0v1.8M405.30 183.9v-1.8M418.55 144.0v1.8M418.55 183.9v-1.8M431.80 144.0v1.8M431.80 183.9v-1.8M445.05 144.0v1.8M445.05 183.9v-1.8M458.30 144.0v3.6M458.30 183.9v-3.6M471.55 144.0v1.8M471.55 183.9v-1.8M484.80 144.0v1.8M484.80 183.9v-1.8M498.05 144.0v1.8M498.05 183.9v-1.8M511.30 144.0v1.8M511.30 183.9v-1.8M524.55 144.0v1.8M524.55 183.9v-1.8M537.80 144.0v1.8M537.80 183.9v-1.8M551.05 144.0v1.8M551.05 183.9v-1.8M564.30 144.0v1.8M564.30 183.9v-1.8M577.55 144.0v1.8M577.55 183.9v-1.8M590.80 144.0v3.6M590.80 183.9v-3.6M604.05 144.0v1.8M604.05 183.9v-1.8M617.30 144.0v1.8M617.30 183.9v-1.8M630.55 144.0v1.8M630.55 183.9v-1.8M643.80 144.0v1.8M643.80 183.9v-1.8" stroke="#6e6e6e" stroke-width="0.9" fill="none"/>
<path d="M60.8 182.00h6M656.8 182.00h-6M60.8 180.10h6M656.8 180.10h-6M60.8 178.20h6M656.8 178.20h-6M60.8 176.30h6M656.8 176.30h-6M60.8 174.40h6M656.8 174.40h-6M60.8 172.50h6M656.8 172.50h-6M60.8 170.60h6M656.8 170.60h-6M60.8 168.70h6M656.8 168.70h-6M60.8 166.80h6M656.8 166.80h-6M60.8 164.90h6M656.8 164.90h-6M60.8 163.00h6M656.8 163.00h-6M60.8 161.10h6M656.8 161.10h-6M60.8 159.20h6M656.8 159.20h-6M60.8 157.30h6M656.8 157.30h-6M60.8 155.40h6M656.8 155.40h-6M60.8 153.50h6M656.8 153.50h-6M60.8 151.60h6M656.8 151.60h-6M60.8 149.70h6M656.8 149.70h-6M60.8 147.80h6M656.8 147.80h-6M60.8 145.90h6M656.8 145.90h-6" stroke="#8a8a8a" stroke-width="0.8" fill="none"/><path d="M60.8 176.30h11.5M656.8 176.30h-11.5M60.8 168.70h11.5M656.8 168.70h-11.5M60.8 161.10h11.5M656.8 161.10h-11.5M60.8 153.50h11.5M656.8 153.50h-11.5M60.8 145.90h11.5M656.8 145.90h-11.5" stroke="#6e6e6e" stroke-width="0.9" fill="none"/>
<rect x="60.8" y="186.6" width="596.0" height="39.9" fill="none" stroke="#6e6e6e" stroke-width="1"/>
<path d="M74.05 186.6v1.8M74.05 226.5v-1.8M87.30 186.6v1.8M87.30 226.5v-1.8M100.55 186.6v1.8M100.55 226.5v-1.8M113.80 186.6v1.8M113.80 226.5v-1.8M127.05 186.6v1.8M127.05 226.5v-1.8M140.30 186.6v1.8M140.30 226.5v-1.8M153.55 186.6v1.8M153.55 226.5v-1.8M166.80 186.6v1.8M166.80 226.5v-1.8M180.05 186.6v1.8M180.05 226.5v-1.8M193.30 186.6v3.6M193.30 226.5v-3.6M206.55 186.6v1.8M206.55 226.5v-1.8M219.80 186.6v1.8M219.80 226.5v-1.8M233.05 186.6v1.8M233.05 226.5v-1.8M246.30 186.6v1.8M246.30 226.5v-1.8M259.55 186.6v1.8M259.55 226.5v-1.8M272.80 186.6v1.8M272.80 226.5v-1.8M286.05 186.6v1.8M286.05 226.5v-1.8M299.30 186.6v1.8M299.30 226.5v-1.8M312.55 186.6v1.8M312.55 226.5v-1.8M325.80 186.6v3.6M325.80 226.5v-3.6M339.05 186.6v1.8M339.05 226.5v-1.8M352.30 186.6v1.8M352.30 226.5v-1.8M365.55 186.6v1.8M365.55 226.5v-1.8M378.80 186.6v1.8M378.80 226.5v-1.8M392.05 186.6v1.8M392.05 226.5v-1.8M405.30 186.6v1.8M405.30 226.5v-1.8M418.55 186.6v1.8M418.55 226.5v-1.8M431.80 186.6v1.8M431.80 226.5v-1.8M445.05 186.6v1.8M445.05 226.5v-1.8M458.30 186.6v3.6M458.30 226.5v-3.6M471.55 186.6v1.8M471.55 226.5v-1.8M484.80 186.6v1.8M484.80 226.5v-1.8M498.05 186.6v1.8M498.05 226.5v-1.8M511.30 186.6v1.8M511.30 226.5v-1.8M524.55 186.6v1.8M524.55 226.5v-1.8M537.80 186.6v1.8M537.80 226.5v-1.8M551.05 186.6v1.8M551.05 226.5v-1.8M564.30 186.6v1.8M564.30 226.5v-1.8M577.55 186.6v1.8M577.55 226.5v-1.8M590.80 186.6v3.6M590.80 226.5v-3.6M604.05 186.6v1.8M604.05 226.5v-1.8M617.30 186.6v1.8M617.30 226.5v-1.8M630.55 186.6v1.8M630.55 226.5v-1.8M643.80 186.6v1.8M643.80 226.5v-1.8" stroke="#6e6e6e" stroke-width="0.9" fill="none"/>
<path d="M60.8 226.05h6M656.8 226.05h-6M60.8 225.30h6M656.8 225.30h-6M60.8 220.36h6M656.8 220.36h-6M60.8 217.48h6M656.8 217.48h-6M60.8 215.43h6M656.8 215.43h-6M60.8 213.84h6M656.8 213.84h-6M60.8 212.54h6M656.8 212.54h-6M60.8 211.44h6M656.8 211.44h-6M60.8 210.49h6M656.8 210.49h-6M60.8 209.65h6M656.8 209.65h-6M60.8 208.90h6M656.8 208.90h-6M60.8 203.96h6M656.8 203.96h-6M60.8 201.08h6M656.8 201.08h-6M60.8 199.03h6M656.8 199.03h-6M60.8 197.44h6M656.8 197.44h-6M60.8 196.14h6M656.8 196.14h-6M60.8 195.04h6M656.8 195.04h-6M60.8 194.09h6M656.8 194.09h-6M60.8 193.25h6M656.8 193.25h-6M60.8 192.50h6M656.8 192.50h-6M60.8 187.56h6M656.8 187.56h-6" stroke="#8a8a8a" stroke-width="0.8" fill="none"/><path d="M60.8 208.90h11.5M656.8 208.90h-11.5M60.8 192.50h11.5M656.8 192.50h-11.5" stroke="#6e6e6e" stroke-width="0.9" fill="none"/>
<rect x="60.8" y="228.6" width="596.0" height="39.9" fill="none" stroke="#6e6e6e" stroke-width="1"/>
<path d="M74.05 228.6v1.8M74.05 268.5v-1.8M87.30 228.6v1.8M87.30 268.5v-1.8M100.55 228.6v1.8M100.55 268.5v-1.8M113.80 228.6v1.8M113.80 268.5v-1.8M127.05 228.6v1.8M127.05 268.5v-1.8M140.30 228.6v1.8M140.30 268.5v-1.8M153.55 228.6v1.8M153.55 268.5v-1.8M166.80 228.6v1.8M166.80 268.5v-1.8M180.05 228.6v1.8M180.05 268.5v-1.8M193.30 228.6v3.6M193.30 268.5v-3.6M206.55 228.6v1.8M206.55 268.5v-1.8M219.80 228.6v1.8M219.80 268.5v-1.8M233.05 228.6v1.8M233.05 268.5v-1.8M246.30 228.6v1.8M246.30 268.5v-1.8M259.55 228.6v1.8M259.55 268.5v-1.8M272.80 228.6v1.8M272.80 268.5v-1.8M286.05 228.6v1.8M286.05 268.5v-1.8M299.30 228.6v1.8M299.30 268.5v-1.8M312.55 228.6v1.8M312.55 268.5v-1.8M325.80 228.6v3.6M325.80 268.5v-3.6M339.05 228.6v1.8M339.05 268.5v-1.8M352.30 228.6v1.8M352.30 268.5v-1.8M365.55 228.6v1.8M365.55 268.5v-1.8M378.80 228.6v1.8M378.80 268.5v-1.8M392.05 228.6v1.8M392.05 268.5v-1.8M405.30 228.6v1.8M405.30 268.5v-1.8M418.55 228.6v1.8M418.55 268.5v-1.8M431.80 228.6v1.8M431.80 268.5v-1.8M445.05 228.6v1.8M445.05 268.5v-1.8M458.30 228.6v3.6M458.30 268.5v-3.6M471.55 228.6v1.8M471.55 268.5v-1.8M484.80 228.6v1.8M484.80 268.5v-1.8M498.05 228.6v1.8M498.05 268.5v-1.8M511.30 228.6v1.8M511.30 268.5v-1.8M524.55 228.6v1.8M524.55 268.5v-1.8M537.80 228.6v1.8M537.80 268.5v-1.8M551.05 228.6v1.8M551.05 268.5v-1.8M564.30 228.6v1.8M564.30 268.5v-1.8M577.55 228.6v1.8M577.55 268.5v-1.8M590.80 228.6v3.6M590.80 268.5v-3.6M604.05 228.6v1.8M604.05 268.5v-1.8M617.30 228.6v1.8M617.30 268.5v-1.8M630.55 228.6v1.8M630.55 268.5v-1.8M643.80 228.6v1.8M643.80 268.5v-1.8" stroke="#6e6e6e" stroke-width="0.9" fill="none"/>
<path d="M60.8 266.90h6M656.8 266.90h-6M60.8 265.69h6M656.8 265.69h-6M60.8 264.48h6M656.8 264.48h-6M60.8 263.27h6M656.8 263.27h-6M60.8 262.06h6M656.8 262.06h-6M60.8 260.85h6M656.8 260.85h-6M60.8 259.64h6M656.8 259.64h-6M60.8 258.43h6M656.8 258.43h-6M60.8 257.22h6M656.8 257.22h-6M60.8 256.01h6M656.8 256.01h-6M60.8 254.80h6M656.8 254.80h-6M60.8 253.59h6M656.8 253.59h-6M60.8 252.38h6M656.8 252.38h-6M60.8 251.17h6M656.8 251.17h-6M60.8 249.96h6M656.8 249.96h-6M60.8 248.75h6M656.8 248.75h-6M60.8 247.54h6M656.8 247.54h-6M60.8 246.33h6M656.8 246.33h-6M60.8 245.12h6M656.8 245.12h-6M60.8 243.91h6M656.8 243.91h-6M60.8 242.70h6M656.8 242.70h-6M60.8 241.49h6M656.8 241.49h-6M60.8 240.28h6M656.8 240.28h-6M60.8 239.07h6M656.8 239.07h-6M60.8 237.86h6M656.8 237.86h-6M60.8 236.65h6M656.8 236.65h-6M60.8 235.44h6M656.8 235.44h-6M60.8 234.23h6M656.8 234.23h-6M60.8 233.02h6M656.8 233.02h-6M60.8 231.81h6M656.8 231.81h-6M60.8 230.60h6M656.8 230.60h-6M60.8 229.39h6M656.8 229.39h-6" stroke="#8a8a8a" stroke-width="0.8" fill="none"/><path d="M60.8 262.06h11.5M656.8 262.06h-11.5M60.8 252.38h11.5M656.8 252.38h-11.5M60.8 242.70h11.5M656.8 242.70h-11.5M60.8 233.02h11.5M656.8 233.02h-11.5" stroke="#6e6e6e" stroke-width="0.9" fill="none"/>
<rect x="60.8" y="270.4" width="596.0" height="39.9" fill="none" stroke="#6e6e6e" stroke-width="1"/>
<path d="M74.05 270.4v1.8M74.05 310.29999999999995v-1.8M87.30 270.4v1.8M87.30 310.29999999999995v-1.8M100.55 270.4v1.8M100.55 310.29999999999995v-1.8M113.80 270.4v1.8M113.80 310.29999999999995v-1.8M127.05 270.4v1.8M127.05 310.29999999999995v-1.8M140.30 270.4v1.8M140.30 310.29999999999995v-1.8M153.55 270.4v1.8M153.55 310.29999999999995v-1.8M166.80 270.4v1.8M166.80 310.29999999999995v-1.8M180.05 270.4v1.8M180.05 310.29999999999995v-1.8M193.30 270.4v3.6M193.30 310.29999999999995v-3.6M206.55 270.4v1.8M206.55 310.29999999999995v-1.8M219.80 270.4v1.8M219.80 310.29999999999995v-1.8M233.05 270.4v1.8M233.05 310.29999999999995v-1.8M246.30 270.4v1.8M246.30 310.29999999999995v-1.8M259.55 270.4v1.8M259.55 310.29999999999995v-1.8M272.80 270.4v1.8M272.80 310.29999999999995v-1.8M286.05 270.4v1.8M286.05 310.29999999999995v-1.8M299.30 270.4v1.8M299.30 310.29999999999995v-1.8M312.55 270.4v1.8M312.55 310.29999999999995v-1.8M325.80 270.4v3.6M325.80 310.29999999999995v-3.6M339.05 270.4v1.8M339.05 310.29999999999995v-1.8M352.30 270.4v1.8M352.30 310.29999999999995v-1.8M365.55 270.4v1.8M365.55 310.29999999999995v-1.8M378.80 270.4v1.8M378.80 310.29999999999995v-1.8M392.05 270.4v1.8M392.05 310.29999999999995v-1.8M405.30 270.4v1.8M405.30 310.29999999999995v-1.8M418.55 270.4v1.8M418.55 310.29999999999995v-1.8M431.80 270.4v1.8M431.80 310.29999999999995v-1.8M445.05 270.4v1.8M445.05 310.29999999999995v-1.8M458.30 270.4v3.6M458.30 310.29999999999995v-3.6M471.55 270.4v1.8M471.55 310.29999999999995v-1.8M484.80 270.4v1.8M484.80 310.29999999999995v-1.8M498.05 270.4v1.8M498.05 310.29999999999995v-1.8M511.30 270.4v1.8M511.30 310.29999999999995v-1.8M524.55 270.4v1.8M524.55 310.29999999999995v-1.8M537.80 270.4v1.8M537.80 310.29999999999995v-1.8M551.05 270.4v1.8M551.05 310.29999999999995v-1.8M564.30 270.4v1.8M564.30 310.29999999999995v-1.8M577.55 270.4v1.8M577.55 310.29999999999995v-1.8M590.80 270.4v3.6M590.80 310.29999999999995v-3.6M604.05 270.4v1.8M604.05 310.29999999999995v-1.8M617.30 270.4v1.8M617.30 310.29999999999995v-1.8M630.55 270.4v1.8M630.55 310.29999999999995v-1.8M643.80 270.4v1.8M643.80 310.29999999999995v-1.8" stroke="#6e6e6e" stroke-width="0.9" fill="none"/>
<path d="M60.8 309.44h6M656.8 309.44h-6M60.8 307.60h6M656.8 307.60h-6M60.8 305.76h6M656.8 305.76h-6M60.8 303.91h6M656.8 303.91h-6M60.8 302.07h6M656.8 302.07h-6M60.8 300.22h6M656.8 300.22h-6M60.8 298.38h6M656.8 298.38h-6M60.8 296.53h6M656.8 296.53h-6M60.8 294.69h6M656.8 294.69h-6M60.8 292.84h6M656.8 292.84h-6M60.8 291.00h6M656.8 291.00h-6M60.8 289.16h6M656.8 289.16h-6M60.8 287.31h6M656.8 287.31h-6M60.8 285.47h6M656.8 285.47h-6M60.8 283.62h6M656.8 283.62h-6M60.8 281.78h6M656.8 281.78h-6M60.8 279.93h6M656.8 279.93h-6M60.8 278.09h6M656.8 278.09h-6M60.8 276.24h6M656.8 276.24h-6M60.8 274.40h6M656.8 274.40h-6M60.8 272.56h6M656.8 272.56h-6M60.8 270.71h6M656.8 270.71h-6" stroke="#8a8a8a" stroke-width="0.8" fill="none"/><path d="M60.8 307.60h11.5M656.8 307.60h-11.5M60.8 291.00h11.5M656.8 291.00h-11.5M60.8 274.40h11.5M656.8 274.40h-11.5" stroke="#6e6e6e" stroke-width="0.9" fill="none"/>
<rect x="60.8" y="313.0" width="596.0" height="39.9" fill="none" stroke="#6e6e6e" stroke-width="1"/>
<path d="M74.05 313.0v1.8M74.05 352.9v-1.8M87.30 313.0v1.8M87.30 352.9v-1.8M100.55 313.0v1.8M100.55 352.9v-1.8M113.80 313.0v1.8M113.80 352.9v-1.8M127.05 313.0v1.8M127.05 352.9v-1.8M140.30 313.0v1.8M140.30 352.9v-1.8M153.55 313.0v1.8M153.55 352.9v-1.8M166.80 313.0v1.8M166.80 352.9v-1.8M180.05 313.0v1.8M180.05 352.9v-1.8M193.30 313.0v3.6M193.30 352.9v-3.6M206.55 313.0v1.8M206.55 352.9v-1.8M219.80 313.0v1.8M219.80 352.9v-1.8M233.05 313.0v1.8M233.05 352.9v-1.8M246.30 313.0v1.8M246.30 352.9v-1.8M259.55 313.0v1.8M259.55 352.9v-1.8M272.80 313.0v1.8M272.80 352.9v-1.8M286.05 313.0v1.8M286.05 352.9v-1.8M299.30 313.0v1.8M299.30 352.9v-1.8M312.55 313.0v1.8M312.55 352.9v-1.8M325.80 313.0v3.6M325.80 352.9v-3.6M339.05 313.0v1.8M339.05 352.9v-1.8M352.30 313.0v1.8M352.30 352.9v-1.8M365.55 313.0v1.8M365.55 352.9v-1.8M378.80 313.0v1.8M378.80 352.9v-1.8M392.05 313.0v1.8M392.05 352.9v-1.8M405.30 313.0v1.8M405.30 352.9v-1.8M418.55 313.0v1.8M418.55 352.9v-1.8M431.80 313.0v1.8M431.80 352.9v-1.8M445.05 313.0v1.8M445.05 352.9v-1.8M458.30 313.0v3.6M458.30 352.9v-3.6M471.55 313.0v1.8M471.55 352.9v-1.8M484.80 313.0v1.8M484.80 352.9v-1.8M498.05 313.0v1.8M498.05 352.9v-1.8M511.30 313.0v1.8M511.30 352.9v-1.8M524.55 313.0v1.8M524.55 352.9v-1.8M537.80 313.0v1.8M537.80 352.9v-1.8M551.05 313.0v1.8M551.05 352.9v-1.8M564.30 313.0v1.8M564.30 352.9v-1.8M577.55 313.0v1.8M577.55 352.9v-1.8M590.80 313.0v3.6M590.80 352.9v-3.6M604.05 313.0v1.8M604.05 352.9v-1.8M617.30 313.0v1.8M617.30 352.9v-1.8M630.55 313.0v1.8M630.55 352.9v-1.8M643.80 313.0v1.8M643.80 352.9v-1.8" stroke="#6e6e6e" stroke-width="0.9" fill="none"/>
<path d="M60.8 351.40h6M656.8 351.40h-6M60.8 350.34h6M656.8 350.34h-6M60.8 349.28h6M656.8 349.28h-6M60.8 348.22h6M656.8 348.22h-6M60.8 347.16h6M656.8 347.16h-6M60.8 346.10h6M656.8 346.10h-6M60.8 345.04h6M656.8 345.04h-6M60.8 343.98h6M656.8 343.98h-6M60.8 342.92h6M656.8 342.92h-6M60.8 341.86h6M656.8 341.86h-6M60.8 340.80h6M656.8 340.80h-6M60.8 339.74h6M656.8 339.74h-6M60.8 338.68h6M656.8 338.68h-6M60.8 337.62h6M656.8 337.62h-6M60.8 336.56h6M656.8 336.56h-6M60.8 335.50h6M656.8 335.50h-6M60.8 334.44h6M656.8 334.44h-6M60.8 333.38h6M656.8 333.38h-6M60.8 332.32h6M656.8 332.32h-6M60.8 331.26h6M656.8 331.26h-6M60.8 330.20h6M656.8 330.20h-6M60.8 329.14h6M656.8 329.14h-6M60.8 328.08h6M656.8 328.08h-6M60.8 327.02h6M656.8 327.02h-6M60.8 325.96h6M656.8 325.96h-6M60.8 324.90h6M656.8 324.90h-6M60.8 323.84h6M656.8 323.84h-6M60.8 322.78h6M656.8 322.78h-6M60.8 321.72h6M656.8 321.72h-6M60.8 320.66h6M656.8 320.66h-6M60.8 319.60h6M656.8 319.60h-6M60.8 318.54h6M656.8 318.54h-6M60.8 317.48h6M656.8 317.48h-6M60.8 316.42h6M656.8 316.42h-6M60.8 315.36h6M656.8 315.36h-6M60.8 314.30h6M656.8 314.30h-6" stroke="#8a8a8a" stroke-width="0.8" fill="none"/><path d="M60.8 340.80h11.5M656.8 340.80h-11.5M60.8 330.20h11.5M656.8 330.20h-11.5M60.8 319.60h11.5M656.8 319.60h-11.5" stroke="#6e6e6e" stroke-width="0.9" fill="none"/>
<rect x="60.8" y="355.0" width="596.0" height="39.9" fill="none" stroke="#6e6e6e" stroke-width="1"/>
<path d="M74.05 355.0v1.8M74.05 394.9v-1.8M87.30 355.0v1.8M87.30 394.9v-1.8M100.55 355.0v1.8M100.55 394.9v-1.8M113.80 355.0v1.8M113.80 394.9v-1.8M127.05 355.0v1.8M127.05 394.9v-1.8M140.30 355.0v1.8M140.30 394.9v-1.8M153.55 355.0v1.8M153.55 394.9v-1.8M166.80 355.0v1.8M166.80 394.9v-1.8M180.05 355.0v1.8M180.05 394.9v-1.8M193.30 355.0v3.6M193.30 394.9v-3.6M206.55 355.0v1.8M206.55 394.9v-1.8M219.80 355.0v1.8M219.80 394.9v-1.8M233.05 355.0v1.8M233.05 394.9v-1.8M246.30 355.0v1.8M246.30 394.9v-1.8M259.55 355.0v1.8M259.55 394.9v-1.8M272.80 355.0v1.8M272.80 394.9v-1.8M286.05 355.0v1.8M286.05 394.9v-1.8M299.30 355.0v1.8M299.30 394.9v-1.8M312.55 355.0v1.8M312.55 394.9v-1.8M325.80 355.0v3.6M325.80 394.9v-3.6M339.05 355.0v1.8M339.05 394.9v-1.8M352.30 355.0v1.8M352.30 394.9v-1.8M365.55 355.0v1.8M365.55 394.9v-1.8M378.80 355.0v1.8M378.80 394.9v-1.8M392.05 355.0v1.8M392.05 394.9v-1.8M405.30 355.0v1.8M405.30 394.9v-1.8M418.55 355.0v1.8M418.55 394.9v-1.8M431.80 355.0v1.8M431.80 394.9v-1.8M445.05 355.0v1.8M445.05 394.9v-1.8M458.30 355.0v3.6M458.30 394.9v-3.6M471.55 355.0v1.8M471.55 394.9v-1.8M484.80 355.0v1.8M484.80 394.9v-1.8M498.05 355.0v1.8M498.05 394.9v-1.8M511.30 355.0v1.8M511.30 394.9v-1.8M524.55 355.0v1.8M524.55 394.9v-1.8M537.80 355.0v1.8M537.80 394.9v-1.8M551.05 355.0v1.8M551.05 394.9v-1.8M564.30 355.0v1.8M564.30 394.9v-1.8M577.55 355.0v1.8M577.55 394.9v-1.8M590.80 355.0v3.6M590.80 394.9v-3.6M604.05 355.0v1.8M604.05 394.9v-1.8M617.30 355.0v1.8M617.30 394.9v-1.8M630.55 355.0v1.8M630.55 394.9v-1.8M643.80 355.0v1.8M643.80 394.9v-1.8" stroke="#6e6e6e" stroke-width="0.9" fill="none"/>
<path d="M60.8 394.50h6M656.8 394.50h-6M60.8 393.96h6M656.8 393.96h-6M60.8 393.48h6M656.8 393.48h-6M60.8 393.05h6M656.8 393.05h-6M60.8 390.24h6M656.8 390.24h-6M60.8 388.59h6M656.8 388.59h-6M60.8 387.42h6M656.8 387.42h-6M60.8 386.51h6M656.8 386.51h-6M60.8 385.77h6M656.8 385.77h-6M60.8 385.15h6M656.8 385.15h-6M60.8 384.61h6M656.8 384.61h-6M60.8 384.13h6M656.8 384.13h-6M60.8 383.70h6M656.8 383.70h-6M60.8 380.89h6M656.8 380.89h-6M60.8 379.24h6M656.8 379.24h-6M60.8 378.07h6M656.8 378.07h-6M60.8 377.16h6M656.8 377.16h-6M60.8 376.42h6M656.8 376.42h-6M60.8 375.80h6M656.8 375.80h-6M60.8 375.26h6M656.8 375.26h-6M60.8 374.78h6M656.8 374.78h-6M60.8 374.35h6M656.8 374.35h-6M60.8 371.54h6M656.8 371.54h-6M60.8 369.89h6M656.8 369.89h-6M60.8 368.72h6M656.8 368.72h-6M60.8 367.81h6M656.8 367.81h-6M60.8 367.07h6M656.8 367.07h-6M60.8 366.45h6M656.8 366.45h-6M60.8 365.91h6M656.8 365.91h-6M60.8 365.43h6M656.8 365.43h-6M60.8 365.00h6M656.8 365.00h-6M60.8 362.19h6M656.8 362.19h-6M60.8 360.54h6M656.8 360.54h-6M60.8 359.37h6M656.8 359.37h-6M60.8 358.46h6M656.8 358.46h-6M60.8 357.72h6M656.8 357.72h-6M60.8 357.10h6M656.8 357.10h-6M60.8 356.56h6M656.8 356.56h-6M60.8 356.08h6M656.8 356.08h-6M60.8 355.65h6M656.8 355.65h-6" stroke="#6a6a6a" stroke-width="0.8" fill="none"/><path d="M60.8 393.05h11.5M656.8 393.05h-11.5M60.8 383.70h11.5M656.8 383.70h-11.5M60.8 374.35h11.5M656.8 374.35h-11.5M60.8 365.00h11.5M656.8 365.00h-11.5M60.8 355.65h11.5M656.8 355.65h-11.5" stroke="#6e6e6e" stroke-width="0.9" fill="none"/>
<text x="59.6" y="21.422" font-size="9.0" text-anchor="end" fill="#1a1a1a" stroke="#1a1a1a" >700</text>
<text x="59.6" y="28.922" font-size="9.0" text-anchor="end" fill="#1a1a1a" stroke="#1a1a1a" >600</text>
<text x="59.6" y="36.722" font-size="9.0" text-anchor="end" fill="#1a1a1a" stroke="#1a1a1a" >500</text>
<text x="59.6" y="44.722" font-size="9.0" text-anchor="end" fill="#1a1a1a" stroke="#1a1a1a" >400</text>
<text x="59.6" y="52.722" font-size="9.0" text-anchor="end" fill="#1a1a1a" stroke="#1a1a1a" >300</text>
<text x="59.6" y="80.52199999999999" font-size="9.0" text-anchor="end" fill="#1a1a1a" stroke="#1a1a1a" >10</text>
<text x="59.6" y="101.02199999999999" font-size="9.0" text-anchor="end" fill="#1a1a1a" stroke="#1a1a1a" >1</text>
<text x="56.4" y="109.1" font-size="8.6" text-anchor="end" fill="#1a1a1a" stroke="#1a1a1a" >10</text>
<text x="56.6" y="105.4" font-size="5.2" text-anchor="start" fill="#1a1a1a" stroke="#1a1a1a" >6</text>
<text x="56.4" y="120.6" font-size="8.6" text-anchor="end" fill="#1a1a1a" stroke="#1a1a1a" >10</text>
<text x="56.6" y="116.9" font-size="5.2" text-anchor="start" fill="#1a1a1a" stroke="#1a1a1a" >5</text>
<text x="56.4" y="132.6" font-size="8.6" text-anchor="end" fill="#1a1a1a" stroke="#1a1a1a" >10</text>
<text x="56.6" y="128.9" font-size="5.2" text-anchor="start" fill="#1a1a1a" stroke="#1a1a1a" >4</text>
<text x="59.6" y="149.02200000000002" font-size="9.0" text-anchor="end" fill="#1a1a1a" stroke="#1a1a1a" >20</text>
<text x="59.6" y="156.122" font-size="9.0" text-anchor="end" fill="#1a1a1a" stroke="#1a1a1a" >18</text>
<text x="59.6" y="164.02200000000002" font-size="9.0" text-anchor="end" fill="#1a1a1a" stroke="#1a1a1a" >16</text>
<text x="59.6" y="171.722" font-size="9.0" text-anchor="end" fill="#1a1a1a" stroke="#1a1a1a" >14</text>
<text x="59.6" y="179.52200000000002" font-size="9.0" text-anchor="end" fill="#1a1a1a" stroke="#1a1a1a" >12</text>
<text x="59.6" y="195.52200000000002" font-size="9.0" text-anchor="end" fill="#1a1a1a" stroke="#1a1a1a" >1</text>
<text x="59.6" y="212.02200000000002" font-size="9.0" text-anchor="end" fill="#1a1a1a" stroke="#1a1a1a" >0.1</text>
<text x="59.6" y="228.52200000000002" font-size="9.0" text-anchor="end" fill="#1a1a1a" stroke="#1a1a1a" >0.01</text>
<text x="59.6" y="235.52200000000002" font-size="9.0" text-anchor="end" fill="#1a1a1a" stroke="#1a1a1a" >14</text>
<text x="59.6" y="245.52200000000002" font-size="9.0" text-anchor="end" fill="#1a1a1a" stroke="#1a1a1a" >10</text>
<text x="59.6" y="256.022" font-size="9.0" text-anchor="end" fill="#1a1a1a" stroke="#1a1a1a" >6</text>
<text x="59.6" y="266.022" font-size="9.0" text-anchor="end" fill="#1a1a1a" stroke="#1a1a1a" >2</text>
<text x="59.6" y="277.522" font-size="9.0" text-anchor="end" fill="#1a1a1a" stroke="#1a1a1a" >90</text>
<text x="59.6" y="294.522" font-size="9.0" text-anchor="end" fill="#1a1a1a" stroke="#1a1a1a" >0</text>
<text x="59.6" y="311.022" font-size="9.0" text-anchor="end" fill="#1a1a1a" stroke="#1a1a1a" >-90</text>
<text x="59.6" y="323.522" font-size="9.0" text-anchor="end" fill="#1a1a1a" stroke="#1a1a1a" >300</text>
<text x="59.6" y="334.022" font-size="9.0" text-anchor="end" fill="#1a1a1a" stroke="#1a1a1a" >200</text>
<text x="59.6" y="344.522" font-size="9.0" text-anchor="end" fill="#1a1a1a" stroke="#1a1a1a" >100</text>
<text x="59.6" y="353.522" font-size="9.0" text-anchor="end" fill="#1a1a1a" stroke="#1a1a1a" >0</text>
<text x="59.6" y="361.222" font-size="9.0" text-anchor="end" fill="#1a1a1a" stroke="#1a1a1a" >1000</text>
<text x="59.6" y="368.222" font-size="9.0" text-anchor="end" fill="#1a1a1a" stroke="#1a1a1a" >100</text>
<text x="59.6" y="377.62199999999996" font-size="9.0" text-anchor="end" fill="#1a1a1a" stroke="#1a1a1a" >10</text>
<text x="59.6" y="386.62199999999996" font-size="9.0" text-anchor="end" fill="#1a1a1a" stroke="#1a1a1a" >1</text>
<text x="59.6" y="397.522" font-size="9.0" text-anchor="end" fill="#1a1a1a" stroke="#1a1a1a" >0.1</text>
<text x="30" y="36.5" font-size="10" text-anchor="middle" fill="#1a1a1a" stroke="#1a1a1a" transform="rotate(-90 30 36.5)">V<tspan font-size="5.6" dy="2.4">R</tspan><tspan dy="-2.4"> [km/s]</tspan></text>
<text x="31.5" y="80.4" font-size="10" text-anchor="middle" fill="#1a1a1a" stroke="#1a1a1a" transform="rotate(-90 31.5 80.4)">n [cm<tspan font-size="5.6" dy="-4">-3</tspan><tspan dy="4">]</tspan></text>
<text x="31.2" y="120.2" font-size="10" text-anchor="middle" fill="#1a1a1a" stroke="#1a1a1a" transform="rotate(-90 31.2 120.2)">Temp [K]</text>
<text x="31.2" y="163.6" font-size="10" text-anchor="middle" fill="#1a1a1a" stroke="#1a1a1a" transform="rotate(-90 31.2 163.6)">Entropy</text>
<text x="18.2" y="205.9" font-size="10" text-anchor="middle" fill="#1a1a1a" stroke="#1a1a1a" transform="rotate(-90 18.2 205.9)">Pressure</text>
<text x="33.4" y="205.3" font-size="10" text-anchor="middle" fill="#1a1a1a" stroke="#1a1a1a" transform="rotate(-90 33.4 205.3)">[nPa]</text>
<text x="32.0" y="248.9" font-size="10" text-anchor="middle" fill="#1a1a1a" stroke="#1a1a1a" transform="rotate(-90 32.0 248.9)">|B| [nT]</text>
<text x="31.5" y="289.2" font-size="10" text-anchor="middle" fill="#1a1a1a" stroke="#1a1a1a" transform="rotate(-90 31.5 289.2)">Theta<tspan font-size="5.5" dy="2.2">RTN</tspan></text>
<text x="31.5" y="330.9" font-size="10" text-anchor="middle" fill="#1a1a1a" stroke="#1a1a1a" transform="rotate(-90 31.5 330.9)">Phi<tspan font-size="5.5" dy="2.2">RTN</tspan></text>
<text x="9.2" y="374.4" font-size="10" text-anchor="middle" fill="#1a1a1a" stroke="#1a1a1a" transform="rotate(-90 9.2 374.4)">SEPT</text>
<text x="20.8" y="374.9" font-size="10" text-anchor="middle" fill="#1a1a1a" stroke="#1a1a1a" transform="rotate(-90 20.8 374.9)">[(cm<tspan font-size="6" dy="-4">2</tspan><tspan dy="4"> s sr</tspan></text>
<text x="32.2" y="374.7" font-size="10" text-anchor="middle" fill="#1a1a1a" stroke="#1a1a1a" transform="rotate(-90 32.2 374.7)">MeV)<tspan font-size="6" dy="-4">-1</tspan><tspan dy="4">]</tspan></text>
<text x="0.8" y="406.3" font-size="10" text-anchor="start" fill="#1a1a1a" stroke="#1a1a1a" >Date</text>
<text x="0.8" y="415.7" font-size="10" text-anchor="start" fill="#1a1a1a" stroke="#1a1a1a" >2018</text>
<text x="0.8" y="427.1" font-size="10" text-anchor="start" fill="#1a1a1a" stroke="#1a1a1a" >DOY</text>
<text x="0.8" y="437.6" font-size="10" text-anchor="start" fill="#1a1a1a" stroke="#1a1a1a" >Lon [Deg]</text>
<text x="0.8" y="447.8" font-size="10" text-anchor="start" fill="#1a1a1a" stroke="#1a1a1a" >Lat [Deg]</text>
<text x="0.8" y="458.5" font-size="10" text-anchor="start" fill="#1a1a1a" stroke="#1a1a1a" >R [AU]</text>
<text x="60.5" y="406.3" font-size="10" text-anchor="middle" fill="#1a1a1a" stroke="#1a1a1a" >Nov 01</text>
<text x="60.5" y="427.1" font-size="10" text-anchor="middle" fill="#1a1a1a" stroke="#1a1a1a" >305</text>
<text x="60.5" y="437.6" font-size="10" text-anchor="middle" fill="#1a1a1a" stroke="#1a1a1a" >-103.6</text>
<text x="60.5" y="447.8" font-size="10" text-anchor="middle" fill="#1a1a1a" stroke="#1a1a1a" >4.7</text>
<text x="60.5" y="458.5" font-size="10" text-anchor="middle" fill="#1a1a1a" stroke="#1a1a1a" >0.9</text>
<text x="193.0" y="406.3" font-size="10" text-anchor="middle" fill="#1a1a1a" stroke="#1a1a1a" >Nov 11</text>
<text x="193.0" y="427.1" font-size="10" text-anchor="middle" fill="#1a1a1a" stroke="#1a1a1a" >315</text>
<text x="193.0" y="437.6" font-size="10" text-anchor="middle" fill="#1a1a1a" stroke="#1a1a1a" >-102.9</text>
<text x="193.0" y="447.8" font-size="10" text-anchor="middle" fill="#1a1a1a" stroke="#1a1a1a" >5.7</text>
<text x="193.0" y="458.5" font-size="10" text-anchor="middle" fill="#1a1a1a" stroke="#1a1a1a" >0.9</text>
<text x="325.5" y="406.3" font-size="10" text-anchor="middle" fill="#1a1a1a" stroke="#1a1a1a" >Nov 21</text>
<text x="325.5" y="427.1" font-size="10" text-anchor="middle" fill="#1a1a1a" stroke="#1a1a1a" >325</text>
<text x="325.5" y="437.6" font-size="10" text-anchor="middle" fill="#1a1a1a" stroke="#1a1a1a" >-102.2</text>
<text x="325.5" y="447.8" font-size="10" text-anchor="middle" fill="#1a1a1a" stroke="#1a1a1a" >6.4</text>
<text x="325.5" y="458.5" font-size="10" text-anchor="middle" fill="#1a1a1a" stroke="#1a1a1a" >1.0</text>
<text x="458.0" y="406.3" font-size="10" text-anchor="middle" fill="#1a1a1a" stroke="#1a1a1a" >Dec 01</text>
<text x="458.0" y="427.1" font-size="10" text-anchor="middle" fill="#1a1a1a" stroke="#1a1a1a" >335</text>
<text x="458.0" y="437.6" font-size="10" text-anchor="middle" fill="#1a1a1a" stroke="#1a1a1a" >-101.5</text>
<text x="458.0" y="447.8" font-size="10" text-anchor="middle" fill="#1a1a1a" stroke="#1a1a1a" >7.0</text>
<text x="458.0" y="458.5" font-size="10" text-anchor="middle" fill="#1a1a1a" stroke="#1a1a1a" >1.0</text>
<text x="590.5" y="406.3" font-size="10" text-anchor="middle" fill="#1a1a1a" stroke="#1a1a1a" >Dec 11</text>
<text x="590.5" y="427.1" font-size="10" text-anchor="middle" fill="#1a1a1a" stroke="#1a1a1a" >345</text>
<text x="590.5" y="437.6" font-size="10" text-anchor="middle" fill="#1a1a1a" stroke="#1a1a1a" >-100.8</text>
<text x="590.5" y="447.8" font-size="10" text-anchor="middle" fill="#1a1a1a" stroke="#1a1a1a" >7.3</text>
<text x="590.5" y="458.5" font-size="10" text-anchor="middle" fill="#1a1a1a" stroke="#1a1a1a" >1.0</text>
<path d="M472.9 134.7H484.3" stroke="#1b8bd5" stroke-width="2"/>
<text x="487.8" y="137.6" font-size="8.95" text-anchor="start" fill="#1a1a1a" stroke="#1a1a1a" >ADAPT-WSA-ENLIL</text>
<path d="M577.9 134.2H589.3" stroke="#f4b62a" stroke-width="2"/>
<text x="592.9" y="137.6" font-size="8.95" text-anchor="start" fill="#1a1a1a" stroke="#1a1a1a" >WSA-ENLIL</text>
<text x="656.8" y="360.8" font-size="7.4" text-anchor="start" fill="#1a1a1a" stroke="#1a1a1a" >Energy [keV]</text>
<text x="659.7" y="366.70000000000005" font-size="5.8" text-anchor="start" fill="#5468c4" stroke="#5468c4" >84.1 - 92.7</text>
<text x="659.7" y="372.32000000000005" font-size="5.8" text-anchor="start" fill="#4fc2f2" stroke="#4fc2f2" >110 - 118.6</text>
<text x="659.7" y="377.94000000000005" font-size="5.8" text-anchor="start" fill="#5cb04a" stroke="#5cb04a" >155.8 - 174.6</text>
<text x="659.7" y="383.56000000000006" font-size="5.8" text-anchor="start" fill="#a3cc4c" stroke="#a3cc4c" >219.5 - 246.4</text>
<text x="659.7" y="389.18000000000006" font-size="5.8" text-anchor="start" fill="#f6a05a" stroke="#f6a05a" >312 - 350.7</text>
<text x="659.7" y="394.80000000000007" font-size="5.8" text-anchor="start" fill="#f04858" stroke="#f04858" >438.1 - 496.4</text>
</svg></body></html>
